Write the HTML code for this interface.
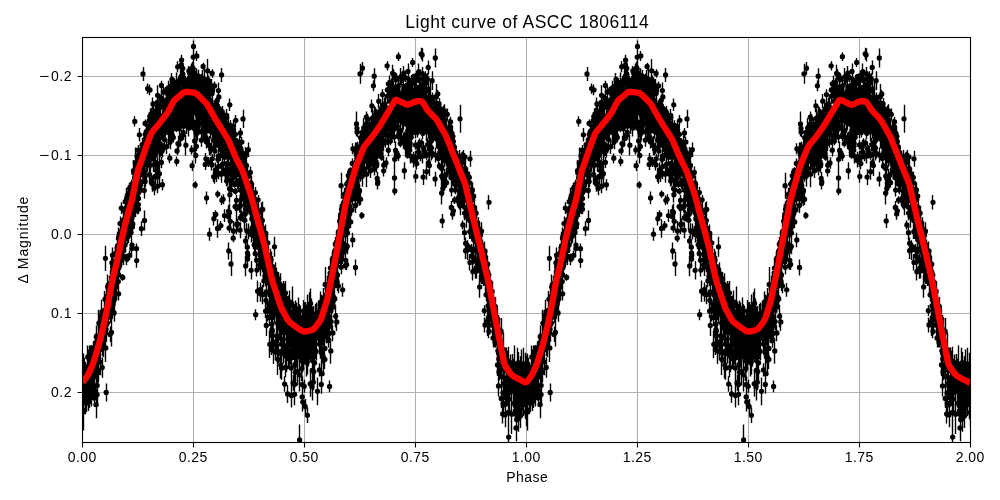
<!DOCTYPE html>
<html><head><meta charset="utf-8"><style>
html,body{margin:0;padding:0;background:#fff;}
body{width:1000px;height:500px;position:relative;overflow:hidden;font-family:"Liberation Sans",sans-serif;color:#000;}
div{will-change:transform;}
.xt{position:absolute;top:449px;width:80px;text-align:center;font-size:14px;line-height:16px;letter-spacing:0.5px;text-indent:0.5px;}
.yt{position:absolute;left:0;width:72px;text-align:right;font-size:14px;line-height:20px;letter-spacing:0.5px;}
.mn{display:inline-block;transform:scaleX(1.25);transform-origin:100% 50%;margin-left:2px;margin-right:1.5px;letter-spacing:0}
.title{position:absolute;left:326.5px;width:400px;top:11.5px;text-align:center;font-size:17.5px;line-height:20px;letter-spacing:0.55px;text-indent:0.55px;}
.xl{position:absolute;left:426.5px;width:200px;top:468px;text-align:center;font-size:14px;line-height:18px;letter-spacing:0.5px;text-indent:0.5px;}
.yl{position:absolute;left:-77px;top:231px;width:200px;text-align:center;font-size:14px;line-height:18px;transform:rotate(-90deg);letter-spacing:0.9px;text-indent:0.9px;}
</style></head><body>
<svg width="1000" height="500" viewBox="0 0 1000 500" style="position:absolute;left:0;top:0"><path d="M82.5 37.5V442.5M193.5 37.5V442.5M304.5 37.5V442.5M415.5 37.5V442.5M526.5 37.5V442.5M637.5 37.5V442.5M748.5 37.5V442.5M859.5 37.5V442.5M970.5 37.5V442.5M82.5 76.5H970.5M82.5 155.5H970.5M82.5 234.5H970.5M82.5 313.5H970.5M82.5 392.5H970.5" stroke="#b0b0b0" stroke-width="1.1" fill="none"/><clipPath id="c"><rect x="82.5" y="37.5" width="888.0" height="405.0"/></clipPath><g clip-path="url(#c)"><path d="M183.5 67.6v20.6M223.5 194.3v10M436.5 84v24.3M382.5 119.9v11.4M256.5 206.9v13.5M230.5 214.9v12.8M348.5 211.7v10.2M165.5 126.3v10.5M381.5 108v10.4M500.5 329.1v26.6M192.5 68.3v9.1M378.5 94.1v14.3M125.5 239.2v11.3M278.5 293.5v16.6M476.5 206v14.3M392.5 122.8v9.3M227.5 124.8v12.1M408.5 91v9.8M180.5 85.7v18.8M118.5 287.1v13.4M153.5 113.8v10.6M233.5 151.7v16.5M289.5 306.9v16.2M200.5 106v11.1M444.5 125.2v14.5M168.5 98.7v10.8M139.5 179.7v7.5M348.5 179.4v11M462.5 151.5v22.6M349.5 192.2v11.5M404.5 87.9v15.1M464.5 193.2v14.1M495.5 314.7v19.5M325.5 301.7v17.5M498.5 346.9v24.3M302.5 315.9v19.4M204.5 93.9v15.6M283.5 308.5v21.2M377.5 111.3v11.7M229.5 128.7v12.5M196.5 68.3v14.4M233.5 143.4v12.6M197.5 77.1v9.5M240.5 153.2v9.5M84.5 360.4v19.1M361.5 136.8v11.4M207.5 105.9v13.8M112.5 257.6v26.7M160.5 140.1v15.8M217.5 104.2v16.8M149.5 122.5v9.9M179.5 100.7v8.1M293.5 301.6v28M195.5 147.3v16.3M214.5 81.4v8.7M206.5 116.8v12.9M198.5 80.1v15.1M296.5 306.2v32.5M176.5 107.6v6.6M302.5 337.2v35.6M191.5 113.9v12.8M454.5 145.2v12.1M162.5 142.6v13.9M465.5 187.2v10.1M161.5 117.8v8M415.5 109.6v11.7M353.5 184.5v14.2M175.5 99.5v9.9M419.5 111.2v8.5M193.5 59.5v19M120.5 216.5v13.8M356.5 154.6v7.9M364.5 146.3v9.7M159.5 139.1v8.9M192.5 118v12.3M386.5 104.4v15.5M118.5 227.4v21.8M272.5 309.3v16.3M221.5 107.5v13.1M161.5 118.5v8M175.5 120.1v9.4M468.5 184.2v18.6M278.5 309.4v10.9M250.5 203.5v11.1M205.5 89.4v22.5M511.5 365.4v23.1M108.5 296.3v20.1M263.5 235.2v15.5M157.5 157.3v12.1M189.5 112.9v11.4M428.5 91.4v11.9M172.5 113.4v20.5M327.5 301.5v21.2M245.5 201.5v15.6M307.5 312v21.3M230.5 169.9v6.7M208.5 97.1v14.4M207.5 88.7v9M120.5 225.9v17.2M296.5 328.3v18.4M474.5 208.3v23.7M503.5 382.1v21.6M136.5 243.5v10.4M414.5 100v10.5M157.5 127.3v12.7M229.5 143.9v11.5M250.5 188.3v8.3M236.5 194.8v11.1M311.5 323v26.7M86.5 367.8v44.2M270.5 254.5v15.3M472.5 202.2v20M121.5 253.1v12.8M297.5 322.2v15.8M429.5 108.9v12.2M510.5 356.2v24.2M396.5 85.3v12M204.5 104.6v6.1M380.5 128.1v14.3M236.5 153.9v14.8M423.5 108.8v11.8M382.5 103.4v14.3M211.5 98v24M465.5 180.3v15.4M349.5 213.9v14.6M235.5 152.1v11M421.5 105.4v16.4M123.5 214.6v13.2M523.5 369.3v40.6M427.5 113.7v10.2M468.5 212.4v10.6M157.5 123.7v11.5M319.5 308.9v39.1M271.5 288.1v25.1M154.5 125.6v13M156.5 116.4v9.5M197.5 126v14.5M501.5 388.9v19.2M520.5 358.8v28.3M394.5 84.4v12.1M403.5 116.4v13.4M407.5 88v16.5M312.5 315.3v24.8M161.5 143v13M472.5 207v14M473.5 223.4v12.7M397.5 93v16M517.5 393.4v23.8M306.5 313.3v21.6M418.5 63.6v16.3M356.5 164.4v17.9M133.5 159.9v21.6M222.5 128.5v15.2M112.5 290.4v23.7M476.5 227.4v15.7M92.5 378.3v19.6M321.5 327.7v23.9M161.5 86.9v22.9M147.5 132.9v15.2M156.5 126.9v20.6M471.5 217.5v13.1M302.5 376.2v16.8M233.5 156.7v18.8M324.5 336.8v23.1M217.5 118.4v9.7M247.5 192.1v9M391.5 90.3v10.7M135.5 205.5v8.1M419.5 101.8v12.7M474.5 217.1v25M293.5 332.6v26.5M276.5 303.8v12.2M146.5 144.5v14.4M270.5 267.9v23.1M421.5 91.3v13M266.5 314.9v21.1M357.5 177.7v15.6M101.5 299.7v24.5M180.5 67.2v24.2M172.5 114.7v10.2M102.5 327.7v19.5M178.5 98.8v10.4M366.5 122.2v32.4M372.5 141v6.7M235.5 153.2v15M98.5 335.7v20.8M275.5 281.8v18.2M158.5 121.1v13.1M271.5 269.5v24.9M248.5 179.8v15.1M180.5 94.7v10M456.5 159.1v15.2M390.5 94.7v13.3M291.5 341.4v22.4M259.5 223.8v9.4M130.5 186v20.5M350.5 202.3v15.8M306.5 306.3v21.6M484.5 264.5v21.2M512.5 362.3v21.2M441.5 124.7v8.9M467.5 205.8v14M248.5 199.4v9.2M295.5 346.2v19.7M318.5 308.5v19.2M445.5 143.1v9.3M149.5 123.7v10.9M181.5 99.9v7.2M210.5 114.2v17.6M456.5 153v7.6M371.5 121.6v12.4M511.5 360.2v32M367.5 127.8v16.9M449.5 136.7v7.3M382.5 100.1v14M166.5 139.3v14.7M177.5 100.2v11.5M465.5 187.2v15.7M230.5 140.6v14.9M387.5 87v6M286.5 308.1v19.9M87.5 364.8v37.1M447.5 130.4v22.1M220.5 124.7v11.4M232.5 128v10M114.5 274.5v18.1M359.5 147.8v18.1M428.5 115.5v13.2M294.5 308.1v42.1M425.5 104.1v9.2M322.5 323.9v17.8M415.5 126.4v11.9M245.5 161.6v12.2M471.5 180.8v17M285.5 300.7v22.3M133.5 180.8v8.1M516.5 360.9v30.1M284.5 319.3v14.6M416.5 121.3v10.4M117.5 241.8v12.3M441.5 126.6v11.6M149.5 84.5v10.8M137.5 165.7v15.3M205.5 114.2v11.8M271.5 259.1v19.5M297.5 323.9v36.9M272.5 271.4v25.8M97.5 362.4v16.1M347.5 181.9v14.9M411.5 96.1v19.6M328.5 335.4v10M496.5 319.5v22.3M176.5 156.6v9.6M157.5 167.7v18.1M413.5 114.7v13.8M198.5 79.3v18.3M132.5 207.6v17.3M386.5 157.2v11.6M507.5 356.3v17.4M228.5 127.7v6.9M167.5 89.6v9.4M143.5 138.9v19.6M501.5 347v21.6M155.5 124.2v19.6M438.5 132.5v9.2M176.5 88.4v9.2M465.5 237.4v11.8M107.5 274.6v24.3M251.5 192.5v12.2M260.5 230v19.8M515.5 377.4v17.2M481.5 245.2v17M253.5 203.2v21M271.5 254.9v31.6M400.5 106.7v26.1M366.5 153.8v14.9M479.5 226.3v13.2M387.5 126.2v18.7M311.5 323.4v12.9M482.5 239.7v18.6M229.5 181.6v14M245.5 236v9.9M238.5 156.9v10.1M299.5 337.2v15.6M283.5 308.2v19.8M223.5 123.9v19.3M190.5 83.2v24.7M192.5 96.7v17.5M436.5 124.6v11.7M253.5 200.4v12.9M517.5 347.7v47.9M265.5 253.9v27.5M392.5 102.4v10.6M218.5 134.3v11.4M449.5 164.4v14.1M177.5 119.5v6M204.5 105.7v7.8M212.5 116v10.1M139.5 156.1v12.9M415.5 170.2v12.5M274.5 264.8v18.3M138.5 166.6v15.7M320.5 308.7v22.8M299.5 335.2v32.6M306.5 348.8v27.8M398.5 128.3v11.9M112.5 275.4v22.8M300.5 320v16.8M105.5 245.7v25.2M375.5 113.7v8.3M157.5 85.2v20.2M160.5 100.7v12.7M247.5 177.6v24.1M407.5 131.7v16.2M136.5 159.1v12.4M427.5 120.9v12.4M272.5 291.4v19.1M438.5 128.5v19.6M159.5 146.6v9.6M483.5 255.1v20.7M405.5 89.1v20.5M103.5 308.7v38.8M295.5 359.6v25.4M111.5 295.5v18.4M403.5 103.1v8.4M243.5 186.5v18.6M426.5 90.7v15.9M474.5 229.7v6.1M160.5 94.6v7.8M442.5 141.9v13.9M253.5 217.3v12M252.5 219.5v17.8M373.5 123.2v13.8M515.5 391.5v26M385.5 115.3v11.3M180.5 107.3v18.1M131.5 199.2v19.7M213.5 122.4v11.4M111.5 290.5v28.6M502.5 343.3v25.6M149.5 112.1v9M230.5 184.2v11.4M319.5 363.3v13.2M390.5 105.6v13.9M210.5 124v14.6M378.5 109.3v13.5M154.5 141.7v7.5M236.5 163.3v10.1M485.5 275.2v8.7M406.5 135.2v10.5M287.5 306.3v25.5M285.5 357.7v19.5M412.5 76.9v13M259.5 215.4v14.7M274.5 271.9v12.9M334.5 245.7v13.9M331.5 303.4v13.7M286.5 319.3v23.1M149.5 132.7v14.5M410.5 99.2v8.4M154.5 134.6v9.1M441.5 159.6v14.3M336.5 313.1v17.9M498.5 326.6v18.6M267.5 260.1v25.1M374.5 153.9v9.6M115.5 268.9v19.8M217.5 94.4v12.1M154.5 117v16.9M379.5 138.2v11M136.5 176.3v18.4M303.5 320.1v26.1M194.5 98.2v6M157.5 108.9v9.8M443.5 121.4v14.6M190.5 97.8v9.9M117.5 248.7v22.5M176.5 116.4v12.2M399.5 98.7v7.1M357.5 175.3v14.5M460.5 184.2v15.6M218.5 82.5v16.2M464.5 185.5v16.4M194.5 133.4v15.4M461.5 177.2v16.4M146.5 151v10.8M494.5 307.1v32.4M333.5 250.7v19.3M285.5 298.7v12.4M261.5 230.8v8.5M250.5 180.7v18.9M152.5 146.7v14.5M362.5 135.5v15.1M240.5 128.1v9.8M473.5 219.2v16.1M137.5 171.7v14.1M290.5 351.4v12.3M342.5 229.9v12.3M406.5 83.3v10.6M373.5 139.6v6M271.5 318.9v11M407.5 79.4v11.1M397.5 94.5v14M251.5 204.9v13.2M272.5 265.6v15.6M239.5 152.3v12.1M427.5 137.8v13.6M145.5 153v10.2M444.5 104.3v13.4M343.5 212.1v17.2M247.5 179.8v14.5M512.5 358.6v34.5M127.5 221.9v14M300.5 316.6v23.3M491.5 309.5v12.2M215.5 118.9v9.8M286.5 328.6v43.7M205.5 111.7v8M336.5 248.6v8.9M320.5 322.6v19.4M457.5 174.1v13.3M188.5 119.4v17.2M418.5 140.1v13.8M511.5 365.5v28.1M463.5 181v9.8M91.5 345.1v38.9M259.5 232.1v22.5M195.5 99.2v17.4M299.5 306.5v20.9M339.5 211.9v18.4M113.5 297.3v14M414.5 90.5v10.2M171.5 122.6v14.5M287.5 310.5v23.7M364.5 143.2v10M487.5 270.1v15.4M234.5 153.8v16.4M377.5 174.2v15.3M98.5 362.5v20.1M110.5 282.3v19.4M271.5 343.9v11.1M344.5 204.6v15.5M208.5 81.3v11.5M412.5 77.1v12.8M224.5 128.2v12.7M202.5 97.4v18.6M391.5 109.7v14M397.5 97.9v11.7M141.5 221.2v14.8M125.5 215.9v14.7M451.5 141v9.4M205.5 158.8v11.3M484.5 246.9v8.3M336.5 264.5v17.9M349.5 203.2v12.8M84.5 365.2v29.4M333.5 292.3v12.4M469.5 177.2v11.6M523.5 365.4v22.9M251.5 179.6v10.6M157.5 110.5v7M483.5 265.5v15.6M266.5 237.8v11.7M283.5 295.9v30.4M290.5 344.3v20.1M325.5 294.5v19.8M109.5 290.9v22.9M89.5 389.8v18.2M423.5 169.2v15.8M363.5 145.8v11.5M257.5 206.9v22.5M373.5 148.4v15.2M398.5 105.5v17.4M211.5 142.4v11.4M256.5 254.8v11M192.5 84.7v12.7M345.5 223.3v10.8M410.5 116.8v12.5M352.5 192.4v12.8M195.5 95.5v11.3M367.5 113.7v10.5M265.5 266.3v20M280.5 307.1v35.6M428.5 158.6v8.3M480.5 243.9v12M211.5 159.4v11.1M243.5 170v28.5M300.5 316.5v17.4M259.5 217.5v25.9M246.5 159.5v11.7M413.5 113.9v11.5M372.5 117.4v12M224.5 125.8v8.6M364.5 143.6v15.6M385.5 136.2v11.6M277.5 284.8v12.4M198.5 78.6v15.3M465.5 242.5v16.5M85.5 362v25.2M401.5 92.7v16.2M441.5 168.6v14.9M176.5 103.4v9.2M335.5 249.4v30.5M216.5 168.6v12.4M355.5 179.4v12.4M266.5 278.4v27M278.5 298.8v22.2M416.5 -9.5v10.5M324.5 315.6v24.8M205.5 90.5v8.3M411.5 101.2v19.4M330.5 293.2v9.9M219.5 114.7v13.6M347.5 203.1v9.6M412.5 85.7v11.9M110.5 284.4v15M155.5 159.9v9.9M239.5 144.8v14.7M193.5 49.2v15.7M104.5 319.3v21.9M489.5 270.9v21.8M409.5 103.5v10.8M268.5 261.3v16.9M149.5 123.7v17.9M410.5 108.3v8.9M334.5 285.6v23.6M221.5 195.6v9.4M106.5 308.8v19.2M419.5 138.3v11.7M176.5 81.9v8.8M201.5 133.7v13M185.5 82.6v12M333.5 253.4v24.8M211.5 119.7v13.6M130.5 204.8v18.9M469.5 254.3v16.2M159.5 126.2v23.2M178.5 115.9v13M411.5 83.7v10.5M331.5 285.4v12.4M155.5 107.4v10M219.5 113.5v12.7M377.5 119v12.3M214.5 100.3v22.5M310.5 318.7v22.1M331.5 272.9v18.7M500.5 337.6v36.4M358.5 149.5v18.1M209.5 111v16.2M133.5 189.8v9M348.5 220.2v11.9M327.5 306.7v16.7M417.5 147.8v18.3M83.5 353.4v42.2M149.5 148.2v11.6M337.5 246.6v21.2M394.5 116.6v17.7M479.5 232.4v16.1M423.5 118.4v12.5M353.5 164.7v18.5M232.5 150.1v14.3M189.5 94.9v9.3M201.5 94.7v12.7M361.5 148.5v13.4M135.5 204.2v12.7M263.5 245.2v14.3M235.5 128.2v12.3M135.5 185.5v10M450.5 116.8v9.9M452.5 208.4v11.4M194.5 103.2v8.2M122.5 242.6v11.3M360.5 166.2v9.8M173.5 93v15.7M341.5 249v11.9M255.5 218v23.8M464.5 180.9v10.6M220.5 220.9v9.5M118.5 228.2v17M244.5 168.8v14.9M483.5 254.2v18M147.5 151.2v14.3M416.5 157.7v11.8M282.5 297.3v22M333.5 248.9v17.7M479.5 223.5v11.5M482.5 244.1v10.1M276.5 288.4v12.9M208.5 115.8v9.8M181.5 107.4v14.5M356.5 164.5v11.4M344.5 205.9v24.7M313.5 306v21.3M218.5 124.3v9.3M274.5 277.7v13.5M325.5 292.1v17.8M94.5 356.1v29.5M111.5 277.6v16.7M99.5 329.8v23.8M454.5 162.8v10.4M357.5 143.9v8.4M221.5 135.5v6M472.5 248.4v15M126.5 213.3v12.9M169.5 101.8v15.6M228.5 137.2v15.7M241.5 158.9v10.6M324.5 294.1v22.5M116.5 247.3v16.1M199.5 97.5v8.8M307.5 320.8v18.8M419.5 109.4v12.1M361.5 162.2v17.2M524.5 364.3v20.7M225.5 165.6v9.1M357.5 187.3v10M508.5 373.2v38M281.5 301.2v19.2M154.5 137.4v11.1M184.5 81.1v9.7M137.5 180.9v11.1M293.5 309.4v18.1M513.5 358.8v17.3M472.5 182.2v15.4M347.5 186.2v21.9M498.5 375.2v21.3M118.5 274.7v13.8M373.5 118.1v14.5M343.5 207v14.7M369.5 132v17.2M197.5 80.7v11.2M407.5 119.3v23.1M319.5 333.6v20.9M511.5 363.3v38M315.5 322.9v19.3M461.5 176.4v12.9M156.5 129.9v13.4M425.5 91.9v10.1M410.5 98.5v20.2M372.5 132.3v6.8M178.5 92.4v14.6M119.5 243.6v11.7M244.5 160.6v14.4M107.5 305.3v17.2M289.5 290.4v22.9M409.5 124v14.1M305.5 334v17.8M186.5 91.1v12.9M362.5 149.7v7M410.5 100.6v10.5M195.5 119.9v17.6M228.5 118.1v18.8M174.5 106.9v17.4M283.5 322.2v20.2M267.5 254.8v21.6M120.5 217.6v12.1M198.5 104.9v12M113.5 265.5v14.8M213.5 134.9v10.6M251.5 191.8v10.7M451.5 134.1v17.2M494.5 307.4v29M402.5 95.4v8.6M481.5 222.2v18M446.5 137.7v14.9M106.5 316.7v25.1M483.5 253.9v16.1M341.5 215.9v15.6M157.5 124.5v15.1M505.5 394.8v19.1M155.5 147.6v14.6M169.5 110.7v8.4M351.5 187.6v13.8M410.5 99.7v18M281.5 356.7v23M285.5 286.8v22.1M295.5 314.6v16.1M283.5 298.7v24.4M90.5 352.1v39.7M338.5 233.7v22.9M395.5 89.6v11.9M376.5 156.2v16M328.5 298.4v17M239.5 135.2v14.6M416.5 85.7v8.5M163.5 98.2v7.8M346.5 243v10.1M410.5 95.3v12M335.5 237.1v14.1M455.5 149.2v18.9M146.5 125.7v12.5M444.5 125.9v17.4M459.5 171.5v16.3M251.5 177.7v16.1M150.5 130.9v17.5M347.5 238.2v16.1M197.5 80.9v10.9M393.5 117.2v9.1M222.5 119v9.1M401.5 107.3v10.5M255.5 203.9v18.7M293.5 306.3v31.2M259.5 238.4v9.1M105.5 317.4v15.8M155.5 156.3v12.5M212.5 69.2v8.5M422.5 148.4v15.2M82.5 386.4v22.9M419.5 102.5v10.7M300.5 323.5v15.4M379.5 118.6v10.1M231.5 174.4v16M217.5 138.9v6.5M506.5 358v45.3M479.5 250.4v16.3M366.5 126.7v10.3M237.5 149.6v14.8M126.5 215.6v9.7M111.5 254.1v17.3M204.5 110.4v12.6M408.5 82.7v16.3M197.5 103.9v10.1M197.5 89.9v10.6M316.5 318.5v22.6M424.5 80.5v10.3M518.5 369.2v45.8M335.5 239.5v20.8M369.5 118.3v12M230.5 122.1v12.4M148.5 125.6v16.6M361.5 153.2v14.9M150.5 137.2v14.9M379.5 107.6v17.1M106.5 283.1v27M387.5 107.2v7.2M170.5 89.7v6M373.5 114v14.5M455.5 144.4v17.1M236.5 165.5v12.2M140.5 159.8v11.7M202.5 97.7v12.6M237.5 180.1v8.7M513.5 371.1v35.4M244.5 172v9.2M389.5 75.5v17.8M202.5 106.2v11.5M192.5 92.2v9.4M256.5 263.5v13.1M355.5 197.2v15.8M344.5 201.6v14.3M260.5 233.3v16.5M163.5 86.5v11.3M452.5 144.1v11M330.5 257.7v20.8M346.5 205.1v7.1M406.5 88v17.5M176.5 82.2v7.5M504.5 360.1v20.7M433.5 118.6v9.9M435.5 116.3v9.9M414.5 74.1v15.7M173.5 123.8v9.5M371.5 137.1v10.5M190.5 96.5v27.5M317.5 311.5v28M478.5 246.3v12.2M319.5 327.5v20M111.5 280v19.2M413.5 153.3v14.1M429.5 100.7v9.5M377.5 178.7v9.5M116.5 274.5v25.2M209.5 117.8v12.5M263.5 274.4v12.8M365.5 134.6v15.4M446.5 149.6v13.3M251.5 181.1v22.1M247.5 249.7v11.1M169.5 114.8v23.9M105.5 305.1v19.1M389.5 115.5v21.9M276.5 294.1v15.6M338.5 247v9.9M393.5 68.9v10.9M260.5 256v20M459.5 175v18M295.5 342.9v20.2M321.5 316.5v20.6M444.5 120v20.2M215.5 138.8v13.1M407.5 151.7v7M202.5 102.2v17.3M420.5 91.1v11.2M354.5 159.9v11.2M507.5 376.3v20.9M292.5 321.8v22.3M405.5 73.2v8.8M111.5 299.7v12M400.5 114.9v11.6M322.5 298v11.3M184.5 86.2v9.8M438.5 121.4v14.4M170.5 104.2v11.4M368.5 160.5v13.3M121.5 230.2v18.5M334.5 254.6v9.1M133.5 176.2v26.4M487.5 273.6v15.3M182.5 78.5v10.5M337.5 231.9v19.7M280.5 288.5v23.4M251.5 213.7v10.4M346.5 220.4v10.3M322.5 295.4v14.8M509.5 365.4v23M124.5 231.3v16.1M133.5 188.7v9.3M251.5 199.7v10.4M276.5 279.6v34.3M444.5 137.6v7.9M159.5 119.7v13.6M92.5 350.8v17.5M393.5 95.8v9.9M280.5 298.3v12.7M495.5 297.1v19.2M102.5 326.2v29.7M294.5 304v25.6M242.5 212v9.9M269.5 285.9v18M176.5 124.8v7.5M464.5 206.6v13M153.5 151.1v14.9M142.5 147.3v10M349.5 191.4v15.1M109.5 279.6v17.2M236.5 161.7v12.3M385.5 105.7v11.2M400.5 139.7v7.6M374.5 118.7v22.6M144.5 167.9v19.1M91.5 368.8v20.6M370.5 149.4v9.9M251.5 175.5v15.1M327.5 298.9v25.4M139.5 157.5v12.5M145.5 130.6v7.7M155.5 126.9v13.3M398.5 110.5v12M173.5 101v11.5M176.5 101.5v18.5M445.5 127.4v12.5M248.5 223.4v16.1M442.5 130.1v14.2M338.5 230.6v19.3M241.5 178.1v11.4M291.5 350.3v35.7M261.5 202.5v14.4M324.5 309.5v22.3M478.5 217.3v23M357.5 170.6v14M340.5 214.7v12.7M362.5 159.8v18.7M89.5 345.5v24.6M184.5 112v13.1M516.5 414.5v26.7M411.5 96.8v11.8M329.5 307.3v19.2M468.5 209.5v13.2M289.5 310.9v21.7M484.5 317.5v15.1M377.5 121.4v22.9M296.5 314.3v31.8M398.5 151.1v10M288.5 313.3v16.1M388.5 107.8v17.8M103.5 315.1v30M340.5 226.3v10.2M217.5 219.2v18.5M422.5 103.4v12.4M212.5 154.1v9.3M349.5 185.1v12.9M303.5 317.5v26.1M525.5 359.2v32.2M469.5 199.1v34.3M121.5 235.4v17.9M487.5 297.4v17M422.5 96.3v19.3M131.5 236.3v17.9M414.5 97.5v12.9M490.5 284.6v19.8M215.5 210.2v8.3M150.5 126.1v14.2M246.5 167.7v9.7M301.5 349v23.3M274.5 293.8v20.1M166.5 94.8v10.2M518.5 405.9v25.9M160.5 127.9v14.4M215.5 128.7v11M192.5 98.3v9.7M109.5 288.2v13.2M261.5 230.4v15.3M188.5 76.3v17.6M230.5 164.7v12.8M130.5 203.7v12.8M466.5 188.9v11.3M431.5 136.5v8.1M89.5 362.7v36.2M96.5 344v20.2M378.5 116v10.5M202.5 116.6v10.7M240.5 166.1v11M297.5 316.8v21.2M502.5 342.7v21M135.5 182.7v12.8M241.5 189.5v13.7M421.5 98v18.6M344.5 209.7v11.8M244.5 210.3v20M309.5 317.2v18.7M237.5 146.9v10.5M390.5 86.8v19M90.5 354.4v28.4M298.5 308.1v19.4M159.5 127.7v10.1M166.5 120.3v11M216.5 103.8v7.5M178.5 95.3v17.4M132.5 184.4v10.9M208.5 112.9v16.3M421.5 112.6v10.3M341.5 201.2v16.4M425.5 71.2v10.4M454.5 196.3v7.8M400.5 102.6v11.7M173.5 132.3v10.2M214.5 169.6v14.2M415.5 95.2v11.3M356.5 111.6v24.6M362.5 172.7v6.1M468.5 209.5v10.7M188.5 90.3v9.3M202.5 92.6v7.7M373.5 135.8v8.3M459.5 199v10.5M87.5 351.4v35M487.5 267.1v29.6M201.5 73.8v16.8M226.5 132.2v10.3M367.5 118.9v16.1M111.5 274.3v22.1M290.5 314.3v25M442.5 128.3v19.6M302.5 392.5v19.1M349.5 168.8v14.7M399.5 83v21.2M361.5 139v19.6M477.5 252.4v12.7M191.5 93.8v18.5M272.5 295.7v23.8M457.5 169.3v15.4M237.5 157.8v10.8M276.5 294.1v16.1M351.5 190.6v10.9M238.5 168.6v8.2M206.5 92v19.2M313.5 321.4v23.1M161.5 121.8v11.5M258.5 195v9.7M177.5 146.7v8.4M137.5 185.6v18.1M513.5 373.7v20.8M448.5 129.8v13.7M508.5 362.8v15.8M267.5 233.1v19.8M198.5 69.8v15.2M482.5 256.5v14.6M195.5 75.1v8.7M273.5 270.8v27M358.5 158.9v16.9M176.5 78.1v15M298.5 315v20.1M433.5 106.4v12.8M348.5 206.4v17.5M230.5 133.7v9.2M146.5 132.2v11.6M281.5 320.1v14M289.5 325.4v18.4M205.5 123v9.5M255.5 232.5v16.7M251.5 261.1v18.3M131.5 190.6v10.2M436.5 121.8v26.5M351.5 186.9v14M196.5 114.5v14.5M329.5 326.4v13.9M245.5 158.1v16.2M176.5 91v10.2M206.5 80.1v10.4M339.5 233.6v12.7M215.5 162.4v15.2M366.5 139.8v18.2M464.5 162.2v15.3M410.5 99v16.3M475.5 215.2v13.5M474.5 201.9v11M416.5 104.8v11.5M298.5 344.4v14.8M179.5 91.3v11.8M253.5 190v16.4M134.5 168v19.7M134.5 195.8v13.5M214.5 116.8v10.3M234.5 181v6.8M144.5 155.5v13.7M358.5 193.4v10.2M96.5 390.7v27.6M457.5 151.1v16.2M131.5 226.8v11.5M300.5 314.9v28.6M434.5 117.1v19.9M295.5 316.7v22.4M204.5 127.1v12.8M436.5 117.7v11.2M171.5 119.6v9.5M511.5 361.8v16.2M370.5 135.2v15.2M93.5 353v21.9M508.5 366.4v29.4M465.5 174.3v19.2M172.5 85.6v9.8M517.5 364.3v32.6M269.5 261.9v13.5M311.5 298.4v21.6M262.5 285v19.2M247.5 199.5v14.8M412.5 117.1v9.1M424.5 145.3v13.3M446.5 167.4v14.6M424.5 110.2v6M147.5 127.9v8.1M105.5 318.4v14M216.5 169.9v6M229.5 129.8v12.3M254.5 209.9v7.1M335.5 251.9v6M204.5 89.4v7.1M250.5 192v22.4M178.5 77.9v13.4M259.5 218.3v15.7M281.5 318.2v28.9M326.5 296.6v14.3M165.5 117.3v16.3M499.5 324.4v18.9M140.5 152.1v10M437.5 110.8v13.9M190.5 87.7v13.5M228.5 205.3v12.1M477.5 228.8v14M287.5 307.5v27.6M494.5 312.7v15.7M88.5 371.8v38.7M327.5 280.7v26.4M306.5 335.4v23.1M418.5 147v10M145.5 130.6v14.3M180.5 103.9v12.4M455.5 166.9v14.1M416.5 101v8M343.5 197.9v15.5M169.5 86.4v24.9M311.5 328.6v21.2M274.5 295.2v13.9M500.5 327.6v36.1M429.5 87.2v23.1M115.5 263.4v18.4M150.5 133.3v12.3M475.5 233.1v13.8M373.5 127.3v22.9M291.5 328.2v31.7M116.5 272.7v9M185.5 135.1v20.3M441.5 113.3v14.5M344.5 190.5v13.7M248.5 142.6v14.3M83.5 360.9v30.6M290.5 312.7v21.7M143.5 164.6v14.3M152.5 110.5v11.1M177.5 61.3v11M172.5 76.8v11.1M269.5 256v18.1M333.5 278.2v10.8M449.5 149.1v16M95.5 341.5v15.8M109.5 281v25.8M269.5 295.3v17.4M423.5 106.9v13.1M195.5 88.4v8.2M521.5 364.2v26.2M372.5 124.3v14.5M112.5 247.6v15M485.5 258.5v7.5M283.5 313.7v35.3M439.5 139.5v10.4M403.5 91.8v15M210.5 114.7v11.7M301.5 333.4v30.8M100.5 330.8v21.6M232.5 130.7v14.1M408.5 90v13M421.5 99.3v7M269.5 330.6v27.4M507.5 388.2v16.2M333.5 253.8v23.4M351.5 172v16.7M186.5 102.2v11.7M180.5 133.3v10.5M325.5 297.6v17.5M324.5 308.2v19.5M363.5 138.2v24.3M127.5 212.2v17.9M207.5 114.7v10.9M196.5 101v11.3M299.5 313.9v15.5M343.5 212.7v22.2M273.5 336.5v17.3M476.5 230.5v14.6M265.5 229.6v14M320.5 291.6v22M136.5 177v12.9M304.5 317.6v18.5M505.5 402.3v24.9M478.5 235v22.1M88.5 384.5v26.6M330.5 275.2v20.6M445.5 115v11M185.5 92.9v12.3M111.5 300.7v19.1M477.5 224.1v15.3M299.5 424.6v30.8M198.5 103.3v9M198.5 101.3v11.2M252.5 184.1v17.3M180.5 75.2v12.1M192.5 86.2v10.6M351.5 177.3v22.3M492.5 295.6v14.3M369.5 133.3v17.7M320.5 301.9v18.6M153.5 157.7v14.2M462.5 175.3v13.1M463.5 193.1v8.4M469.5 224.2v14.7M160.5 115v8.2M94.5 389v18.1M294.5 383.4v21.9M283.5 301.9v15.1M400.5 124.1v12.9M466.5 184.8v13.5M301.5 315.2v18.6M426.5 110.7v15.2M176.5 112.4v14M192.5 77.8v8.9M255.5 201.1v8.5M465.5 176.8v10.9M159.5 140.6v20.9M453.5 134.4v14.2M152.5 97.6v12.7M152.5 117.4v13.3M243.5 150.8v12.1M294.5 318.1v16.2M463.5 177.9v10.6M344.5 213.8v10.4M211.5 109v9.9M150.5 126.4v12.2M336.5 270.1v16.1M424.5 95.9v15.8M278.5 271.9v14.2M182.5 67.6v13.1M216.5 100.4v18.7M282.5 307.4v19.5M470.5 201.2v27.4M486.5 249.7v27.8M129.5 221v14.6M114.5 262v26.2M209.5 135.9v19.2M315.5 304v26.4M507.5 356v22.9M422.5 67.1v13.9M220.5 149.6v11.4M91.5 385.1v18.6M370.5 138.2v16M409.5 143.4v13.4M466.5 177.6v6M464.5 185.3v12M408.5 110.9v12.9M327.5 285.2v18.1M251.5 210.1v17.4M228.5 158.8v12.1M432.5 92.6v10.2M348.5 185.9v9.4M422.5 124.3v14.8M187.5 103.9v14.7M135.5 147.5v30.8M86.5 364.6v16.7M116.5 265.8v17.8M243.5 180.4v13.2M493.5 307.9v23.1M226.5 114.3v19.1M96.5 358.5v23M283.5 330.1v18.3M366.5 127.8v19M126.5 187.7v20.8M313.5 374.2v16.1M210.5 143v12.5M191.5 84.3v15.4M94.5 378.3v23.6M297.5 310.4v28.8M102.5 326.8v21.2M121.5 238.3v23.8M347.5 204v10.7M361.5 145.8v6.9M465.5 177.2v15.7M301.5 356.7v24.3M448.5 159.9v8.5M162.5 144.6v12.9M322.5 299.7v17.5M493.5 300.5v23.6M111.5 276.1v15.4M432.5 114.3v16.2M153.5 120.2v15.9M320.5 328.1v30.6M470.5 211.5v13.4M230.5 132.5v12M183.5 87.2v11.4M221.5 143v12.2M183.5 88.7v14.4M312.5 319.7v29.6M129.5 182.7v11.4M161.5 115.8v13.1M428.5 97.9v16.7M180.5 72.4v11.5M380.5 134.3v11.6M281.5 334.5v19.6M131.5 217.6v10M179.5 95.2v10.3M424.5 89.3v7.9M480.5 246v19.6M387.5 120.1v17M303.5 324.9v16.4M514.5 389.6v27M168.5 80.7v14.3M118.5 254.5v21.8M177.5 90.6v11.6M298.5 337.9v15.8M412.5 96.8v15M303.5 320.5v20.7M440.5 130.9v12.1M392.5 94.2v9.5M122.5 226.8v17.4M449.5 149.5v13.7M232.5 138.4v17.6M325.5 267v34.7M236.5 143.4v13.5M195.5 70.9v11.6M264.5 226.1v18.5M407.5 88.7v11.7M372.5 131v10.2M444.5 169v18.3M168.5 96.1v14.2M258.5 219.6v15.8M92.5 373.8v14.8M292.5 328.5v24.6M203.5 92.6v19.9M319.5 326.6v22.8M393.5 105.6v13.4M497.5 319.5v19.2M98.5 334.3v27.9M340.5 211v12.9M510.5 370.5v19.4M236.5 201.2v10.6M487.5 265.1v14.5M231.5 141.6v15.5M409.5 141.8v8.7M264.5 230.7v17.2M364.5 144.8v20.8M379.5 139.7v7.4M146.5 125.1v13.8M163.5 122v16.5M311.5 342.1v19.6M153.5 125.7v11.5M450.5 119.2v15.2M368.5 142.1v16.5M118.5 249.3v14.9M437.5 130.7v12.6M464.5 177.7v16.2M85.5 372.2v16.3M125.5 205.3v15.4M149.5 147.2v11.6M121.5 237v17.4M370.5 137.5v11.6M509.5 359.3v30.8M405.5 103.3v11.3M110.5 287.2v13.4M480.5 237.3v22.2M234.5 124.2v19.8M288.5 299.5v31.4M401.5 89.9v13.5M343.5 216.1v14.7M169.5 114.6v13.2M183.5 78.7v11.3M142.5 143.1v13M194.5 79.2v8.8M312.5 318.4v28M132.5 194.4v11.1M472.5 216.6v11.3M442.5 114.1v14.5M422.5 118.8v6.3M331.5 301.4v10.8M390.5 89.6v9.5M207.5 135.2v8.7M489.5 288.3v21.5M458.5 170.9v14.9M367.5 137.9v11.3M168.5 102.9v18M340.5 252.7v15.2M243.5 165.9v11.3M171.5 105.5v8.7M294.5 344.7v39.9M360.5 155v8.5M252.5 225.9v7M170.5 136.7v11.1M218.5 126.8v9M336.5 238.1v28.4M361.5 143.7v17M230.5 136.2v18.7M455.5 167.2v18M270.5 270.6v12.3M330.5 338.3v25.4M439.5 98v11.5M475.5 222.4v15.3M292.5 286.4v38.7M417.5 104.6v8.5M154.5 113.5v16.2M340.5 219.2v19.5M479.5 276.2v21.5M352.5 166.4v27.1M272.5 320.4v21.1M451.5 183.7v12.8M196.5 98.1v13.6M392.5 113.9v11M437.5 106.7v8.4M188.5 66.1v9.9M412.5 94.7v16.6M229.5 164.5v8.6M198.5 70.1v13.1M220.5 129.4v8.3M307.5 315v22M476.5 264v14.5M230.5 126.7v14.2M426.5 163.6v16.1M335.5 260.7v18.8M385.5 107.4v9.8M510.5 357.3v35.4M139.5 128.1v13.4M299.5 317.9v27.1M226.5 130.4v12.1M310.5 370.8v26M233.5 234.3v8M473.5 190.5v11.5M138.5 204.5v9.4M315.5 318.9v16.5M379.5 123.2v9.5M451.5 126.2v14.1M412.5 105.4v9.9M340.5 233.6v14M291.5 317.2v18.8M431.5 138.5v18.9M225.5 140.9v14.3M161.5 80.7v9.6M123.5 247.5v17.6M394.5 100.7v13.3M201.5 126.8v10M487.5 262.7v17M150.5 137.1v10M306.5 333v22M438.5 125.3v8.7M398.5 88.8v12.1M92.5 354.8v41.2M418.5 96.1v13.4M505.5 386.6v15.1M185.5 83.7v12.6M451.5 166v11.4M335.5 260.8v14.3M185.5 96.1v10.6M516.5 370.9v33M489.5 315.2v19.5M436.5 124.7v7.5M83.5 376.9v22M378.5 124.9v20.8M280.5 298.6v25.6M200.5 78.5v6.7M460.5 168.9v13.6M157.5 119.4v19.1M137.5 198.9v12.1M349.5 170v18.8M363.5 158.3v20.1M428.5 114.4v22.2M211.5 79v17.2M375.5 133.9v14.9M408.5 115.9v17.7M510.5 354.4v31.9M417.5 106.8v8M211.5 118.6v12.6M278.5 306.9v17.6M198.5 83v10.1M250.5 185v14.6M151.5 173.1v13.4M393.5 96.3v13.2M152.5 113.2v10.6M428.5 101v13.9M266.5 262.7v18M280.5 285.5v10.9M508.5 367.9v23.3M394.5 109.5v12.5M103.5 311.1v35.1M345.5 201.3v8.4M435.5 125.3v13.3M312.5 347.3v19.4M328.5 333.3v14.4M424.5 97.6v17.1M430.5 82v30.9M227.5 135.9v10.8M173.5 103.2v17.1M332.5 324.7v16.6M216.5 165.8v16.1M442.5 170.9v14M429.5 148.9v10.9M509.5 366.2v26.2M123.5 216.3v10.1M402.5 87.8v14.8M226.5 124.4v9.5M477.5 226.7v13.5M99.5 329.3v31.6M245.5 170.5v7.3M262.5 228.8v14.3M397.5 119.7v13.3M157.5 139.1v17.2M417.5 114.8v12M121.5 202.2v11.9M323.5 294.1v24.8M347.5 184.1v9.6M373.5 123.9v12.9M409.5 98.3v10.6M219.5 110.1v8.9M267.5 259.3v13M338.5 247v12.8M245.5 162.7v11.5M221.5 133.1v13.7M518.5 352.4v23M83.5 375.1v23M205.5 125.2v12.8M150.5 149.6v9.2M268.5 246v18.9M472.5 203.7v8M362.5 62v12.4M497.5 336.6v13.6M123.5 230.5v14.7M519.5 381.1v32.7M453.5 205.9v9.7M475.5 221.7v18M283.5 281.1v21.1M404.5 89.4v15.9M126.5 208.7v9.4M522.5 371.6v24.9M147.5 136v15.7M295.5 352v10.9M284.5 334.6v23.7M144.5 152v13.4M148.5 153.7v8.4M277.5 290.8v15.7M228.5 242.4v17.2M321.5 324.9v23.1M337.5 247.4v15.9M407.5 108.5v15.7M356.5 146.2v15M288.5 324.3v21.7M330.5 274.7v19.8M382.5 122.7v16.2M197.5 106.7v6M408.5 90.7v13.5M382.5 105.6v12.9M371.5 122.9v20.7M201.5 79.1v14.9M218.5 169.2v9.4M379.5 139.2v10.4M106.5 301.8v19.4M229.5 131.3v13.7M252.5 198v14.2M138.5 172v7.8M363.5 146.1v12.3M520.5 363.8v18.4M492.5 294.5v24.5M112.5 276v15.9M319.5 317.8v19.2M233.5 163v8.6M369.5 159.5v11.2M439.5 128.5v9.2M95.5 353.8v20.9M332.5 262.7v17.7M186.5 85.3v15.6M255.5 235.5v11.6M296.5 308.4v14.7M378.5 112.1v18.9M256.5 234.1v8.9M449.5 143.7v13.1M242.5 170.3v10.8M192.5 95.2v14.6M299.5 324.6v18.6M513.5 362.9v23.3M155.5 168.2v16.6M116.5 268.5v18.3M148.5 158.9v8.8M476.5 223v13.4M400.5 112.5v11.7M431.5 113.5v17.1M421.5 139.2v7.7M227.5 136.2v11.1M260.5 282.5v14M236.5 214.2v19.9M314.5 343.9v19.4M118.5 245.7v14M314.5 318.2v23.2M278.5 343.7v19.3M337.5 262.5v24.6M499.5 363.7v16.6M264.5 232.1v30M155.5 105.1v15.3M134.5 169.5v17.1M212.5 83.6v19.9M199.5 98.3v6.3M310.5 336.6v15.1M315.5 324.2v20.6M429.5 99.8v18.8M318.5 306.5v19.9M509.5 362.3v22.8M380.5 130.5v11.2M325.5 293.6v15.5M455.5 155.6v9.8M504.5 367v33M170.5 95.9v9M494.5 337.3v9.6M480.5 229.2v12.2M346.5 199.6v19.2M320.5 303.7v17.9M288.5 295.4v18.3M406.5 92.5v14.1M346.5 217v11.1M334.5 241.5v20.3M481.5 245.5v13.9M479.5 220.9v18.7M268.5 271.6v11.9M398.5 76.5v19.7M120.5 235.9v13.2M307.5 307.6v30.5M240.5 158.2v7.7M391.5 101.9v18M272.5 276.1v16.5M332.5 265.9v11.7M313.5 337.6v19.3M411.5 129.4v15.5M281.5 309.7v14.7M105.5 303.3v29.7M256.5 214v9.6M376.5 109v15.9M382.5 105v8.2M371.5 119.4v14.2M411.5 103.5v12.4M138.5 144.9v10.6M204.5 67.7v23.4M357.5 185.1v8.7M454.5 156.7v7.3M394.5 104.4v15.4M162.5 120.9v11.5M189.5 85.1v17.3M375.5 116v12.1M452.5 127.4v18.2M330.5 276.3v29.2M277.5 296.5v20.6M156.5 142.8v12.7M127.5 207.4v13.4M219.5 139.3v11.5M398.5 106.2v12.5M157.5 112v20.1M273.5 264.4v10.3M510.5 360.2v31.8M445.5 122.1v13M480.5 260.1v13.1M343.5 217.5v16M426.5 83.3v14.1M258.5 211.8v16.6M423.5 102v14.2M329.5 293.6v14.2M227.5 170.3v15.4M362.5 153.2v8.9M509.5 371.7v42.1M115.5 251.6v26.4M350.5 216.1v11.8M260.5 246.3v17.1M168.5 113.3v11.5M159.5 161.8v23.7M290.5 326.9v17.7M234.5 166.2v11.6M104.5 291v16.6M193.5 86.2v8.1M266.5 266.3v16.3M268.5 270.9v20.8M182.5 77.3v14.1M254.5 228v9.5M330.5 279.9v24.5M164.5 113.2v14M344.5 197.7v17.2M456.5 161.2v12.7M279.5 294.9v14M171.5 103.1v8.1M235.5 163.1v12.3M508.5 391.5v41.9M348.5 168.7v14.1M452.5 143.9v20.7M473.5 204.1v21.4M331.5 288.7v18.4M380.5 118.6v11.6M262.5 225.1v13.9M237.5 218.9v12.6M294.5 314v23.8M256.5 200.2v12.5M330.5 270.2v24.4M520.5 356.3v34.7M437.5 123.1v10.1M480.5 260.5v21.9M198.5 98.9v13.4M226.5 147.5v11.8M253.5 190.9v11.8M330.5 280.8v17.3M99.5 316.7v38.2M479.5 230.9v12.8M429.5 155.1v20.9M431.5 145.9v14.7M137.5 170.6v11.3M146.5 156.3v16.7M265.5 294.7v11.2M472.5 227.3v12.3M114.5 267.4v20.1M112.5 292.8v20.1M416.5 107.5v8M430.5 90.5v25.7M309.5 292.3v23.9M297.5 317.3v22.6M158.5 124.8v13M164.5 114.9v12.4M148.5 149.1v11.1M196.5 141.9v9.2M464.5 152.9v7.8M342.5 282.9v13.8M354.5 164.2v14.1M226.5 175.6v10.8M301.5 314.9v16.8M445.5 145v8.1M362.5 161.5v11.1M208.5 157v10M166.5 98.6v14.6M243.5 109.7v18.4M224.5 112.2v10.6M136.5 161.7v12.3M224.5 123.9v12.6M191.5 79.2v11.9M451.5 149.2v8.6M155.5 129.1v10.4M309.5 319.8v22.2M422.5 96.3v10.7M215.5 101.4v7.7M165.5 105.3v9.6M356.5 173.8v12.2M262.5 224.8v14.4M300.5 328.8v16.4M123.5 230.7v16.1M178.5 79.8v12.4M423.5 115.3v20.5M520.5 369.2v20.5M221.5 165.6v17.2M235.5 202.3v8.6M294.5 317.1v13.6M294.5 328.7v26.6M234.5 152.6v10.8M203.5 101.7v14.5M158.5 134.7v8.8M442.5 126.6v16M202.5 92.1v7.3M259.5 214.1v26.1M255.5 200.5v27M372.5 108.5v19.3M152.5 144.7v15.5M453.5 165.8v11.8M146.5 133.7v16.6M370.5 163.3v14.8M471.5 243.9v11.8M209.5 124.9v7.9M207.5 97.6v11.8M439.5 137.6v14.4M381.5 108.5v10.9M153.5 110.7v8.6M163.5 117.4v9.8M494.5 322.5v18.8M464.5 194.3v26M431.5 115.5v12M259.5 218.2v17.1M209.5 125.7v7.2M183.5 83.4v13.9M436.5 123.7v12.6M151.5 110.9v12.2M261.5 224.2v14.1M516.5 396.1v20.5M205.5 88.5v13.5M366.5 154.8v10.1M386.5 116.8v12.5M489.5 286.6v19M497.5 315.4v30.2M340.5 210.5v23.7M512.5 369.3v12.4M112.5 292.4v17.5M95.5 333.6v28.2M405.5 95.5v11.6M354.5 162.2v18M257.5 210.5v35.9M383.5 165v11.6M452.5 145.9v10.2M383.5 118.5v18.4M399.5 92.2v9.7M372.5 132.9v10.7M283.5 288.1v24.3M286.5 302.4v20.6M179.5 98.6v8M363.5 167.9v10.2M239.5 201.2v11.3M90.5 345.5v49.5M341.5 225.8v18.9M361.5 150.2v18.6M414.5 98v9.5M202.5 69.9v16.9M254.5 237v15.4M523.5 381.1v35.1M193.5 73.8v15.7M250.5 203.7v15M488.5 267.9v25.3M197.5 122.7v12.4M145.5 128.7v19.3M159.5 116.6v14.2M163.5 115.5v10.8M181.5 98.8v11.5M88.5 363v38.1M99.5 328.1v30.4M382.5 89.2v10.8M405.5 101.5v11.9M404.5 85.6v10.2M303.5 334.5v24.3M295.5 314.2v16.7M447.5 108.6v11.3M370.5 156.8v12.6M422.5 81.1v7.5M333.5 292.4v15.8M330.5 264.6v17M458.5 196.8v8.7M364.5 155.9v9.9M357.5 167.7v15.2M170.5 123v13.9M357.5 191.7v9.6M189.5 84v10.9M455.5 174.6v19.7M525.5 352.8v56.6M447.5 139.3v17M300.5 328.4v16.5M276.5 296.8v32.9M465.5 157.8v21.1M137.5 147.9v16.1M390.5 106.9v14.1M178.5 78.1v17.7M477.5 227v13.6M138.5 169v8.7M222.5 121.1v16.2M288.5 318v20.8M191.5 145.3v9.3M451.5 138.5v9.4M521.5 349.6v47.8M99.5 336.9v26.2M271.5 274.5v16M366.5 155.3v7.5M290.5 306.8v20.2M277.5 281.7v11.1M420.5 151.5v9.8M179.5 105.9v11.7M509.5 369.3v23.5M438.5 127.1v11.5M151.5 123.6v7.3M89.5 367.1v30.4M229.5 98.5v12.6M181.5 69.9v12.9M134.5 182v13.7M413.5 73.7v6M121.5 235.1v22.4M227.5 142.4v22M210.5 79.7v10.7M427.5 102.8v12.3M495.5 315.5v32.3M304.5 320.9v17.9M255.5 211.7v14.5M226.5 108.9v13M219.5 110.3v13.1M398.5 132.2v8.7M103.5 329.4v27.6M446.5 147.6v9.9M195.5 127.5v6.6M87.5 361.4v19.9M407.5 90.8v9.9M172.5 116v15.5M277.5 276.1v34.9M231.5 151.6v13.8M323.5 294.2v29.6M245.5 195.5v7M415.5 86.4v9.8M338.5 228.1v16.7M395.5 102.4v13.9M441.5 124.2v7.4M284.5 316.2v13.3M262.5 236.9v15.6M421.5 103.5v16.2M390.5 80.5v14M193.5 97.3v14M473.5 232.5v13.1M482.5 247.3v21.7M429.5 142.3v13.7M198.5 103.8v8.4M410.5 110v8.3M458.5 164.7v15M307.5 407.5v15.4M154.5 143.5v12.3M186.5 79v15.2M376.5 131.5v9.6M135.5 175.2v8.4M183.5 85.5v10.9M127.5 211.7v20.1M311.5 329.6v20.3M164.5 133.1v12.8M187.5 99.2v17.3M477.5 241.5v16.8M442.5 116.7v9.5M193.5 92.2v11.3M237.5 144.6v11.3M149.5 122v8M382.5 99.1v12.1M352.5 184.1v13.8M315.5 327.5v24M512.5 360.3v15.6M228.5 134.1v16.2M350.5 183.4v11.3M178.5 114.3v7.8M396.5 148.3v11M383.5 135.5v15.8M240.5 222.2v16M83.5 357.1v41.6M234.5 144.1v17.7M161.5 116.4v10.8M359.5 186.5v10.5M193.5 95.9v11.8M157.5 125.8v7.1M274.5 306v14.8M328.5 280.4v12.6M173.5 97v10.7M252.5 203.7v19.5M215.5 127.2v8.5M508.5 361.1v13.8M466.5 204.9v22.8M156.5 142.3v6.5M475.5 223v13.4M344.5 243v10.8M227.5 132.4v19M413.5 105.3v10.6M173.5 97.1v19.5M368.5 147.1v15.9M375.5 107.3v10.3M291.5 383.6v23.8M257.5 216v8.2M85.5 380.7v33.5M420.5 114.6v6M350.5 178.7v10.3M402.5 113v12.2M255.5 246.9v13.6M422.5 87.6v6M147.5 135.5v10M427.5 116.1v8.7M247.5 175.4v15.5M368.5 122.6v7.7M148.5 136.5v10.1M350.5 167.2v18.2M490.5 286.9v15.7M418.5 104.3v9.3M418.5 104v19.5M422.5 127v12.3M151.5 131.4v11.6M207.5 58.9v23.9M402.5 98v8.6M135.5 175.9v13.3M221.5 131.5v14.8M99.5 339.1v20.8M168.5 109.4v15.5M385.5 111.2v12.4M450.5 152.2v11.2M474.5 212.7v9.8M418.5 66.9v12.4M462.5 176.1v10M366.5 161.1v26.1M308.5 311.5v28.6M388.5 143.9v12.6M405.5 106.4v11.9M113.5 285v12.3M456.5 157.3v14.3M297.5 357.3v28.1M327.5 280.6v14.8M271.5 326.5v17.8M367.5 119.9v15M191.5 98.5v7M240.5 162.6v13.4M296.5 326.9v18.2M169.5 113.7v7M346.5 258.9v11.2M286.5 301.3v17.4M426.5 151.1v8.6M435.5 102.2v10.9M405.5 140.8v13.2M297.5 306.6v44.6M328.5 326.2v16.7M214.5 123.4v9.5M225.5 136.6v14.9M125.5 215.3v11.3M481.5 249.9v20.6M260.5 286v15.7M497.5 332.5v11.5M384.5 97.8v12.9M447.5 140.2v13.8M162.5 123.1v15.9M166.5 96.7v13M136.5 253.5v14.2M368.5 150.4v16.6M284.5 310.2v14.6M313.5 337.8v19.9M385.5 129.9v9.8M447.5 150.5v19M365.5 141.7v16.9M422.5 100.7v12.8M93.5 341.2v26.4M156.5 137.9v10.1M466.5 169v13.5M273.5 337.5v26.6M259.5 217.5v12.3M149.5 114.7v11.9M133.5 177.4v13.2M277.5 305.7v18.6M132.5 216.3v15.2M438.5 104.2v10.4M348.5 198.9v12.3M474.5 221.1v20.3M174.5 87.8v8.5M137.5 149.8v13.8M169.5 83.9v12.4M147.5 137.7v15.3M116.5 255v26.4M371.5 152v6.6M381.5 153.9v6.9M199.5 104.2v12.4M275.5 262.3v27.9M267.5 300.2v17.3M373.5 138.2v7.1M493.5 292.5v23.6M156.5 116.6v25M246.5 223.3v15.2M494.5 304.1v20.8M161.5 128.7v10.8M167.5 114.4v10.4M392.5 81.8v11.3M427.5 98.9v12M89.5 379.9v24.1M415.5 82.2v14.6M319.5 319.5v22.9M199.5 88.9v15.4M338.5 278.8v14.4M236.5 198.4v19.8M415.5 102.5v11.6M478.5 227.2v17.8M83.5 363.1v34.6M410.5 106.2v16.5M422.5 48.2v13.4M202.5 115.3v13.7M391.5 129.2v12.9M251.5 202.4v16.9M213.5 111.4v16.4M339.5 228.9v23.5M419.5 109.6v16.3M479.5 232.9v14.5M141.5 158.9v6.9M394.5 150.7v17.2M333.5 256.5v16M421.5 92.2v8.5M449.5 119v18.8M130.5 217.6v11.9M392.5 122.2v10.5M178.5 83.3v6.6M258.5 228.6v15.5M112.5 296v18.1M343.5 234.7v18.6M374.5 162.3v13.3M271.5 305.2v19.2M231.5 134v16.6M184.5 79.5v9.6M191.5 95.8v11.2M260.5 235.7v20.8M451.5 159.5v14.2M142.5 154.2v9.2M92.5 364.2v20.6M521.5 360.4v36.6M443.5 105.4v13.7M441.5 136.1v17.5M430.5 131.9v19.2M408.5 112.8v9.2M406.5 102.8v13M105.5 308.2v18M241.5 191.9v14.6M405.5 105.8v14.5M337.5 273v17.9M306.5 310.1v19.1M106.5 318.8v10.6M404.5 107.8v7.6M173.5 90.2v12.5M308.5 326.1v22.5M515.5 361.8v26.9M296.5 343.5v24.1M383.5 127.7v11.8M249.5 195.4v17.7M366.5 130.6v13.7M131.5 203.2v11M128.5 230.9v9.5M146.5 144.6v12M395.5 72.6v14.2M170.5 123.2v10.1M169.5 115.5v10.9M365.5 126.6v18.5M229.5 131.6v12.5M357.5 166.8v9.9M153.5 110.1v22M135.5 182v15.2M309.5 306.5v25.4M191.5 100.3v7.2M157.5 161.5v12.2M336.5 235.5v23.9M382.5 118.2v17M381.5 123.9v9.1M520.5 397.7v30.3M306.5 336.4v14.8M262.5 201.4v16.2M157.5 123.9v12.8M264.5 233.8v16.6M347.5 209.5v17.9M233.5 168.3v18.8M501.5 361.7v29.6M489.5 290.5v22.2M334.5 288.5v21.1M240.5 213.9v7.7M184.5 74.9v10.7M134.5 194.9v14.7M132.5 194.4v15.8M100.5 322.9v23.9M196.5 72.7v11.8M469.5 212.7v13.3M134.5 188v20.4M304.5 314.6v14.2M230.5 159.6v14M245.5 147.1v17.5M100.5 348.7v26.5M277.5 328.9v19M254.5 191.6v13M521.5 376.4v14.5M508.5 423.7v26.8M492.5 313.2v24.1M341.5 210v17.7M157.5 130.2v10.6M515.5 369.3v18.9M258.5 223.2v8.3M301.5 336.8v22.1M395.5 89.7v17.7M184.5 76.2v9.4M297.5 320.5v22.2M189.5 76v11.3M192.5 99.1v11.6M239.5 158.1v19.2M488.5 271.8v20.7M372.5 116.8v14.9M256.5 236.5v11.8M233.5 138.2v11.6M265.5 304.3v13.6M147.5 83.5v10.2M472.5 195.5v24.6M247.5 178.2v16.4M298.5 310.6v23.9M127.5 219.3v13.5M310.5 327v21.3M524.5 381.2v24.6M130.5 187.5v15.3M199.5 94.5v15M355.5 142.5v16.7M262.5 215v27.3M439.5 139.4v15.8M346.5 225.3v11.9M467.5 176.5v21.1M436.5 96.9v12.1M147.5 153.6v18.5M236.5 166.5v16.4M321.5 338.9v25.8M475.5 221.6v14.3M216.5 116.7v6.3M131.5 179.7v9.4M435.5 113.6v17.3M171.5 92.3v8.2M379.5 110.1v10.8M386.5 122.2v12M187.5 86.7v9.8M457.5 166v18.9M257.5 280.4v21.7M180.5 86.7v14.7M233.5 150.9v9.3M173.5 92.6v13M525.5 371.4v26.6M88.5 381.3v26.4M461.5 186v17.5M395.5 141.5v17.7M332.5 296.7v16.1M181.5 54.7v10.8M224.5 148.8v17M503.5 332.5v34.5M446.5 139v13.9M136.5 186.9v12.4M277.5 344.2v30.8M503.5 394.1v21.8M97.5 377.6v15.6M318.5 315.6v26.7M405.5 106.1v9.4M200.5 82.9v11.4M264.5 235.6v19.8M355.5 174.2v9.7M459.5 188.2v13.2M392.5 99v7.6M183.5 114v9.3M354.5 186.6v12.1M225.5 113.6v10.2M441.5 113.6v9M403.5 65.9v14.5M460.5 196.5v18.7M88.5 383.1v22.7M348.5 185.5v14M148.5 129.2v8.7M475.5 223.9v14.1M358.5 148.6v15.2M192.5 88.9v8.7M229.5 124.9v10.9M428.5 122.6v13.7M307.5 340.8v24.2M216.5 103.8v14.5M523.5 368.4v14.5M472.5 191.9v16M122.5 227.4v13.2M352.5 163.8v17.9M303.5 333.9v27.2M212.5 104.5v17.6M356.5 122.4v11.7M412.5 111.6v14.2M369.5 137.6v7.6M242.5 161v15.8M340.5 249.8v12.3M84.5 359.4v28.5M196.5 99.6v17M366.5 140.6v8.9M370.5 128v13.4M138.5 165.6v10.8M237.5 178.2v7.5M512.5 367.6v19.9M179.5 98.3v13.8M153.5 132.9v16.3M306.5 325.1v29.5M244.5 159.6v9.6M313.5 310.5v29.4M112.5 286.9v16.9M384.5 102.6v21.1M262.5 256.8v15.4M123.5 213.8v11.7M314.5 344v37.6M344.5 187.7v13M222.5 108.1v7.3M187.5 103v11.5M475.5 218.6v16.8M365.5 144.1v15.8M219.5 131.8v14M429.5 123.3v10.5M262.5 249.9v20.1M294.5 306.4v18.1M147.5 151.9v12.1M217.5 111v9M244.5 185.1v10M447.5 137.7v11.6M181.5 118v8.8M313.5 312v15.7M191.5 115.1v14.5M412.5 102.3v7.1M148.5 129.7v7.7M300.5 305.7v24.4M197.5 89.9v18.7M398.5 95.8v11.8M517.5 358.9v36.3M388.5 107.3v9.2M84.5 363.6v28.9M410.5 92.7v10.8M406.5 100.8v10.1M445.5 125.9v21.1M410.5 136.6v13.9M149.5 165v19.4M496.5 324.1v20.3M197.5 113.9v17.7M441.5 138.2v7.9M139.5 178.8v15.8M118.5 260.2v7.1M208.5 110.6v14.8M126.5 221.3v15.8M223.5 123.6v12.4M152.5 140.4v9.4M427.5 99v19.2M469.5 192.9v13.3M342.5 199.7v12.3M187.5 88.5v14.6M100.5 324.8v29.6M124.5 206v8.8M202.5 113.9v13.3M205.5 92.2v7.9M210.5 108.2v14.7M452.5 151.1v10.7M403.5 92.7v14.8M336.5 241.2v24.6M272.5 281.8v15.3M189.5 104.7v7.9M346.5 179.7v8.9M199.5 104.1v13M441.5 158.3v20.2M489.5 273.8v23.6M323.5 312.2v21.2M100.5 318.8v16.1M386.5 113.8v14.7M222.5 159v10.1M116.5 248.2v26M397.5 108.9v9.9M416.5 88v12.8M101.5 306.7v22.3M452.5 136.5v18.8M184.5 94.1v10.4M430.5 124.7v7.9M449.5 140.1v10M328.5 300.2v20.9M349.5 193.1v15.9M496.5 311.4v19.4M152.5 140.3v8.4M312.5 355.2v30.3M247.5 167.2v13.5M91.5 358.2v31.7M127.5 213.8v10.8M235.5 155.9v14.6M462.5 155.4v13.3M460.5 181.5v13.2M222.5 119.6v12.1M403.5 97.4v9.7M342.5 215.9v14.3M451.5 153.7v12.3M424.5 91.9v11.7M223.5 121.2v19.2M469.5 199.4v15.4M386.5 122.5v14.1M137.5 165.9v15.8M120.5 226.7v9.5M109.5 285.5v13.9M437.5 126.6v17.7M304.5 341.1v22.5M125.5 193.8v15.7M369.5 151v10.8M374.5 106v21.3M472.5 201.4v22.9M359.5 192v13.8M526.5 398.9v27.3M327.5 283.1v18.7M285.5 306.1v28.9M443.5 177.6v17.1M199.5 73.8v13.6M192.5 119.1v11.5M403.5 94.6v18.8M384.5 121.6v12.2M178.5 89.4v7.9M330.5 261.9v28.6M121.5 228.3v14.3M463.5 182.6v18.4M512.5 353.9v30.6M255.5 309.3v10.9M465.5 179.3v7.9M459.5 155.8v11.1M245.5 206.7v15.3M189.5 91.2v9.3M338.5 226.6v11.7M253.5 222.9v26M89.5 358.1v39.3M311.5 299.2v24M247.5 242.8v8.8M159.5 140.1v20.7M348.5 201.9v16.5M198.5 117.4v14.3M524.5 376.5v19.4M364.5 144.2v18.3M432.5 113.9v20.7M440.5 108.5v10.8M170.5 97v13.6M469.5 188.4v26.1M442.5 144.5v22.3M346.5 213.9v15.8M462.5 151.6v19.3M264.5 252.7v22.7M192.5 89.6v13M221.5 67.9v14.2M432.5 95.6v9.8M352.5 166.7v12.6M311.5 331.7v14M127.5 198.4v15.2M342.5 209.4v19.9M390.5 137.3v7.9M459.5 156.7v12.4M290.5 314.3v16.7M373.5 150v21M144.5 151.3v8.7M451.5 201v13M499.5 319.3v25.1M142.5 149.3v13.2M356.5 142.4v10M369.5 132.5v12M389.5 120.4v15.8M278.5 291.9v27.7M228.5 211v10.9M206.5 106.5v8.9M338.5 250v10.3M139.5 155.3v11.9M297.5 321.4v25.2M475.5 253.6v14.6M228.5 147.3v15.7M353.5 164.5v16.5M218.5 104v8.5M314.5 327.6v19.7M357.5 126.7v10.5M175.5 100.5v6M437.5 118.3v10.7M213.5 171.3v10.6M519.5 362.1v28.3M245.5 194.3v22.1M96.5 335.4v19.4M350.5 169.1v10.7M466.5 203.3v10.2M312.5 309.9v32.2M472.5 231.4v10.5M277.5 316.2v14.2M321.5 307.3v23.8M261.5 230.4v11.4M173.5 92.6v19.3M468.5 206.7v15.8M300.5 323.7v9.6M395.5 90.5v6.8M385.5 121.1v6.4M160.5 113.1v15.5M100.5 327.3v28.9M148.5 127.9v7.9M92.5 353.3v20.3M185.5 95.3v17.2M254.5 209.4v18.1M179.5 77.6v7.2M432.5 107.6v12.4M205.5 80v14M149.5 142.4v9.6M175.5 80.6v12.3M173.5 93.5v9.1M164.5 103.7v10.9M143.5 157.6v13.7M516.5 404.4v30.4M137.5 155.7v17.3M493.5 304.6v20.8M217.5 134.4v10.8M131.5 200.7v12.2M241.5 175.2v14.4M297.5 331.8v17M371.5 145.9v12.9M515.5 389.6v32.3M352.5 166.9v15.9M387.5 112.2v12.5M166.5 109.4v12.5M275.5 344.1v15.8M422.5 119.8v17.4M163.5 97.4v15.7M157.5 112.3v7.7M377.5 114.4v15.7M331.5 279.9v14.4M179.5 85.6v8.7M232.5 144v15M166.5 93.7v20M157.5 137.8v12.3M355.5 194.2v9.7M110.5 283.8v12.4M224.5 146v10.4M454.5 141v12.7M442.5 180.6v16M177.5 102.2v12M200.5 90.9v9.4M204.5 91.8v13.1M263.5 241v8.1M174.5 78.2v16.5M251.5 180.8v14.4M177.5 109.3v13.2M335.5 305v22.6M220.5 142.2v14.9M128.5 224.7v12.9M116.5 257.5v14.4M418.5 121.5v11.7M193.5 96v14.2M137.5 162.9v9.5M240.5 160.4v12.1M338.5 231.8v23.8M515.5 363v26.5M188.5 94.3v10.4M518.5 352v21.5M259.5 211.3v16.2M126.5 222.9v12.2M116.5 264.6v24.2M114.5 271v19M154.5 137.1v9.2M119.5 238.1v12.8M164.5 108.6v15.4M247.5 179.3v12.4M424.5 146.4v9M256.5 232.7v12.5M412.5 92.7v8.2M486.5 272.2v22.1M374.5 138.3v18.4M442.5 137.3v12.2M230.5 120.3v10M102.5 323.4v14.1M281.5 308.5v12.9M464.5 191.3v14.5M162.5 114v14.5M139.5 159.8v23.1M281.5 286.5v19.8M217.5 128.9v15.8M84.5 369.6v35.8M436.5 112.6v9.3M403.5 84.1v16.3M511.5 371.4v24.6M92.5 345.4v31.9M136.5 173.3v9.8M271.5 308v11.1M408.5 63.5v16M201.5 108.9v11M133.5 204.2v17.2M136.5 162.6v20.3M251.5 177.8v12.9M238.5 177.6v14.3M488.5 266.6v16.9M282.5 288.1v27.2M285.5 298v25.4M321.5 308.5v25.3M110.5 270.4v25.1M275.5 278.6v23.4M186.5 87.5v8.4M368.5 135.3v12.2M326.5 329.2v14.1M207.5 100.5v12.6M97.5 342.2v26.2M215.5 134.2v6.4M392.5 98.3v8.3M331.5 269.2v32.1M140.5 160.3v16M112.5 281.7v13M364.5 139.2v13.4M520.5 375.1v24.9M483.5 265.7v20.4M426.5 121.9v19.6M407.5 99.7v7.8M202.5 89.8v12M484.5 250v13.2M230.5 132.9v6M248.5 181.8v12.6M392.5 86.5v13M111.5 295.5v14.1M266.5 261.1v11.7M154.5 151.2v7.7M366.5 144.6v8.5M198.5 96.8v16.9M256.5 206.3v14.5M319.5 315v35.4M445.5 133.2v19.1M422.5 94.9v12.2M192.5 94.3v15M413.5 151.7v10M422.5 120.2v7.3M404.5 131.6v10.5M157.5 97.1v10.4M310.5 288.5v29.8M307.5 350v24.6M122.5 228v13.8M458.5 158.4v18.8M288.5 345.2v23.7M263.5 240.8v19.1M410.5 87v14M203.5 117.8v10.6M369.5 154.4v8.8M444.5 154v13.3M367.5 137.9v13.2M294.5 370.9v26.8M355.5 172.6v11.9M358.5 161.8v6.2M283.5 341.3v16.2M251.5 226.8v15.7M276.5 298.1v19.9M204.5 89.2v8.4M478.5 238.1v17.9M125.5 205.2v13.9M504.5 360v19.4M392.5 107.5v6M167.5 106.5v12M136.5 174.7v15.1M226.5 111.5v11.4M261.5 221.3v15.1M321.5 361.7v24.2M315.5 324.6v23.4M386.5 112.3v7.7M421.5 98.1v11.3M193.5 88.8v12.4M328.5 292.6v12.3M145.5 175.8v11.5M172.5 117.3v10.6M365.5 146.5v6.7M165.5 110.4v20.7M320.5 305.7v24.3M171.5 93.9v16.8M221.5 132.3v16.8M276.5 285.6v14.4M252.5 192.3v10.9M349.5 183.4v13.2M460.5 186.3v11.2M403.5 83.2v14M175.5 88.2v15.4M472.5 215v13.5M158.5 126.2v15.4M222.5 147.4v12.5M441.5 181.7v22.7M515.5 402.1v17.5M83.5 389.4v41.1M503.5 365.9v22.8M114.5 291.6v15.2M416.5 86.7v11.7M245.5 196v15.1M185.5 116.9v7.2M334.5 273.8v14.6M404.5 89.2v12.5M241.5 175.2v9.5M190.5 76.1v19.7M142.5 156.9v20.7M424.5 109.4v13.3M442.5 132.6v14.6M280.5 308.3v19M305.5 324.6v17.1M346.5 196.4v19M119.5 255.7v21.1M211.5 103v8.4M349.5 174.8v16.1M238.5 141.6v12.3M134.5 205.8v10.2M88.5 349.5v37.6M300.5 329v21.9M283.5 302.8v25.2M192.5 91.4v18.7M100.5 325.1v23.1M394.5 98.7v6M403.5 112.9v9.8M185.5 88.1v14.3M147.5 124.8v14.2M266.5 248.6v6.9M347.5 175.8v14.9M364.5 145.4v13.9M420.5 114.3v14M324.5 293.1v38.2M377.5 139.9v17.4M306.5 334.4v25.3M446.5 123.1v24.6M343.5 235.9v23.6M231.5 138v13.4M488.5 279.9v8.7M377.5 133.6v10.7M376.5 159.2v13.3M264.5 255.3v17.5M184.5 110.8v12.1M227.5 120.7v9.1M296.5 328.1v28.8M172.5 89.3v16.5M210.5 105.8v9.7M498.5 352.8v23.6M286.5 301.8v18.1M427.5 113.6v8.2M400.5 68v17.3M242.5 168.3v15.6M131.5 190.7v12.4M114.5 286.1v14.1M441.5 146.5v13.3M491.5 297.4v18.6M206.5 191.5v12.7M397.5 108.5v13.1M307.5 333.7v17.6M383.5 134.6v13M262.5 242.3v13.5M417.5 85v11M523.5 373.8v23.7M305.5 399.1v14.9M439.5 149.9v6M191.5 113.5v9.8M322.5 305.1v21.8M202.5 101.7v13.5M128.5 207v13.1M214.5 144.9v12.2M232.5 154v9.3M423.5 89.8v15M164.5 122.2v13.6M201.5 93.8v8.4M430.5 131.4v10.4M261.5 215.1v18M525.5 357.2v26.7M96.5 367.8v17.7M140.5 185.5v9M177.5 85.5v15.9M446.5 134.1v10M328.5 315.4v18.7M464.5 224.8v15.7M229.5 223.5v9.2M448.5 129.9v17.2M102.5 310.4v11.5M314.5 323.4v19.5M488.5 324.3v14M201.5 112.1v10.5M145.5 142.5v7.8M223.5 165.6v9.2M514.5 358.1v20.8M377.5 119.2v13.6M209.5 77.5v18.3M395.5 96.6v13.4M326.5 315.4v17.8M181.5 88.7v9.4M147.5 147.5v24M366.5 144.9v6.7M287.5 334.3v26.8M276.5 326.7v18.5M241.5 165.4v14.6M176.5 87v12.3M347.5 226.2v13.8M138.5 193.8v9.4M297.5 317.9v10.5M218.5 91.9v10.1M255.5 210.3v10.7M439.5 125.5v19.6M311.5 335v15.2M158.5 108.3v13.3M418.5 98.3v10.1M92.5 358.4v23.8M364.5 124.5v14.2M279.5 316.5v23.1M230.5 135.3v16.1M104.5 320.3v19M206.5 111.7v16.2M117.5 256.7v32.6M428.5 97.3v12.2M223.5 130.3v10M478.5 245v18.5M413.5 94.1v18.8M426.5 103.3v7.5M523.5 361.7v39.9M367.5 148.9v12.5M305.5 323.9v15.8M294.5 337.1v15M352.5 179.4v20.4M195.5 181.2v7.3M271.5 301.3v21.8M464.5 193.8v11.2M159.5 126.5v9.3M406.5 98.5v14M359.5 141.4v18.1M229.5 125v13.8M234.5 153.5v10.5M241.5 210.3v10.8M382.5 126.8v8.7M192.5 100v10.7M467.5 167.7v12.3M213.5 118.3v11.3M386.5 107.5v10.8M157.5 157.6v12.2M426.5 123.3v10.8M417.5 86.7v12.5M465.5 187.4v14.4M109.5 288.1v22.9M299.5 331.2v15.2M473.5 227.1v9.6M293.5 306.6v24.3M299.5 304.2v13.5M247.5 171.3v11.3M472.5 262.8v17.7M415.5 119v12M321.5 302.1v13.9M185.5 84.9v10.9M349.5 204.1v12M216.5 124.5v12.1M150.5 138.7v8.6M130.5 207.7v15.8M320.5 296.5v36.6M284.5 283.2v26.4M467.5 192.4v7.2M387.5 61.2v9.4M99.5 313.5v20.6M398.5 110.7v17M518.5 370.4v30.7M232.5 154.7v9.8M138.5 152.8v12M484.5 252.4v15.5M235.5 135.2v10.6M314.5 319v20.7M122.5 236.3v10.3M428.5 107.7v10.1M258.5 228.7v22.8M265.5 240v11.5M222.5 124.4v11.8M488.5 195.1v14.5M448.5 154.6v16M222.5 142.2v13.1M236.5 139.9v11.1M406.5 101.1v8.8M456.5 175.8v16M144.5 182.6v15.9M82.5 393.9v14.1M337.5 256.8v9.9M459.5 150v12.4M523.5 347.7v32.2M227.5 152.1v22.8M267.5 248.6v20.4M308.5 316.2v14.4M485.5 253.3v30.8M341.5 213.7v14.4M188.5 114.5v12.4M176.5 101.9v11.4M184.5 109.7v10.2M362.5 125.6v13.5M397.5 149.9v9M406.5 94.9v19.7M334.5 279v13.4M190.5 84.8v16.5M200.5 96.7v13M219.5 119.7v16.7M423.5 71.2v14.9M117.5 254.8v21.3M302.5 314.1v21.5M508.5 383.2v58.2M123.5 240.6v20.2M236.5 161.7v17.2M397.5 86.5v8.4M517.5 385.8v27.6M412.5 122.1v7.5M163.5 99.8v10.6M191.5 103.4v11.4M337.5 243.5v14.7M89.5 362.2v20.2M478.5 242.1v12.3M272.5 256.1v21.7M458.5 160.2v16M122.5 238.2v9.4M439.5 162.5v7.3M296.5 302.4v17M166.5 117.9v13.2M388.5 111.5v14.5M308.5 307.2v46.9M378.5 118.2v12.8M241.5 164.7v12.5M269.5 309.1v16.6M404.5 105v10M342.5 201.4v12.5M214.5 111.1v14.3M377.5 171.9v13.2M363.5 132.6v7.7M150.5 153.1v13.4M340.5 236v17.5M495.5 308.6v10M430.5 138.6v16.1M350.5 202.9v16.6M156.5 107.3v15.9M417.5 104.5v7.4M228.5 123.8v28.3M309.5 306.9v22.3M174.5 104.3v8.3M210.5 80.5v13.3M376.5 155.9v11.4M381.5 148.4v10.6M254.5 196.4v9.1M128.5 185v17.4M304.5 379.7v13.1M111.5 291.5v29.7M298.5 316.1v28.4M360.5 133.6v8.1M208.5 80.3v12.9M198.5 99.5v8.8M114.5 304v17.8M415.5 73.7v9.8M361.5 146.6v24.9M236.5 156.5v22M487.5 261.3v26.9M296.5 307.6v18.4M455.5 174.1v8.6M419.5 110.4v12.9M440.5 129.3v10.1M201.5 76.5v6M387.5 88.5v15.3M431.5 134.5v7.4M297.5 334.7v17.1M359.5 142v11.3M336.5 237.5v15.4M230.5 135.2v8.2M392.5 118.6v18.3M121.5 235.2v13.1M370.5 143.6v14.5M245.5 191.1v11M263.5 243.1v16.9M321.5 374.9v18.9M156.5 103.8v13.2M111.5 272.1v34M259.5 224.5v15.8M327.5 275.8v18.3M355.5 200.2v10.9M463.5 174.3v18.1M120.5 236.1v13.2M174.5 85.8v11.4M189.5 102.4v16.3M488.5 285v19M202.5 94.4v16.1M325.5 301.4v14M253.5 190.6v15.4M332.5 258.7v33.1M454.5 159.4v8.4M208.5 87.7v16.3M194.5 87.4v9.8M431.5 116.5v14.5M215.5 111.7v21.7M286.5 297.9v31.3M222.5 126.9v7.9M259.5 238.7v12M458.5 185.6v10.4M406.5 106.2v18.9M238.5 163.1v13.2M153.5 149.5v12M502.5 347.9v19.3M144.5 157.1v13.7M377.5 111.7v12M448.5 124.7v12.4M233.5 133.7v6.6M503.5 341.2v21.3M426.5 105.6v8.8M235.5 147.4v9.7M511.5 394.5v39.4M228.5 138.7v17.6M115.5 265.9v14.9M316.5 302.5v21.6M410.5 148.8v14.6M170.5 131.7v17.6M87.5 345.4v23.2M483.5 252.7v11.8M439.5 114.9v12.8M416.5 108.3v9.9M437.5 90.1v7.8M200.5 96.7v7.3M418.5 110.7v9.1M174.5 118.8v9.3M128.5 198.2v21.2M149.5 141.6v7.8M373.5 143.3v9.3M483.5 242.9v21.6M481.5 251.7v6.7M273.5 282.9v21.5M131.5 239.5v17.9M280.5 351.6v26.9M216.5 130.3v9.9M161.5 156.9v11.2M472.5 198.8v23.8M204.5 95.3v12.9M127.5 213v11.8M97.5 343.1v23.1M98.5 329.9v19.2M498.5 315v33.7M287.5 305.8v19.7M207.5 102.3v13M450.5 138.8v14.9M461.5 199.8v6.6M115.5 245.7v16.3M140.5 180.8v8.7M434.5 115.7v17.5M402.5 110.6v19.2M484.5 251.8v14.8M436.5 92.3v9.5M389.5 84.6v9.8M176.5 72.4v20.3M208.5 118.5v10.9M218.5 147.6v16.8M175.5 100v13.7M163.5 97.3v9.2M467.5 240.2v19.8M471.5 185.1v19.3M432.5 148.6v9.8M437.5 110v14.7M320.5 307.7v23.3M405.5 100.4v12.7M154.5 130v9.3M111.5 317.9v28.7M271.5 284.8v7.5M486.5 272.7v13.7M302.5 311v20.9M272.5 282.5v29.8M380.5 140.1v8.7M425.5 95.6v10.7M218.5 160.4v12M241.5 136.8v10.5M207.5 85.8v11.8M462.5 184.2v14.1M298.5 297.6v29.6M92.5 360.8v25.8M386.5 123.1v12.9M253.5 212.8v17M182.5 95.4v8.6M475.5 257.7v21M192.5 160.4v10.6M519.5 384.3v25.1M380.5 138.7v12.8M472.5 201.6v15.5M429.5 127.5v10.2M98.5 341.7v18.7M515.5 366.8v34.9M293.5 322.8v25.8M122.5 273.9v6.9M186.5 100.5v11.1M189.5 108.1v11.5M426.5 114.8v13.3M263.5 235.9v17.1M228.5 136.4v20.4M187.5 88.3v12.1M404.5 162.2v17.1M206.5 118.4v9.3M405.5 117.2v8.4M383.5 157.9v14.6M329.5 292.8v13.8M249.5 198.7v13.8M201.5 83v6.4M291.5 316.7v12M260.5 215.9v26.5M316.5 328.9v17.3M469.5 171.7v11.7M302.5 331.6v18.1M105.5 300.3v18.6M269.5 254.7v17.5M314.5 324.4v30.3M487.5 288.7v14.6M371.5 136.3v17.9M305.5 333.9v29M130.5 202.6v11.6M462.5 220.6v8.8M279.5 302.6v20.2M196.5 88.9v11.8M411.5 100.4v15.6M262.5 210.9v19.2M199.5 78.3v12M380.5 146.3v9.7M180.5 59.4v13.3M390.5 107.6v10.1M174.5 98.5v11.3M346.5 185.9v15.3M398.5 107.7v10.9M271.5 277.6v17.4M313.5 332.6v19.9M502.5 348.1v19.6M268.5 263.7v17.2M334.5 257.8v19.4M495.5 299.1v14.6M122.5 249.3v13.8M223.5 122.3v20.4M150.5 155.5v19.2M381.5 123.1v12.2M174.5 105.8v14M329.5 285.8v22M398.5 52.3v8.7M331.5 280.3v13.2M199.5 82.3v22.5M241.5 145.9v13.6M186.5 115.6v18.3M268.5 268.9v17.7M307.5 324.9v36.9M216.5 97.8v20M281.5 342.7v16.7M137.5 182.4v31.9M254.5 225.3v18.1M299.5 328.4v13.9M367.5 149.9v15M311.5 343.7v18.3M276.5 331.4v20.4M443.5 120v15.1M325.5 323v15.6M150.5 120.3v16.8M191.5 106v7.4M400.5 100.3v16.9M419.5 95.9v18.8M293.5 320.7v23.4M225.5 166.3v15.2M352.5 171.9v15.9M137.5 180.1v22.6M486.5 288v13.6M427.5 120.8v10.9M271.5 262.8v26.5M336.5 252.7v24.1M217.5 155.3v7.9M269.5 275.5v14.1M344.5 204.1v17.2M302.5 387.3v19.4M229.5 139v7M345.5 261.6v8.1M423.5 142.5v11.8M124.5 232.5v13.7M276.5 267.8v16.3M340.5 247.5v13.5M471.5 210.2v19.7M153.5 132.8v11.4M101.5 308v37.7M447.5 147.9v9.3M506.5 347.5v29.7M371.5 133.5v13.5M407.5 147.5v9.9M407.5 114.1v14M401.5 132.1v13.6M315.5 310.7v18.5M235.5 138.6v10.8M267.5 270.3v11.6M437.5 126v18.8M407.5 129.1v12.8M83.5 396.9v29.8M242.5 169.9v17.2M258.5 234.5v12.6M242.5 169.3v8.1M142.5 166.6v9.9M203.5 87.5v10.6M341.5 225.2v17.4M179.5 95.1v19.2M148.5 127.5v20.7M132.5 208.9v16.5M465.5 181.2v15.7M353.5 184.5v8.5M273.5 331.7v20.5M255.5 215.9v14.6M401.5 76v8.9M172.5 129.4v12.5M287.5 316.2v9.5M285.5 307.7v24.7M202.5 105.8v11.3M186.5 77.8v23.2M410.5 90.5v14.7M442.5 214.1v13.8M451.5 169v17.4M144.5 175.5v11.8M277.5 282.2v16.4M110.5 311.1v11.8M123.5 221v9.8M179.5 89.1v12.2M345.5 216.1v26.4M90.5 361.2v38.6M495.5 297.5v28.2M118.5 260.7v14.1M355.5 171.2v10.5M117.5 254.4v16.2M417.5 126.5v11.1M245.5 175.9v14.9M436.5 121.7v9.3M366.5 116.6v16M323.5 337.8v37.7M337.5 242.1v16.1M497.5 353.9v22M367.5 127.6v12M322.5 301.5v21.9M522.5 378.3v32.7M170.5 113.9v12.7M336.5 233.9v16.6M525.5 390v29.2M409.5 97.2v12.1M148.5 143.3v12M348.5 189.9v10.6M418.5 114.5v9.1M442.5 154.6v6M98.5 309.7v26.7M94.5 342.5v14.8M183.5 129.6v10.2M248.5 182.9v10.7M237.5 218.7v10.7M415.5 112.3v9.7M259.5 230.8v12M334.5 242.2v24M427.5 120.3v12.9M361.5 133.2v13.2M470.5 211.8v18M304.5 321.7v19.2M312.5 338.8v22.3M490.5 308.6v13.4M186.5 101.9v9.6M193.5 68.2v15.5M191.5 112.7v10M239.5 165.5v12.9M231.5 127.8v12M517.5 391.8v28M248.5 186.9v18.3M205.5 152.9v11.8M381.5 121.9v11.2M360.5 156.5v13.2M99.5 339.8v15.7M513.5 382.7v16.5M178.5 91.8v15.4M254.5 212.9v16.9M348.5 198.9v7.4M242.5 176.5v10.2M258.5 203.9v19.8M438.5 121.1v15.2M415.5 94.9v12.5M277.5 278.1v16.2M396.5 96.9v17.1M420.5 95.9v14.3M420.5 79.2v14.7M336.5 255.6v19.2M240.5 197.8v15.8M523.5 356.6v22.5M210.5 111.1v8.9M152.5 127.6v10.9M166.5 106.1v8.2M318.5 300.7v22.8M273.5 272.6v20.1M163.5 143.2v8.6M304.5 336.1v26.3M97.5 342.8v24.8M282.5 292.1v19M438.5 149.3v18.6M376.5 147.5v15.1M482.5 248v10.9M96.5 327.8v28.8M248.5 189.9v20.2M371.5 150.9v10.4M249.5 186.9v12.2M468.5 193.9v14.6M220.5 119.2v12.9M333.5 259.8v19M428.5 116.2v8M156.5 144.4v12.9M284.5 306.3v23.9M415.5 151v15.8M511.5 365.1v27.1M429.5 97.6v14.4M450.5 163.1v11.5M326.5 296.4v16.9M504.5 373.1v26.2M420.5 109.1v13M109.5 299.9v13.2M336.5 242.1v19.6M265.5 224.4v17.4M207.5 113.2v6.7M236.5 169v6.7M423.5 101.8v13.2M93.5 356.9v20.6M196.5 124.6v17.8M189.5 66.8v12.1M224.5 122.4v15M425.5 73.6v19.6M89.5 352.9v23.7M151.5 133.3v10.5M362.5 163.1v23.7M171.5 80.1v11M515.5 369.4v23.1M178.5 140.3v8.5M481.5 267.7v16.4M171.5 73.1v12.7M169.5 113v9.6M209.5 98v9.4M465.5 184.1v9.3M383.5 121.4v20.5M154.5 181.2v14M329.5 287.1v25.1M353.5 175.1v14.4M375.5 133.9v14.6M171.5 103.6v14.1M316.5 342.4v18M157.5 179.2v14.1M412.5 92.1v13.2M296.5 321v18.2M155.5 126.4v15.9M401.5 105.9v13.6M497.5 308.3v21.7M142.5 159.2v16.2M366.5 141.8v9.6M497.5 336.1v29.3M398.5 95.4v13.5M156.5 141.4v9.7M452.5 142v18.3M347.5 207v18.5M276.5 304.6v12.7M484.5 253.1v21.2M204.5 110.4v13.5M499.5 334v27M325.5 306.6v20.5M503.5 343.1v40.8M337.5 263.9v24.3M390.5 111.2v7.1M132.5 220.9v12.3M322.5 318.8v23.6M283.5 317.6v13.9M360.5 169.2v12.5M168.5 125v14.9M482.5 267.5v16.4M359.5 148.4v6.6M266.5 253.5v15M226.5 125.9v12.5M194.5 88.5v10.4M521.5 380v35.1M484.5 241.6v25.1M465.5 185.5v9.7M259.5 259.9v10.3M462.5 153.2v11.5M291.5 310.4v27.2M452.5 169.3v14.1M459.5 176v15.5M493.5 328.8v18.6M188.5 115.2v8.4M119.5 241.8v14.6M397.5 97.7v14.2M183.5 114.8v15.5M407.5 128.3v11.6M188.5 103.6v11.3M433.5 107.6v11.6M303.5 306.6v29.7M331.5 312.8v17.6M346.5 197.1v13.5M347.5 204.8v9.9M425.5 102.9v21.8M307.5 294.4v25.1M298.5 330.4v19.7M156.5 131.4v8.9M385.5 125.4v6.1M326.5 295.1v16.1M451.5 151.6v13.9M388.5 132.6v16.7M332.5 258.4v20.8M501.5 318.1v26.3M407.5 91.4v12.3M485.5 261.1v19.2M359.5 185.4v10M172.5 77.8v19.8M213.5 132.7v11.9M378.5 133.4v7.9M493.5 304.9v10.8M397.5 90.5v10.5M341.5 221.7v15.5M360.5 193.8v11.1M217.5 133.6v14.3M140.5 176.2v10.8M111.5 275.9v14M408.5 137.1v11.1M319.5 325.8v23.8M400.5 111.9v17.8M466.5 206.7v13.9M137.5 165.6v14.5M221.5 117.1v9.5M155.5 132.7v15.5M454.5 158v9M335.5 254.8v20.6M193.5 78.6v9.2M396.5 73.2v9.2M306.5 334v13.1M440.5 113.9v12.7M344.5 215.2v17.3M314.5 312.3v14.4M182.5 91v12.7M90.5 346.2v27.2M212.5 105.3v11.6M128.5 220.3v17.4M463.5 176.5v15.1M93.5 349.5v20.1M448.5 129.6v9M249.5 205.6v9.4M285.5 345.5v18.8M165.5 111.5v13.4M347.5 192v17.2M139.5 152.2v14.5M406.5 117.4v13.4M100.5 332.1v21M305.5 338.5v21.3M84.5 357.7v28.4M189.5 108.2v9.3M280.5 314.7v24M119.5 237.8v15.7M441.5 118.2v9.1M458.5 189.7v17.2M394.5 117.4v8.5M208.5 75.4v9.7M520.5 406.1v19.9M189.5 91.1v18.7M151.5 120.5v12.7M183.5 102.5v12.2M216.5 122.7v9.4M430.5 95.9v21M271.5 320.4v18M342.5 220.2v8.4M280.5 303.1v17M340.5 226.5v14.9M304.5 329.8v22.7M351.5 179.1v10.5M352.5 232.7v14.6M210.5 94.9v13.2M240.5 161.6v13.7M182.5 92v11.7M252.5 223.1v9.7M394.5 117.8v22.5M439.5 104v9.9M357.5 183.6v23.1M189.5 71.6v13.7M131.5 190.7v17.1M453.5 143.5v15.1M303.5 344.3v24.9M414.5 84.7v13.4M381.5 131.6v6.1M218.5 167.5v11.8M361.5 140.9v10.1M104.5 316.7v25.6M145.5 143.1v11.1M102.5 357.3v20.4M255.5 186.9v11.3M172.5 98.4v13.7M474.5 217.4v14.5M172.5 76.9v9.8M152.5 130.7v12.7M299.5 358v33.5M390.5 109.5v9.3M355.5 172.6v13.9M287.5 337.9v12.8M451.5 160.8v18.1M143.5 159.9v17.6M391.5 78.2v10M376.5 150.6v12.3M134.5 116.3v10.1M144.5 167.6v12.4M102.5 308.4v28.1M117.5 231.7v27.8M282.5 284.3v16M183.5 78.2v11.1M128.5 205.8v10M223.5 120.1v13.4M183.5 85.9v16.3M255.5 210.2v21.7M164.5 114.4v12.8M184.5 82.4v16.6M103.5 319v21.3M307.5 321.4v20.4M287.5 299.1v28.8M315.5 343.4v15.6M468.5 242.8v7.9M386.5 121.7v9.8M112.5 260.5v13.1M96.5 344.6v24.5M259.5 252.6v14.3M503.5 389.6v27.8M269.5 258v11.4M467.5 182.8v17.4M451.5 161.4v12.3M309.5 297.6v29.6M305.5 311.4v26.7M440.5 123.7v9.6M513.5 373v18.1M226.5 126.1v12.1M357.5 144v19.7M268.5 255.9v21M164.5 111.5v12.1M140.5 159.7v11.8M271.5 251.5v16.8M313.5 353.4v36.4M478.5 232v10.2M183.5 101.3v6.8M358.5 165v14.1M154.5 127.2v10.7M377.5 150.3v7.3M457.5 193.8v12.3M419.5 75.8v9.2M447.5 148.2v14M440.5 143.5v9.2M412.5 57.9v9.2M272.5 267.6v14.9M477.5 242.2v13.5M365.5 144.4v13.1M345.5 251.2v18.2M388.5 110.4v11.1M218.5 110v9.2M363.5 147.4v17.8M221.5 117.3v25.3M133.5 160.5v25.1M276.5 290.4v25.7M331.5 285.4v17.1M391.5 129.9v12.4M191.5 63.4v16.7M458.5 161.2v14.9M83.5 368.1v29.9M199.5 111.2v10.4M382.5 115.6v10.2M357.5 141.8v14.8M116.5 245.9v14.3M123.5 241.9v6.3M188.5 103.6v13.1M101.5 317.1v24.9M257.5 206.6v25.4M367.5 125.4v14.2M483.5 268.9v8.3M242.5 183v15.7M459.5 174v17.4M109.5 290v11.1M457.5 165.9v13.4M423.5 85v10.6M372.5 156v8.4M171.5 80.5v16.1M173.5 90.7v19.3M305.5 302v30.6M415.5 90.9v15.1M144.5 149.5v15.2M320.5 319.8v13.8M291.5 348.8v18.1M380.5 142.8v10.3M217.5 101.2v8.2M432.5 115.2v7.7M437.5 119.8v12M146.5 140.7v14.2M346.5 199.7v18.1M377.5 126.4v8.8M522.5 363.1v23.6M254.5 197.9v12.4M206.5 100.3v13.2M212.5 86.9v8.4M332.5 260.5v17M329.5 290.1v22.5M179.5 76.3v9.7M458.5 173.3v11.8M97.5 346.1v22.7M344.5 208v11M411.5 95.1v12.4M266.5 263.3v15.4M482.5 246.7v27.3M253.5 202.2v12.1M200.5 105.4v7.6M142.5 143.7v12.3M318.5 317.8v21.1M153.5 130.5v24.8M496.5 307.3v21.2M334.5 252.9v16.8M329.5 284.5v15.6M424.5 95.3v16.3M359.5 161.7v12.7M112.5 264.9v23.6M409.5 106.9v10.6M129.5 199.2v24.5M424.5 108.3v11.6M205.5 88.9v18.2M507.5 350.8v26.3M142.5 160.2v9.5M98.5 335.6v17.9M193.5 93.1v12.9M343.5 208.2v6M140.5 148.3v15.4M209.5 227.8v12.9M293.5 330.7v27.7M445.5 129.6v6M448.5 155.6v11.6M391.5 126.4v13.2M312.5 323.5v15M256.5 234.2v9.1M248.5 190.5v9.1M129.5 221.3v16.6M458.5 159.1v14.2M179.5 115.9v16.5M351.5 171.4v18.2M239.5 148.3v16M417.5 73.4v8.5M299.5 314.8v29.7M465.5 167.9v24M427.5 127v6M335.5 259.3v23.6M418.5 88.2v12.6M243.5 169v18.1M224.5 140.7v11.3M181.5 92.5v13M224.5 209.3v12.6M502.5 345.2v13.6M281.5 296v18.4M107.5 308.1v11.9M234.5 157.6v8.3M520.5 370.4v21.5M289.5 312.7v18.5M180.5 109.8v14.2M182.5 94.3v8.7M433.5 124.4v16M365.5 121.3v20.2M323.5 288.1v32.4M196.5 78.3v8.7M377.5 133.3v14M110.5 280.3v13.8M113.5 283.3v10.5M312.5 345.1v31.5M183.5 98.8v12.2M347.5 200.6v13.2M91.5 385.4v21M162.5 110.5v11.2M110.5 272.3v32.2M414.5 119v15.2M435.5 48.6v18.9M390.5 110v10.9M417.5 98.8v11.9M462.5 175.5v11.7M116.5 247.1v17.2M334.5 245v17.1M403.5 80.6v11.5M332.5 270.8v12.8M304.5 312.3v23.2M332.5 270.4v14.5M428.5 112.7v8M453.5 141v13M463.5 179.2v10M197.5 96.7v16.3M119.5 233.6v22.5M244.5 152.7v10.6M300.5 317.2v20M178.5 135.8v15.6M189.5 71.6v13M245.5 190v8.4M485.5 256.2v16.5M338.5 221.4v19.8M186.5 104.4v12.3M478.5 231.8v9.1M233.5 119.8v13.6M270.5 248.8v22.6M411.5 88.8v7.3M466.5 176.9v13.1M169.5 118.7v13.3M138.5 199.8v9.8M408.5 109.3v19M274.5 285.7v10.5M278.5 285.1v20.2M295.5 307.5v30.5M451.5 146.9v6M372.5 129.4v7.8M152.5 175.5v16.3M484.5 305.2v10.8M384.5 127.1v7.8M357.5 150.6v15.5M271.5 274.7v19.6M186.5 96.7v12.9M385.5 95.6v22.2M209.5 114.6v13.9M271.5 262.9v30.8M508.5 372.4v29.5M142.5 141.4v18.8M501.5 352.9v27.4M192.5 116.3v13.3M299.5 330.9v21.2M122.5 225.2v26.1M390.5 120.3v12M278.5 288.2v20M242.5 153.4v8.6M166.5 110.7v7.2M279.5 282.2v20M443.5 122.5v14M413.5 125v9.6M436.5 121.5v9.3M419.5 98.1v10.9M139.5 166.8v16.8M331.5 295.1v12.9M91.5 351.5v35.4M432.5 96v13.8M181.5 69.8v14.5M485.5 260.5v13M416.5 70.8v10.4M145.5 119.6v7.5M447.5 127.7v13.6M303.5 300.1v43.1M517.5 358.4v25.9M303.5 340.1v28.7M372.5 154.5v17.7M332.5 277.9v9.3M421.5 95v6M381.5 103.5v15.3M364.5 141.5v6.1M97.5 382.6v24M432.5 71.2v18.8M270.5 255.5v19.5M467.5 189v16.9M321.5 294.8v20.1M446.5 143.6v11.5M259.5 209.8v18.3M151.5 125v14.2M187.5 105.9v11.6M525.5 369.8v37.7M143.5 150.3v13M459.5 167.3v21.7M205.5 112.7v16.9M435.5 147.6v15M126.5 253.4v11.8M277.5 271.4v15.5M446.5 178.1v9.3M154.5 131v20.5M130.5 187.4v21.9M473.5 250.6v13.8M461.5 152.5v21.5M233.5 165.8v19.5M131.5 205.2v12.6M215.5 123.3v9.9M356.5 147.4v14.7M228.5 147v19.6M365.5 126.2v7.5M491.5 305.6v19.5M267.5 260.9v13M492.5 281.2v20.3M428.5 77.1v24.3M346.5 203.6v15.8M203.5 88.9v10M403.5 -1.4v11.2M457.5 153.2v9.1M379.5 124.6v13.8M278.5 281.4v13.6M422.5 104.6v14.6M114.5 286.3v16.9M404.5 131.5v14.2M442.5 134.8v15M204.5 82.6v16.3M128.5 210.3v9.9M240.5 184.1v12.3M475.5 223.9v14.9M398.5 92.3v10.4M487.5 256.7v14.9M162.5 178.9v11.6M258.5 209v7.5M502.5 404.6v18.8M228.5 121.1v11.9M405.5 107.6v13.9M211.5 111.6v10.8M458.5 154.3v15.7M179.5 117.4v22.7M319.5 320.9v26M411.5 117.5v12.4M222.5 134.9v9.7M228.5 147.2v16.1M165.5 87v7.8M461.5 194.4v12.1M482.5 247.1v18.7M147.5 135v10M287.5 385v18M170.5 112.4v11M213.5 212v13.5M246.5 174v17M362.5 144.2v14.5M124.5 215.4v11.7M427.5 72.9v11.8M101.5 328.2v23.5M89.5 353.7v28.3M379.5 113.5v11.7M341.5 260.4v13.8M300.5 321.2v25M371.5 118.1v19.3M411.5 107v9.6M403.5 102v13.1M498.5 342.5v21.8M263.5 242v9.8M264.5 257.1v17.2M176.5 92.7v10.3M220.5 135.3v17.3M261.5 237.2v17.3M398.5 100.4v10.3M204.5 101.7v18.6M217.5 129.3v17.4M341.5 172.7v26.1M393.5 121.6v9.5M397.5 83.2v10M265.5 227.9v13.2M336.5 251.5v17M96.5 343.2v12.7M445.5 122.9v9M212.5 127.9v8.8M229.5 186.8v15.8M150.5 144v12.2M178.5 88.1v13.6M492.5 293.3v26.7M394.5 130.9v12.1M274.5 300.3v23.1M365.5 132.8v15M342.5 215.6v15M203.5 62.7v7.5M308.5 324.5v21.2M212.5 115v12.1M316.5 313v21.6M173.5 101.1v8.5M322.5 301.4v14.5M377.5 113.4v8.6M190.5 98.2v10.9M272.5 268.6v15M117.5 248.5v16.8M206.5 135.4v13M291.5 321v16M485.5 272.1v17M521.5 365.9v17.8M228.5 134.1v16.9M217.5 101.6v17.6M82.5 355.4v31.8M349.5 168v9.2M365.5 144.9v8.6M280.5 273.2v22.5M156.5 133v7.7M247.5 167.2v17.2M199.5 95v14.7M371.5 119.3v17.2M216.5 125.3v14.1M447.5 128.5v15.3M196.5 81.8v15.9M194.5 81.8v11.2M182.5 89.9v15.5M313.5 325v30.1M470.5 212.3v12.9M231.5 150.8v9M121.5 242v20.6M329.5 380.6v11.7M186.5 95.4v11.6M147.5 148.6v11.4M140.5 146.5v12.6M183.5 121.6v9.3M129.5 198.1v20.4M512.5 359.1v28.7M107.5 311.4v23.3M415.5 73.1v12.3M166.5 103.8v13.2M232.5 129.3v9.9M256.5 208.5v14.4M417.5 106.1v13.8M157.5 114.3v9.4M408.5 111.5v18.9M172.5 100.8v16.9M514.5 345.5v46.6M308.5 308.1v58.4M105.5 333.7v28.3M222.5 106.1v11.3M335.5 253v9.9M154.5 122.4v9M383.5 121.7v14.2M410.5 113.3v10.6M440.5 132.1v11.2M408.5 88.5v28.4M107.5 295.3v29.7M250.5 166.4v12M364.5 138.9v17.1M444.5 125v10.3M181.5 59.5v10.9M522.5 372.2v24.5M374.5 130.4v13.7M517.5 368.6v23M304.5 302.4v15.3M473.5 242.1v18.3M376.5 125.4v12.7M306.5 328.2v22.2M375.5 139.8v12.2M199.5 116.9v16.4M282.5 304.4v20.7M163.5 124.5v11.9M327.5 288.3v19.8M129.5 250.5v9.6M245.5 171.4v14.5M490.5 286.8v23.9M508.5 393.1v11.9M368.5 142.8v15.6M156.5 165v10.6M303.5 332.6v30.6M94.5 357.5v17.2M468.5 192.2v9.6M343.5 199.5v11.9M446.5 141.9v10M228.5 156.1v21.3M430.5 99.1v17.3M373.5 80.5v10.7M350.5 173.2v27.5M461.5 163.8v13.5M371.5 99.4v12.8M191.5 90.2v8.3M487.5 307.2v28.7M444.5 108.1v14.9M258.5 223.1v23.6M475.5 220.1v14.9M444.5 127.3v16.4M108.5 294.1v9.1M169.5 110.9v16.3M359.5 151.4v8.7M232.5 141.3v13.8M317.5 377.4v27.9M245.5 255.9v20.4M415.5 140.2v9.4M452.5 149.4v12.9M374.5 140.2v15.1M262.5 233.6v19.5M508.5 346.7v28.8M141.5 161.3v8.5M151.5 107.8v12.1M118.5 259.9v29.8M450.5 141.4v15.1M146.5 153.1v14.6M433.5 108.1v13.2M399.5 102.1v7.6M390.5 106.5v19.8M250.5 179.5v25.8M228.5 126.8v14.1M420.5 80.6v15.1M185.5 94.9v15.1M271.5 282.2v15.3M212.5 109.7v13.5M232.5 146.3v8.4M462.5 168.6v17.4M308.5 319.2v11.6M407.5 103v11M106.5 309.3v10.9M201.5 93.5v15.8M454.5 175.1v17.6M274.5 269v18.8M169.5 111.3v14.9M109.5 275.8v20.8M288.5 315.1v35.3M128.5 226.9v16.2M390.5 104.4v13.4M283.5 294.1v21.3M342.5 242.2v21.8M473.5 241.8v14.3M139.5 178.7v6.4M409.5 76.8v7.3M289.5 297.8v13.9M110.5 278.9v23M403.5 132.7v16.1M232.5 142.4v17.3M428.5 110.3v12.7M504.5 352.9v12.4M91.5 347v26.7M97.5 346.5v16.2M340.5 207.1v15.2M355.5 173.3v12.6M296.5 331v29.4M453.5 155.3v28.1M389.5 116.5v11.5M370.5 155.2v17.6M269.5 270v13.2M420.5 91.7v8M401.5 103.5v14.3M146.5 143.9v11.6M169.5 122v16.1M363.5 118.2v19.9M424.5 84v17.9M476.5 235.9v13.2M193.5 100.1v11.8M394.5 121.7v13.4M270.5 276.2v14.4M224.5 145.2v12.6M241.5 145.9v7.9M435.5 135.1v6.5M283.5 343.5v20.1M416.5 81.8v16.2M377.5 117.1v12.8M485.5 267.4v27.8M525.5 370v27.9M410.5 80.7v8.9M503.5 359.3v36M333.5 261.2v16.2M360.5 140.3v18.2M488.5 307.7v20.1M420.5 88.1v12.1M351.5 204.6v10.9M521.5 364.3v23.6M99.5 328.4v20.4M332.5 272.3v12.2M240.5 141.4v14M106.5 306.4v13.5M177.5 103.3v12.2M356.5 161.3v15.8M96.5 336v31M301.5 345.8v20.2M221.5 118.4v8.9M193.5 106.4v13M169.5 153.4v9.8M191.5 86.6v16.7M484.5 252.5v17.5M162.5 120.7v8.2M152.5 135.1v10.8M388.5 80.1v7.6M495.5 327.8v15.1M156.5 160.8v11.4M230.5 137.6v11.4M192.5 61.8v11.7M322.5 346.3v16.9M111.5 283v11.6M435.5 171.7v14.7M440.5 102.9v11.9M365.5 151.1v11.1M320.5 294.5v14.6M164.5 99.2v10.6M248.5 187.6v9.6M347.5 176.5v16.2M348.5 179.1v11.8M214.5 102.5v11.4M324.5 350v19.1M300.5 320.6v25.7M525.5 368.2v45.4M411.5 83.8v12.7M217.5 190.5v7.2M159.5 118.8v17.7M183.5 128.1v8.9M448.5 128.1v19.3M497.5 326.3v15M175.5 80v12.7M296.5 334.8v20.3M142.5 151.8v12.6M362.5 140.3v12.4M178.5 100.7v14.9M270.5 261.8v22M235.5 115v10.7M418.5 123.9v11M142.5 137.8v13.8M309.5 337.7v23M387.5 109.6v8.1M253.5 221.3v16.8M233.5 149.7v14.8M130.5 197.3v13.6M156.5 125.7v14M153.5 105.9v16.7M341.5 221.4v8.6M350.5 168.1v19.7M278.5 299.1v18.1M261.5 241.9v17.2M395.5 101.3v11.2M473.5 231.2v10.3M267.5 300.9v20.5M438.5 126.6v9.4M352.5 143.3v11M93.5 352.4v44.4M284.5 376.3v15.5M352.5 158.6v9.9M289.5 299.3v24.1M320.5 300.8v15.3M249.5 196.2v18.6M235.5 168.3v8.8M441.5 127.2v17.9M405.5 111.8v14.6M428.5 95.6v13.4M204.5 76.2v11.8M409.5 105.4v10.6M419.5 71.7v15M522.5 364.9v41.4M426.5 109.2v11.2M308.5 323.9v24.4M226.5 148v10.7M94.5 346.2v34.5M158.5 126.4v10.4M360.5 141.2v9M232.5 153.2v9.8M352.5 162.5v15.3M289.5 349.3v17.2M249.5 182.1v13.8M301.5 324.8v16.7M191.5 74v10.8M288.5 309.8v20.7M320.5 294v22.4M143.5 168.5v11.9M207.5 108.8v9.6M473.5 235.2v9.1M345.5 188.1v17.5M235.5 163.5v8M204.5 130.8v11.1M309.5 305.5v28.2M336.5 248v9.3M333.5 264.7v19.4M261.5 217.3v14M350.5 169.1v18.4M464.5 174v14.8M160.5 143.6v13.1M139.5 158.1v14.3M361.5 148.1v16.4M328.5 315.3v24.1M431.5 114.7v9.2M405.5 107.7v17.9M469.5 182.7v18.5M393.5 107.7v11M247.5 194.5v10.5M217.5 125.3v17.2M131.5 197.9v12.7M144.5 149.8v12.3M478.5 257.1v13.7M87.5 375.8v29.6M421.5 84.3v9.9M193.5 80.6v12.4M110.5 326.6v15.5M425.5 106.7v13.2M214.5 107.7v11.3M99.5 326.5v26.3M263.5 255.8v22.9M429.5 101.3v10.1M323.5 291.5v24.8M485.5 266.5v17.2M267.5 244.7v35.7M523.5 389.5v20.7M395.5 86.5v6.8M203.5 125.5v8.4M504.5 361.7v17M197.5 108.7v15.8M86.5 369v22.1M331.5 261.1v29.9M211.5 98v12M294.5 304.1v18.6M196.5 51v10M372.5 111.6v13.6M303.5 315.2v30.7M235.5 188v6.4M338.5 237.2v9.5M366.5 111.4v11.3M448.5 122.3v11.3M331.5 293.2v21.8M114.5 267.3v22.3M105.5 305.3v18.9M285.5 311.7v18.6M411.5 130.2v7.6M168.5 101.5v9.5M231.5 174.5v11.9M463.5 150.1v14.8M182.5 61.9v12.6M146.5 141.9v17.4M394.5 89.2v10.4M312.5 372.7v27.9M244.5 207.9v11.3M295.5 300.5v30.9M246.5 176.1v7.8M184.5 103.8v20.9M330.5 280.1v19.2M90.5 379.9v23.9M326.5 289.2v25.1M194.5 101.7v6.8M150.5 108.4v15.6M359.5 158v14.3M247.5 252.3v13.4M194.5 128.3v25.2M432.5 122v11.8M258.5 237.7v19.2M128.5 220.9v15M145.5 139.4v10.3M207.5 99.1v16.7M285.5 281v23.8M394.5 186.3v9M391.5 101.3v11.8M216.5 115.4v14.4M198.5 99.3v19.9M487.5 255.4v16.3M270.5 270.2v12.3M228.5 127v10.2M382.5 134v12M159.5 101.7v10.1M102.5 311.7v28.8M127.5 229.7v14.2M362.5 163.5v12.8M516.5 368.6v17.7M426.5 83v15M329.5 271.2v18.1M298.5 332.2v17.7M440.5 126.2v12.7M183.5 76.3v13M106.5 316.9v13M277.5 275.4v26.3M331.5 258.1v19.6M470.5 199.5v13.3M159.5 102v11.4M329.5 271.7v15.3M314.5 313.6v25.5M392.5 64.7v17.2M471.5 201.7v10M374.5 113.7v13.3M262.5 233.4v11.1M346.5 209.6v10.6M443.5 147v13.4M119.5 257.9v14.8M361.5 211.9v7.2M209.5 103.7v12.9M321.5 302.7v9.8M319.5 316.8v15.1M369.5 141.6v10.4M251.5 190.6v13.3M169.5 107.3v11.7M132.5 190.4v16.8M243.5 163.5v10.4M502.5 339.3v20.6M504.5 365.9v24M357.5 158.7v12.4M244.5 176.7v10.5M388.5 118.9v12.5M293.5 375.1v15.7M113.5 258.3v21.3M113.5 289.5v24.4M172.5 92.3v19M85.5 366.6v21.8M274.5 272.1v14.1M487.5 276.7v12.7M245.5 150.3v6.7M175.5 84.8v8.2M417.5 122.3v9.8M183.5 80.8v17.5M274.5 278.8v21.2M398.5 107.6v13.8M398.5 100.4v8.1M124.5 214.8v11.5M96.5 325.6v22.1M143.5 67v14M193.5 40.5v12M421.5 47.8v12M428.5 60.5v14M360.5 63.8v20M374.5 68.2v16M460.5 104.8v28M470.5 150.8v16M144.5 210.5v20M229.5 203.5v18M233.5 221v20M231.5 252v24M247.5 244v18M274.5 236.8v20M394.5 168v20M355.5 259.5v16M106.5 383.5v18M627.5 67.6v20.6M667.5 194.3v10M880.5 84v24.3M826.5 119.9v11.4M700.5 206.9v13.5M674.5 214.9v12.8M792.5 211.7v10.2M609.5 126.3v10.5M825.5 108v10.4M944.5 329.1v26.6M636.5 68.3v9.1M822.5 94.1v14.3M569.5 239.2v11.3M722.5 293.5v16.6M920.5 206v14.3M836.5 122.8v9.3M671.5 124.8v12.1M852.5 91v9.8M624.5 85.7v18.8M562.5 287.1v13.4M597.5 113.8v10.6M677.5 151.7v16.5M733.5 306.9v16.2M644.5 106v11.1M888.5 125.2v14.5M612.5 98.7v10.8M583.5 179.7v7.5M792.5 179.4v11M906.5 151.5v22.6M793.5 192.2v11.5M848.5 87.9v15.1M908.5 193.2v14.1M939.5 314.7v19.5M769.5 301.7v17.5M942.5 346.9v24.3M746.5 315.9v19.4M648.5 93.9v15.6M727.5 308.5v21.2M821.5 111.3v11.7M673.5 128.7v12.5M640.5 68.3v14.4M677.5 143.4v12.6M641.5 77.1v9.5M684.5 153.2v9.5M528.5 360.4v19.1M805.5 136.8v11.4M651.5 105.9v13.8M556.5 257.6v26.7M604.5 140.1v15.8M661.5 104.2v16.8M593.5 122.5v9.9M623.5 100.7v8.1M737.5 301.6v28M639.5 147.3v16.3M658.5 81.4v8.7M650.5 116.8v12.9M642.5 80.1v15.1M740.5 306.2v32.5M620.5 107.6v6.6M746.5 337.2v35.6M635.5 113.9v12.8M898.5 145.2v12.1M606.5 142.6v13.9M909.5 187.2v10.1M605.5 117.8v8M859.5 109.6v11.7M797.5 184.5v14.2M619.5 99.5v9.9M863.5 111.2v8.5M637.5 59.5v19M564.5 216.5v13.8M800.5 154.6v7.9M808.5 146.3v9.7M603.5 139.1v8.9M636.5 118v12.3M830.5 104.4v15.5M562.5 227.4v21.8M716.5 309.3v16.3M665.5 107.5v13.1M605.5 118.5v8M619.5 120.1v9.4M912.5 184.2v18.6M722.5 309.4v10.9M694.5 203.5v11.1M649.5 89.4v22.5M955.5 365.4v23.1M552.5 296.3v20.1M707.5 235.2v15.5M601.5 157.3v12.1M633.5 112.9v11.4M872.5 91.4v11.9M616.5 113.4v20.5M771.5 301.5v21.2M689.5 201.5v15.6M751.5 312v21.3M674.5 169.9v6.7M652.5 97.1v14.4M651.5 88.7v9M564.5 225.9v17.2M740.5 328.3v18.4M918.5 208.3v23.7M947.5 382.1v21.6M580.5 243.5v10.4M858.5 100v10.5M601.5 127.3v12.7M673.5 143.9v11.5M694.5 188.3v8.3M680.5 194.8v11.1M755.5 323v26.7M530.5 367.8v44.2M714.5 254.5v15.3M916.5 202.2v20M565.5 253.1v12.8M741.5 322.2v15.8M873.5 108.9v12.2M954.5 356.2v24.2M840.5 85.3v12M648.5 104.6v6.1M824.5 128.1v14.3M680.5 153.9v14.8M867.5 108.8v11.8M826.5 103.4v14.3M655.5 98v24M909.5 180.3v15.4M793.5 213.9v14.6M679.5 152.1v11M865.5 105.4v16.4M567.5 214.6v13.2M967.5 369.3v40.6M871.5 113.7v10.2M912.5 212.4v10.6M601.5 123.7v11.5M763.5 308.9v39.1M715.5 288.1v25.1M598.5 125.6v13M600.5 116.4v9.5M641.5 126v14.5M945.5 388.9v19.2M964.5 358.8v28.3M838.5 84.4v12.1M847.5 116.4v13.4M851.5 88v16.5M756.5 315.3v24.8M605.5 143v13M916.5 207v14M917.5 223.4v12.7M841.5 93v16M961.5 393.4v23.8M750.5 313.3v21.6M862.5 63.6v16.3M800.5 164.4v17.9M577.5 159.9v21.6M666.5 128.5v15.2M556.5 290.4v23.7M920.5 227.4v15.7M536.5 378.3v19.6M765.5 327.7v23.9M605.5 86.9v22.9M591.5 132.9v15.2M600.5 126.9v20.6M915.5 217.5v13.1M746.5 376.2v16.8M677.5 156.7v18.8M768.5 336.8v23.1M661.5 118.4v9.7M691.5 192.1v9M835.5 90.3v10.7M579.5 205.5v8.1M863.5 101.8v12.7M918.5 217.1v25M737.5 332.6v26.5M720.5 303.8v12.2M590.5 144.5v14.4M714.5 267.9v23.1M865.5 91.3v13M710.5 314.9v21.1M801.5 177.7v15.6M545.5 299.7v24.5M624.5 67.2v24.2M616.5 114.7v10.2M546.5 327.7v19.5M622.5 98.8v10.4M810.5 122.2v32.4M816.5 141v6.7M679.5 153.2v15M542.5 335.7v20.8M719.5 281.8v18.2M602.5 121.1v13.1M715.5 269.5v24.9M692.5 179.8v15.1M624.5 94.7v10M900.5 159.1v15.2M834.5 94.7v13.3M735.5 341.4v22.4M703.5 223.8v9.4M574.5 186v20.5M794.5 202.3v15.8M750.5 306.3v21.6M928.5 264.5v21.2M956.5 362.3v21.2M885.5 124.7v8.9M911.5 205.8v14M692.5 199.4v9.2M739.5 346.2v19.7M762.5 308.5v19.2M889.5 143.1v9.3M593.5 123.7v10.9M625.5 99.9v7.2M654.5 114.2v17.6M900.5 153v7.6M815.5 121.6v12.4M955.5 360.2v32M811.5 127.8v16.9M893.5 136.7v7.3M826.5 100.1v14M610.5 139.3v14.7M621.5 100.2v11.5M909.5 187.2v15.7M674.5 140.6v14.9M831.5 87v6M730.5 308.1v19.9M531.5 364.8v37.1M891.5 130.4v22.1M664.5 124.7v11.4M676.5 128v10M558.5 274.5v18.1M803.5 147.8v18.1M872.5 115.5v13.2M738.5 308.1v42.1M869.5 104.1v9.2M766.5 323.9v17.8M859.5 126.4v11.9M689.5 161.6v12.2M915.5 180.8v17M729.5 300.7v22.3M577.5 180.8v8.1M960.5 360.9v30.1M728.5 319.3v14.6M860.5 121.3v10.4M561.5 241.8v12.3M885.5 126.6v11.6M593.5 84.5v10.8M581.5 165.7v15.3M649.5 114.2v11.8M715.5 259.1v19.5M741.5 323.9v36.9M716.5 271.4v25.8M541.5 362.4v16.1M791.5 181.9v14.9M855.5 96.1v19.6M772.5 335.4v10M940.5 319.5v22.3M620.5 156.6v9.6M601.5 167.7v18.1M857.5 114.7v13.8M642.5 79.3v18.3M576.5 207.6v17.3M830.5 157.2v11.6M951.5 356.3v17.4M672.5 127.7v6.9M611.5 89.6v9.4M587.5 138.9v19.6M945.5 347v21.6M599.5 124.2v19.6M882.5 132.5v9.2M620.5 88.4v9.2M909.5 237.4v11.8M551.5 274.6v24.3M695.5 192.5v12.2M704.5 230v19.8M959.5 377.4v17.2M925.5 245.2v17M697.5 203.2v21M715.5 254.9v31.6M844.5 106.7v26.1M810.5 153.8v14.9M923.5 226.3v13.2M831.5 126.2v18.7M755.5 323.4v12.9M926.5 239.7v18.6M673.5 181.6v14M689.5 236v9.9M682.5 156.9v10.1M743.5 337.2v15.6M727.5 308.2v19.8M667.5 123.9v19.3M634.5 83.2v24.7M636.5 96.7v17.5M880.5 124.6v11.7M697.5 200.4v12.9M961.5 347.7v47.9M709.5 253.9v27.5M836.5 102.4v10.6M662.5 134.3v11.4M893.5 164.4v14.1M621.5 119.5v6M648.5 105.7v7.8M656.5 116v10.1M583.5 156.1v12.9M859.5 170.2v12.5M718.5 264.8v18.3M582.5 166.6v15.7M764.5 308.7v22.8M743.5 335.2v32.6M750.5 348.8v27.8M842.5 128.3v11.9M556.5 275.4v22.8M744.5 320v16.8M549.5 245.7v25.2M819.5 113.7v8.3M601.5 85.2v20.2M604.5 100.7v12.7M691.5 177.6v24.1M851.5 131.7v16.2M580.5 159.1v12.4M871.5 120.9v12.4M716.5 291.4v19.1M882.5 128.5v19.6M603.5 146.6v9.6M927.5 255.1v20.7M849.5 89.1v20.5M547.5 308.7v38.8M739.5 359.6v25.4M555.5 295.5v18.4M847.5 103.1v8.4M687.5 186.5v18.6M870.5 90.7v15.9M918.5 229.7v6.1M604.5 94.6v7.8M886.5 141.9v13.9M697.5 217.3v12M696.5 219.5v17.8M817.5 123.2v13.8M959.5 391.5v26M829.5 115.3v11.3M624.5 107.3v18.1M575.5 199.2v19.7M657.5 122.4v11.4M555.5 290.5v28.6M946.5 343.3v25.6M593.5 112.1v9M674.5 184.2v11.4M763.5 363.3v13.2M834.5 105.6v13.9M654.5 124v14.6M822.5 109.3v13.5M598.5 141.7v7.5M680.5 163.3v10.1M929.5 275.2v8.7M850.5 135.2v10.5M731.5 306.3v25.5M729.5 357.7v19.5M856.5 76.9v13M703.5 215.4v14.7M718.5 271.9v12.9M778.5 245.7v13.9M775.5 303.4v13.7M730.5 319.3v23.1M593.5 132.7v14.5M854.5 99.2v8.4M598.5 134.6v9.1M885.5 159.6v14.3M780.5 313.1v17.9M942.5 326.6v18.6M711.5 260.1v25.1M818.5 153.9v9.6M559.5 268.9v19.8M661.5 94.4v12.1M598.5 117v16.9M823.5 138.2v11M580.5 176.3v18.4M747.5 320.1v26.1M638.5 98.2v6M601.5 108.9v9.8M887.5 121.4v14.6M634.5 97.8v9.9M561.5 248.7v22.5M620.5 116.4v12.2M843.5 98.7v7.1M801.5 175.3v14.5M904.5 184.2v15.6M662.5 82.5v16.2M908.5 185.5v16.4M638.5 133.4v15.4M905.5 177.2v16.4M590.5 151v10.8M938.5 307.1v32.4M777.5 250.7v19.3M729.5 298.7v12.4M705.5 230.8v8.5M694.5 180.7v18.9M596.5 146.7v14.5M806.5 135.5v15.1M684.5 128.1v9.8M917.5 219.2v16.1M581.5 171.7v14.1M734.5 351.4v12.3M786.5 229.9v12.3M850.5 83.3v10.6M817.5 139.6v6M715.5 318.9v11M851.5 79.4v11.1M841.5 94.5v14M695.5 204.9v13.2M716.5 265.6v15.6M683.5 152.3v12.1M871.5 137.8v13.6M589.5 153v10.2M888.5 104.3v13.4M787.5 212.1v17.2M691.5 179.8v14.5M956.5 358.6v34.5M571.5 221.9v14M744.5 316.6v23.3M935.5 309.5v12.2M659.5 118.9v9.8M730.5 328.6v43.7M649.5 111.7v8M780.5 248.6v8.9M764.5 322.6v19.4M901.5 174.1v13.3M632.5 119.4v17.2M862.5 140.1v13.8M955.5 365.5v28.1M907.5 181v9.8M535.5 345.1v38.9M703.5 232.1v22.5M639.5 99.2v17.4M743.5 306.5v20.9M783.5 211.9v18.4M557.5 297.3v14M858.5 90.5v10.2M615.5 122.6v14.5M731.5 310.5v23.7M808.5 143.2v10M931.5 270.1v15.4M678.5 153.8v16.4M821.5 174.2v15.3M542.5 362.5v20.1M554.5 282.3v19.4M715.5 343.9v11.1M788.5 204.6v15.5M652.5 81.3v11.5M856.5 77.1v12.8M668.5 128.2v12.7M646.5 97.4v18.6M835.5 109.7v14M841.5 97.9v11.7M585.5 221.2v14.8M569.5 215.9v14.7M895.5 141v9.4M649.5 158.8v11.3M928.5 246.9v8.3M780.5 264.5v17.9M793.5 203.2v12.8M528.5 365.2v29.4M777.5 292.3v12.4M913.5 177.2v11.6M967.5 365.4v22.9M695.5 179.6v10.6M601.5 110.5v7M927.5 265.5v15.6M710.5 237.8v11.7M727.5 295.9v30.4M734.5 344.3v20.1M769.5 294.5v19.8M553.5 290.9v22.9M533.5 389.8v18.2M867.5 169.2v15.8M807.5 145.8v11.5M701.5 206.9v22.5M817.5 148.4v15.2M842.5 105.5v17.4M655.5 142.4v11.4M700.5 254.8v11M636.5 84.7v12.7M789.5 223.3v10.8M854.5 116.8v12.5M796.5 192.4v12.8M639.5 95.5v11.3M811.5 113.7v10.5M709.5 266.3v20M724.5 307.1v35.6M872.5 158.6v8.3M924.5 243.9v12M655.5 159.4v11.1M687.5 170v28.5M744.5 316.5v17.4M703.5 217.5v25.9M690.5 159.5v11.7M857.5 113.9v11.5M816.5 117.4v12M668.5 125.8v8.6M808.5 143.6v15.6M829.5 136.2v11.6M721.5 284.8v12.4M642.5 78.6v15.3M909.5 242.5v16.5M529.5 362v25.2M845.5 92.7v16.2M885.5 168.6v14.9M620.5 103.4v9.2M779.5 249.4v30.5M660.5 168.6v12.4M799.5 179.4v12.4M710.5 278.4v27M722.5 298.8v22.2M860.5 -9.5v10.5M768.5 315.6v24.8M649.5 90.5v8.3M855.5 101.2v19.4M774.5 293.2v9.9M663.5 114.7v13.6M791.5 203.1v9.6M856.5 85.7v11.9M554.5 284.4v15M599.5 159.9v9.9M683.5 144.8v14.7M637.5 49.2v15.7M548.5 319.3v21.9M933.5 270.9v21.8M853.5 103.5v10.8M712.5 261.3v16.9M593.5 123.7v17.9M854.5 108.3v8.9M778.5 285.6v23.6M665.5 195.6v9.4M550.5 308.8v19.2M863.5 138.3v11.7M620.5 81.9v8.8M645.5 133.7v13M629.5 82.6v12M777.5 253.4v24.8M655.5 119.7v13.6M574.5 204.8v18.9M913.5 254.3v16.2M603.5 126.2v23.2M622.5 115.9v13M855.5 83.7v10.5M775.5 285.4v12.4M599.5 107.4v10M663.5 113.5v12.7M821.5 119v12.3M658.5 100.3v22.5M754.5 318.7v22.1M775.5 272.9v18.7M944.5 337.6v36.4M802.5 149.5v18.1M653.5 111v16.2M577.5 189.8v9M792.5 220.2v11.9M771.5 306.7v16.7M861.5 147.8v18.3M527.5 353.4v42.2M593.5 148.2v11.6M781.5 246.6v21.2M838.5 116.6v17.7M923.5 232.4v16.1M867.5 118.4v12.5M797.5 164.7v18.5M676.5 150.1v14.3M633.5 94.9v9.3M645.5 94.7v12.7M805.5 148.5v13.4M579.5 204.2v12.7M707.5 245.2v14.3M679.5 128.2v12.3M579.5 185.5v10M894.5 116.8v9.9M896.5 208.4v11.4M638.5 103.2v8.2M566.5 242.6v11.3M804.5 166.2v9.8M617.5 93v15.7M785.5 249v11.9M699.5 218v23.8M908.5 180.9v10.6M664.5 220.9v9.5M562.5 228.2v17M688.5 168.8v14.9M927.5 254.2v18M591.5 151.2v14.3M860.5 157.7v11.8M726.5 297.3v22M777.5 248.9v17.7M923.5 223.5v11.5M926.5 244.1v10.1M720.5 288.4v12.9M652.5 115.8v9.8M625.5 107.4v14.5M800.5 164.5v11.4M788.5 205.9v24.7M757.5 306v21.3M662.5 124.3v9.3M718.5 277.7v13.5M769.5 292.1v17.8M538.5 356.1v29.5M555.5 277.6v16.7M543.5 329.8v23.8M898.5 162.8v10.4M801.5 143.9v8.4M665.5 135.5v6M916.5 248.4v15M570.5 213.3v12.9M613.5 101.8v15.6M672.5 137.2v15.7M685.5 158.9v10.6M768.5 294.1v22.5M560.5 247.3v16.1M643.5 97.5v8.8M751.5 320.8v18.8M863.5 109.4v12.1M805.5 162.2v17.2M968.5 364.3v20.7M669.5 165.6v9.1M801.5 187.3v10M952.5 373.2v38M725.5 301.2v19.2M598.5 137.4v11.1M628.5 81.1v9.7M581.5 180.9v11.1M737.5 309.4v18.1M957.5 358.8v17.3M916.5 182.2v15.4M791.5 186.2v21.9M942.5 375.2v21.3M562.5 274.7v13.8M817.5 118.1v14.5M787.5 207v14.7M813.5 132v17.2M641.5 80.7v11.2M851.5 119.3v23.1M763.5 333.6v20.9M955.5 363.3v38M759.5 322.9v19.3M905.5 176.4v12.9M600.5 129.9v13.4M869.5 91.9v10.1M854.5 98.5v20.2M816.5 132.3v6.8M622.5 92.4v14.6M563.5 243.6v11.7M688.5 160.6v14.4M551.5 305.3v17.2M733.5 290.4v22.9M853.5 124v14.1M749.5 334v17.8M630.5 91.1v12.9M806.5 149.7v7M854.5 100.6v10.5M639.5 119.9v17.6M672.5 118.1v18.8M618.5 106.9v17.4M727.5 322.2v20.2M711.5 254.8v21.6M564.5 217.6v12.1M642.5 104.9v12M557.5 265.5v14.8M657.5 134.9v10.6M695.5 191.8v10.7M895.5 134.1v17.2M938.5 307.4v29M846.5 95.4v8.6M925.5 222.2v18M890.5 137.7v14.9M550.5 316.7v25.1M927.5 253.9v16.1M785.5 215.9v15.6M601.5 124.5v15.1M949.5 394.8v19.1M599.5 147.6v14.6M613.5 110.7v8.4M795.5 187.6v13.8M854.5 99.7v18M725.5 356.7v23M729.5 286.8v22.1M739.5 314.6v16.1M727.5 298.7v24.4M534.5 352.1v39.7M782.5 233.7v22.9M839.5 89.6v11.9M820.5 156.2v16M772.5 298.4v17M683.5 135.2v14.6M860.5 85.7v8.5M607.5 98.2v7.8M790.5 243v10.1M854.5 95.3v12M779.5 237.1v14.1M899.5 149.2v18.9M590.5 125.7v12.5M888.5 125.9v17.4M903.5 171.5v16.3M695.5 177.7v16.1M594.5 130.9v17.5M791.5 238.2v16.1M641.5 80.9v10.9M837.5 117.2v9.1M666.5 119v9.1M845.5 107.3v10.5M699.5 203.9v18.7M737.5 306.3v31.2M703.5 238.4v9.1M549.5 317.4v15.8M599.5 156.3v12.5M656.5 69.2v8.5M866.5 148.4v15.2M526.5 386.4v22.9M863.5 102.5v10.7M744.5 323.5v15.4M823.5 118.6v10.1M675.5 174.4v16M661.5 138.9v6.5M950.5 358v45.3M923.5 250.4v16.3M810.5 126.7v10.3M681.5 149.6v14.8M570.5 215.6v9.7M555.5 254.1v17.3M648.5 110.4v12.6M852.5 82.7v16.3M641.5 103.9v10.1M641.5 89.9v10.6M760.5 318.5v22.6M868.5 80.5v10.3M962.5 369.2v45.8M779.5 239.5v20.8M813.5 118.3v12M674.5 122.1v12.4M592.5 125.6v16.6M805.5 153.2v14.9M594.5 137.2v14.9M823.5 107.6v17.1M550.5 283.1v27M831.5 107.2v7.2M614.5 89.7v6M817.5 114v14.5M899.5 144.4v17.1M680.5 165.5v12.2M584.5 159.8v11.7M646.5 97.7v12.6M681.5 180.1v8.7M957.5 371.1v35.4M688.5 172v9.2M833.5 75.5v17.8M646.5 106.2v11.5M636.5 92.2v9.4M700.5 263.5v13.1M799.5 197.2v15.8M788.5 201.6v14.3M704.5 233.3v16.5M607.5 86.5v11.3M896.5 144.1v11M774.5 257.7v20.8M790.5 205.1v7.1M850.5 88v17.5M620.5 82.2v7.5M948.5 360.1v20.7M877.5 118.6v9.9M879.5 116.3v9.9M858.5 74.1v15.7M617.5 123.8v9.5M815.5 137.1v10.5M634.5 96.5v27.5M761.5 311.5v28M922.5 246.3v12.2M763.5 327.5v20M555.5 280v19.2M857.5 153.3v14.1M873.5 100.7v9.5M821.5 178.7v9.5M560.5 274.5v25.2M653.5 117.8v12.5M707.5 274.4v12.8M809.5 134.6v15.4M890.5 149.6v13.3M695.5 181.1v22.1M691.5 249.7v11.1M613.5 114.8v23.9M549.5 305.1v19.1M833.5 115.5v21.9M720.5 294.1v15.6M782.5 247v9.9M837.5 68.9v10.9M704.5 256v20M903.5 175v18M739.5 342.9v20.2M765.5 316.5v20.6M888.5 120v20.2M659.5 138.8v13.1M851.5 151.7v7M646.5 102.2v17.3M864.5 91.1v11.2M798.5 159.9v11.2M951.5 376.3v20.9M736.5 321.8v22.3M849.5 73.2v8.8M555.5 299.7v12M844.5 114.9v11.6M766.5 298v11.3M628.5 86.2v9.8M882.5 121.4v14.4M614.5 104.2v11.4M812.5 160.5v13.3M565.5 230.2v18.5M778.5 254.6v9.1M577.5 176.2v26.4M931.5 273.6v15.3M626.5 78.5v10.5M781.5 231.9v19.7M724.5 288.5v23.4M695.5 213.7v10.4M790.5 220.4v10.3M766.5 295.4v14.8M953.5 365.4v23M568.5 231.3v16.1M577.5 188.7v9.3M695.5 199.7v10.4M720.5 279.6v34.3M888.5 137.6v7.9M603.5 119.7v13.6M536.5 350.8v17.5M837.5 95.8v9.9M724.5 298.3v12.7M939.5 297.1v19.2M546.5 326.2v29.7M738.5 304v25.6M686.5 212v9.9M713.5 285.9v18M620.5 124.8v7.5M908.5 206.6v13M597.5 151.1v14.9M586.5 147.3v10M793.5 191.4v15.1M553.5 279.6v17.2M680.5 161.7v12.3M829.5 105.7v11.2M844.5 139.7v7.6M818.5 118.7v22.6M588.5 167.9v19.1M535.5 368.8v20.6M814.5 149.4v9.9M695.5 175.5v15.1M771.5 298.9v25.4M583.5 157.5v12.5M589.5 130.6v7.7M599.5 126.9v13.3M842.5 110.5v12M617.5 101v11.5M620.5 101.5v18.5M889.5 127.4v12.5M692.5 223.4v16.1M886.5 130.1v14.2M782.5 230.6v19.3M685.5 178.1v11.4M735.5 350.3v35.7M705.5 202.5v14.4M768.5 309.5v22.3M922.5 217.3v23M801.5 170.6v14M784.5 214.7v12.7M806.5 159.8v18.7M533.5 345.5v24.6M628.5 112v13.1M960.5 414.5v26.7M855.5 96.8v11.8M773.5 307.3v19.2M912.5 209.5v13.2M733.5 310.9v21.7M928.5 317.5v15.1M821.5 121.4v22.9M740.5 314.3v31.8M842.5 151.1v10M732.5 313.3v16.1M832.5 107.8v17.8M547.5 315.1v30M784.5 226.3v10.2M661.5 219.2v18.5M866.5 103.4v12.4M656.5 154.1v9.3M793.5 185.1v12.9M747.5 317.5v26.1M969.5 359.2v32.2M913.5 199.1v34.3M565.5 235.4v17.9M931.5 297.4v17M866.5 96.3v19.3M575.5 236.3v17.9M858.5 97.5v12.9M934.5 284.6v19.8M659.5 210.2v8.3M594.5 126.1v14.2M690.5 167.7v9.7M745.5 349v23.3M718.5 293.8v20.1M610.5 94.8v10.2M962.5 405.9v25.9M604.5 127.9v14.4M659.5 128.7v11M636.5 98.3v9.7M553.5 288.2v13.2M705.5 230.4v15.3M632.5 76.3v17.6M674.5 164.7v12.8M574.5 203.7v12.8M910.5 188.9v11.3M875.5 136.5v8.1M533.5 362.7v36.2M540.5 344v20.2M822.5 116v10.5M646.5 116.6v10.7M684.5 166.1v11M741.5 316.8v21.2M946.5 342.7v21M579.5 182.7v12.8M685.5 189.5v13.7M865.5 98v18.6M788.5 209.7v11.8M688.5 210.3v20M753.5 317.2v18.7M681.5 146.9v10.5M834.5 86.8v19M534.5 354.4v28.4M742.5 308.1v19.4M603.5 127.7v10.1M610.5 120.3v11M660.5 103.8v7.5M622.5 95.3v17.4M576.5 184.4v10.9M652.5 112.9v16.3M865.5 112.6v10.3M785.5 201.2v16.4M869.5 71.2v10.4M898.5 196.3v7.8M844.5 102.6v11.7M617.5 132.3v10.2M658.5 169.6v14.2M859.5 95.2v11.3M800.5 111.6v24.6M806.5 172.7v6.1M912.5 209.5v10.7M632.5 90.3v9.3M646.5 92.6v7.7M817.5 135.8v8.3M903.5 199v10.5M531.5 351.4v35M931.5 267.1v29.6M645.5 73.8v16.8M670.5 132.2v10.3M811.5 118.9v16.1M555.5 274.3v22.1M734.5 314.3v25M886.5 128.3v19.6M746.5 392.5v19.1M793.5 168.8v14.7M843.5 83v21.2M805.5 139v19.6M921.5 252.4v12.7M635.5 93.8v18.5M716.5 295.7v23.8M901.5 169.3v15.4M681.5 157.8v10.8M720.5 294.1v16.1M795.5 190.6v10.9M682.5 168.6v8.2M650.5 92v19.2M757.5 321.4v23.1M605.5 121.8v11.5M702.5 195v9.7M621.5 146.7v8.4M581.5 185.6v18.1M957.5 373.7v20.8M892.5 129.8v13.7M952.5 362.8v15.8M711.5 233.1v19.8M642.5 69.8v15.2M926.5 256.5v14.6M639.5 75.1v8.7M717.5 270.8v27M802.5 158.9v16.9M620.5 78.1v15M742.5 315v20.1M877.5 106.4v12.8M792.5 206.4v17.5M674.5 133.7v9.2M590.5 132.2v11.6M725.5 320.1v14M733.5 325.4v18.4M649.5 123v9.5M699.5 232.5v16.7M695.5 261.1v18.3M575.5 190.6v10.2M880.5 121.8v26.5M795.5 186.9v14M640.5 114.5v14.5M773.5 326.4v13.9M689.5 158.1v16.2M620.5 91v10.2M650.5 80.1v10.4M783.5 233.6v12.7M659.5 162.4v15.2M810.5 139.8v18.2M908.5 162.2v15.3M854.5 99v16.3M919.5 215.2v13.5M918.5 201.9v11M860.5 104.8v11.5M742.5 344.4v14.8M623.5 91.3v11.8M697.5 190v16.4M578.5 168v19.7M578.5 195.8v13.5M658.5 116.8v10.3M678.5 181v6.8M588.5 155.5v13.7M802.5 193.4v10.2M540.5 390.7v27.6M901.5 151.1v16.2M575.5 226.8v11.5M744.5 314.9v28.6M878.5 117.1v19.9M739.5 316.7v22.4M648.5 127.1v12.8M880.5 117.7v11.2M615.5 119.6v9.5M955.5 361.8v16.2M814.5 135.2v15.2M537.5 353v21.9M952.5 366.4v29.4M909.5 174.3v19.2M616.5 85.6v9.8M961.5 364.3v32.6M713.5 261.9v13.5M755.5 298.4v21.6M706.5 285v19.2M691.5 199.5v14.8M856.5 117.1v9.1M868.5 145.3v13.3M890.5 167.4v14.6M868.5 110.2v6M591.5 127.9v8.1M549.5 318.4v14M660.5 169.9v6M673.5 129.8v12.3M698.5 209.9v7.1M779.5 251.9v6M648.5 89.4v7.1M694.5 192v22.4M622.5 77.9v13.4M703.5 218.3v15.7M725.5 318.2v28.9M770.5 296.6v14.3M609.5 117.3v16.3M943.5 324.4v18.9M584.5 152.1v10M881.5 110.8v13.9M634.5 87.7v13.5M672.5 205.3v12.1M921.5 228.8v14M731.5 307.5v27.6M938.5 312.7v15.7M532.5 371.8v38.7M771.5 280.7v26.4M750.5 335.4v23.1M862.5 147v10M589.5 130.6v14.3M624.5 103.9v12.4M899.5 166.9v14.1M860.5 101v8M787.5 197.9v15.5M613.5 86.4v24.9M755.5 328.6v21.2M718.5 295.2v13.9M944.5 327.6v36.1M873.5 87.2v23.1M559.5 263.4v18.4M594.5 133.3v12.3M919.5 233.1v13.8M817.5 127.3v22.9M735.5 328.2v31.7M560.5 272.7v9M629.5 135.1v20.3M885.5 113.3v14.5M788.5 190.5v13.7M692.5 142.6v14.3M527.5 360.9v30.6M734.5 312.7v21.7M587.5 164.6v14.3M596.5 110.5v11.1M621.5 61.3v11M616.5 76.8v11.1M713.5 256v18.1M777.5 278.2v10.8M893.5 149.1v16M539.5 341.5v15.8M553.5 281v25.8M713.5 295.3v17.4M867.5 106.9v13.1M639.5 88.4v8.2M965.5 364.2v26.2M816.5 124.3v14.5M556.5 247.6v15M929.5 258.5v7.5M727.5 313.7v35.3M883.5 139.5v10.4M847.5 91.8v15M654.5 114.7v11.7M745.5 333.4v30.8M544.5 330.8v21.6M676.5 130.7v14.1M852.5 90v13M865.5 99.3v7M713.5 330.6v27.4M951.5 388.2v16.2M777.5 253.8v23.4M795.5 172v16.7M630.5 102.2v11.7M624.5 133.3v10.5M769.5 297.6v17.5M768.5 308.2v19.5M807.5 138.2v24.3M571.5 212.2v17.9M651.5 114.7v10.9M640.5 101v11.3M743.5 313.9v15.5M787.5 212.7v22.2M717.5 336.5v17.3M920.5 230.5v14.6M709.5 229.6v14M764.5 291.6v22M580.5 177v12.9M748.5 317.6v18.5M949.5 402.3v24.9M922.5 235v22.1M532.5 384.5v26.6M774.5 275.2v20.6M889.5 115v11M629.5 92.9v12.3M555.5 300.7v19.1M921.5 224.1v15.3M743.5 424.6v30.8M642.5 103.3v9M642.5 101.3v11.2M696.5 184.1v17.3M624.5 75.2v12.1M636.5 86.2v10.6M795.5 177.3v22.3M936.5 295.6v14.3M813.5 133.3v17.7M764.5 301.9v18.6M597.5 157.7v14.2M906.5 175.3v13.1M907.5 193.1v8.4M913.5 224.2v14.7M604.5 115v8.2M538.5 389v18.1M738.5 383.4v21.9M727.5 301.9v15.1M844.5 124.1v12.9M910.5 184.8v13.5M745.5 315.2v18.6M870.5 110.7v15.2M620.5 112.4v14M636.5 77.8v8.9M699.5 201.1v8.5M909.5 176.8v10.9M603.5 140.6v20.9M897.5 134.4v14.2M596.5 97.6v12.7M596.5 117.4v13.3M687.5 150.8v12.1M738.5 318.1v16.2M907.5 177.9v10.6M788.5 213.8v10.4M655.5 109v9.9M594.5 126.4v12.2M780.5 270.1v16.1M868.5 95.9v15.8M722.5 271.9v14.2M626.5 67.6v13.1M660.5 100.4v18.7M726.5 307.4v19.5M914.5 201.2v27.4M930.5 249.7v27.8M573.5 221v14.6M558.5 262v26.2M653.5 135.9v19.2M759.5 304v26.4M951.5 356v22.9M866.5 67.1v13.9M664.5 149.6v11.4M535.5 385.1v18.6M814.5 138.2v16M853.5 143.4v13.4M910.5 177.6v6M908.5 185.3v12M852.5 110.9v12.9M771.5 285.2v18.1M695.5 210.1v17.4M672.5 158.8v12.1M876.5 92.6v10.2M792.5 185.9v9.4M866.5 124.3v14.8M631.5 103.9v14.7M579.5 147.5v30.8M530.5 364.6v16.7M560.5 265.8v17.8M687.5 180.4v13.2M937.5 307.9v23.1M670.5 114.3v19.1M540.5 358.5v23M727.5 330.1v18.3M810.5 127.8v19M570.5 187.7v20.8M757.5 374.2v16.1M654.5 143v12.5M635.5 84.3v15.4M538.5 378.3v23.6M741.5 310.4v28.8M546.5 326.8v21.2M565.5 238.3v23.8M791.5 204v10.7M805.5 145.8v6.9M909.5 177.2v15.7M745.5 356.7v24.3M892.5 159.9v8.5M606.5 144.6v12.9M766.5 299.7v17.5M937.5 300.5v23.6M555.5 276.1v15.4M876.5 114.3v16.2M597.5 120.2v15.9M764.5 328.1v30.6M914.5 211.5v13.4M674.5 132.5v12M627.5 87.2v11.4M665.5 143v12.2M627.5 88.7v14.4M756.5 319.7v29.6M573.5 182.7v11.4M605.5 115.8v13.1M872.5 97.9v16.7M624.5 72.4v11.5M824.5 134.3v11.6M725.5 334.5v19.6M575.5 217.6v10M623.5 95.2v10.3M868.5 89.3v7.9M924.5 246v19.6M831.5 120.1v17M747.5 324.9v16.4M958.5 389.6v27M612.5 80.7v14.3M562.5 254.5v21.8M621.5 90.6v11.6M742.5 337.9v15.8M856.5 96.8v15M747.5 320.5v20.7M884.5 130.9v12.1M836.5 94.2v9.5M566.5 226.8v17.4M893.5 149.5v13.7M676.5 138.4v17.6M769.5 267v34.7M680.5 143.4v13.5M639.5 70.9v11.6M708.5 226.1v18.5M851.5 88.7v11.7M816.5 131v10.2M888.5 169v18.3M612.5 96.1v14.2M702.5 219.6v15.8M536.5 373.8v14.8M736.5 328.5v24.6M647.5 92.6v19.9M763.5 326.6v22.8M837.5 105.6v13.4M941.5 319.5v19.2M542.5 334.3v27.9M784.5 211v12.9M954.5 370.5v19.4M680.5 201.2v10.6M931.5 265.1v14.5M675.5 141.6v15.5M853.5 141.8v8.7M708.5 230.7v17.2M808.5 144.8v20.8M823.5 139.7v7.4M590.5 125.1v13.8M607.5 122v16.5M755.5 342.1v19.6M597.5 125.7v11.5M894.5 119.2v15.2M812.5 142.1v16.5M562.5 249.3v14.9M881.5 130.7v12.6M908.5 177.7v16.2M529.5 372.2v16.3M569.5 205.3v15.4M593.5 147.2v11.6M565.5 237v17.4M814.5 137.5v11.6M953.5 359.3v30.8M849.5 103.3v11.3M554.5 287.2v13.4M924.5 237.3v22.2M678.5 124.2v19.8M732.5 299.5v31.4M845.5 89.9v13.5M787.5 216.1v14.7M613.5 114.6v13.2M627.5 78.7v11.3M586.5 143.1v13M638.5 79.2v8.8M756.5 318.4v28M576.5 194.4v11.1M916.5 216.6v11.3M886.5 114.1v14.5M866.5 118.8v6.3M775.5 301.4v10.8M834.5 89.6v9.5M651.5 135.2v8.7M933.5 288.3v21.5M902.5 170.9v14.9M811.5 137.9v11.3M612.5 102.9v18M784.5 252.7v15.2M687.5 165.9v11.3M615.5 105.5v8.7M738.5 344.7v39.9M804.5 155v8.5M696.5 225.9v7M614.5 136.7v11.1M662.5 126.8v9M780.5 238.1v28.4M805.5 143.7v17M674.5 136.2v18.7M899.5 167.2v18M714.5 270.6v12.3M774.5 338.3v25.4M883.5 98v11.5M919.5 222.4v15.3M736.5 286.4v38.7M861.5 104.6v8.5M598.5 113.5v16.2M784.5 219.2v19.5M923.5 276.2v21.5M796.5 166.4v27.1M716.5 320.4v21.1M895.5 183.7v12.8M640.5 98.1v13.6M836.5 113.9v11M881.5 106.7v8.4M632.5 66.1v9.9M856.5 94.7v16.6M673.5 164.5v8.6M642.5 70.1v13.1M664.5 129.4v8.3M751.5 315v22M920.5 264v14.5M674.5 126.7v14.2M870.5 163.6v16.1M779.5 260.7v18.8M829.5 107.4v9.8M954.5 357.3v35.4M583.5 128.1v13.4M743.5 317.9v27.1M670.5 130.4v12.1M754.5 370.8v26M677.5 234.3v8M917.5 190.5v11.5M582.5 204.5v9.4M759.5 318.9v16.5M823.5 123.2v9.5M895.5 126.2v14.1M856.5 105.4v9.9M784.5 233.6v14M735.5 317.2v18.8M875.5 138.5v18.9M669.5 140.9v14.3M605.5 80.7v9.6M567.5 247.5v17.6M838.5 100.7v13.3M645.5 126.8v10M931.5 262.7v17M594.5 137.1v10M750.5 333v22M882.5 125.3v8.7M842.5 88.8v12.1M536.5 354.8v41.2M862.5 96.1v13.4M949.5 386.6v15.1M629.5 83.7v12.6M895.5 166v11.4M779.5 260.8v14.3M629.5 96.1v10.6M960.5 370.9v33M933.5 315.2v19.5M880.5 124.7v7.5M527.5 376.9v22M822.5 124.9v20.8M724.5 298.6v25.6M644.5 78.5v6.7M904.5 168.9v13.6M601.5 119.4v19.1M581.5 198.9v12.1M793.5 170v18.8M807.5 158.3v20.1M872.5 114.4v22.2M655.5 79v17.2M819.5 133.9v14.9M852.5 115.9v17.7M954.5 354.4v31.9M861.5 106.8v8M655.5 118.6v12.6M722.5 306.9v17.6M642.5 83v10.1M694.5 185v14.6M595.5 173.1v13.4M837.5 96.3v13.2M596.5 113.2v10.6M872.5 101v13.9M710.5 262.7v18M724.5 285.5v10.9M952.5 367.9v23.3M838.5 109.5v12.5M547.5 311.1v35.1M789.5 201.3v8.4M879.5 125.3v13.3M756.5 347.3v19.4M772.5 333.3v14.4M868.5 97.6v17.1M874.5 82v30.9M671.5 135.9v10.8M617.5 103.2v17.1M776.5 324.7v16.6M660.5 165.8v16.1M886.5 170.9v14M873.5 148.9v10.9M953.5 366.2v26.2M567.5 216.3v10.1M846.5 87.8v14.8M670.5 124.4v9.5M921.5 226.7v13.5M543.5 329.3v31.6M689.5 170.5v7.3M706.5 228.8v14.3M841.5 119.7v13.3M601.5 139.1v17.2M861.5 114.8v12M565.5 202.2v11.9M767.5 294.1v24.8M791.5 184.1v9.6M817.5 123.9v12.9M853.5 98.3v10.6M663.5 110.1v8.9M711.5 259.3v13M782.5 247v12.8M689.5 162.7v11.5M665.5 133.1v13.7M962.5 352.4v23M527.5 375.1v23M649.5 125.2v12.8M594.5 149.6v9.2M712.5 246v18.9M916.5 203.7v8M806.5 62v12.4M941.5 336.6v13.6M567.5 230.5v14.7M963.5 381.1v32.7M897.5 205.9v9.7M919.5 221.7v18M727.5 281.1v21.1M848.5 89.4v15.9M570.5 208.7v9.4M966.5 371.6v24.9M591.5 136v15.7M739.5 352v10.9M728.5 334.6v23.7M588.5 152v13.4M592.5 153.7v8.4M721.5 290.8v15.7M672.5 242.4v17.2M765.5 324.9v23.1M781.5 247.4v15.9M851.5 108.5v15.7M800.5 146.2v15M732.5 324.3v21.7M774.5 274.7v19.8M826.5 122.7v16.2M641.5 106.7v6M852.5 90.7v13.5M826.5 105.6v12.9M815.5 122.9v20.7M645.5 79.1v14.9M662.5 169.2v9.4M823.5 139.2v10.4M550.5 301.8v19.4M673.5 131.3v13.7M696.5 198v14.2M582.5 172v7.8M807.5 146.1v12.3M964.5 363.8v18.4M936.5 294.5v24.5M556.5 276v15.9M763.5 317.8v19.2M677.5 163v8.6M813.5 159.5v11.2M883.5 128.5v9.2M539.5 353.8v20.9M776.5 262.7v17.7M630.5 85.3v15.6M699.5 235.5v11.6M740.5 308.4v14.7M822.5 112.1v18.9M700.5 234.1v8.9M893.5 143.7v13.1M686.5 170.3v10.8M636.5 95.2v14.6M743.5 324.6v18.6M957.5 362.9v23.3M599.5 168.2v16.6M560.5 268.5v18.3M592.5 158.9v8.8M920.5 223v13.4M844.5 112.5v11.7M875.5 113.5v17.1M865.5 139.2v7.7M671.5 136.2v11.1M704.5 282.5v14M680.5 214.2v19.9M758.5 343.9v19.4M562.5 245.7v14M758.5 318.2v23.2M722.5 343.7v19.3M781.5 262.5v24.6M943.5 363.7v16.6M708.5 232.1v30M599.5 105.1v15.3M578.5 169.5v17.1M656.5 83.6v19.9M643.5 98.3v6.3M754.5 336.6v15.1M759.5 324.2v20.6M873.5 99.8v18.8M762.5 306.5v19.9M953.5 362.3v22.8M824.5 130.5v11.2M769.5 293.6v15.5M899.5 155.6v9.8M948.5 367v33M614.5 95.9v9M938.5 337.3v9.6M924.5 229.2v12.2M790.5 199.6v19.2M764.5 303.7v17.9M732.5 295.4v18.3M850.5 92.5v14.1M790.5 217v11.1M778.5 241.5v20.3M925.5 245.5v13.9M923.5 220.9v18.7M712.5 271.6v11.9M842.5 76.5v19.7M564.5 235.9v13.2M751.5 307.6v30.5M684.5 158.2v7.7M835.5 101.9v18M716.5 276.1v16.5M776.5 265.9v11.7M757.5 337.6v19.3M855.5 129.4v15.5M725.5 309.7v14.7M549.5 303.3v29.7M700.5 214v9.6M820.5 109v15.9M826.5 105v8.2M815.5 119.4v14.2M855.5 103.5v12.4M582.5 144.9v10.6M648.5 67.7v23.4M801.5 185.1v8.7M898.5 156.7v7.3M838.5 104.4v15.4M606.5 120.9v11.5M633.5 85.1v17.3M819.5 116v12.1M896.5 127.4v18.2M774.5 276.3v29.2M721.5 296.5v20.6M600.5 142.8v12.7M571.5 207.4v13.4M663.5 139.3v11.5M842.5 106.2v12.5M601.5 112v20.1M717.5 264.4v10.3M954.5 360.2v31.8M889.5 122.1v13M924.5 260.1v13.1M787.5 217.5v16M870.5 83.3v14.1M702.5 211.8v16.6M867.5 102v14.2M773.5 293.6v14.2M671.5 170.3v15.4M806.5 153.2v8.9M953.5 371.7v42.1M559.5 251.6v26.4M794.5 216.1v11.8M704.5 246.3v17.1M612.5 113.3v11.5M603.5 161.8v23.7M734.5 326.9v17.7M678.5 166.2v11.6M548.5 291v16.6M637.5 86.2v8.1M710.5 266.3v16.3M712.5 270.9v20.8M626.5 77.3v14.1M698.5 228v9.5M774.5 279.9v24.5M608.5 113.2v14M788.5 197.7v17.2M900.5 161.2v12.7M723.5 294.9v14M615.5 103.1v8.1M679.5 163.1v12.3M952.5 391.5v41.9M792.5 168.7v14.1M896.5 143.9v20.7M917.5 204.1v21.4M775.5 288.7v18.4M824.5 118.6v11.6M706.5 225.1v13.9M681.5 218.9v12.6M738.5 314v23.8M700.5 200.2v12.5M774.5 270.2v24.4M964.5 356.3v34.7M881.5 123.1v10.1M924.5 260.5v21.9M642.5 98.9v13.4M670.5 147.5v11.8M697.5 190.9v11.8M774.5 280.8v17.3M543.5 316.7v38.2M923.5 230.9v12.8M873.5 155.1v20.9M875.5 145.9v14.7M581.5 170.6v11.3M590.5 156.3v16.7M709.5 294.7v11.2M916.5 227.3v12.3M558.5 267.4v20.1M556.5 292.8v20.1M860.5 107.5v8M874.5 90.5v25.7M753.5 292.3v23.9M741.5 317.3v22.6M602.5 124.8v13M608.5 114.9v12.4M592.5 149.1v11.1M640.5 141.9v9.2M908.5 152.9v7.8M786.5 282.9v13.8M798.5 164.2v14.1M670.5 175.6v10.8M745.5 314.9v16.8M889.5 145v8.1M806.5 161.5v11.1M652.5 157v10M610.5 98.6v14.6M687.5 109.7v18.4M668.5 112.2v10.6M580.5 161.7v12.3M668.5 123.9v12.6M635.5 79.2v11.9M895.5 149.2v8.6M599.5 129.1v10.4M753.5 319.8v22.2M866.5 96.3v10.7M659.5 101.4v7.7M609.5 105.3v9.6M800.5 173.8v12.2M706.5 224.8v14.4M744.5 328.8v16.4M567.5 230.7v16.1M622.5 79.8v12.4M867.5 115.3v20.5M964.5 369.2v20.5M665.5 165.6v17.2M679.5 202.3v8.6M738.5 317.1v13.6M738.5 328.7v26.6M678.5 152.6v10.8M647.5 101.7v14.5M602.5 134.7v8.8M886.5 126.6v16M646.5 92.1v7.3M703.5 214.1v26.1M699.5 200.5v27M816.5 108.5v19.3M596.5 144.7v15.5M897.5 165.8v11.8M590.5 133.7v16.6M814.5 163.3v14.8M915.5 243.9v11.8M653.5 124.9v7.9M651.5 97.6v11.8M883.5 137.6v14.4M825.5 108.5v10.9M597.5 110.7v8.6M607.5 117.4v9.8M938.5 322.5v18.8M908.5 194.3v26M875.5 115.5v12M703.5 218.2v17.1M653.5 125.7v7.2M627.5 83.4v13.9M880.5 123.7v12.6M595.5 110.9v12.2M705.5 224.2v14.1M960.5 396.1v20.5M649.5 88.5v13.5M810.5 154.8v10.1M830.5 116.8v12.5M933.5 286.6v19M941.5 315.4v30.2M784.5 210.5v23.7M956.5 369.3v12.4M556.5 292.4v17.5M539.5 333.6v28.2M849.5 95.5v11.6M798.5 162.2v18M701.5 210.5v35.9M827.5 165v11.6M896.5 145.9v10.2M827.5 118.5v18.4M843.5 92.2v9.7M816.5 132.9v10.7M727.5 288.1v24.3M730.5 302.4v20.6M623.5 98.6v8M807.5 167.9v10.2M683.5 201.2v11.3M534.5 345.5v49.5M785.5 225.8v18.9M805.5 150.2v18.6M858.5 98v9.5M646.5 69.9v16.9M698.5 237v15.4M967.5 381.1v35.1M637.5 73.8v15.7M694.5 203.7v15M932.5 267.9v25.3M641.5 122.7v12.4M589.5 128.7v19.3M603.5 116.6v14.2M607.5 115.5v10.8M625.5 98.8v11.5M532.5 363v38.1M543.5 328.1v30.4M826.5 89.2v10.8M849.5 101.5v11.9M848.5 85.6v10.2M747.5 334.5v24.3M739.5 314.2v16.7M891.5 108.6v11.3M814.5 156.8v12.6M866.5 81.1v7.5M777.5 292.4v15.8M774.5 264.6v17M902.5 196.8v8.7M808.5 155.9v9.9M801.5 167.7v15.2M614.5 123v13.9M801.5 191.7v9.6M633.5 84v10.9M899.5 174.6v19.7M969.5 352.8v56.6M891.5 139.3v17M744.5 328.4v16.5M720.5 296.8v32.9M909.5 157.8v21.1M581.5 147.9v16.1M834.5 106.9v14.1M622.5 78.1v17.7M921.5 227v13.6M582.5 169v8.7M666.5 121.1v16.2M732.5 318v20.8M635.5 145.3v9.3M895.5 138.5v9.4M965.5 349.6v47.8M543.5 336.9v26.2M715.5 274.5v16M810.5 155.3v7.5M734.5 306.8v20.2M721.5 281.7v11.1M864.5 151.5v9.8M623.5 105.9v11.7M953.5 369.3v23.5M882.5 127.1v11.5M595.5 123.6v7.3M533.5 367.1v30.4M673.5 98.5v12.6M625.5 69.9v12.9M578.5 182v13.7M857.5 73.7v6M565.5 235.1v22.4M671.5 142.4v22M654.5 79.7v10.7M871.5 102.8v12.3M939.5 315.5v32.3M748.5 320.9v17.9M699.5 211.7v14.5M670.5 108.9v13M663.5 110.3v13.1M842.5 132.2v8.7M547.5 329.4v27.6M890.5 147.6v9.9M639.5 127.5v6.6M531.5 361.4v19.9M851.5 90.8v9.9M616.5 116v15.5M721.5 276.1v34.9M675.5 151.6v13.8M767.5 294.2v29.6M689.5 195.5v7M859.5 86.4v9.8M782.5 228.1v16.7M839.5 102.4v13.9M885.5 124.2v7.4M728.5 316.2v13.3M706.5 236.9v15.6M865.5 103.5v16.2M834.5 80.5v14M637.5 97.3v14M917.5 232.5v13.1M926.5 247.3v21.7M873.5 142.3v13.7M642.5 103.8v8.4M854.5 110v8.3M902.5 164.7v15M751.5 407.5v15.4M598.5 143.5v12.3M630.5 79v15.2M820.5 131.5v9.6M579.5 175.2v8.4M627.5 85.5v10.9M571.5 211.7v20.1M755.5 329.6v20.3M608.5 133.1v12.8M631.5 99.2v17.3M921.5 241.5v16.8M886.5 116.7v9.5M637.5 92.2v11.3M681.5 144.6v11.3M593.5 122v8M826.5 99.1v12.1M796.5 184.1v13.8M759.5 327.5v24M956.5 360.3v15.6M672.5 134.1v16.2M794.5 183.4v11.3M622.5 114.3v7.8M840.5 148.3v11M827.5 135.5v15.8M684.5 222.2v16M527.5 357.1v41.6M678.5 144.1v17.7M605.5 116.4v10.8M803.5 186.5v10.5M637.5 95.9v11.8M601.5 125.8v7.1M718.5 306v14.8M772.5 280.4v12.6M617.5 97v10.7M696.5 203.7v19.5M659.5 127.2v8.5M952.5 361.1v13.8M910.5 204.9v22.8M600.5 142.3v6.5M919.5 223v13.4M788.5 243v10.8M671.5 132.4v19M857.5 105.3v10.6M617.5 97.1v19.5M812.5 147.1v15.9M819.5 107.3v10.3M735.5 383.6v23.8M701.5 216v8.2M529.5 380.7v33.5M864.5 114.6v6M794.5 178.7v10.3M846.5 113v12.2M699.5 246.9v13.6M866.5 87.6v6M591.5 135.5v10M871.5 116.1v8.7M691.5 175.4v15.5M812.5 122.6v7.7M592.5 136.5v10.1M794.5 167.2v18.2M934.5 286.9v15.7M862.5 104.3v9.3M862.5 104v19.5M866.5 127v12.3M595.5 131.4v11.6M651.5 58.9v23.9M846.5 98v8.6M579.5 175.9v13.3M665.5 131.5v14.8M543.5 339.1v20.8M612.5 109.4v15.5M829.5 111.2v12.4M894.5 152.2v11.2M918.5 212.7v9.8M862.5 66.9v12.4M906.5 176.1v10M810.5 161.1v26.1M752.5 311.5v28.6M832.5 143.9v12.6M849.5 106.4v11.9M557.5 285v12.3M900.5 157.3v14.3M741.5 357.3v28.1M771.5 280.6v14.8M715.5 326.5v17.8M811.5 119.9v15M635.5 98.5v7M684.5 162.6v13.4M740.5 326.9v18.2M613.5 113.7v7M790.5 258.9v11.2M730.5 301.3v17.4M870.5 151.1v8.6M879.5 102.2v10.9M849.5 140.8v13.2M741.5 306.6v44.6M772.5 326.2v16.7M658.5 123.4v9.5M669.5 136.6v14.9M569.5 215.3v11.3M925.5 249.9v20.6M704.5 286v15.7M941.5 332.5v11.5M828.5 97.8v12.9M891.5 140.2v13.8M606.5 123.1v15.9M610.5 96.7v13M580.5 253.5v14.2M812.5 150.4v16.6M728.5 310.2v14.6M757.5 337.8v19.9M829.5 129.9v9.8M891.5 150.5v19M809.5 141.7v16.9M866.5 100.7v12.8M537.5 341.2v26.4M600.5 137.9v10.1M910.5 169v13.5M717.5 337.5v26.6M703.5 217.5v12.3M593.5 114.7v11.9M577.5 177.4v13.2M721.5 305.7v18.6M576.5 216.3v15.2M882.5 104.2v10.4M792.5 198.9v12.3M918.5 221.1v20.3M618.5 87.8v8.5M581.5 149.8v13.8M613.5 83.9v12.4M591.5 137.7v15.3M560.5 255v26.4M815.5 152v6.6M825.5 153.9v6.9M643.5 104.2v12.4M719.5 262.3v27.9M711.5 300.2v17.3M817.5 138.2v7.1M937.5 292.5v23.6M600.5 116.6v25M690.5 223.3v15.2M938.5 304.1v20.8M605.5 128.7v10.8M611.5 114.4v10.4M836.5 81.8v11.3M871.5 98.9v12M533.5 379.9v24.1M859.5 82.2v14.6M763.5 319.5v22.9M643.5 88.9v15.4M782.5 278.8v14.4M680.5 198.4v19.8M859.5 102.5v11.6M922.5 227.2v17.8M527.5 363.1v34.6M854.5 106.2v16.5M866.5 48.2v13.4M646.5 115.3v13.7M835.5 129.2v12.9M695.5 202.4v16.9M657.5 111.4v16.4M783.5 228.9v23.5M863.5 109.6v16.3M923.5 232.9v14.5M585.5 158.9v6.9M838.5 150.7v17.2M777.5 256.5v16M865.5 92.2v8.5M893.5 119v18.8M574.5 217.6v11.9M836.5 122.2v10.5M622.5 83.3v6.6M702.5 228.6v15.5M556.5 296v18.1M787.5 234.7v18.6M818.5 162.3v13.3M715.5 305.2v19.2M675.5 134v16.6M628.5 79.5v9.6M635.5 95.8v11.2M704.5 235.7v20.8M895.5 159.5v14.2M586.5 154.2v9.2M536.5 364.2v20.6M965.5 360.4v36.6M887.5 105.4v13.7M885.5 136.1v17.5M874.5 131.9v19.2M852.5 112.8v9.2M850.5 102.8v13M549.5 308.2v18M685.5 191.9v14.6M849.5 105.8v14.5M781.5 273v17.9M750.5 310.1v19.1M550.5 318.8v10.6M848.5 107.8v7.6M617.5 90.2v12.5M752.5 326.1v22.5M959.5 361.8v26.9M740.5 343.5v24.1M827.5 127.7v11.8M693.5 195.4v17.7M810.5 130.6v13.7M575.5 203.2v11M572.5 230.9v9.5M590.5 144.6v12M839.5 72.6v14.2M614.5 123.2v10.1M613.5 115.5v10.9M809.5 126.6v18.5M673.5 131.6v12.5M801.5 166.8v9.9M597.5 110.1v22M579.5 182v15.2M753.5 306.5v25.4M635.5 100.3v7.2M601.5 161.5v12.2M780.5 235.5v23.9M826.5 118.2v17M825.5 123.9v9.1M964.5 397.7v30.3M750.5 336.4v14.8M706.5 201.4v16.2M601.5 123.9v12.8M708.5 233.8v16.6M791.5 209.5v17.9M677.5 168.3v18.8M945.5 361.7v29.6M933.5 290.5v22.2M778.5 288.5v21.1M684.5 213.9v7.7M628.5 74.9v10.7M578.5 194.9v14.7M576.5 194.4v15.8M544.5 322.9v23.9M640.5 72.7v11.8M913.5 212.7v13.3M578.5 188v20.4M748.5 314.6v14.2M674.5 159.6v14M689.5 147.1v17.5M544.5 348.7v26.5M721.5 328.9v19M698.5 191.6v13M965.5 376.4v14.5M952.5 423.7v26.8M936.5 313.2v24.1M785.5 210v17.7M601.5 130.2v10.6M959.5 369.3v18.9M702.5 223.2v8.3M745.5 336.8v22.1M839.5 89.7v17.7M628.5 76.2v9.4M741.5 320.5v22.2M633.5 76v11.3M636.5 99.1v11.6M683.5 158.1v19.2M932.5 271.8v20.7M816.5 116.8v14.9M700.5 236.5v11.8M677.5 138.2v11.6M709.5 304.3v13.6M591.5 83.5v10.2M916.5 195.5v24.6M691.5 178.2v16.4M742.5 310.6v23.9M571.5 219.3v13.5M754.5 327v21.3M968.5 381.2v24.6M574.5 187.5v15.3M643.5 94.5v15M799.5 142.5v16.7M706.5 215v27.3M883.5 139.4v15.8M790.5 225.3v11.9M911.5 176.5v21.1M880.5 96.9v12.1M591.5 153.6v18.5M680.5 166.5v16.4M765.5 338.9v25.8M919.5 221.6v14.3M660.5 116.7v6.3M575.5 179.7v9.4M879.5 113.6v17.3M615.5 92.3v8.2M823.5 110.1v10.8M830.5 122.2v12M631.5 86.7v9.8M901.5 166v18.9M701.5 280.4v21.7M624.5 86.7v14.7M677.5 150.9v9.3M617.5 92.6v13M969.5 371.4v26.6M532.5 381.3v26.4M905.5 186v17.5M839.5 141.5v17.7M776.5 296.7v16.1M625.5 54.7v10.8M668.5 148.8v17M947.5 332.5v34.5M890.5 139v13.9M580.5 186.9v12.4M721.5 344.2v30.8M947.5 394.1v21.8M541.5 377.6v15.6M762.5 315.6v26.7M849.5 106.1v9.4M644.5 82.9v11.4M708.5 235.6v19.8M799.5 174.2v9.7M903.5 188.2v13.2M836.5 99v7.6M627.5 114v9.3M798.5 186.6v12.1M669.5 113.6v10.2M885.5 113.6v9M847.5 65.9v14.5M904.5 196.5v18.7M532.5 383.1v22.7M792.5 185.5v14M592.5 129.2v8.7M919.5 223.9v14.1M802.5 148.6v15.2M636.5 88.9v8.7M673.5 124.9v10.9M872.5 122.6v13.7M751.5 340.8v24.2M660.5 103.8v14.5M967.5 368.4v14.5M916.5 191.9v16M566.5 227.4v13.2M796.5 163.8v17.9M747.5 333.9v27.2M656.5 104.5v17.6M800.5 122.4v11.7M856.5 111.6v14.2M813.5 137.6v7.6M686.5 161v15.8M784.5 249.8v12.3M528.5 359.4v28.5M640.5 99.6v17M810.5 140.6v8.9M814.5 128v13.4M582.5 165.6v10.8M681.5 178.2v7.5M956.5 367.6v19.9M623.5 98.3v13.8M597.5 132.9v16.3M750.5 325.1v29.5M688.5 159.6v9.6M757.5 310.5v29.4M556.5 286.9v16.9M828.5 102.6v21.1M706.5 256.8v15.4M567.5 213.8v11.7M758.5 344v37.6M788.5 187.7v13M666.5 108.1v7.3M631.5 103v11.5M919.5 218.6v16.8M809.5 144.1v15.8M663.5 131.8v14M873.5 123.3v10.5M706.5 249.9v20.1M738.5 306.4v18.1M591.5 151.9v12.1M661.5 111v9M688.5 185.1v10M891.5 137.7v11.6M625.5 118v8.8M757.5 312v15.7M635.5 115.1v14.5M856.5 102.3v7.1M592.5 129.7v7.7M744.5 305.7v24.4M641.5 89.9v18.7M842.5 95.8v11.8M961.5 358.9v36.3M832.5 107.3v9.2M528.5 363.6v28.9M854.5 92.7v10.8M850.5 100.8v10.1M889.5 125.9v21.1M854.5 136.6v13.9M593.5 165v19.4M940.5 324.1v20.3M641.5 113.9v17.7M885.5 138.2v7.9M583.5 178.8v15.8M562.5 260.2v7.1M652.5 110.6v14.8M570.5 221.3v15.8M667.5 123.6v12.4M596.5 140.4v9.4M871.5 99v19.2M913.5 192.9v13.3M786.5 199.7v12.3M631.5 88.5v14.6M544.5 324.8v29.6M568.5 206v8.8M646.5 113.9v13.3M649.5 92.2v7.9M654.5 108.2v14.7M896.5 151.1v10.7M847.5 92.7v14.8M780.5 241.2v24.6M716.5 281.8v15.3M633.5 104.7v7.9M790.5 179.7v8.9M643.5 104.1v13M885.5 158.3v20.2M933.5 273.8v23.6M767.5 312.2v21.2M544.5 318.8v16.1M830.5 113.8v14.7M666.5 159v10.1M560.5 248.2v26M841.5 108.9v9.9M860.5 88v12.8M545.5 306.7v22.3M896.5 136.5v18.8M628.5 94.1v10.4M874.5 124.7v7.9M893.5 140.1v10M772.5 300.2v20.9M793.5 193.1v15.9M940.5 311.4v19.4M596.5 140.3v8.4M756.5 355.2v30.3M691.5 167.2v13.5M535.5 358.2v31.7M571.5 213.8v10.8M679.5 155.9v14.6M906.5 155.4v13.3M904.5 181.5v13.2M666.5 119.6v12.1M847.5 97.4v9.7M786.5 215.9v14.3M895.5 153.7v12.3M868.5 91.9v11.7M667.5 121.2v19.2M913.5 199.4v15.4M830.5 122.5v14.1M581.5 165.9v15.8M564.5 226.7v9.5M553.5 285.5v13.9M881.5 126.6v17.7M748.5 341.1v22.5M569.5 193.8v15.7M813.5 151v10.8M818.5 106v21.3M916.5 201.4v22.9M803.5 192v13.8M970.5 398.9v27.3M771.5 283.1v18.7M729.5 306.1v28.9M887.5 177.6v17.1M643.5 73.8v13.6M636.5 119.1v11.5M847.5 94.6v18.8M828.5 121.6v12.2M622.5 89.4v7.9M774.5 261.9v28.6M565.5 228.3v14.3M907.5 182.6v18.4M956.5 353.9v30.6M699.5 309.3v10.9M909.5 179.3v7.9M903.5 155.8v11.1M689.5 206.7v15.3M633.5 91.2v9.3M782.5 226.6v11.7M697.5 222.9v26M533.5 358.1v39.3M755.5 299.2v24M691.5 242.8v8.8M603.5 140.1v20.7M792.5 201.9v16.5M642.5 117.4v14.3M968.5 376.5v19.4M808.5 144.2v18.3M876.5 113.9v20.7M884.5 108.5v10.8M614.5 97v13.6M913.5 188.4v26.1M886.5 144.5v22.3M790.5 213.9v15.8M906.5 151.6v19.3M708.5 252.7v22.7M636.5 89.6v13M665.5 67.9v14.2M876.5 95.6v9.8M796.5 166.7v12.6M755.5 331.7v14M571.5 198.4v15.2M786.5 209.4v19.9M834.5 137.3v7.9M903.5 156.7v12.4M734.5 314.3v16.7M817.5 150v21M588.5 151.3v8.7M895.5 201v13M943.5 319.3v25.1M586.5 149.3v13.2M800.5 142.4v10M813.5 132.5v12M833.5 120.4v15.8M722.5 291.9v27.7M672.5 211v10.9M650.5 106.5v8.9M782.5 250v10.3M583.5 155.3v11.9M741.5 321.4v25.2M919.5 253.6v14.6M672.5 147.3v15.7M797.5 164.5v16.5M662.5 104v8.5M758.5 327.6v19.7M801.5 126.7v10.5M619.5 100.5v6M881.5 118.3v10.7M657.5 171.3v10.6M963.5 362.1v28.3M689.5 194.3v22.1M540.5 335.4v19.4M794.5 169.1v10.7M910.5 203.3v10.2M756.5 309.9v32.2M916.5 231.4v10.5M721.5 316.2v14.2M765.5 307.3v23.8M705.5 230.4v11.4M617.5 92.6v19.3M912.5 206.7v15.8M744.5 323.7v9.6M839.5 90.5v6.8M829.5 121.1v6.4M604.5 113.1v15.5M544.5 327.3v28.9M592.5 127.9v7.9M536.5 353.3v20.3M629.5 95.3v17.2M698.5 209.4v18.1M623.5 77.6v7.2M876.5 107.6v12.4M649.5 80v14M593.5 142.4v9.6M619.5 80.6v12.3M617.5 93.5v9.1M608.5 103.7v10.9M587.5 157.6v13.7M960.5 404.4v30.4M581.5 155.7v17.3M937.5 304.6v20.8M661.5 134.4v10.8M575.5 200.7v12.2M685.5 175.2v14.4M741.5 331.8v17M815.5 145.9v12.9M959.5 389.6v32.3M796.5 166.9v15.9M831.5 112.2v12.5M610.5 109.4v12.5M719.5 344.1v15.8M866.5 119.8v17.4M607.5 97.4v15.7M601.5 112.3v7.7M821.5 114.4v15.7M775.5 279.9v14.4M623.5 85.6v8.7M676.5 144v15M610.5 93.7v20M601.5 137.8v12.3M799.5 194.2v9.7M554.5 283.8v12.4M668.5 146v10.4M898.5 141v12.7M886.5 180.6v16M621.5 102.2v12M644.5 90.9v9.4M648.5 91.8v13.1M707.5 241v8.1M618.5 78.2v16.5M695.5 180.8v14.4M621.5 109.3v13.2M779.5 305v22.6M664.5 142.2v14.9M572.5 224.7v12.9M560.5 257.5v14.4M862.5 121.5v11.7M637.5 96v14.2M581.5 162.9v9.5M684.5 160.4v12.1M782.5 231.8v23.8M959.5 363v26.5M632.5 94.3v10.4M962.5 352v21.5M703.5 211.3v16.2M570.5 222.9v12.2M560.5 264.6v24.2M558.5 271v19M598.5 137.1v9.2M563.5 238.1v12.8M608.5 108.6v15.4M691.5 179.3v12.4M868.5 146.4v9M700.5 232.7v12.5M856.5 92.7v8.2M930.5 272.2v22.1M818.5 138.3v18.4M886.5 137.3v12.2M674.5 120.3v10M546.5 323.4v14.1M725.5 308.5v12.9M908.5 191.3v14.5M606.5 114v14.5M583.5 159.8v23.1M725.5 286.5v19.8M661.5 128.9v15.8M528.5 369.6v35.8M880.5 112.6v9.3M847.5 84.1v16.3M955.5 371.4v24.6M536.5 345.4v31.9M580.5 173.3v9.8M715.5 308v11.1M852.5 63.5v16M645.5 108.9v11M577.5 204.2v17.2M580.5 162.6v20.3M695.5 177.8v12.9M682.5 177.6v14.3M932.5 266.6v16.9M726.5 288.1v27.2M729.5 298v25.4M765.5 308.5v25.3M554.5 270.4v25.1M719.5 278.6v23.4M630.5 87.5v8.4M812.5 135.3v12.2M770.5 329.2v14.1M651.5 100.5v12.6M541.5 342.2v26.2M659.5 134.2v6.4M836.5 98.3v8.3M775.5 269.2v32.1M584.5 160.3v16M556.5 281.7v13M808.5 139.2v13.4M964.5 375.1v24.9M927.5 265.7v20.4M870.5 121.9v19.6M851.5 99.7v7.8M646.5 89.8v12M928.5 250v13.2M674.5 132.9v6M692.5 181.8v12.6M836.5 86.5v13M555.5 295.5v14.1M710.5 261.1v11.7M598.5 151.2v7.7M810.5 144.6v8.5M642.5 96.8v16.9M700.5 206.3v14.5M763.5 315v35.4M889.5 133.2v19.1M866.5 94.9v12.2M636.5 94.3v15M857.5 151.7v10M866.5 120.2v7.3M848.5 131.6v10.5M601.5 97.1v10.4M754.5 288.5v29.8M751.5 350v24.6M566.5 228v13.8M902.5 158.4v18.8M732.5 345.2v23.7M707.5 240.8v19.1M854.5 87v14M647.5 117.8v10.6M813.5 154.4v8.8M888.5 154v13.3M811.5 137.9v13.2M738.5 370.9v26.8M799.5 172.6v11.9M802.5 161.8v6.2M727.5 341.3v16.2M695.5 226.8v15.7M720.5 298.1v19.9M648.5 89.2v8.4M922.5 238.1v17.9M569.5 205.2v13.9M948.5 360v19.4M836.5 107.5v6M611.5 106.5v12M580.5 174.7v15.1M670.5 111.5v11.4M705.5 221.3v15.1M765.5 361.7v24.2M759.5 324.6v23.4M830.5 112.3v7.7M865.5 98.1v11.3M637.5 88.8v12.4M772.5 292.6v12.3M589.5 175.8v11.5M616.5 117.3v10.6M809.5 146.5v6.7M609.5 110.4v20.7M764.5 305.7v24.3M615.5 93.9v16.8M665.5 132.3v16.8M720.5 285.6v14.4M696.5 192.3v10.9M793.5 183.4v13.2M904.5 186.3v11.2M847.5 83.2v14M619.5 88.2v15.4M916.5 215v13.5M602.5 126.2v15.4M666.5 147.4v12.5M885.5 181.7v22.7M959.5 402.1v17.5M527.5 389.4v41.1M947.5 365.9v22.8M558.5 291.6v15.2M860.5 86.7v11.7M689.5 196v15.1M629.5 116.9v7.2M778.5 273.8v14.6M848.5 89.2v12.5M685.5 175.2v9.5M634.5 76.1v19.7M586.5 156.9v20.7M868.5 109.4v13.3M886.5 132.6v14.6M724.5 308.3v19M749.5 324.6v17.1M790.5 196.4v19M563.5 255.7v21.1M655.5 103v8.4M793.5 174.8v16.1M682.5 141.6v12.3M578.5 205.8v10.2M532.5 349.5v37.6M744.5 329v21.9M727.5 302.8v25.2M636.5 91.4v18.7M544.5 325.1v23.1M838.5 98.7v6M847.5 112.9v9.8M629.5 88.1v14.3M591.5 124.8v14.2M710.5 248.6v6.9M791.5 175.8v14.9M808.5 145.4v13.9M864.5 114.3v14M768.5 293.1v38.2M821.5 139.9v17.4M750.5 334.4v25.3M890.5 123.1v24.6M787.5 235.9v23.6M675.5 138v13.4M932.5 279.9v8.7M821.5 133.6v10.7M820.5 159.2v13.3M708.5 255.3v17.5M628.5 110.8v12.1M671.5 120.7v9.1M740.5 328.1v28.8M616.5 89.3v16.5M654.5 105.8v9.7M942.5 352.8v23.6M730.5 301.8v18.1M871.5 113.6v8.2M844.5 68v17.3M686.5 168.3v15.6M575.5 190.7v12.4M558.5 286.1v14.1M885.5 146.5v13.3M935.5 297.4v18.6M650.5 191.5v12.7M841.5 108.5v13.1M751.5 333.7v17.6M827.5 134.6v13M706.5 242.3v13.5M861.5 85v11M967.5 373.8v23.7M749.5 399.1v14.9M883.5 149.9v6M635.5 113.5v9.8M766.5 305.1v21.8M646.5 101.7v13.5M572.5 207v13.1M658.5 144.9v12.2M676.5 154v9.3M867.5 89.8v15M608.5 122.2v13.6M645.5 93.8v8.4M874.5 131.4v10.4M705.5 215.1v18M969.5 357.2v26.7M540.5 367.8v17.7M584.5 185.5v9M621.5 85.5v15.9M890.5 134.1v10M772.5 315.4v18.7M908.5 224.8v15.7M673.5 223.5v9.2M892.5 129.9v17.2M546.5 310.4v11.5M758.5 323.4v19.5M932.5 324.3v14M645.5 112.1v10.5M589.5 142.5v7.8M667.5 165.6v9.2M958.5 358.1v20.8M821.5 119.2v13.6M653.5 77.5v18.3M839.5 96.6v13.4M770.5 315.4v17.8M625.5 88.7v9.4M591.5 147.5v24M810.5 144.9v6.7M731.5 334.3v26.8M720.5 326.7v18.5M685.5 165.4v14.6M620.5 87v12.3M791.5 226.2v13.8M582.5 193.8v9.4M741.5 317.9v10.5M662.5 91.9v10.1M699.5 210.3v10.7M883.5 125.5v19.6M755.5 335v15.2M602.5 108.3v13.3M862.5 98.3v10.1M536.5 358.4v23.8M808.5 124.5v14.2M723.5 316.5v23.1M674.5 135.3v16.1M548.5 320.3v19M650.5 111.7v16.2M561.5 256.7v32.6M872.5 97.3v12.2M667.5 130.3v10M922.5 245v18.5M857.5 94.1v18.8M870.5 103.3v7.5M967.5 361.7v39.9M811.5 148.9v12.5M749.5 323.9v15.8M738.5 337.1v15M796.5 179.4v20.4M639.5 181.2v7.3M715.5 301.3v21.8M908.5 193.8v11.2M603.5 126.5v9.3M850.5 98.5v14M803.5 141.4v18.1M673.5 125v13.8M678.5 153.5v10.5M685.5 210.3v10.8M826.5 126.8v8.7M636.5 100v10.7M911.5 167.7v12.3M657.5 118.3v11.3M830.5 107.5v10.8M601.5 157.6v12.2M870.5 123.3v10.8M861.5 86.7v12.5M909.5 187.4v14.4M553.5 288.1v22.9M743.5 331.2v15.2M917.5 227.1v9.6M737.5 306.6v24.3M743.5 304.2v13.5M691.5 171.3v11.3M916.5 262.8v17.7M859.5 119v12M765.5 302.1v13.9M629.5 84.9v10.9M793.5 204.1v12M660.5 124.5v12.1M594.5 138.7v8.6M574.5 207.7v15.8M764.5 296.5v36.6M728.5 283.2v26.4M911.5 192.4v7.2M831.5 61.2v9.4M543.5 313.5v20.6M842.5 110.7v17M962.5 370.4v30.7M676.5 154.7v9.8M582.5 152.8v12M928.5 252.4v15.5M679.5 135.2v10.6M758.5 319v20.7M566.5 236.3v10.3M872.5 107.7v10.1M702.5 228.7v22.8M709.5 240v11.5M666.5 124.4v11.8M932.5 195.1v14.5M892.5 154.6v16M666.5 142.2v13.1M680.5 139.9v11.1M850.5 101.1v8.8M900.5 175.8v16M588.5 182.6v15.9M526.5 393.9v14.1M781.5 256.8v9.9M903.5 150v12.4M967.5 347.7v32.2M671.5 152.1v22.8M711.5 248.6v20.4M752.5 316.2v14.4M929.5 253.3v30.8M785.5 213.7v14.4M632.5 114.5v12.4M620.5 101.9v11.4M628.5 109.7v10.2M806.5 125.6v13.5M841.5 149.9v9M850.5 94.9v19.7M778.5 279v13.4M634.5 84.8v16.5M644.5 96.7v13M663.5 119.7v16.7M867.5 71.2v14.9M561.5 254.8v21.3M746.5 314.1v21.5M952.5 383.2v58.2M567.5 240.6v20.2M680.5 161.7v17.2M841.5 86.5v8.4M961.5 385.8v27.6M856.5 122.1v7.5M607.5 99.8v10.6M635.5 103.4v11.4M781.5 243.5v14.7M533.5 362.2v20.2M922.5 242.1v12.3M716.5 256.1v21.7M902.5 160.2v16M566.5 238.2v9.4M883.5 162.5v7.3M740.5 302.4v17M610.5 117.9v13.2M832.5 111.5v14.5M752.5 307.2v46.9M822.5 118.2v12.8M685.5 164.7v12.5M713.5 309.1v16.6M848.5 105v10M786.5 201.4v12.5M658.5 111.1v14.3M821.5 171.9v13.2M807.5 132.6v7.7M594.5 153.1v13.4M784.5 236v17.5M939.5 308.6v10M874.5 138.6v16.1M794.5 202.9v16.6M600.5 107.3v15.9M861.5 104.5v7.4M672.5 123.8v28.3M753.5 306.9v22.3M618.5 104.3v8.3M654.5 80.5v13.3M820.5 155.9v11.4M825.5 148.4v10.6M698.5 196.4v9.1M572.5 185v17.4M748.5 379.7v13.1M555.5 291.5v29.7M742.5 316.1v28.4M804.5 133.6v8.1M652.5 80.3v12.9M642.5 99.5v8.8M558.5 304v17.8M859.5 73.7v9.8M805.5 146.6v24.9M680.5 156.5v22M931.5 261.3v26.9M740.5 307.6v18.4M899.5 174.1v8.6M863.5 110.4v12.9M884.5 129.3v10.1M645.5 76.5v6M831.5 88.5v15.3M875.5 134.5v7.4M741.5 334.7v17.1M803.5 142v11.3M780.5 237.5v15.4M674.5 135.2v8.2M836.5 118.6v18.3M565.5 235.2v13.1M814.5 143.6v14.5M689.5 191.1v11M707.5 243.1v16.9M765.5 374.9v18.9M600.5 103.8v13.2M555.5 272.1v34M703.5 224.5v15.8M771.5 275.8v18.3M799.5 200.2v10.9M907.5 174.3v18.1M564.5 236.1v13.2M618.5 85.8v11.4M633.5 102.4v16.3M932.5 285v19M646.5 94.4v16.1M769.5 301.4v14M697.5 190.6v15.4M776.5 258.7v33.1M898.5 159.4v8.4M652.5 87.7v16.3M638.5 87.4v9.8M875.5 116.5v14.5M659.5 111.7v21.7M730.5 297.9v31.3M666.5 126.9v7.9M703.5 238.7v12M902.5 185.6v10.4M850.5 106.2v18.9M682.5 163.1v13.2M597.5 149.5v12M946.5 347.9v19.3M588.5 157.1v13.7M821.5 111.7v12M892.5 124.7v12.4M677.5 133.7v6.6M947.5 341.2v21.3M870.5 105.6v8.8M679.5 147.4v9.7M955.5 394.5v39.4M672.5 138.7v17.6M559.5 265.9v14.9M760.5 302.5v21.6M854.5 148.8v14.6M614.5 131.7v17.6M531.5 345.4v23.2M927.5 252.7v11.8M883.5 114.9v12.8M860.5 108.3v9.9M881.5 90.1v7.8M644.5 96.7v7.3M862.5 110.7v9.1M618.5 118.8v9.3M572.5 198.2v21.2M593.5 141.6v7.8M817.5 143.3v9.3M927.5 242.9v21.6M925.5 251.7v6.7M717.5 282.9v21.5M575.5 239.5v17.9M724.5 351.6v26.9M660.5 130.3v9.9M605.5 156.9v11.2M916.5 198.8v23.8M648.5 95.3v12.9M571.5 213v11.8M541.5 343.1v23.1M542.5 329.9v19.2M942.5 315v33.7M731.5 305.8v19.7M651.5 102.3v13M894.5 138.8v14.9M905.5 199.8v6.6M559.5 245.7v16.3M584.5 180.8v8.7M878.5 115.7v17.5M846.5 110.6v19.2M928.5 251.8v14.8M880.5 92.3v9.5M833.5 84.6v9.8M620.5 72.4v20.3M652.5 118.5v10.9M662.5 147.6v16.8M619.5 100v13.7M607.5 97.3v9.2M911.5 240.2v19.8M915.5 185.1v19.3M876.5 148.6v9.8M881.5 110v14.7M764.5 307.7v23.3M849.5 100.4v12.7M598.5 130v9.3M555.5 317.9v28.7M715.5 284.8v7.5M930.5 272.7v13.7M746.5 311v20.9M716.5 282.5v29.8M824.5 140.1v8.7M869.5 95.6v10.7M662.5 160.4v12M685.5 136.8v10.5M651.5 85.8v11.8M906.5 184.2v14.1M742.5 297.6v29.6M536.5 360.8v25.8M830.5 123.1v12.9M697.5 212.8v17M626.5 95.4v8.6M919.5 257.7v21M636.5 160.4v10.6M963.5 384.3v25.1M824.5 138.7v12.8M916.5 201.6v15.5M873.5 127.5v10.2M542.5 341.7v18.7M959.5 366.8v34.9M737.5 322.8v25.8M566.5 273.9v6.9M630.5 100.5v11.1M633.5 108.1v11.5M870.5 114.8v13.3M707.5 235.9v17.1M672.5 136.4v20.4M631.5 88.3v12.1M848.5 162.2v17.1M650.5 118.4v9.3M849.5 117.2v8.4M827.5 157.9v14.6M773.5 292.8v13.8M693.5 198.7v13.8M645.5 83v6.4M735.5 316.7v12M704.5 215.9v26.5M760.5 328.9v17.3M913.5 171.7v11.7M746.5 331.6v18.1M549.5 300.3v18.6M713.5 254.7v17.5M758.5 324.4v30.3M931.5 288.7v14.6M815.5 136.3v17.9M749.5 333.9v29M574.5 202.6v11.6M906.5 220.6v8.8M723.5 302.6v20.2M640.5 88.9v11.8M855.5 100.4v15.6M706.5 210.9v19.2M643.5 78.3v12M824.5 146.3v9.7M624.5 59.4v13.3M834.5 107.6v10.1M618.5 98.5v11.3M790.5 185.9v15.3M842.5 107.7v10.9M715.5 277.6v17.4M757.5 332.6v19.9M946.5 348.1v19.6M712.5 263.7v17.2M778.5 257.8v19.4M939.5 299.1v14.6M566.5 249.3v13.8M667.5 122.3v20.4M594.5 155.5v19.2M825.5 123.1v12.2M618.5 105.8v14M773.5 285.8v22M842.5 52.3v8.7M775.5 280.3v13.2M643.5 82.3v22.5M685.5 145.9v13.6M630.5 115.6v18.3M712.5 268.9v17.7M751.5 324.9v36.9M660.5 97.8v20M725.5 342.7v16.7M581.5 182.4v31.9M698.5 225.3v18.1M743.5 328.4v13.9M811.5 149.9v15M755.5 343.7v18.3M720.5 331.4v20.4M887.5 120v15.1M769.5 323v15.6M594.5 120.3v16.8M635.5 106v7.4M844.5 100.3v16.9M863.5 95.9v18.8M737.5 320.7v23.4M669.5 166.3v15.2M796.5 171.9v15.9M581.5 180.1v22.6M930.5 288v13.6M871.5 120.8v10.9M715.5 262.8v26.5M780.5 252.7v24.1M661.5 155.3v7.9M713.5 275.5v14.1M788.5 204.1v17.2M746.5 387.3v19.4M673.5 139v7M789.5 261.6v8.1M867.5 142.5v11.8M568.5 232.5v13.7M720.5 267.8v16.3M784.5 247.5v13.5M915.5 210.2v19.7M597.5 132.8v11.4M545.5 308v37.7M891.5 147.9v9.3M950.5 347.5v29.7M815.5 133.5v13.5M851.5 147.5v9.9M851.5 114.1v14M845.5 132.1v13.6M759.5 310.7v18.5M679.5 138.6v10.8M711.5 270.3v11.6M881.5 126v18.8M851.5 129.1v12.8M527.5 396.9v29.8M686.5 169.9v17.2M702.5 234.5v12.6M686.5 169.3v8.1M586.5 166.6v9.9M647.5 87.5v10.6M785.5 225.2v17.4M623.5 95.1v19.2M592.5 127.5v20.7M576.5 208.9v16.5M909.5 181.2v15.7M797.5 184.5v8.5M717.5 331.7v20.5M699.5 215.9v14.6M845.5 76v8.9M616.5 129.4v12.5M731.5 316.2v9.5M729.5 307.7v24.7M646.5 105.8v11.3M630.5 77.8v23.2M854.5 90.5v14.7M886.5 214.1v13.8M895.5 169v17.4M588.5 175.5v11.8M721.5 282.2v16.4M554.5 311.1v11.8M567.5 221v9.8M623.5 89.1v12.2M789.5 216.1v26.4M534.5 361.2v38.6M939.5 297.5v28.2M562.5 260.7v14.1M799.5 171.2v10.5M561.5 254.4v16.2M861.5 126.5v11.1M689.5 175.9v14.9M880.5 121.7v9.3M810.5 116.6v16M767.5 337.8v37.7M781.5 242.1v16.1M941.5 353.9v22M811.5 127.6v12M766.5 301.5v21.9M966.5 378.3v32.7M614.5 113.9v12.7M780.5 233.9v16.6M969.5 390v29.2M853.5 97.2v12.1M592.5 143.3v12M792.5 189.9v10.6M862.5 114.5v9.1M886.5 154.6v6M542.5 309.7v26.7M538.5 342.5v14.8M627.5 129.6v10.2M692.5 182.9v10.7M681.5 218.7v10.7M859.5 112.3v9.7M703.5 230.8v12M778.5 242.2v24M871.5 120.3v12.9M805.5 133.2v13.2M914.5 211.8v18M748.5 321.7v19.2M756.5 338.8v22.3M934.5 308.6v13.4M630.5 101.9v9.6M637.5 68.2v15.5M635.5 112.7v10M683.5 165.5v12.9M675.5 127.8v12M961.5 391.8v28M692.5 186.9v18.3M649.5 152.9v11.8M825.5 121.9v11.2M804.5 156.5v13.2M543.5 339.8v15.7M957.5 382.7v16.5M622.5 91.8v15.4M698.5 212.9v16.9M792.5 198.9v7.4M686.5 176.5v10.2M702.5 203.9v19.8M882.5 121.1v15.2M859.5 94.9v12.5M721.5 278.1v16.2M840.5 96.9v17.1M864.5 95.9v14.3M864.5 79.2v14.7M780.5 255.6v19.2M684.5 197.8v15.8M967.5 356.6v22.5M654.5 111.1v8.9M596.5 127.6v10.9M610.5 106.1v8.2M762.5 300.7v22.8M717.5 272.6v20.1M607.5 143.2v8.6M748.5 336.1v26.3M541.5 342.8v24.8M726.5 292.1v19M882.5 149.3v18.6M820.5 147.5v15.1M926.5 248v10.9M540.5 327.8v28.8M692.5 189.9v20.2M815.5 150.9v10.4M693.5 186.9v12.2M912.5 193.9v14.6M664.5 119.2v12.9M777.5 259.8v19M872.5 116.2v8M600.5 144.4v12.9M728.5 306.3v23.9M859.5 151v15.8M955.5 365.1v27.1M873.5 97.6v14.4M894.5 163.1v11.5M770.5 296.4v16.9M948.5 373.1v26.2M864.5 109.1v13M553.5 299.9v13.2M780.5 242.1v19.6M709.5 224.4v17.4M651.5 113.2v6.7M680.5 169v6.7M867.5 101.8v13.2M537.5 356.9v20.6M640.5 124.6v17.8M633.5 66.8v12.1M668.5 122.4v15M869.5 73.6v19.6M533.5 352.9v23.7M595.5 133.3v10.5M806.5 163.1v23.7M615.5 80.1v11M959.5 369.4v23.1M622.5 140.3v8.5M925.5 267.7v16.4M615.5 73.1v12.7M613.5 113v9.6M653.5 98v9.4M909.5 184.1v9.3M827.5 121.4v20.5M598.5 181.2v14M773.5 287.1v25.1M797.5 175.1v14.4M819.5 133.9v14.6M615.5 103.6v14.1M760.5 342.4v18M601.5 179.2v14.1M856.5 92.1v13.2M740.5 321v18.2M599.5 126.4v15.9M845.5 105.9v13.6M941.5 308.3v21.7M586.5 159.2v16.2M810.5 141.8v9.6M941.5 336.1v29.3M842.5 95.4v13.5M600.5 141.4v9.7M896.5 142v18.3M791.5 207v18.5M720.5 304.6v12.7M928.5 253.1v21.2M648.5 110.4v13.5M943.5 334v27M769.5 306.6v20.5M947.5 343.1v40.8M781.5 263.9v24.3M834.5 111.2v7.1M576.5 220.9v12.3M766.5 318.8v23.6M727.5 317.6v13.9M804.5 169.2v12.5M612.5 125v14.9M926.5 267.5v16.4M803.5 148.4v6.6M710.5 253.5v15M670.5 125.9v12.5M638.5 88.5v10.4M965.5 380v35.1M928.5 241.6v25.1M909.5 185.5v9.7M703.5 259.9v10.3M906.5 153.2v11.5M735.5 310.4v27.2M896.5 169.3v14.1M903.5 176v15.5M937.5 328.8v18.6M632.5 115.2v8.4M563.5 241.8v14.6M841.5 97.7v14.2M627.5 114.8v15.5M851.5 128.3v11.6M632.5 103.6v11.3M877.5 107.6v11.6M747.5 306.6v29.7M775.5 312.8v17.6M790.5 197.1v13.5M791.5 204.8v9.9M869.5 102.9v21.8M751.5 294.4v25.1M742.5 330.4v19.7M600.5 131.4v8.9M829.5 125.4v6.1M770.5 295.1v16.1M895.5 151.6v13.9M832.5 132.6v16.7M776.5 258.4v20.8M945.5 318.1v26.3M851.5 91.4v12.3M929.5 261.1v19.2M803.5 185.4v10M616.5 77.8v19.8M657.5 132.7v11.9M822.5 133.4v7.9M937.5 304.9v10.8M841.5 90.5v10.5M785.5 221.7v15.5M804.5 193.8v11.1M661.5 133.6v14.3M584.5 176.2v10.8M555.5 275.9v14M852.5 137.1v11.1M763.5 325.8v23.8M844.5 111.9v17.8M910.5 206.7v13.9M581.5 165.6v14.5M665.5 117.1v9.5M599.5 132.7v15.5M898.5 158v9M779.5 254.8v20.6M637.5 78.6v9.2M840.5 73.2v9.2M750.5 334v13.1M884.5 113.9v12.7M788.5 215.2v17.3M758.5 312.3v14.4M626.5 91v12.7M534.5 346.2v27.2M656.5 105.3v11.6M572.5 220.3v17.4M907.5 176.5v15.1M537.5 349.5v20.1M892.5 129.6v9M693.5 205.6v9.4M729.5 345.5v18.8M609.5 111.5v13.4M791.5 192v17.2M583.5 152.2v14.5M850.5 117.4v13.4M544.5 332.1v21M749.5 338.5v21.3M528.5 357.7v28.4M633.5 108.2v9.3M724.5 314.7v24M563.5 237.8v15.7M885.5 118.2v9.1M902.5 189.7v17.2M838.5 117.4v8.5M652.5 75.4v9.7M964.5 406.1v19.9M633.5 91.1v18.7M595.5 120.5v12.7M627.5 102.5v12.2M660.5 122.7v9.4M874.5 95.9v21M715.5 320.4v18M786.5 220.2v8.4M724.5 303.1v17M784.5 226.5v14.9M748.5 329.8v22.7M795.5 179.1v10.5M796.5 232.7v14.6M654.5 94.9v13.2M684.5 161.6v13.7M626.5 92v11.7M696.5 223.1v9.7M838.5 117.8v22.5M883.5 104v9.9M801.5 183.6v23.1M633.5 71.6v13.7M575.5 190.7v17.1M897.5 143.5v15.1M747.5 344.3v24.9M858.5 84.7v13.4M825.5 131.6v6.1M662.5 167.5v11.8M805.5 140.9v10.1M548.5 316.7v25.6M589.5 143.1v11.1M546.5 357.3v20.4M699.5 186.9v11.3M616.5 98.4v13.7M918.5 217.4v14.5M616.5 76.9v9.8M596.5 130.7v12.7M743.5 358v33.5M834.5 109.5v9.3M799.5 172.6v13.9M731.5 337.9v12.8M895.5 160.8v18.1M587.5 159.9v17.6M835.5 78.2v10M820.5 150.6v12.3M578.5 116.3v10.1M588.5 167.6v12.4M546.5 308.4v28.1M561.5 231.7v27.8M726.5 284.3v16M627.5 78.2v11.1M572.5 205.8v10M667.5 120.1v13.4M627.5 85.9v16.3M699.5 210.2v21.7M608.5 114.4v12.8M628.5 82.4v16.6M547.5 319v21.3M751.5 321.4v20.4M731.5 299.1v28.8M759.5 343.4v15.6M912.5 242.8v7.9M830.5 121.7v9.8M556.5 260.5v13.1M540.5 344.6v24.5M703.5 252.6v14.3M947.5 389.6v27.8M713.5 258v11.4M911.5 182.8v17.4M895.5 161.4v12.3M753.5 297.6v29.6M749.5 311.4v26.7M884.5 123.7v9.6M957.5 373v18.1M670.5 126.1v12.1M801.5 144v19.7M712.5 255.9v21M608.5 111.5v12.1M584.5 159.7v11.8M715.5 251.5v16.8M757.5 353.4v36.4M922.5 232v10.2M627.5 101.3v6.8M802.5 165v14.1M598.5 127.2v10.7M821.5 150.3v7.3M901.5 193.8v12.3M863.5 75.8v9.2M891.5 148.2v14M884.5 143.5v9.2M856.5 57.9v9.2M716.5 267.6v14.9M921.5 242.2v13.5M809.5 144.4v13.1M789.5 251.2v18.2M832.5 110.4v11.1M662.5 110v9.2M807.5 147.4v17.8M665.5 117.3v25.3M577.5 160.5v25.1M720.5 290.4v25.7M775.5 285.4v17.1M835.5 129.9v12.4M635.5 63.4v16.7M902.5 161.2v14.9M527.5 368.1v29.9M643.5 111.2v10.4M826.5 115.6v10.2M801.5 141.8v14.8M560.5 245.9v14.3M567.5 241.9v6.3M632.5 103.6v13.1M545.5 317.1v24.9M701.5 206.6v25.4M811.5 125.4v14.2M927.5 268.9v8.3M686.5 183v15.7M903.5 174v17.4M553.5 290v11.1M901.5 165.9v13.4M867.5 85v10.6M816.5 156v8.4M615.5 80.5v16.1M617.5 90.7v19.3M749.5 302v30.6M859.5 90.9v15.1M588.5 149.5v15.2M764.5 319.8v13.8M735.5 348.8v18.1M824.5 142.8v10.3M661.5 101.2v8.2M876.5 115.2v7.7M881.5 119.8v12M590.5 140.7v14.2M790.5 199.7v18.1M821.5 126.4v8.8M966.5 363.1v23.6M698.5 197.9v12.4M650.5 100.3v13.2M656.5 86.9v8.4M776.5 260.5v17M773.5 290.1v22.5M623.5 76.3v9.7M902.5 173.3v11.8M541.5 346.1v22.7M788.5 208v11M855.5 95.1v12.4M710.5 263.3v15.4M926.5 246.7v27.3M697.5 202.2v12.1M644.5 105.4v7.6M586.5 143.7v12.3M762.5 317.8v21.1M597.5 130.5v24.8M940.5 307.3v21.2M778.5 252.9v16.8M773.5 284.5v15.6M868.5 95.3v16.3M803.5 161.7v12.7M556.5 264.9v23.6M853.5 106.9v10.6M573.5 199.2v24.5M868.5 108.3v11.6M649.5 88.9v18.2M951.5 350.8v26.3M586.5 160.2v9.5M542.5 335.6v17.9M637.5 93.1v12.9M787.5 208.2v6M584.5 148.3v15.4M653.5 227.8v12.9M737.5 330.7v27.7M889.5 129.6v6M892.5 155.6v11.6M835.5 126.4v13.2M756.5 323.5v15M700.5 234.2v9.1M692.5 190.5v9.1M573.5 221.3v16.6M902.5 159.1v14.2M623.5 115.9v16.5M795.5 171.4v18.2M683.5 148.3v16M861.5 73.4v8.5M743.5 314.8v29.7M909.5 167.9v24M871.5 127v6M779.5 259.3v23.6M862.5 88.2v12.6M687.5 169v18.1M668.5 140.7v11.3M625.5 92.5v13M668.5 209.3v12.6M946.5 345.2v13.6M725.5 296v18.4M551.5 308.1v11.9M678.5 157.6v8.3M964.5 370.4v21.5M733.5 312.7v18.5M624.5 109.8v14.2M626.5 94.3v8.7M877.5 124.4v16M809.5 121.3v20.2M767.5 288.1v32.4M640.5 78.3v8.7M821.5 133.3v14M554.5 280.3v13.8M557.5 283.3v10.5M756.5 345.1v31.5M627.5 98.8v12.2M791.5 200.6v13.2M535.5 385.4v21M606.5 110.5v11.2M554.5 272.3v32.2M858.5 119v15.2M879.5 48.6v18.9M834.5 110v10.9M861.5 98.8v11.9M906.5 175.5v11.7M560.5 247.1v17.2M778.5 245v17.1M847.5 80.6v11.5M776.5 270.8v12.8M748.5 312.3v23.2M776.5 270.4v14.5M872.5 112.7v8M897.5 141v13M907.5 179.2v10M641.5 96.7v16.3M563.5 233.6v22.5M688.5 152.7v10.6M744.5 317.2v20M622.5 135.8v15.6M633.5 71.6v13M689.5 190v8.4M929.5 256.2v16.5M782.5 221.4v19.8M630.5 104.4v12.3M922.5 231.8v9.1M677.5 119.8v13.6M714.5 248.8v22.6M855.5 88.8v7.3M910.5 176.9v13.1M613.5 118.7v13.3M582.5 199.8v9.8M852.5 109.3v19M718.5 285.7v10.5M722.5 285.1v20.2M739.5 307.5v30.5M895.5 146.9v6M816.5 129.4v7.8M596.5 175.5v16.3M928.5 305.2v10.8M828.5 127.1v7.8M801.5 150.6v15.5M715.5 274.7v19.6M630.5 96.7v12.9M829.5 95.6v22.2M653.5 114.6v13.9M715.5 262.9v30.8M952.5 372.4v29.5M586.5 141.4v18.8M945.5 352.9v27.4M636.5 116.3v13.3M743.5 330.9v21.2M566.5 225.2v26.1M834.5 120.3v12M722.5 288.2v20M686.5 153.4v8.6M610.5 110.7v7.2M723.5 282.2v20M887.5 122.5v14M857.5 125v9.6M880.5 121.5v9.3M863.5 98.1v10.9M583.5 166.8v16.8M775.5 295.1v12.9M535.5 351.5v35.4M876.5 96v13.8M625.5 69.8v14.5M929.5 260.5v13M860.5 70.8v10.4M589.5 119.6v7.5M891.5 127.7v13.6M747.5 300.1v43.1M961.5 358.4v25.9M747.5 340.1v28.7M816.5 154.5v17.7M776.5 277.9v9.3M865.5 95v6M825.5 103.5v15.3M808.5 141.5v6.1M541.5 382.6v24M876.5 71.2v18.8M714.5 255.5v19.5M911.5 189v16.9M765.5 294.8v20.1M890.5 143.6v11.5M703.5 209.8v18.3M595.5 125v14.2M631.5 105.9v11.6M969.5 369.8v37.7M587.5 150.3v13M903.5 167.3v21.7M649.5 112.7v16.9M879.5 147.6v15M570.5 253.4v11.8M721.5 271.4v15.5M890.5 178.1v9.3M598.5 131v20.5M574.5 187.4v21.9M917.5 250.6v13.8M905.5 152.5v21.5M677.5 165.8v19.5M575.5 205.2v12.6M659.5 123.3v9.9M800.5 147.4v14.7M672.5 147v19.6M809.5 126.2v7.5M935.5 305.6v19.5M711.5 260.9v13M936.5 281.2v20.3M872.5 77.1v24.3M790.5 203.6v15.8M647.5 88.9v10M847.5 -1.4v11.2M901.5 153.2v9.1M823.5 124.6v13.8M722.5 281.4v13.6M866.5 104.6v14.6M558.5 286.3v16.9M848.5 131.5v14.2M886.5 134.8v15M648.5 82.6v16.3M572.5 210.3v9.9M684.5 184.1v12.3M919.5 223.9v14.9M842.5 92.3v10.4M931.5 256.7v14.9M606.5 178.9v11.6M702.5 209v7.5M946.5 404.6v18.8M672.5 121.1v11.9M849.5 107.6v13.9M655.5 111.6v10.8M902.5 154.3v15.7M623.5 117.4v22.7M763.5 320.9v26M855.5 117.5v12.4M666.5 134.9v9.7M672.5 147.2v16.1M609.5 87v7.8M905.5 194.4v12.1M926.5 247.1v18.7M591.5 135v10M731.5 385v18M614.5 112.4v11M657.5 212v13.5M690.5 174v17M806.5 144.2v14.5M568.5 215.4v11.7M871.5 72.9v11.8M545.5 328.2v23.5M533.5 353.7v28.3M823.5 113.5v11.7M785.5 260.4v13.8M744.5 321.2v25M815.5 118.1v19.3M855.5 107v9.6M847.5 102v13.1M942.5 342.5v21.8M707.5 242v9.8M708.5 257.1v17.2M620.5 92.7v10.3M664.5 135.3v17.3M705.5 237.2v17.3M842.5 100.4v10.3M648.5 101.7v18.6M661.5 129.3v17.4M785.5 172.7v26.1M837.5 121.6v9.5M841.5 83.2v10M709.5 227.9v13.2M780.5 251.5v17M540.5 343.2v12.7M889.5 122.9v9M656.5 127.9v8.8M673.5 186.8v15.8M594.5 144v12.2M622.5 88.1v13.6M936.5 293.3v26.7M838.5 130.9v12.1M718.5 300.3v23.1M809.5 132.8v15M786.5 215.6v15M647.5 62.7v7.5M752.5 324.5v21.2M656.5 115v12.1M760.5 313v21.6M617.5 101.1v8.5M766.5 301.4v14.5M821.5 113.4v8.6M634.5 98.2v10.9M716.5 268.6v15M561.5 248.5v16.8M650.5 135.4v13M735.5 321v16M929.5 272.1v17M965.5 365.9v17.8M672.5 134.1v16.9M661.5 101.6v17.6M526.5 355.4v31.8M793.5 168v9.2M809.5 144.9v8.6M724.5 273.2v22.5M600.5 133v7.7M691.5 167.2v17.2M643.5 95v14.7M815.5 119.3v17.2M660.5 125.3v14.1M891.5 128.5v15.3M640.5 81.8v15.9M638.5 81.8v11.2M626.5 89.9v15.5M757.5 325v30.1M914.5 212.3v12.9M675.5 150.8v9M565.5 242v20.6M773.5 380.6v11.7M630.5 95.4v11.6M591.5 148.6v11.4M584.5 146.5v12.6M627.5 121.6v9.3M573.5 198.1v20.4M956.5 359.1v28.7M551.5 311.4v23.3M859.5 73.1v12.3M610.5 103.8v13.2M676.5 129.3v9.9M700.5 208.5v14.4M861.5 106.1v13.8M601.5 114.3v9.4M852.5 111.5v18.9M616.5 100.8v16.9M958.5 345.5v46.6M752.5 308.1v58.4M549.5 333.7v28.3M666.5 106.1v11.3M779.5 253v9.9M598.5 122.4v9M827.5 121.7v14.2M854.5 113.3v10.6M884.5 132.1v11.2M852.5 88.5v28.4M551.5 295.3v29.7M694.5 166.4v12M808.5 138.9v17.1M888.5 125v10.3M625.5 59.5v10.9M966.5 372.2v24.5M818.5 130.4v13.7M961.5 368.6v23M748.5 302.4v15.3M917.5 242.1v18.3M820.5 125.4v12.7M750.5 328.2v22.2M819.5 139.8v12.2M643.5 116.9v16.4M726.5 304.4v20.7M607.5 124.5v11.9M771.5 288.3v19.8M573.5 250.5v9.6M689.5 171.4v14.5M934.5 286.8v23.9M952.5 393.1v11.9M812.5 142.8v15.6M600.5 165v10.6M747.5 332.6v30.6M538.5 357.5v17.2M912.5 192.2v9.6M787.5 199.5v11.9M890.5 141.9v10M672.5 156.1v21.3M874.5 99.1v17.3M817.5 80.5v10.7M794.5 173.2v27.5M905.5 163.8v13.5M815.5 99.4v12.8M635.5 90.2v8.3M931.5 307.2v28.7M888.5 108.1v14.9M702.5 223.1v23.6M919.5 220.1v14.9M888.5 127.3v16.4M552.5 294.1v9.1M613.5 110.9v16.3M803.5 151.4v8.7M676.5 141.3v13.8M761.5 377.4v27.9M689.5 255.9v20.4M859.5 140.2v9.4M896.5 149.4v12.9M818.5 140.2v15.1M706.5 233.6v19.5M952.5 346.7v28.8M585.5 161.3v8.5M595.5 107.8v12.1M562.5 259.9v29.8M894.5 141.4v15.1M590.5 153.1v14.6M877.5 108.1v13.2M843.5 102.1v7.6M834.5 106.5v19.8M694.5 179.5v25.8M672.5 126.8v14.1M864.5 80.6v15.1M629.5 94.9v15.1M715.5 282.2v15.3M656.5 109.7v13.5M676.5 146.3v8.4M906.5 168.6v17.4M752.5 319.2v11.6M851.5 103v11M550.5 309.3v10.9M645.5 93.5v15.8M898.5 175.1v17.6M718.5 269v18.8M613.5 111.3v14.9M553.5 275.8v20.8M732.5 315.1v35.3M572.5 226.9v16.2M834.5 104.4v13.4M727.5 294.1v21.3M786.5 242.2v21.8M917.5 241.8v14.3M583.5 178.7v6.4M853.5 76.8v7.3M733.5 297.8v13.9M554.5 278.9v23M847.5 132.7v16.1M676.5 142.4v17.3M872.5 110.3v12.7M948.5 352.9v12.4M535.5 347v26.7M541.5 346.5v16.2M784.5 207.1v15.2M799.5 173.3v12.6M740.5 331v29.4M897.5 155.3v28.1M833.5 116.5v11.5M814.5 155.2v17.6M713.5 270v13.2M864.5 91.7v8M845.5 103.5v14.3M590.5 143.9v11.6M613.5 122v16.1M807.5 118.2v19.9M868.5 84v17.9M920.5 235.9v13.2M637.5 100.1v11.8M838.5 121.7v13.4M714.5 276.2v14.4M668.5 145.2v12.6M685.5 145.9v7.9M879.5 135.1v6.5M727.5 343.5v20.1M860.5 81.8v16.2M821.5 117.1v12.8M929.5 267.4v27.8M969.5 370v27.9M854.5 80.7v8.9M947.5 359.3v36M777.5 261.2v16.2M804.5 140.3v18.2M932.5 307.7v20.1M864.5 88.1v12.1M795.5 204.6v10.9M965.5 364.3v23.6M543.5 328.4v20.4M776.5 272.3v12.2M684.5 141.4v14M550.5 306.4v13.5M621.5 103.3v12.2M800.5 161.3v15.8M540.5 336v31M745.5 345.8v20.2M665.5 118.4v8.9M637.5 106.4v13M613.5 153.4v9.8M635.5 86.6v16.7M928.5 252.5v17.5M606.5 120.7v8.2M596.5 135.1v10.8M832.5 80.1v7.6M939.5 327.8v15.1M600.5 160.8v11.4M674.5 137.6v11.4M636.5 61.8v11.7M766.5 346.3v16.9M555.5 283v11.6M879.5 171.7v14.7M884.5 102.9v11.9M809.5 151.1v11.1M764.5 294.5v14.6M608.5 99.2v10.6M692.5 187.6v9.6M791.5 176.5v16.2M792.5 179.1v11.8M658.5 102.5v11.4M768.5 350v19.1M744.5 320.6v25.7M969.5 368.2v45.4M855.5 83.8v12.7M661.5 190.5v7.2M603.5 118.8v17.7M627.5 128.1v8.9M892.5 128.1v19.3M941.5 326.3v15M619.5 80v12.7M740.5 334.8v20.3M586.5 151.8v12.6M806.5 140.3v12.4M622.5 100.7v14.9M714.5 261.8v22M679.5 115v10.7M862.5 123.9v11M586.5 137.8v13.8M753.5 337.7v23M831.5 109.6v8.1M697.5 221.3v16.8M677.5 149.7v14.8M574.5 197.3v13.6M600.5 125.7v14M597.5 105.9v16.7M785.5 221.4v8.6M794.5 168.1v19.7M722.5 299.1v18.1M705.5 241.9v17.2M839.5 101.3v11.2M917.5 231.2v10.3M711.5 300.9v20.5M882.5 126.6v9.4M796.5 143.3v11M537.5 352.4v44.4M728.5 376.3v15.5M796.5 158.6v9.9M733.5 299.3v24.1M764.5 300.8v15.3M693.5 196.2v18.6M679.5 168.3v8.8M885.5 127.2v17.9M849.5 111.8v14.6M872.5 95.6v13.4M648.5 76.2v11.8M853.5 105.4v10.6M863.5 71.7v15M966.5 364.9v41.4M870.5 109.2v11.2M752.5 323.9v24.4M670.5 148v10.7M538.5 346.2v34.5M602.5 126.4v10.4M804.5 141.2v9M676.5 153.2v9.8M796.5 162.5v15.3M733.5 349.3v17.2M693.5 182.1v13.8M745.5 324.8v16.7M635.5 74v10.8M732.5 309.8v20.7M764.5 294v22.4M587.5 168.5v11.9M651.5 108.8v9.6M917.5 235.2v9.1M789.5 188.1v17.5M679.5 163.5v8M648.5 130.8v11.1M753.5 305.5v28.2M780.5 248v9.3M777.5 264.7v19.4M705.5 217.3v14M794.5 169.1v18.4M908.5 174v14.8M604.5 143.6v13.1M583.5 158.1v14.3M805.5 148.1v16.4M772.5 315.3v24.1M875.5 114.7v9.2M849.5 107.7v17.9M913.5 182.7v18.5M837.5 107.7v11M691.5 194.5v10.5M661.5 125.3v17.2M575.5 197.9v12.7M588.5 149.8v12.3M922.5 257.1v13.7M531.5 375.8v29.6M865.5 84.3v9.9M637.5 80.6v12.4M554.5 326.6v15.5M869.5 106.7v13.2M658.5 107.7v11.3M543.5 326.5v26.3M707.5 255.8v22.9M873.5 101.3v10.1M767.5 291.5v24.8M929.5 266.5v17.2M711.5 244.7v35.7M967.5 389.5v20.7M839.5 86.5v6.8M647.5 125.5v8.4M948.5 361.7v17M641.5 108.7v15.8M530.5 369v22.1M775.5 261.1v29.9M655.5 98v12M738.5 304.1v18.6M640.5 51v10M816.5 111.6v13.6M747.5 315.2v30.7M679.5 188v6.4M782.5 237.2v9.5M810.5 111.4v11.3M892.5 122.3v11.3M775.5 293.2v21.8M558.5 267.3v22.3M549.5 305.3v18.9M729.5 311.7v18.6M855.5 130.2v7.6M612.5 101.5v9.5M675.5 174.5v11.9M907.5 150.1v14.8M626.5 61.9v12.6M590.5 141.9v17.4M838.5 89.2v10.4M756.5 372.7v27.9M688.5 207.9v11.3M739.5 300.5v30.9M690.5 176.1v7.8M628.5 103.8v20.9M774.5 280.1v19.2M534.5 379.9v23.9M770.5 289.2v25.1M638.5 101.7v6.8M594.5 108.4v15.6M803.5 158v14.3M691.5 252.3v13.4M638.5 128.3v25.2M876.5 122v11.8M702.5 237.7v19.2M572.5 220.9v15M589.5 139.4v10.3M651.5 99.1v16.7M729.5 281v23.8M838.5 186.3v9M835.5 101.3v11.8M660.5 115.4v14.4M642.5 99.3v19.9M931.5 255.4v16.3M714.5 270.2v12.3M672.5 127v10.2M826.5 134v12M603.5 101.7v10.1M546.5 311.7v28.8M571.5 229.7v14.2M806.5 163.5v12.8M960.5 368.6v17.7M870.5 83v15M773.5 271.2v18.1M742.5 332.2v17.7M884.5 126.2v12.7M627.5 76.3v13M550.5 316.9v13M721.5 275.4v26.3M775.5 258.1v19.6M914.5 199.5v13.3M603.5 102v11.4M773.5 271.7v15.3M758.5 313.6v25.5M836.5 64.7v17.2M915.5 201.7v10M818.5 113.7v13.3M706.5 233.4v11.1M790.5 209.6v10.6M887.5 147v13.4M563.5 257.9v14.8M805.5 211.9v7.2M653.5 103.7v12.9M765.5 302.7v9.8M763.5 316.8v15.1M813.5 141.6v10.4M695.5 190.6v13.3M613.5 107.3v11.7M576.5 190.4v16.8M687.5 163.5v10.4M946.5 339.3v20.6M948.5 365.9v24M801.5 158.7v12.4M688.5 176.7v10.5M832.5 118.9v12.5M737.5 375.1v15.7M557.5 258.3v21.3M557.5 289.5v24.4M616.5 92.3v19M529.5 366.6v21.8M718.5 272.1v14.1M931.5 276.7v12.7M689.5 150.3v6.7M619.5 84.8v8.2M861.5 122.3v9.8M627.5 80.8v17.5M718.5 278.8v21.2M842.5 107.6v13.8M842.5 100.4v8.1M568.5 214.8v11.5M540.5 325.6v22.1M587.5 67v14M637.5 40.5v12M865.5 47.8v12M872.5 60.5v14M804.5 63.8v20M818.5 68.2v16M904.5 104.8v28M914.5 150.8v16M588.5 210.5v20M673.5 203.5v18M677.5 221v20M675.5 252v24M691.5 244v18M718.5 236.8v20M838.5 168v20M799.5 259.5v16M550.5 383.5v18" stroke="#000" stroke-width="1.4" fill="none"/><path d="M183.4 77.9h0M223.1 199.3h0M436.5 96.2h0M382.8 125.6h0M256.2 213.7h0M230.3 221.3h0M348.1 216.8h0M165.4 131.6h0M381.2 113.2h0M500.7 342.4h0M192.7 72.9h0M378.8 101.2h0M125.1 244.9h0M278.7 301.8h0M476.1 213.2h0M392.2 127.4h0M227.5 130.9h0M408.4 95.9h0M180.2 95h0M118.7 293.8h0M153.5 119.1h0M233.5 160h0M289 315h0M200.8 111.5h0M444.7 132.5h0M168.3 104.2h0M140 183.4h0M348.3 184.9h0M462 162.8h0M349.6 197.9h0M404.3 95.4h0M464.6 200.2h0M495.1 324.4h0M325 310.5h0M498.8 359h0M302.3 325.6h0M204.1 101.7h0M283.1 319.1h0M377.8 117.1h0M229.4 135h0M196.6 75.5h0M233.4 149.7h0M197.4 81.9h0M240.3 158h0M84.7 370h0M361.6 142.5h0M207.9 112.8h0M112.7 270.9h0M160.8 148.1h0M217.6 112.6h0M149.2 127.4h0M179.3 104.8h0M293.1 315.6h0M195.8 155.5h0M214.6 85.8h0M206.4 123.3h0M198.2 87.6h0M296.8 322.4h0M176.6 110.9h0M302.6 354.9h0M191.8 120.3h0M454.8 151.3h0M162.5 149.5h0M465.3 192.3h0M161.7 121.7h0M415.7 115.5h0M353.8 191.6h0M175.4 104.4h0M419.9 115.4h0M193.2 69h0M120.5 223.4h0M356.9 158.6h0M364.2 151.2h0M159.9 143.6h0M192.7 124.1h0M386.6 112.1h0M118.4 238.3h0M272.8 317.5h0M221.5 114h0M162 122.5h0M175.8 124.9h0M468.8 193.5h0M278.7 314.8h0M250.7 209.1h0M205 100.7h0M511.5 376.9h0M108.3 306.3h0M264 243h0M157.4 163.4h0M189.1 118.6h0M428.8 97.4h0M173 123.7h0M327.6 312.1h0M245.4 209.3h0M307.7 322.6h0M230.5 173.3h0M208 104.3h0M207.6 93.2h0M120.4 234.5h0M296.4 337.5h0M474.7 220.2h0M503.1 392.9h0M136.5 248.7h0M414.5 105.3h0M157.1 133.6h0M229.7 149.6h0M250.4 192.5h0M236.5 200.3h0M311.7 336.3h0M86.5 389.9h0M270.2 262.1h0M472.2 212.2h0M121.3 259.5h0M297.4 330.1h0M430 115h0M510.8 368.3h0M396.5 91.3h0M204 107.7h0M380 135.2h0M236.8 161.3h0M423.5 114.7h0M382.5 110.5h0M211.4 110h0M465.4 188.1h0M349.3 221.2h0M235.4 157.6h0M421.2 113.6h0M123.7 221.2h0M523.6 389.6h0M427 118.8h0M468 217.7h0M157.5 129.4h0M319.6 328.4h0M271.6 300.7h0M154.9 132.1h0M156.1 121.1h0M197.1 133.2h0M501.2 398.5h0M520.6 372.9h0M394.9 90.4h0M403.6 123.1h0M407.7 96.3h0M312.2 327.7h0M161.3 149.5h0M472.2 214h0M473.4 229.7h0M397.5 101h0M517.6 405.3h0M306 324.1h0M418.9 71.7h0M356.3 173.4h0M133.5 170.7h0M222.8 136.1h0M112.6 302.3h0M476.3 235.2h0M92.3 388.1h0M321.1 339.7h0M161.4 98.3h0M147.8 140.5h0M156.1 137.2h0M471.9 224h0M302 384.6h0M233.9 166.1h0M324.9 348.4h0M217.2 123.2h0M247.1 196.6h0M391.5 95.6h0M135.9 209.6h0M419.2 108.2h0M474.9 229.5h0M293.5 345.9h0M276.7 309.9h0M146 151.6h0M270.2 279.5h0M421.9 97.8h0M266.3 325.5h0M357.7 185.5h0M101.9 312h0M180.1 79.3h0M173 119.8h0M102.3 337.5h0M178.1 104h0M366.5 138.4h0M372.5 144.4h0M235.9 160.7h0M98.6 346h0M275.6 290.9h0M158.6 127.6h0M272 282h0M248 187.3h0M180.7 99.7h0M456.2 166.7h0M390 101.3h0M291.5 352.6h0M260 228.5h0M130.9 196.3h0M350.2 210.2h0M306.3 317.2h0M484.5 275.1h0M512.7 372.9h0M442 129.1h0M467.3 212.8h0M248.5 203.9h0M295.2 356.1h0M318.4 318.1h0M445.6 147.7h0M149.5 129.2h0M181.3 103.5h0M210.3 123h0M456.4 156.8h0M371.9 127.8h0M511.2 376.2h0M367.6 136.2h0M449.6 140.4h0M382.1 107.1h0M166.9 146.6h0M177.3 106h0M465.7 195h0M230.8 148h0M387.3 90h0M286.5 318h0M87.2 383.3h0M447.6 141.5h0M220.8 130.4h0M232.2 133h0M114.3 283.6h0M359.8 156.8h0M428.2 122.1h0M294.6 329.1h0M425.3 108.7h0M322.7 332.8h0M415 132.3h0M245.1 167.7h0M471.5 189.3h0M285.3 311.8h0M134 184.9h0M516.2 375.9h0M284.9 326.6h0M416.7 126.5h0M117.2 248h0M441.6 132.4h0M150 89.9h0M138 173.3h0M205.2 120.1h0M271.1 268.9h0M298 342.4h0M272.7 284.4h0M97.8 370.5h0M347.6 189.4h0M411.9 105.9h0M328.5 340.4h0M496.2 330.6h0M176.8 161.4h0M157.8 176.7h0M413 121.6h0M198.4 88.4h0M132.3 216.3h0M386 162.9h0M507.9 365h0M228.8 131.1h0M167.9 94.3h0M143.2 148.7h0M501.4 357.8h0M155.4 134h0M438.7 137.1h0M176.5 93h0M465.6 243.3h0M107.7 286.8h0M251.8 198.6h0M261 239.9h0M516 386.1h0M481.1 253.7h0M253.2 213.7h0M271.1 270.7h0M400 119.8h0M366.7 161.2h0M479.5 232.9h0M387.6 135.5h0M311.3 329.8h0M482.4 249.1h0M229.5 188.6h0M245.6 241h0M238.5 162h0M299.8 345h0M283.6 318.2h0M223.1 133.6h0M190.5 95.5h0M192.4 105.5h0M436.6 130.4h0M253.7 206.9h0M518 371.6h0M265.8 267.7h0M392.3 107.7h0M218.1 140h0M449.5 171.4h0M177.1 122.5h0M204.7 109.6h0M212.4 121.1h0M139.9 162.5h0M415.8 176.5h0M274.1 273.9h0M138.4 174.4h0M320.6 320.1h0M299.3 351.5h0M306.8 362.7h0M398.8 134.2h0M112 286.8h0M300.9 328.4h0M105.4 258.3h0M375.5 117.9h0M157.6 95.3h0M160.2 107.1h0M247.3 189.6h0M407.2 139.8h0M136.6 165.3h0M427.5 127h0M272.1 300.9h0M438.7 138.3h0M159.7 151.4h0M483.1 265.4h0M405.4 99.4h0M103.9 328.2h0M295.3 372.3h0M111.6 304.7h0M403.3 107.3h0M243.8 195.8h0M426.2 98.7h0M474.3 232.7h0M160.8 98.5h0M442.3 148.9h0M253.8 223.3h0M252.2 228.4h0M373 130.1h0M515 404.5h0M385.5 121h0M180.7 116.4h0M132 209.1h0M213.3 128.1h0M111.9 304.8h0M502.7 356h0M149.8 116.5h0M230.8 190h0M319.5 369.9h0M390.1 112.6h0M210.2 131.3h0M378.2 116.1h0M154.9 145.4h0M236.2 168.4h0M485 279.5h0M406.4 140.4h0M287.7 319.1h0M285.8 367.5h0M412.1 83.4h0M259.1 222.7h0M274.5 278.3h0M334.6 252.7h0M331 310.3h0M286.9 330.8h0M149 139.9h0M410.6 103.4h0M154.7 139.1h0M441.5 166.8h0M336.8 322h0M498 336h0M267.8 272.6h0M374.8 158.7h0M115.1 278.8h0M217.2 100.5h0M154.5 125.5h0M379.3 143.7h0M136.3 185.5h0M303.8 333.1h0M194.7 101.2h0M157 113.8h0M443.6 128.8h0M190.8 102.7h0M118 259.9h0M176.1 122.5h0M399.5 102.3h0M357.2 182.5h0M460.5 192h0M218.4 90.6h0M464.8 193.7h0M194.8 141.1h0M461.4 185.4h0M146.9 156.4h0M494.8 323.3h0M333.1 260.3h0M285.6 304.8h0M261.4 235h0M250.1 190.1h0M152.3 154h0M362.8 143.1h0M240.5 133h0M473.4 227.2h0M137.4 178.8h0M290.3 357.6h0M342.4 236.1h0M406.2 88.5h0M373.4 142.6h0M271.9 324.4h0M407.3 85h0M397.7 101.5h0M251.9 211.5h0M272.5 273.4h0M239.9 158.3h0M427.7 144.6h0M146 158.1h0M444.6 110.9h0M343.6 220.7h0M247.3 187.1h0M512.6 375.9h0M127.3 228.9h0M300.3 328.3h0M491.4 315.6h0M215.7 123.8h0M286.5 350.5h0M206 115.7h0M336.3 253h0M320.6 332.2h0M457.3 180.7h0M188.9 128h0M418.2 147h0M511.1 379.6h0M463.6 185.9h0M91.6 364.5h0M259.9 243.4h0M195.7 107.8h0M299.2 317h0M339.7 221.1h0M113.1 304.3h0M414.3 95.6h0M171.7 129.9h0M288 322.4h0M364.9 148.2h0M487.8 277.8h0M234 162h0M377.8 181.9h0M98.2 372.5h0M110.2 292h0M271.4 349.5h0M344.4 212.3h0M208.3 87h0M412.2 83.5h0M225 134.6h0M202.5 106.7h0M391.5 116.7h0M397.1 103.8h0M141.4 228.7h0M125.3 223.2h0M451.8 145.7h0M205.2 164.4h0M484.9 251h0M336.3 273.5h0M349.7 209.6h0M84.6 379.9h0M334 298.5h0M469 183h0M523.8 376.8h0M251.5 184.9h0M157.1 114h0M483.8 273.3h0M266.5 243.6h0M283.3 311.1h0M290.8 354.4h0M325.6 304.4h0M109.4 302.4h0M89.3 398.9h0M423.1 177.1h0M363.4 151.6h0M257.5 218.2h0M373.1 155.9h0M399 114.2h0M211.8 148.1h0M256.5 260.3h0M192.3 91h0M345.3 228.6h0M410 123h0M352.4 198.8h0M195.9 101.1h0M367.3 118.9h0M265 276.2h0M280.8 324.9h0M428.4 162.7h0M480.9 249.9h0M212 164.9h0M243.2 184.2h0M300.7 325.2h0M259.1 230.4h0M246.5 165.4h0M413.7 119.7h0M372.7 123.4h0M225 130.1h0M364.2 151.4h0M386 142h0M277.9 291h0M198.3 86.3h0M465.6 250.7h0M85 374.6h0M401.9 100.8h0M441.7 176.1h0M176.2 108h0M335.6 264.6h0M216.4 174.8h0M355.6 185.6h0M266.2 292h0M278.3 309.9h0M416.7 -4.2h0M324.5 328h0M205.7 94.6h0M411.7 110.9h0M330.8 298.2h0M219.2 121.5h0M347.6 207.9h0M412.1 91.6h0M110.9 291.9h0M156 164.8h0M239.1 152.2h0M193.2 57.1h0M104.3 330.3h0M489.9 281.8h0M409 109h0M268.8 269.8h0M149.9 132.7h0M410.7 112.7h0M334 297.4h0M221.9 200.3h0M106.6 318.4h0M419.2 144.2h0M176.1 86.2h0M201.4 140.2h0M185.9 88.6h0M334 265.7h0M211.4 126.5h0M130.8 214.2h0M470 262.4h0M159.4 137.8h0M178.4 122.4h0M411.3 88.9h0M331.5 291.6h0M155.3 112.4h0M219.2 119.8h0M377.2 125.1h0M214.5 111.5h0M310.2 329.8h0M331.6 282.2h0M500.7 355.8h0M358.9 158.6h0M210 119.1h0M133.9 194.4h0M348.1 226.1h0M327.4 315h0M417.8 156.9h0M83.3 374.5h0M150 154h0M337.6 257.2h0M394.4 125.4h0M479.4 240.5h0M423.5 124.7h0M353.6 174h0M232 157.3h0M189.4 99.5h0M201.8 101h0M361.5 155.2h0M135.6 210.5h0M263.6 252.4h0M235.4 134.3h0M135.4 190.5h0M450.6 121.8h0M452.7 214.1h0M194.1 107.3h0M122.1 248.2h0M361 171.2h0M173.1 100.8h0M341.6 255h0M256 229.9h0M464.6 186.2h0M220.9 225.6h0M118.9 236.7h0M244.3 176.2h0M483.4 263.2h0M147 158.4h0M416.8 163.6h0M282.5 308.3h0M333.1 257.7h0M479.7 229.3h0M482.7 249.2h0M276 294.8h0M208.8 120.7h0M181.4 114.6h0M356.1 170.2h0M344.6 218.2h0M313.7 316.7h0M218.8 128.9h0M274.9 284.5h0M325.1 301h0M94.3 370.9h0M111.3 286h0M99.6 341.8h0M455 168h0M357.7 148.1h0M221.6 138.5h0M472 255.9h0M126.7 219.7h0M169.7 109.7h0M228.9 145.1h0M241.5 164.2h0M324.7 305.4h0M116.4 255.3h0M199.3 101.9h0M307.7 330.2h0M419.5 115.5h0M361.7 170.8h0M524.8 374.7h0M225.7 170.2h0M357.7 192.3h0M508.4 392.2h0M281.2 310.8h0M154 142.9h0M184.5 85.9h0M137.9 186.5h0M293.5 318.5h0M513.2 367.4h0M472.4 189.9h0M347.2 197.2h0M498.5 385.9h0M118.3 281.6h0M373.1 125.4h0M343.7 214.3h0M369.1 140.6h0M197.7 86.3h0M407.8 130.8h0M319.5 344.1h0M511.9 382.3h0M315.8 332.6h0M461.2 182.8h0M156.7 136.6h0M425.2 97h0M410.1 108.6h0M372.6 135.7h0M178.6 99.8h0M119.1 249.4h0M244.9 167.8h0M107.2 313.9h0M289.9 301.8h0M409.7 131.1h0M305.3 342.9h0M186.4 97.5h0M362.6 153.2h0M410.4 105.9h0M195.1 128.7h0M228.2 127.5h0M174.1 115.6h0M283.8 332.3h0M267.5 265.6h0M120 223.6h0M198.2 110.9h0M113.3 272.9h0M213.5 140.3h0M251.4 197.2h0M451.3 142.7h0M494.4 321.9h0M403 99.7h0M481.5 231.2h0M446.4 145.1h0M106 329.2h0M483.7 262h0M341.5 223.7h0M157.7 132.1h0M505.6 404.3h0M155.3 154.9h0M169.3 114.9h0M351.3 194.5h0M410.1 108.8h0M281.7 368.2h0M285.7 297.9h0M295.2 322.7h0M283.1 310.9h0M90.3 372h0M338.9 245.2h0M396 95.5h0M376.8 164.2h0M328.3 306.9h0M239.1 142.5h0M416.8 90h0M163.3 102.1h0M346.4 248h0M410.5 101.4h0M335.3 244.2h0M456 158.7h0M146.2 132h0M444.1 134.6h0M459.8 179.6h0M251.5 185.7h0M150.4 139.7h0M347.3 246.3h0M197.9 86.3h0M393.9 121.8h0M222.6 123.5h0M401.9 112.5h0M255.8 213.2h0M293.7 321.9h0M259.3 242.9h0M105.9 325.3h0M155.8 162.6h0M212.1 73.4h0M422.2 156h0M82.7 397.9h0M419.1 107.8h0M301 331.2h0M379.7 123.7h0M231.8 182.4h0M217.1 142.2h0M506.6 380.6h0M479.6 258.6h0M366.2 131.8h0M237.3 157h0M126.9 220.5h0M111.9 262.8h0M204 116.7h0M408.8 90.9h0M197.2 108.9h0M197.1 95.2h0M316.7 329.8h0M424 85.6h0M518.3 392.1h0M335.5 249.9h0M369.3 124.3h0M230.6 128.4h0M148.7 133.9h0M361.8 160.7h0M150.7 144.6h0M379.1 116.2h0M106.5 296.7h0M387.6 110.8h0M170.2 92.7h0M373.4 121.3h0M455.4 153h0M236.4 171.6h0M140.5 165.6h0M202.2 104h0M237.7 184.5h0M513.6 388.8h0M244.3 176.6h0M389.1 84.4h0M202.7 111.9h0M192.4 96.9h0M256.9 270.1h0M355.6 205.1h0M344.3 208.8h0M260.1 241.6h0M163.4 92.1h0M452.3 149.6h0M330.4 268.1h0M346.1 208.7h0M406.1 96.8h0M176.4 86h0M504.8 370.5h0M433.9 123.5h0M435.7 121.2h0M414.6 81.9h0M173.5 128.6h0M371.9 142.3h0M190.6 110.2h0M317.5 325.5h0M478.2 252.4h0M319.5 337.5h0M111.9 289.7h0M413.1 160.3h0M429.3 105.5h0M377.6 183.5h0M116.1 287.1h0M209.2 124.1h0M263.9 280.8h0M365.1 142.3h0M446.8 156.2h0M251.2 192.2h0M247.8 255.2h0M169.6 126.8h0M105.2 314.7h0M389.1 126.4h0M276.5 301.9h0M338.6 251.9h0M393.7 74.4h0M260.1 266h0M459.8 184h0M295.9 353h0M321.9 326.8h0M444.7 130.1h0M215.4 145.3h0M407.4 155.2h0M203 110.9h0M420.5 96.7h0M354.6 165.5h0M507.1 386.8h0M292.9 332.9h0M405.4 77.6h0M111.1 305.7h0M400.3 120.8h0M322.8 303.6h0M185 91.1h0M438.4 128.6h0M170 109.9h0M368.7 167.2h0M121.9 239.5h0M334.2 259.1h0M133.2 189.4h0M487.4 281.2h0M182 83.8h0M337.4 241.7h0M280.3 300.2h0M251.9 218.9h0M346.1 225.5h0M322.8 302.8h0M510 376.8h0M124.4 239.4h0M133.4 193.4h0M251.4 204.9h0M276.2 296.8h0M444.9 141.6h0M159.8 126.5h0M92.7 359.6h0M393.6 100.8h0M280.7 304.6h0M495.4 306.7h0M102.7 341h0M294.4 316.8h0M242.8 217h0M269.9 294.9h0M176 128.5h0M464.6 213.1h0M153.3 158.5h0M142.9 152.2h0M349.1 198.9h0M109.4 288.1h0M236.2 167.9h0M385.3 111.3h0M400.3 143.5h0M374.7 130.1h0M144.8 177.5h0M91 379.1h0M370.3 154.4h0M251 183h0M327.4 311.6h0M139.1 163.8h0M145.2 134.4h0M155.7 133.6h0M398.8 116.5h0M173.9 106.8h0M176.6 110.7h0M445.2 133.6h0M248.3 231.5h0M442.1 137.2h0M338.4 240.3h0M241.1 183.8h0M291.2 368.1h0M261.7 209.7h0M324.2 320.6h0M478.6 228.8h0M357.7 177.6h0M340.4 221.1h0M362 169.1h0M89.9 357.8h0M184.9 118.6h0M516 427.9h0M411.8 102.7h0M329.8 316.9h0M468.5 216.1h0M289.1 321.7h0M485 325h0M377.7 132.9h0M296.1 330.3h0M398.2 156.1h0M288.4 321.3h0M388.9 116.7h0M103.5 330.1h0M340.9 231.4h0M217.5 228.4h0M422.7 109.7h0M212.2 158.8h0M349.6 191.6h0M303.7 330.6h0M525.3 375.3h0M469.4 216.2h0M121.5 244.4h0M488 305.9h0M422.8 105.9h0M132 245.2h0M414.4 104h0M491 294.5h0M215.8 214.4h0M150.3 133.3h0M246.2 172.5h0M301.3 360.6h0M274.5 303.9h0M166.4 99.9h0M518.5 418.8h0M160.8 135.1h0M215.3 134.2h0M192.9 103.1h0M109.3 294.8h0M261.3 238.1h0M188.9 85.1h0M230.3 171h0M130.2 210.1h0M466.4 194.5h0M431.5 140.6h0M89.1 380.7h0M96.6 354.1h0M378.3 121.2h0M202.6 122h0M240.3 171.6h0M297.9 327.4h0M502.1 353.2h0M135.9 189.2h0M242 196.4h0M421 107.3h0M344 215.6h0M244.9 220.3h0M309.3 326.6h0M237.3 152.1h0M390.6 96.3h0M90.2 368.6h0M298.9 317.8h0M159.7 132.8h0M166.3 125.8h0M216.4 107.6h0M178 104h0M132.6 189.9h0M208.7 121h0M422 117.7h0M341.5 209.4h0M425.8 76.4h0M454.5 200.1h0M400.3 108.5h0M173.3 137.4h0M214.9 176.7h0M415.8 100.8h0M356.5 123.9h0M362.3 175.8h0M468.3 214.8h0M188 94.9h0M202.7 96.5h0M373.6 140h0M459.6 204.2h0M87.4 368.9h0M487.5 281.9h0M201.3 82.2h0M226.5 137.3h0M367.4 127h0M111.8 285.3h0M290.4 326.8h0M442.6 138.1h0M302.8 402.1h0M349.5 176.2h0M399.9 93.6h0M361.3 148.8h0M477.3 258.8h0M191.3 103.1h0M272.6 307.6h0M457.3 177.1h0M238 163.2h0M276.6 302.2h0M351.8 196.1h0M238.1 172.7h0M206 101.6h0M314 332.9h0M161.9 127.6h0M258.1 199.8h0M177 150.9h0M137.3 194.7h0M513.5 384.1h0M448.2 136.7h0M508.1 370.7h0M267.8 243h0M198.2 77.3h0M482.1 263.8h0M195.9 79.4h0M273 284.3h0M358.2 167.3h0M176.7 85.6h0M298.1 325h0M433.7 112.9h0M348.8 215.2h0M230.5 138.3h0M146 138h0M281.1 327h0M289.3 334.6h0M205.6 127.8h0M255.3 240.8h0M251.1 270.3h0M131.3 195.6h0M436.1 135h0M351.3 193.9h0M196.1 121.8h0M329 333.4h0M245.2 166.2h0M176.5 96.1h0M206.9 85.3h0M339.1 239.9h0M215.5 170h0M366.3 148.9h0M464.1 169.8h0M410.7 107.2h0M475.4 222h0M474.4 207.4h0M416.7 110.5h0M298.4 351.8h0M179.4 97.2h0M253.1 198.2h0M134.6 177.9h0M134.4 202.6h0M214.7 122h0M234.1 184.5h0M145 162.3h0M358.7 198.5h0M96.1 404.6h0M457.2 159.2h0M131 232.6h0M300.8 329.2h0M434 127.1h0M295.1 327.9h0M204.9 133.5h0M436.4 123.3h0M171.5 124.3h0M511.1 369.9h0M370.3 142.8h0M93.4 364h0M508.1 381.1h0M465.7 183.9h0M172.5 90.5h0M518 380.6h0M269.1 268.7h0M311.4 309.2h0M262.9 294.7h0M247.1 206.9h0M412.4 121.7h0M424.2 151.9h0M446.1 174.7h0M424.8 113.2h0M147.8 132h0M105.5 325.5h0M216.3 172.9h0M229.3 136h0M254.7 213.4h0M335.3 254.9h0M204 93h0M250.2 203.2h0M178.5 84.6h0M259.9 226.2h0M281.4 332.7h0M326.2 303.8h0M165.9 125.4h0M499.9 333.8h0M140.9 157.1h0M438 117.7h0M190.6 94.5h0M228.5 211.4h0M477.8 235.8h0M287.6 321.2h0M494.1 320.6h0M88.6 391.2h0M327.9 293.8h0M306.8 346.9h0M418.6 152h0M145.9 137.8h0M180.6 110.1h0M455.7 173.9h0M416.2 104.9h0M344 205.6h0M169.6 98.8h0M311.6 339.2h0M274.6 302.1h0M500.2 345.7h0M429.3 98.7h0M115.5 272.6h0M150.2 139.5h0M475 240h0M373.1 138.7h0M291.1 344h0M116.3 277.2h0M185.9 145.2h0M441.3 120.5h0M344.8 197.4h0M248.3 149.7h0M83.5 376.2h0M290.4 323.5h0M143.9 171.8h0M152.5 116.1h0M177.7 66.8h0M172.3 82.4h0M269.7 265h0M333 283.6h0M449.5 157.1h0M95.1 349.4h0M110 293.9h0M269.4 304h0M423.8 113.5h0M195.5 92.5h0M521.1 377.3h0M372.4 131.6h0M112.5 255.1h0M485.3 262.3h0M283 331.4h0M439.2 144.6h0M403.2 99.3h0M210.6 120.6h0M301.7 348.8h0M100.1 341.6h0M232.3 137.8h0M408.9 96.5h0M422 102.8h0M269.8 344.3h0M507.5 396.3h0M334 265.5h0M351.1 180.4h0M186.6 108h0M181 138.6h0M325.7 306.3h0M324.1 318h0M363.8 150.4h0M127.5 221.2h0M207.3 120.2h0M196.9 106.7h0M299.4 321.6h0M343.9 223.8h0M274 345.1h0M476.5 237.8h0M265.2 236.5h0M320.6 302.6h0M136.6 183.4h0M304.9 326.8h0M505.1 414.7h0M478.8 246h0M88.1 397.8h0M330.1 285.5h0M445.2 120.5h0M185.4 99.1h0M111.6 310.3h0M477.4 231.7h0M299.6 440h0M198.9 107.8h0M198.8 106.9h0M252 192.8h0M180.5 81.2h0M192.5 91.5h0M351.1 188.4h0M492.5 302.8h0M369.1 142.2h0M320.1 311.2h0M154 164.8h0M462.1 181.8h0M463.4 197.3h0M469.8 231.6h0M160.2 119.1h0M94.2 398.1h0M294.6 394.3h0M283.4 309.5h0M400.9 130.6h0M466 191.5h0M301.3 324.4h0M427 118.3h0M176.7 119.4h0M192 82.3h0M255.5 205.4h0M465 182.3h0M159.8 151h0M453.3 141.5h0M153 103.9h0M152.2 124h0M243.1 156.9h0M294.1 326.2h0M464 183.2h0M344.6 219.1h0M211.1 113.9h0M150.2 132.5h0M336.2 278.2h0M424.2 103.8h0M278.7 279h0M182.9 74.1h0M216.8 109.8h0M282.6 317.1h0M470.2 214.9h0M486.4 263.6h0M129.3 228.3h0M114.3 275.1h0M209.2 145.5h0M315.3 317.2h0M507.5 367.4h0M422.4 74.1h0M220.9 155.3h0M91.1 394.5h0M370.1 146.2h0M409.8 150.1h0M466.8 180.6h0M464.6 191.3h0M408.4 117.3h0M327.5 294.2h0M251.9 218.8h0M228.5 164.8h0M433 97.7h0M348.9 190.7h0M422.3 131.7h0M187.1 111.3h0M135.3 162.9h0M86.4 372.9h0M116.7 274.7h0M243.7 187h0M493.1 319.4h0M226.7 123.9h0M96 369.9h0M283.2 339.2h0M366.3 137.3h0M126.7 198.1h0M313.3 382.3h0M210.6 149.3h0M191.2 92h0M94.5 390.1h0M297.2 324.8h0M102.7 337.4h0M121.2 250.2h0M347.4 209.3h0M361.3 149.3h0M465.4 185h0M301.7 368.8h0M448.1 164.2h0M162.1 151h0M322.4 308.4h0M493.8 312.3h0M111.2 283.8h0M432.9 122.4h0M153.9 128.1h0M320.6 343.4h0M470 218.2h0M230.4 138.6h0M183.8 92.9h0M221.3 149.1h0M183.4 95.8h0M312.6 334.5h0M129.6 188.4h0M161.6 122.3h0M428.2 106.2h0M180.5 78.1h0M380.9 140.1h0M281.4 344.3h0M131.6 222.6h0M179.1 100.4h0M424.9 93.2h0M480.8 255.8h0M387.9 128.6h0M303 333.1h0M514.5 403.1h0M168.3 87.8h0M118.4 265.3h0M177 96.4h0M298.7 345.7h0M412.7 104.3h0M303.9 330.9h0M440.6 137h0M392.8 98.9h0M122.6 235.5h0M449.3 156.4h0M232.7 147.2h0M325.2 284.4h0M236 150.1h0M195.2 76.7h0M264.6 235.3h0M407.5 94.6h0M372.4 136.1h0M444.3 178.1h0M168.1 103.2h0M258.4 227.5h0M92.1 381.2h0M292.5 340.9h0M203.5 102.6h0M320 338h0M393.2 112.3h0M497.9 329.2h0M98.3 348.3h0M340.5 217.4h0M510.2 380.2h0M236.5 206.6h0M487.8 272.3h0M231.8 149.4h0M410 146.1h0M264.5 239.3h0M364.7 155.2h0M379.9 143.4h0M146.5 132h0M163.7 130.2h0M311.2 351.8h0M153.2 131.4h0M450.6 126.8h0M368.5 150.4h0M118.1 256.8h0M437.7 137h0M464.2 185.8h0M85.2 380.3h0M125.3 213h0M149.9 153h0M121 245.7h0M370 143.3h0M509.5 374.7h0M405.8 108.9h0M110.1 293.8h0M480.9 248.4h0M234.6 134.1h0M288.7 315.2h0M401.3 96.6h0M343.9 223.5h0M169.8 121.2h0M183.2 84.4h0M142.9 149.7h0M194.9 83.6h0M312 332.4h0M132.5 200h0M472.8 222.2h0M442.4 121.3h0M422.4 122h0M331.6 306.8h0M390.1 94.4h0M207.6 139.6h0M489.8 299h0M458.8 178.4h0M367.6 143.5h0M168.2 111.9h0M340.6 260.3h0M243.3 171.5h0M171.7 109.9h0M294.9 364.7h0M360.8 159.3h0M252.8 229.4h0M170 142.3h0M218.1 131.3h0M336.9 252.3h0M361.4 152.3h0M230.9 145.5h0M455.8 176.2h0M270.4 276.7h0M330.8 351h0M439 103.7h0M475.1 230.1h0M292.3 305.8h0M417.9 108.8h0M154.2 121.6h0M340.6 229h0M479.7 286.9h0M352.8 180h0M272.3 330.9h0M451.7 190.1h0M196.4 104.8h0M392.1 119.4h0M437.1 110.9h0M188.9 71h0M412.7 103h0M229.1 168.8h0M198.6 76.7h0M220.6 133.5h0M307.4 326h0M476 271.2h0M230.7 133.8h0M426.7 171.7h0M335.3 270.1h0M385.5 112.3h0M510.7 375h0M139.4 134.8h0M299.6 331.4h0M226.1 136.5h0M310.2 383.8h0M233.2 238.2h0M473.7 196.2h0M138.5 209.2h0M315.6 327.2h0M379.7 128h0M452 133.3h0M412.4 110.4h0M340.2 240.6h0M291.3 326.6h0M431.4 148h0M225.4 148.1h0M161.4 85.5h0M123.8 256.3h0M394.5 107.3h0M201.6 131.8h0M487.3 271.2h0M150.4 142.1h0M306.8 344h0M438.4 129.6h0M398.2 94.9h0M92.6 375.4h0M418.9 102.8h0M505.8 394.2h0M185.3 90h0M451.8 171.7h0M335.5 268h0M185.3 101.4h0M516.8 387.4h0M489.2 324.9h0M436.7 128.4h0M83.5 387.9h0M378.2 135.2h0M280.4 311.4h0M200.5 81.9h0M460.9 175.6h0M157.7 129h0M137.3 205h0M349.9 179.4h0M363.7 168.4h0M428.9 125.5h0M211.8 87.6h0M376 141.4h0M408 124.8h0M510.9 370.3h0M417.7 110.8h0M211.2 124.9h0M278.2 315.7h0M198.5 88h0M250.9 192.3h0M152 179.7h0M393.8 102.9h0M152 118.5h0M428.6 108h0M266.1 271.7h0M280.5 290.9h0M508.4 379.6h0M394.1 115.8h0M103.5 328.7h0M345.4 205.6h0M435.6 131.9h0M312.4 357h0M328.1 340.5h0M424.8 106.2h0M430.8 97.4h0M227.1 141.3h0M174 111.7h0M332.9 333h0M216.3 173.8h0M442.7 177.9h0M429 154.3h0M509.6 379.3h0M123.7 221.4h0M402.2 95.2h0M226.4 129.1h0M477.3 233.4h0M99.5 345.1h0M245 174.1h0M262.1 236h0M397.3 126.4h0M157.4 147.7h0M417.4 120.9h0M121.3 208.1h0M323.5 306.5h0M347.8 188.9h0M373.3 130.4h0M409.9 103.6h0M219 114.5h0M267.1 265.8h0M339 253.3h0M245.5 168.5h0M221.5 139.9h0M518.6 363.9h0M83.3 386.6h0M205.7 131.6h0M151 154.2h0M268.3 255.4h0M472.5 207.7h0M362.5 68.2h0M498 343.4h0M123.1 237.8h0M520 397.4h0M453.4 210.8h0M475.7 230.7h0M283.2 291.7h0M404 97.3h0M126.9 213.4h0M522.6 384h0M148 143.8h0M295.3 357.5h0M284.3 346.5h0M144.3 158.7h0M148.9 157.9h0M277.6 298.7h0M228.8 251h0M321.7 336.5h0M337.8 255.4h0M407.3 116.4h0M356.3 153.7h0M288.4 335.1h0M330.9 284.7h0M382.4 130.8h0M197.3 109.7h0M408.3 97.4h0M382.6 112.1h0M371.8 133.3h0M201 86.6h0M218.5 173.9h0M379.1 144.4h0M106.9 311.5h0M229.3 138.1h0M252.6 205.1h0M138.7 175.9h0M363 152.2h0M520.2 373h0M492.4 306.7h0M112.4 283.9h0M319.5 327.4h0M233.7 167.3h0M369.5 165.1h0M439.1 133.1h0M95.5 364.2h0M332.8 271.5h0M186.2 93.2h0M255.6 241.3h0M296.9 315.7h0M378.5 121.6h0M256.1 238.5h0M449.9 150.3h0M242.8 175.7h0M192.2 102.5h0M299.3 333.9h0M513.9 374.6h0M155.2 176.5h0M116.1 277.7h0M148.1 163.3h0M476.9 229.7h0M400.1 118.4h0M431.6 122h0M421.5 143h0M227.6 141.7h0M260.6 289.5h0M236.7 224.2h0M314.2 353.5h0M118.5 252.7h0M314.9 329.8h0M278.7 353.3h0M337.5 274.8h0M499 372h0M264.4 247.1h0M155.1 112.8h0M135 178h0M212.1 93.6h0M199.6 101.4h0M310.8 344.1h0M315.3 334.5h0M429.9 109.2h0M318.9 316.5h0M509.9 373.7h0M381 136.1h0M325.2 301.4h0M455 160.5h0M504.3 383.5h0M170.4 100.4h0M495 342.1h0M480.5 235.3h0M346.9 209.3h0M320.4 312.7h0M288.8 304.5h0M406 99.5h0M346.9 222.5h0M334.5 251.6h0M481.4 252.4h0M479.9 230.2h0M268.6 277.5h0M398.2 86.4h0M120.9 242.5h0M307.1 322.9h0M240.9 162.1h0M391.5 110.9h0M272.2 284.4h0M332.8 271.8h0M313.9 347.3h0M411.2 137.2h0M281.2 317.1h0M105.4 318.2h0M256.4 218.8h0M376.6 117h0M382.7 109h0M371.1 126.5h0M411.5 109.7h0M138.2 150.2h0M204.8 79.3h0M357.3 189.5h0M454.2 160.4h0M394.7 112.1h0M162.1 126.7h0M189.2 93.8h0M375.7 122.1h0M452.9 136.5h0M330.9 290.9h0M277.2 306.8h0M156 149.2h0M127.4 214h0M219.4 145h0M398.8 112.4h0M157.6 122h0M273.6 269.5h0M510.3 376.1h0M445.6 128.7h0M480 266.7h0M343.8 225.6h0M426.1 90.3h0M258.7 220.1h0M423.2 109.1h0M329.6 300.7h0M227.3 178h0M362.3 157.7h0M510 392.7h0M115.8 264.8h0M350.7 221.9h0M260.1 254.9h0M168.5 119.1h0M159.4 173.7h0M290.2 335.7h0M235 172h0M104.9 299.3h0M193.7 90.3h0M266.3 274.4h0M268.9 281.2h0M182.6 84.3h0M254.6 232.7h0M330.3 292.2h0M164.9 120.2h0M344 206.3h0M456.4 167.5h0M279.6 301.9h0M171.1 107.1h0M235.5 169.3h0M508.5 412.4h0M348.3 175.7h0M452.3 154.3h0M473.2 214.8h0M331.2 297.9h0M380.3 124.4h0M262.6 232h0M237.2 225.1h0M294.3 325.9h0M256.3 206.5h0M330.8 282.4h0M520.8 373.6h0M437.7 128.1h0M480.8 271.5h0M198.6 105.6h0M226 153.5h0M253.5 196.8h0M331 289.4h0M99.8 335.8h0M479.3 237.3h0M429.4 165.6h0M432 153.3h0M137.5 176.2h0M146.3 164.6h0M265.9 300.3h0M472.8 233.4h0M114.3 277.4h0M112.4 302.9h0M416.3 111.5h0M430.9 103.3h0M309.6 304.3h0M297.3 328.6h0M158 131.4h0M164.5 121.1h0M148.1 154.6h0M196.4 146.5h0M464.9 156.8h0M342.7 289.8h0M354.7 171.3h0M226.7 181h0M301.6 323.3h0M445.2 149.1h0M362.4 167.1h0M208.5 162h0M166.9 105.9h0M243 118.9h0M224.7 117.6h0M136.3 167.8h0M224.6 130.2h0M191.7 85.2h0M451.4 153.5h0M155.2 134.2h0M309.2 330.9h0M422.1 101.7h0M215.9 105.2h0M165.5 110.2h0M357 179.9h0M262.9 232h0M300.2 337h0M123.2 238.7h0M178.8 86h0M423.6 125.6h0M520.4 379.5h0M221.1 174.2h0M235.1 206.6h0M294.7 323.9h0M294.8 342h0M234.2 158h0M203.6 108.9h0M158.7 139.1h0M442.9 134.6h0M202.8 95.8h0M259 227.2h0M255.6 214h0M372.5 118.1h0M152.1 152.5h0M453.8 171.7h0M146 142h0M370.6 170.7h0M471.3 249.8h0M209 128.8h0M207.2 103.5h0M439.7 144.8h0M381.2 113.9h0M153.1 115h0M164 122.3h0M494.4 331.9h0M464.5 207.3h0M432 121.5h0M259.3 226.7h0M209.2 129.3h0M183.1 90.3h0M436.5 130.1h0M151.5 117h0M261 231.3h0M516.9 406.4h0M205.9 95.2h0M366.3 159.8h0M386.6 123.1h0M489.5 296.1h0M497.3 330.5h0M340.3 222.3h0M512.4 375.5h0M112.4 301.1h0M95.6 347.7h0M405.9 101.3h0M354.4 171.2h0M257.1 228.5h0M383.7 170.8h0M452.6 151h0M383 127.7h0M399.3 97h0M372.4 138.3h0M283.9 300.2h0M286.5 312.7h0M179.7 102.6h0M363.9 173h0M239.6 206.9h0M90.3 370.2h0M341.3 235.2h0M361.7 159.5h0M414.8 102.8h0M202.9 78.3h0M254.2 244.8h0M523.1 398.7h0M193.5 81.6h0M250.4 211.2h0M488.3 280.5h0M197.5 128.9h0M145.7 138.3h0M159.4 123.7h0M163.6 120.9h0M181.7 104.5h0M88.2 382h0M99.7 343.3h0M382.5 94.6h0M405.5 107.4h0M404.7 90.7h0M303.1 346.7h0M296 322.6h0M447.3 114.3h0M370.9 163.1h0M422.1 84.8h0M333.6 300.3h0M330.1 273.1h0M458.5 201.2h0M364.3 160.9h0M357.7 175.3h0M170.7 129.9h0M357.1 196.6h0M189.5 89.4h0M455.9 184.5h0M525.5 381.1h0M447.5 147.8h0M300.2 336.7h0M276.9 313.3h0M465.2 168.3h0M137.1 156h0M390.7 114h0M178.7 86.9h0M477.2 233.7h0M138.7 173.3h0M222 129.2h0M288.2 328.4h0M191.9 149.9h0M451.6 143.2h0M521.9 373.5h0M99.1 350h0M271.4 282.4h0M366.2 159h0M290.2 317h0M277.6 287.2h0M420.9 156.4h0M179.8 111.8h0M509.7 381.1h0M438.1 132.9h0M151.1 127.2h0M89.9 382.3h0M229.8 104.8h0M181.2 76.4h0M134.7 188.9h0M413.4 76.7h0M121.5 246.3h0M227.7 153.4h0M210.1 85h0M427.9 109h0M495.5 331.6h0M304.7 329.8h0M255.9 219h0M226.7 115.4h0M219.5 116.9h0M398.5 136.6h0M103.5 343.2h0M446.2 152.5h0M195.7 130.8h0M87.5 371.4h0M407.8 95.7h0M172 123.7h0M277.3 293.5h0M231.9 158.5h0M323.3 309h0M245.6 199h0M415.3 91.4h0M338.8 236.4h0M395.6 109.3h0M441.5 127.9h0M284.8 322.9h0M262.3 244.7h0M421.3 111.6h0M390.7 87.5h0M193.5 104.3h0M473.9 239.1h0M482.2 258.2h0M429.6 149.1h0M198.2 108h0M411 114.2h0M458.8 172.2h0M307.4 415.3h0M154.8 149.6h0M186.7 86.7h0M376.8 136.3h0M135.7 179.5h0M183.3 91h0M127.3 221.7h0M312 339.8h0M164.4 139.5h0M187 107.9h0M477.6 249.9h0M442.9 121.5h0M193 97.8h0M238 150.3h0M149.5 126h0M382.6 105.2h0M352.9 191h0M315.1 339.4h0M513 368.1h0M228.4 142.2h0M350.8 189.1h0M178 118.2h0M396.7 153.8h0M383 143.4h0M240.1 230.2h0M83.2 377.9h0M234.1 152.9h0M161.7 121.9h0M359.2 191.8h0M193.6 101.8h0M157.1 129.3h0M274.8 313.4h0M328.5 286.7h0M173.4 102.3h0M252.7 213.4h0M215.7 131.5h0M508.3 368h0M466.1 216.3h0M156.6 145.5h0M475.3 229.7h0M344.4 248.4h0M227.5 141.9h0M413.4 110.6h0M173.1 106.9h0M368.7 155h0M376 112.5h0M291.5 395.5h0M257.7 220.1h0M85.7 397.4h0M420.2 117.6h0M350.8 183.9h0M402.9 119.1h0M255.2 253.7h0M422.9 90.6h0M148 140.5h0M427.8 120.4h0M247.5 183.1h0M368.9 126.5h0M148.3 141.6h0M350.1 176.3h0M490.7 294.7h0M418.1 108.9h0M418.8 113.8h0M422.8 133.2h0M151.7 137.2h0M207.7 70.8h0M402.1 102.3h0M135 182.5h0M221.5 138.9h0M100 349.6h0M168.2 117.1h0M385.5 117.4h0M450.5 157.8h0M474.7 217.6h0M418.6 73.1h0M462.5 181.2h0M366.7 174.2h0M308.9 325.8h0M388.3 150.2h0M405.9 112.3h0M113.8 291.1h0M456.3 164.4h0M297.4 371.3h0M327.2 288h0M272 335.4h0M367.8 127.4h0M192 102h0M241 169.3h0M296.6 336.1h0M169.9 117.2h0M346.6 264.5h0M286.9 310h0M426.8 155.4h0M435.2 107.7h0M405.8 147.4h0M298 328.9h0M328.1 334.5h0M214.2 128.2h0M225.9 144h0M125.7 220.9h0M481.5 260.2h0M260.6 293.9h0M497.7 338.2h0M384.7 104.2h0M447.4 147.1h0M162.5 131.1h0M166.1 103.2h0M136.7 260.6h0M368.5 158.7h0M285 317.4h0M313.4 347.7h0M385.2 134.8h0M447.1 160h0M365.3 150.1h0M422.8 107.1h0M93 354.4h0M156.8 142.9h0M466.7 175.7h0M273.6 350.8h0M259 223.6h0M149.2 120.7h0M133.1 184h0M277.9 315h0M132.8 223.9h0M438.1 109.4h0M348.8 205.1h0M474.1 231.2h0M174.1 92.1h0M138 156.7h0M169.1 90.1h0M147.1 145.3h0M116.7 268.2h0M371.4 155.3h0M381.7 157.3h0M199.3 110.4h0M275.6 276.3h0M268 308.8h0M373.1 141.8h0M493 304.3h0M156.1 129.1h0M246.8 230.9h0M494.5 314.5h0M161.3 134.2h0M167.5 119.6h0M392.4 87.4h0M427.8 104.9h0M89.7 392h0M415.8 89.5h0M319.9 331h0M199.7 96.6h0M338.4 286h0M236.8 208.3h0M415.9 108.3h0M478.7 236.1h0M83.1 380.5h0M410.3 114.5h0M422.1 54.9h0M202.9 122.1h0M391.4 135.6h0M251.9 210.8h0M213.8 119.6h0M339 240.7h0M419.5 117.7h0M479.8 240.2h0M141.2 162.4h0M394.7 159.3h0M333.7 264.5h0M421.5 96.4h0M449.1 128.4h0M130.8 223.5h0M392.5 127.4h0M178.6 86.7h0M258.3 236.3h0M112.3 305.1h0M343.9 244h0M374.2 168.9h0M271.9 314.8h0M231.2 142.3h0M184.8 84.3h0M191 101.4h0M260.1 246.1h0M451.1 166.6h0M142.3 158.8h0M92.9 374.5h0M521.4 378.7h0M443.8 112.2h0M441.4 144.8h0M430.7 141.5h0M408.9 117.4h0M406.4 109.3h0M105.8 317.2h0M241.5 199.2h0M405.7 113.1h0M337.1 282h0M306.6 319.7h0M106.8 324.1h0M404.7 111.6h0M173.7 96.5h0M308.9 337.4h0M515.9 375.3h0M296.7 355.6h0M383.4 133.6h0M249.7 204.3h0M366.2 137.5h0M131.1 208.7h0M128.4 235.7h0M146.6 150.6h0M395.9 79.7h0M170.6 128.2h0M169.2 121h0M365.6 135.9h0M229.2 137.8h0M357.3 171.7h0M153.9 121.1h0M135.8 189.6h0M309.3 319.2h0M191.3 104h0M157.4 167.6h0M336.8 247.4h0M382.7 126.8h0M381.6 128.5h0M520.2 412.9h0M306.1 343.9h0M262.7 209.5h0M157.2 130.4h0M264.5 242.1h0M347.7 218.5h0M233.4 177.7h0M501.9 376.5h0M489.7 301.6h0M334.8 299h0M240.2 217.8h0M184 80.3h0M134.9 202.3h0M132.6 202.4h0M100 334.8h0M196.2 78.6h0M469 219.3h0M134.6 198.2h0M304.7 321.7h0M230.9 166.6h0M245.3 155.9h0M100 361.9h0M277.9 338.3h0M254 198.1h0M521.4 383.7h0M508.7 437.1h0M492.5 325.2h0M341.1 218.8h0M157.3 135.5h0M515.7 378.7h0M258.1 227.3h0M301.3 347.9h0M395.4 98.6h0M184.9 80.9h0M297 331.6h0M189.4 81.6h0M192.7 104.9h0M239.5 167.8h0M488.3 282.2h0M372.5 124.2h0M256.3 242.5h0M233.5 144h0M265.6 311.1h0M147.6 88.6h0M472.1 207.8h0M247.2 186.4h0M298.8 322.5h0M127.3 226.1h0M310.7 337.7h0M524.5 393.5h0M130.9 195.2h0M199.3 102h0M355.6 150.9h0M262.5 228.7h0M439.4 147.3h0M346.2 231.2h0M467.4 187.1h0M436.1 102.9h0M147.8 162.8h0M236.8 174.7h0M322 351.8h0M475 228.8h0M216.4 119.8h0M131.6 184.4h0M436 122.2h0M172 96.3h0M379.9 115.5h0M386.1 128.2h0M187.6 91.6h0M457.4 175.4h0M257.6 291.2h0M180.3 94.1h0M233.3 155.6h0M173.4 99.1h0M526 384.7h0M88.2 394.5h0M461.2 194.7h0M395.6 150.4h0M332.8 304.7h0M181.6 60.1h0M224.8 157.3h0M503.9 349.7h0M446.5 146h0M137 193.1h0M277.9 359.5h0M503.4 405h0M97.1 385.4h0M318.3 329h0M406 110.8h0M200.1 88.6h0M264.6 245.5h0M355.2 179.1h0M459.9 194.8h0M392.1 102.8h0M183.4 118.6h0M354.4 192.6h0M225.3 118.6h0M441.7 118.1h0M403.8 73.1h0M460 205.8h0M88.4 394.4h0M348.8 192.5h0M148.9 133.5h0M475.5 230.9h0M358.9 156.2h0M193 93.3h0M229.8 130.4h0M428.6 129.5h0M307.4 352.9h0M216.5 111h0M523.9 375.6h0M472.7 199.9h0M122.3 234h0M352.4 172.8h0M303.5 347.6h0M212.7 113.3h0M357 128.3h0M413 118.7h0M369.6 141.4h0M242.8 168.9h0M340.1 255.9h0M84.7 373.7h0M196.6 108.1h0M367 145.1h0M370.7 134.7h0M138.6 171h0M237.2 182h0M512.8 377.6h0M179 105.1h0M153.6 141.1h0M306.7 339.8h0M244.9 164.4h0M314 325.2h0M112.1 295.3h0M384.1 113.1h0M262.2 264.5h0M123.7 219.7h0M314.6 362.8h0M344.5 194.2h0M222.1 111.7h0M187.3 108.8h0M475.9 227h0M365.4 152h0M219.7 138.8h0M429.9 128.6h0M262.7 259.9h0M294.2 315.4h0M147.1 158h0M217.2 115.5h0M244.5 190.1h0M447.8 143.5h0M181.5 122.4h0M313.6 319.9h0M191 122.4h0M412.8 105.9h0M148.6 133.6h0M300.2 317.8h0M197.5 99.2h0M398.1 101.7h0M517.9 377h0M388.4 112h0M84.8 378h0M410.7 98.1h0M406.9 105.9h0M445.1 136.4h0M410.1 143.5h0M149.4 174.7h0M496.5 334.2h0M197.8 122.7h0M441.7 142.1h0M139.9 186.6h0M119 263.7h0M208.3 118.1h0M126.8 229.2h0M223.7 129.8h0M152.5 145.1h0M428 108.6h0M469.7 199.5h0M342.1 205.8h0M187.1 95.7h0M100.7 339.6h0M124.1 210.4h0M202.8 120.6h0M205.3 96.2h0M210.8 115.6h0M452.8 156.5h0M403.7 100.1h0M336.6 253.5h0M272.2 289.5h0M189.3 108.7h0M346.7 184.1h0M199.7 110.6h0M441.8 168.4h0M489.9 285.6h0M323.1 322.9h0M100.5 326.9h0M386.7 121.2h0M222.7 164h0M117 261.2h0M397 113.8h0M417 94.4h0M101.8 317.8h0M452.9 145.9h0M185 99.3h0M430.4 128.7h0M449.9 145.2h0M328.7 310.6h0M349.4 201.1h0M496.7 321.1h0M152.3 144.5h0M312.2 370.3h0M247.4 174h0M91.5 374h0M127.8 219.2h0M235.1 163.2h0M462.5 162h0M460.3 188.1h0M222.8 125.7h0M403 102.3h0M342.8 223.1h0M451.4 159.8h0M424.4 97.8h0M223.6 130.8h0M469.3 207.1h0M386.3 129.6h0M137.1 173.8h0M120.9 231.5h0M109.9 292.5h0M437.4 135.4h0M304.5 352.4h0M125.2 201.7h0M369 156.3h0M374.6 116.7h0M472.9 212.8h0M359.5 198.9h0M526.3 412.5h0M327.7 292.5h0M285.8 320.5h0M443.7 186.2h0M199.8 80.5h0M192.3 124.8h0M403.7 104h0M384.9 127.7h0M178.9 93.3h0M330.3 276.2h0M121.1 235.5h0M463.9 191.8h0M512.7 369.2h0M255.7 314.7h0M465.9 183.3h0M459.4 161.4h0M245.1 214.3h0M189.5 95.9h0M338.3 232.4h0M254 236h0M89.2 377.8h0M311.3 311.2h0M247.3 247.2h0M159.5 150.4h0M348.1 210.1h0M198.1 124.5h0M524.1 386.2h0M364.8 153.4h0M432.4 124.2h0M440.2 113.8h0M170.7 103.8h0M469.6 201.4h0M442.1 155.6h0M346.9 221.8h0M462.2 161.3h0M264.1 264.1h0M192 96.1h0M221.6 75h0M432.3 100.5h0M352 173h0M311.8 338.7h0M127.3 206h0M342.2 219.3h0M390.3 141.2h0M459.9 162.9h0M290.5 322.6h0M373.9 160.5h0M144.9 155.7h0M451.3 207.5h0M499.2 331.8h0M142.5 155.9h0M357 147.4h0M369.4 138.5h0M389.7 128.4h0M278.7 305.7h0M228.3 216.5h0M206.9 110.9h0M338.9 255.1h0M139.5 161.3h0M297.3 334h0M475.4 260.9h0M228.6 155.1h0M353.3 172.7h0M218.7 108.2h0M314.8 337.4h0M357.1 131.9h0M175.3 103.5h0M437.2 123.7h0M213.7 176.7h0M520 376.2h0M245.6 205.4h0M96.3 345.1h0M350.7 174.5h0M466.8 208.4h0M312.9 326h0M472.3 236.7h0M277.7 323.2h0M321.5 319.2h0M261.2 236.1h0M173.8 102.3h0M468.6 214.6h0M300.6 328.5h0M395.9 93.9h0M385.3 124.3h0M160.8 120.9h0M100.7 341.8h0M148.7 131.8h0M92.9 363.4h0M185.3 103.9h0M254.5 218.4h0M179.4 81.2h0M433 113.8h0M205.2 87h0M149.4 147.2h0M175 86.8h0M173 98h0M164.9 109.1h0M143.4 164.4h0M516.7 419.6h0M137.6 164.4h0M493.6 315h0M217.6 139.8h0M131.1 206.8h0M241.4 182.4h0M298 340.2h0M371.6 152.3h0M515.5 405.8h0M352.7 174.9h0M387.5 118.5h0M166.1 115.7h0M276 352h0M422.6 128.5h0M163.4 105.2h0M157.2 116.2h0M377.5 122.3h0M331.8 287.1h0M179.8 89.9h0M232.1 151.5h0M167 103.7h0M157.9 144h0M355 199.1h0M110.6 290h0M224.4 151.2h0M454.5 147.3h0M442.9 188.6h0M177.5 108.2h0M200.5 95.6h0M204.1 98.4h0M263.1 245.1h0M174 86.5h0M251.5 188h0M177.2 115.9h0M335.7 316.3h0M220.9 149.6h0M128.2 231.2h0M116.5 264.7h0M418.2 127.3h0M193.8 103.1h0M137.9 167.7h0M240.1 166.5h0M338.4 243.6h0M515.6 376.3h0M188.1 99.6h0M518.3 362.7h0M259.2 219.3h0M126.8 229h0M116.6 276.7h0M114.2 280.5h0M154.6 141.7h0M119.4 244.5h0M164.4 116.3h0M247.2 185.5h0M424.2 150.9h0M256.3 239h0M413 96.8h0M486.6 283.2h0M374.8 147.5h0M442.1 143.5h0M230.6 125.3h0M102.7 330.4h0M281.9 315h0M464.6 198.5h0M162.2 121.3h0M139.9 171.4h0M281.7 296.4h0M217.1 136.8h0M84.8 387.5h0M436.6 117.2h0M403.1 92.3h0M511.9 383.7h0M92.3 361.4h0M136.3 178.2h0M271.2 313.5h0M408 71.5h0M201.2 114.4h0M133.6 212.8h0M136.7 172.7h0M251.6 184.2h0M238.8 184.8h0M488.8 275.1h0M282.4 301.7h0M285.5 310.7h0M321.3 321.2h0M110.3 283h0M275.5 290.3h0M186.8 91.7h0M368.7 141.4h0M326.6 336.2h0M207.2 106.8h0M97 355.3h0M216 137.4h0M392.3 102.5h0M331.8 285.3h0M140.2 168.3h0M112.2 288.3h0M364 145.9h0M520.9 387.5h0M483.1 275.8h0M426.3 131.7h0M407 103.6h0M202.9 95.9h0M484.6 256.6h0M230.1 135.9h0M248.8 188.1h0M392.9 93h0M111.5 302.6h0M266.5 266.9h0M154.4 155.1h0M366.7 148.8h0M198.7 105.3h0M256.4 213.5h0M320 332.7h0M445.9 142.7h0M422.4 101h0M192.3 101.8h0M413.5 156.7h0M422.9 123.8h0M404.6 136.9h0M157.2 102.3h0M310.6 303.4h0M307.2 362.3h0M122.5 234.9h0M458.8 167.8h0M288.8 357.1h0M263.4 250.4h0M410.8 94h0M203.5 123.1h0M369.2 158.8h0M444.5 160.7h0M367.9 144.5h0M294.5 384.4h0M355.4 178.6h0M358.7 164.9h0M283.9 349.4h0M251.2 234.6h0M276 308h0M204.5 93.4h0M478.7 247h0M125.4 212.2h0M504.4 369.7h0M392.2 110.5h0M168 112.4h0M136.7 182.2h0M226.8 117.2h0M261.9 228.8h0M322 373.7h0M315.1 336.3h0M386.3 116.2h0M421.8 103.8h0M193.1 95h0M328.2 298.8h0M145.1 181.5h0M172.8 122.6h0M365.5 149.9h0M165.6 120.7h0M320.9 317.8h0M171 102.3h0M221.6 140.7h0M276.6 292.8h0M252.6 197.8h0M349.6 190h0M460.4 191.9h0M403.7 90.2h0M175.8 95.9h0M473 221.8h0M158.3 133.9h0M222.5 153.6h0M441.6 193.1h0M515.4 410.9h0M83.2 410h0M503.7 377.3h0M114.5 299.2h0M416.6 92.5h0M245.6 203.6h0M185.4 120.5h0M334.6 281.1h0M405 95.4h0M241.1 180h0M190.3 86h0M142.5 167.3h0M424.1 116h0M442.5 139.9h0M280.5 317.8h0M305.9 333.1h0M346 205.9h0M119.3 266.2h0M211.7 107.2h0M350 182.9h0M238.2 147.8h0M134.1 210.9h0M88.9 368.3h0M300.2 339.9h0M283.9 315.4h0M192.2 100.8h0M100.4 336.7h0M394.3 101.7h0M404 117.8h0M186 95.2h0M147.8 131.9h0M266.1 252.1h0M347.5 183.3h0M365 152.4h0M420.7 121.3h0M324.3 312.1h0M377.1 148.6h0M306.1 347h0M446.1 135.5h0M343.9 247.7h0M231.2 144.7h0M488.4 284.2h0M377.5 138.9h0M376.5 165.9h0M264.5 264h0M184.9 116.9h0M227.6 125.3h0M296.2 342.5h0M172.7 97.5h0M210.5 110.7h0M498.6 364.6h0M286 310.9h0M427.5 117.7h0M401 76.6h0M242.7 176.1h0M131.6 196.9h0M114.8 293.2h0M441.3 153.1h0M491.4 306.7h0M206.6 197.9h0M397.6 115.1h0M307.9 342.5h0M383.9 141.1h0M262.8 249.1h0M417.8 90.5h0M523.4 385.6h0M305.1 406.5h0M439.7 152.9h0M191.7 118.4h0M322.8 316h0M202.7 108.4h0M128 213.5h0M214.9 151h0M232.8 158.7h0M423.2 97.3h0M164.6 129h0M201.1 98h0M430.5 136.6h0M261.3 224.1h0M525 370.5h0M96.1 376.6h0M141 190.1h0M177.1 93.5h0M446 139.1h0M328.4 324.7h0M464.5 232.7h0M229.1 228.1h0M448.9 138.6h0M102.2 316.1h0M314.9 333.1h0M489 331.3h0M201.2 117.4h0M145.8 146.4h0M223.9 170.2h0M514.8 368.5h0M377.9 125.9h0M209 86.7h0M395.5 103.3h0M326.4 324.4h0M181.6 93.4h0M147.3 159.5h0M366.1 148.3h0M287.3 347.7h0M276.7 335.9h0M241.1 172.7h0M176.1 93.1h0M347.5 233.1h0M138.5 198.5h0M297.6 323.2h0M218.9 96.9h0M255.1 215.6h0M439.1 135.3h0M311.5 342.6h0M159 114.9h0M418.8 103.3h0M92.5 370.3h0M364.2 131.7h0M279.1 328h0M230.4 143.4h0M104.2 329.8h0M206.2 119.8h0M117.3 273h0M428.9 103.4h0M223.3 135.2h0M478.9 254.3h0M413 103.5h0M426.7 107.1h0M523.6 381.7h0M367.5 155.2h0M305.9 331.8h0M294 344.6h0M352.2 189.6h0M195.1 184.9h0M271.8 312.2h0M464.1 199.3h0M159.3 131.2h0M406.9 105.6h0M359.3 150.4h0M230 131.9h0M234.9 158.7h0M241.8 215.7h0M383 131.2h0M192.2 105.4h0M467.2 173.8h0M213.5 124h0M386.5 112.9h0M157 163.7h0M426.4 128.7h0M417.7 92.9h0M465.3 194.6h0M109.2 299.6h0M299.2 338.8h0M474 231.9h0M293.2 318.7h0M299.6 311h0M247.6 176.9h0M472.9 271.7h0M415 125h0M321.2 309.1h0M185.1 90.4h0M349.8 210.2h0M216.6 130.6h0M150.1 143h0M130.2 215.6h0M320.6 314.8h0M284.4 296.4h0M467.8 196h0M387.1 65.8h0M99.4 323.8h0M398 119.2h0M518.1 385.7h0M232.7 159.6h0M138.7 158.9h0M484.5 260.2h0M235.9 140.5h0M314.8 329.3h0M122 241.4h0M428.5 112.7h0M258.3 240.1h0M265.5 245.8h0M222.6 130.2h0M489 202.3h0M448.4 162.6h0M222.7 148.7h0M237 145.5h0M406.6 105.5h0M456.7 183.9h0M144.2 190.5h0M82.7 400.9h0M337.8 261.7h0M459.2 156.2h0M523.4 363.8h0M227.1 163.5h0M267.5 258.8h0M308.1 323.4h0M485.2 268.7h0M341.1 220.9h0M188.4 120.7h0M176.9 107.6h0M184.4 114.8h0M362.1 132.3h0M397.3 154.4h0M406.9 104.7h0M334.5 285.7h0M190.7 93h0M200.1 103.2h0M219.4 128.1h0M423.7 78.7h0M117.5 265.5h0M302.4 324.8h0M508.9 412.3h0M123.7 250.7h0M236.2 170.3h0M397.7 90.7h0M517.7 399.6h0M412.1 125.9h0M163.3 105.2h0M191.5 109.1h0M337.2 250.9h0M89.4 372.3h0M478.6 248.2h0M272.6 267h0M458.6 168.2h0M122.9 242.8h0M439.5 166.2h0M296 310.9h0M166.2 124.5h0M388.3 118.7h0M308.1 330.6h0M378.9 124.5h0M241.5 171h0M269.3 317.4h0M404.3 110h0M342.1 207.6h0M214.9 118.2h0M377.2 178.5h0M363.8 136.5h0M150 159.8h0M340.6 244.8h0M495.1 313.6h0M430.4 146.6h0M350.4 211.3h0M156.4 115.2h0M417.3 108.2h0M228.7 137.9h0M309.9 318.1h0M174 108.4h0M210.3 87.1h0M376.1 161.6h0M381.1 153.7h0M254.6 200.9h0M128.3 193.7h0M304.2 386.3h0M111 306.4h0M298.7 330.3h0M360.6 137.6h0M208.3 86.7h0M198.9 103.9h0M114.1 312.9h0M415.1 78.6h0M361.5 159.1h0M236.9 167.5h0M487.4 274.8h0M296.1 316.8h0M455 178.4h0M419.2 116.8h0M440.1 134.4h0M201.2 79.5h0M387.4 96.2h0M431.1 138.2h0M297.4 343.2h0M359 147.7h0M336.8 245.2h0M230.1 139.3h0M392.1 127.8h0M121.1 241.7h0M370.9 150.9h0M245.9 196.6h0M264 251.6h0M321.3 384.4h0M156.6 110.4h0M111.3 289.1h0M259.7 232.4h0M327.6 285h0M355.1 205.7h0M463.6 183.3h0M120.1 242.7h0M174.9 91.5h0M189.6 110.6h0M488.3 294.5h0M202.8 102.4h0M325.4 308.4h0M253 198.3h0M332.8 275.2h0M454.4 163.6h0M208.5 95.8h0M194.4 92.3h0M431 123.7h0M215.7 122.6h0M286.1 313.6h0M222.3 130.9h0M259.1 244.7h0M458.9 190.8h0M406.4 115.6h0M238.9 169.7h0M153.5 155.5h0M502.4 357.6h0M144.1 164h0M377.9 117.7h0M448.1 130.9h0M233.3 137h0M503.6 351.9h0M426.8 110h0M235 152.3h0M511.7 414.2h0M228.5 147.5h0M115.3 273.4h0M316.4 313.3h0M410.5 156.1h0M170 140.5h0M87.8 357h0M483.4 258.6h0M439.9 121.3h0M416 113.2h0M437.8 94h0M200.9 100.4h0M418.9 115.2h0M174.1 123.5h0M128.5 208.9h0M149.2 145.5h0M373 147.9h0M483.6 253.6h0M481.3 255.1h0M273.6 293.6h0M131.9 248.5h0M280.8 365h0M216.5 135.3h0M161.4 162.5h0M472.7 210.7h0M204.7 101.8h0M127.1 218.9h0M97.5 354.7h0M98.7 339.5h0M498.2 331.9h0M287.1 315.7h0M207.5 108.8h0M450.2 146.2h0M462 203.2h0M115.3 253.8h0M140.6 185.1h0M434.2 124.4h0M402.8 120.2h0M484.6 259.2h0M436.1 97.1h0M389.6 89.5h0M176.2 82.6h0M208.9 124h0M218.5 156h0M175.3 106.9h0M163.7 101.9h0M467.7 250.1h0M471.1 194.8h0M432.3 153.5h0M437.1 117.4h0M320.6 319.3h0M405.8 106.7h0M154.4 134.7h0M111.5 332.3h0M271.1 288.6h0M487 279.6h0M302.6 321.5h0M272.2 297.4h0M380.9 144.4h0M426 101h0M218.8 166.5h0M241.9 142.1h0M207.4 91.7h0M462.6 191.3h0M298.2 312.4h0M92.1 373.7h0M386.9 129.5h0M253.4 221.3h0M182.9 99.7h0M475.8 268.2h0M192.1 165.7h0M519 396.9h0M380.4 145.1h0M472.9 209.3h0M430 132.6h0M98.5 351h0M515.2 384.2h0M293.7 335.7h0M122.7 277.4h0M186.4 106.1h0M189.3 113.8h0M426.5 121.4h0M263.4 244.4h0M228.9 146.6h0M187.7 94.3h0M404.3 170.7h0M206.4 123.1h0M405.1 121.4h0M383.8 165.2h0M329.6 299.7h0M249.7 205.6h0M201.7 86.2h0M291.2 322.7h0M260.6 229.2h0M316.6 337.6h0M469.3 177.5h0M302.7 340.7h0M105.3 309.6h0M269.7 263.5h0M314.7 339.5h0M487.7 296h0M371.6 145.2h0M305.9 348.4h0M130.2 208.4h0M462.9 225h0M279.3 312.7h0M196.9 94.8h0M411.4 108.2h0M262.3 220.5h0M199.8 84.4h0M380.7 151.1h0M180.4 66.1h0M390.1 112.6h0M175 104.2h0M346.7 193.5h0M398.7 113.2h0M271.9 286.3h0M313.3 342.5h0M502.5 357.9h0M268.2 272.3h0M334.6 267.4h0M495.1 306.4h0M122 256.2h0M223.9 132.6h0M151 165.1h0M381.9 129.2h0M174.2 112.8h0M329.6 296.8h0M398.4 56.7h0M331.1 286.9h0M199.8 93.6h0M241.6 152.7h0M186.8 124.8h0M268.9 277.8h0M307.7 343.3h0M216.8 107.8h0M281.3 351.1h0M137.4 198.3h0M254.7 234.3h0M299.3 335.3h0M367.3 157.4h0M311.9 352.8h0M276.7 341.5h0M443.7 127.6h0M325.5 330.8h0M150.9 128.7h0M191.8 109.7h0M400.8 108.8h0M419.4 105.3h0M293.9 332.4h0M225.2 173.9h0M352.5 179.8h0M137.4 191.4h0M486.1 294.8h0M427.3 126.3h0M271.8 276h0M336.7 264.8h0M217.9 159.3h0M269.2 282.5h0M344.5 212.7h0M302.2 397h0M229.7 142.5h0M345.4 265.7h0M423.7 148.4h0M124.5 239.3h0M276.5 275.9h0M340.5 254.3h0M471.9 220.1h0M153.2 138.5h0M101.7 326.8h0M447.2 152.6h0M506.1 362.4h0M371.6 140.2h0M407.5 152.5h0M407.6 121.1h0M401.9 138.9h0M315.7 320h0M235.9 144h0M267.8 276.1h0M437.9 135.4h0M407.1 135.5h0M83.4 411.8h0M242.2 178.5h0M258.2 240.8h0M242.4 173.3h0M142.6 171.5h0M203.5 92.8h0M341.9 233.9h0M179.4 104.7h0M148.6 137.9h0M132.1 217.1h0M465.8 189h0M353.5 188.8h0M273.3 341.9h0M255 223.2h0M401.8 80.5h0M172.4 135.7h0M287 321h0M285.6 320.1h0M202.7 111.5h0M186.3 89.4h0M410 97.9h0M442.2 221h0M451.1 177.7h0M144.3 181.4h0M277.3 290.4h0M110.7 317h0M123.5 225.9h0M179.6 95.3h0M345.8 229.3h0M90.5 380.5h0M495.4 311.6h0M118.9 267.7h0M355.6 176.4h0M117.1 262.5h0M417.4 132.1h0M245.4 183.3h0M436.2 126.4h0M366.1 124.5h0M323.2 356.6h0M337.5 250.1h0M497.5 364.9h0M367.6 133.6h0M323 312.4h0M522.3 394.6h0M171 120.2h0M336.5 242.2h0M525.1 404.6h0M409.9 103.3h0M148.6 149.3h0M348.6 195.2h0M418.4 119h0M442.7 157.6h0M98.9 323.1h0M94.9 349.9h0M183.1 134.7h0M248.4 188.2h0M237.5 224h0M415 117.1h0M259.7 236.8h0M334.9 254.2h0M427.8 126.8h0M361.6 139.8h0M471 220.8h0M304.3 331.3h0M312.9 349.9h0M490.5 315.3h0M186.6 106.6h0M193.3 76h0M191.3 117.7h0M239.2 172h0M231.9 133.8h0M517.6 405.7h0M248.7 196h0M205.9 158.8h0M381.1 127.4h0M360 163.1h0M99.8 347.7h0M513.1 390.9h0M178 99.5h0M254.3 221.3h0M348.2 202.6h0M242.2 181.6h0M258.2 213.8h0M438.3 128.7h0M415.5 101.2h0M277.7 286.2h0M396.1 105.5h0M420 103.1h0M420.1 86.6h0M336.8 265.3h0M240.4 205.7h0M524 367.9h0M210.4 115.5h0M152.6 133h0M166.8 110.2h0M318.4 312.1h0M273.9 282.7h0M163.9 147.5h0M304.6 349.3h0M97.9 355.2h0M282.4 301.6h0M438.3 158.6h0M376.9 155.1h0M482.1 253.5h0M96.3 342.2h0M248.2 200h0M371.7 156.1h0M249.9 193h0M468.3 201.2h0M220.8 125.6h0M333.3 269.3h0M428.8 120.2h0M156.2 150.8h0M284.9 318.3h0M415.4 158.9h0M511.6 378.7h0M429.8 104.8h0M450.4 168.9h0M326.7 304.9h0M505 386.2h0M420.2 115.6h0M109.6 306.5h0M337 251.9h0M265.7 233.1h0M207.3 116.6h0M236.6 172.4h0M423.1 108.4h0M93.6 367.2h0M196.1 133.5h0M189.6 72.9h0M224 129.9h0M425.6 83.4h0M89.5 364.7h0M151.8 138.6h0M362.8 175h0M171.7 85.6h0M515.8 380.9h0M178.9 144.6h0M481.4 275.9h0M172 79.5h0M169.1 117.8h0M209 102.7h0M465.2 188.7h0M383.1 131.6h0M154.2 188.2h0M329.5 299.7h0M353.4 182.3h0M376 141.2h0M171.7 110.6h0M316.2 351.4h0M157.8 186.2h0M413 98.7h0M296.5 330.1h0M155.1 134.4h0M401.3 112.8h0M497.8 319.1h0M142.7 167.3h0M366.5 146.6h0M497.9 350.8h0M399 102.1h0M156.6 146.3h0M453 151.2h0M347.7 216.2h0M276.3 311h0M484.9 263.7h0M204.3 117.2h0M499.1 347.5h0M325.2 316.9h0M503.7 363.5h0M337 276.1h0M390.6 114.7h0M132.4 227.1h0M322.2 330.6h0M283.7 324.6h0M361 175.4h0M168.2 132.4h0M482.7 275.7h0M359.4 151.7h0M266.5 261h0M226.1 132.2h0M194.5 93.7h0M521.8 397.5h0M484.5 254.2h0M465.4 190.3h0M259.5 265.1h0M462.5 159h0M291.6 324h0M452 176.3h0M459.1 183.7h0M493 338.1h0M188.2 119.4h0M119 249.1h0M397.9 104.8h0M183.1 122.5h0M407.2 134.1h0M188 109.3h0M433.5 113.4h0M303.7 321.5h0M331.1 321.6h0M346.2 203.8h0M347.2 209.8h0M425 113.8h0M307.7 306.9h0M298.7 340.2h0M156.2 135.9h0M385.5 128.4h0M326.2 303.1h0M451.4 158.5h0M388.1 140.9h0M332.5 268.8h0M501.1 331.2h0M407.2 97.6h0M485.2 270.7h0M359.5 190.4h0M172.4 87.7h0M214 138.6h0M378.6 137.4h0M493.5 310.3h0M397.4 95.8h0M342 229.5h0M360.6 199.3h0M217 140.7h0M140.9 181.6h0M111 282.9h0M408.5 142.7h0M319.8 337.7h0M400.8 120.8h0M466.9 213.7h0M137.4 172.9h0M221.1 121.8h0M155.4 140.4h0M454.6 162.5h0M335.7 265.1h0M193.1 83.2h0M396.3 77.8h0M306.1 340.5h0M440.5 120.2h0M344.5 223.9h0M314.9 319.5h0M182.2 97.4h0M90.7 359.8h0M212.5 111.1h0M128.4 229h0M463.8 184h0M93.4 359.6h0M448.4 134.2h0M249.7 210.3h0M285.6 354.8h0M165.1 118.2h0M347.6 200.6h0M139.8 159.4h0M406.2 124.1h0M100.5 342.6h0M305 349.2h0M84.7 371.9h0M190 112.8h0M281 326.7h0M119.2 245.6h0M441 122.7h0M458 198.3h0M394.6 121.6h0M208.3 80.3h0M520.4 416.1h0M189.9 100.5h0M151.2 126.8h0M183.2 108.6h0M216.3 127.4h0M430.1 106.4h0M272 329.4h0M342.7 224.3h0M280.3 311.6h0M340.6 233.9h0M305 341.1h0M351.5 184.3h0M352.8 239.9h0M210.8 101.5h0M240.8 168.4h0M182.7 97.9h0M252.1 228h0M394.6 129.1h0M439.2 109h0M357.9 195.2h0M189.7 78.5h0M131.2 199.2h0M453.5 151.1h0M303.2 356.7h0M414.3 91.4h0M382 134.7h0M218.9 173.4h0M361.1 146h0M104.6 329.5h0M145.3 148.7h0M102.2 367.5h0M255.4 192.6h0M172.5 105.2h0M474.3 224.6h0M172.9 81.8h0M152.7 137.1h0M300 374.8h0M390.3 114.2h0M355.1 179.6h0M287.8 344.3h0M451.1 169.9h0M143.1 168.7h0M391.5 83.2h0M376.4 156.8h0M134.8 121.4h0M144.2 173.8h0M102.2 322.5h0M117.6 245.6h0M282.6 292.3h0M183.3 83.7h0M128.6 210.8h0M223.1 126.8h0M183.2 94h0M255.6 221h0M164.8 120.7h0M184.5 90.7h0M103 329.7h0M307.4 331.6h0M287.4 313.5h0M315.9 351.2h0M468.6 246.8h0M386.8 126.6h0M112.6 267.1h0M96.5 356.9h0M259.9 259.8h0M503.2 403.5h0M269.5 263.7h0M467.1 191.5h0M451.5 167.6h0M309.6 312.4h0M305.2 324.8h0M440.7 128.5h0M513.3 382h0M226 132.1h0M357.9 153.8h0M268.4 266.4h0M165 117.6h0M140.8 165.6h0M271 259.9h0M313.8 371.6h0M478 237.1h0M183.9 104.7h0M358.9 172h0M154.6 132.6h0M377.3 154h0M457.6 200h0M419.1 80.4h0M447.6 155.2h0M440.4 148.1h0M412.7 62.5h0M272.7 275h0M477.1 248.9h0M365.8 150.9h0M345.8 260.3h0M388.8 116h0M218.9 114.6h0M363.1 156.3h0M221.3 130h0M133.8 173.1h0M276.5 303.2h0M331.4 293.9h0M391.1 136.1h0M191.8 71.7h0M458.3 168.7h0M83 383.1h0M199.8 116.4h0M382.7 120.7h0M358 149.1h0M116.2 253h0M123.2 245.1h0M188.8 110.2h0M101.9 329.5h0M257.8 219.3h0M367.7 132.5h0M483.3 273.1h0M242.6 190.8h0M459.8 182.7h0M109.7 295.5h0M457.9 172.6h0M423.5 90.3h0M372.1 160.3h0M171.9 88.5h0M173.4 100.4h0M306 317.3h0M415.7 98.5h0M144.3 157.1h0M320.9 326.7h0M291.7 357.8h0M380.8 148h0M217.3 105.3h0M432.1 119.1h0M438 125.8h0M146.3 147.8h0M346.5 208.8h0M378 130.8h0M522.5 374.9h0M254.5 204.1h0M206.1 106.9h0M212.5 91.1h0M332.8 269h0M329.3 301.4h0M179.8 81.1h0M458.1 179.2h0M97.6 357.5h0M344.8 213.5h0M411.2 101.3h0M267 271h0M482.2 260.4h0M253.2 208.3h0M200.2 109.2h0M142 149.8h0M319 328.4h0M153.8 142.9h0M496.8 317.9h0M334.9 261.3h0M329.9 292.3h0M424.8 103.4h0M359.3 168h0M112.5 276.7h0M410 112.1h0M129.9 211.5h0M424.8 114.1h0M205.3 98h0M507.7 364h0M142.3 164.9h0M98.8 344.6h0M193.1 99.5h0M343.2 211.2h0M140.5 156h0M209.5 234.2h0M293.7 344.5h0M445.4 132.6h0M448.7 161.5h0M392 133h0M312.2 331h0M256.5 238.7h0M248.4 195.1h0M129.5 229.6h0M458.4 166.3h0M179.4 124.1h0M351.6 180.5h0M239.2 156.3h0M417.9 77.7h0M300 329.6h0M465.4 179.9h0M428 130h0M335.6 271.1h0M418.6 94.5h0M243.9 178h0M224.2 146.3h0M181.2 99h0M224.5 215.6h0M502.4 352h0M281.6 305.2h0M107.6 314h0M234.6 161.7h0M520.5 381.1h0M289.7 322h0M180.3 116.9h0M182.5 98.7h0M433.7 132.4h0M365.7 131.4h0M323.2 304.3h0M196.6 82.7h0M377.7 140.3h0M110.4 287.2h0M113.4 288.5h0M312.6 360.8h0M183.3 104.9h0M347.6 207.2h0M91.8 395.9h0M162.2 116.1h0M110.7 288.4h0M414.4 126.6h0M435.3 58h0M390 115.5h0M417.4 104.7h0M462.9 181.3h0M116.5 255.7h0M334.2 253.5h0M403.8 86.3h0M332.8 277.2h0M304.9 323.9h0M332.8 277.7h0M428.3 116.7h0M453.3 147.5h0M463.1 184.2h0M198 104.9h0M119.2 244.8h0M244.6 158h0M300.2 327.2h0M178 143.6h0M189.3 78.1h0M245.6 194.2h0M485.7 264.4h0M338.7 231.3h0M187 110.6h0M478.7 236.4h0M233.4 126.6h0M270.6 260.1h0M411.9 92.5h0M466.5 183.4h0M169.3 125.3h0M138.4 204.6h0M408.3 118.9h0M274.2 291h0M278.6 295.2h0M295.7 322.8h0M451.6 149.9h0M372.7 133.4h0M152.3 183.7h0M484.3 310.6h0M384.6 131h0M357.5 158.4h0M271.1 284.5h0M186.6 103.1h0M385.3 106.7h0M209 121.6h0M271.3 278.3h0M508.2 387.2h0M142.3 150.9h0M502 366.6h0M192.7 122.9h0M299.1 341.5h0M122 238.3h0M390.8 126.3h0M278.2 298.3h0M242.6 157.7h0M166.9 114.3h0M279.5 292.2h0M443.8 129.5h0M414 129.8h0M436.9 126.2h0M419.2 103.6h0M139.4 175.2h0M331.7 301.6h0M91.5 369.2h0M432.1 102.9h0M181.3 77h0M485.9 267h0M416.3 75.9h0M145.1 123.4h0M447.9 134.5h0M303.1 321.6h0M517.1 371.4h0M303.2 354.4h0M372.3 163.4h0M332.5 282.5h0M421.5 98h0M381.3 111.1h0M364.1 144.5h0M97.1 394.6h0M432.1 80.7h0M270 265.3h0M468 197.4h0M321 304.8h0M446.8 149.4h0M259.8 219h0M151.4 132.1h0M187.7 111.7h0M525.9 388.7h0M143.3 156.8h0M459.3 178.2h0M205.2 121.1h0M435.4 155.1h0M126.9 259.3h0M277.6 279.1h0M446.6 182.7h0M154.9 141.3h0M130.1 198.4h0M473.1 257.5h0M461.1 163.3h0M233.6 175.5h0M131.8 211.5h0M215.5 128.2h0M356.4 154.7h0M228.9 156.8h0M365.1 130h0M491.6 315.4h0M267.3 267.4h0M492.2 291.4h0M428.6 89.2h0M346.2 211.5h0M203.1 94h0M403 4.2h0M457.9 157.8h0M379.3 131.5h0M278.9 288.2h0M422.3 111.9h0M114.5 294.8h0M404.3 138.6h0M442.3 142.3h0M204.5 90.7h0M128.7 215.2h0M240.8 190.3h0M475.2 231.4h0M398.5 97.5h0M487.7 264.2h0M162.4 184.7h0M258.8 212.7h0M502.7 414h0M228.9 127.1h0M405.8 114.6h0M211.2 117h0M458.6 162.1h0M179.2 128.7h0M319 333.9h0M411.1 123.7h0M222.8 139.7h0M228.3 155.2h0M165.3 90.9h0M461.3 200.5h0M482.9 256.5h0M147.8 140h0M287.6 394h0M170.4 118h0M213.9 218.7h0M246.2 182.5h0M362.5 151.4h0M125 221.3h0M427.2 78.8h0M102 340h0M89.5 367.9h0M379.2 119.3h0M341.2 267.3h0M300.1 333.7h0M371.2 127.7h0M411.7 111.8h0M403.2 108.5h0M498.7 353.4h0M263.8 246.9h0M264.6 265.7h0M176.3 97.9h0M220.4 143.9h0M261.4 245.8h0M398.5 105.5h0M205 111h0M217.9 137.9h0M341.1 185.7h0M393.6 126.3h0M397.9 88.2h0M265.3 234.5h0M336.8 260h0M96.8 349.6h0M445.8 127.4h0M212.1 132.3h0M229.9 194.7h0M150.1 150.1h0M178.5 94.8h0M492.9 306.6h0M394.1 136.9h0M274.1 311.9h0M365.3 140.3h0M342.2 223h0M203.1 66.4h0M308.5 335.1h0M212.5 121h0M316.2 323.8h0M173.3 105.3h0M322.5 308.6h0M377.1 117.7h0M190.6 103.7h0M272.5 276.1h0M117.3 256.9h0M206.5 142h0M291.3 329h0M486 280.6h0M521.1 374.8h0M228.2 142.6h0M217.3 110.4h0M82.7 371.4h0M349.6 172.5h0M365 149.2h0M280.1 284.4h0M156.6 136.8h0M247.2 175.7h0M199.6 102.3h0M371.5 127.9h0M216.3 132.4h0M447.6 136.1h0M196.9 89.8h0M194.3 87.4h0M182.3 97.7h0M313.3 340.1h0M470.5 218.7h0M231.5 155.3h0M121.5 252.3h0M329.6 386.4h0M186.1 101.1h0M147.5 154.3h0M140.8 152.8h0M183.8 126.2h0M129.9 208.3h0M512.3 373.5h0M107.4 323.1h0M415.8 79.3h0M166.2 110.5h0M232.9 134.3h0M256.1 215.7h0M417.8 113h0M157.2 119h0M408 120.9h0M172.8 109.2h0M514.5 368.7h0M308.4 337.3h0M105.8 347.9h0M222.2 111.8h0M335.4 258h0M155 126.9h0M383.8 128.8h0M410.7 118.6h0M440.6 137.7h0M408.4 102.7h0M107.4 310.2h0M250.3 172.4h0M364.7 147.5h0M445 130.1h0M181.5 65h0M522.3 384.4h0M374.2 137.2h0M518 380.1h0M304.8 310h0M473.3 251.2h0M376.3 131.7h0M306.9 339.3h0M375.6 145.9h0M199.3 125.1h0M283 314.7h0M164 130.5h0M327.3 298.3h0M129.6 255.3h0M245.7 178.7h0M490.7 298.8h0M508.6 399h0M368.8 150.6h0M156.4 170.3h0M303.9 347.9h0M94.9 366.1h0M468.1 197h0M343.1 205.5h0M446.3 146.9h0M228.4 166.7h0M430.6 107.7h0M373.4 85.8h0M350.5 187h0M461.2 170.6h0M371.9 105.8h0M192 94.3h0M487.1 321.5h0M444.1 115.6h0M258.7 234.9h0M475.9 227.5h0M444.2 135.5h0M108.6 298.7h0M169.7 119h0M359.8 155.8h0M232.1 148.2h0M317.5 391.3h0M245.7 266h0M415.6 144.9h0M452.1 155.8h0M374.9 147.8h0M262.8 243.4h0M508.3 361.1h0M141.3 165.6h0M151.2 113.9h0M118.8 274.9h0M450.6 149h0M146.1 160.4h0M433.4 114.8h0M399.9 105.8h0M390.1 116.3h0M250.8 192.4h0M228.3 133.8h0M421 88.2h0M185.4 102.4h0M271.6 289.8h0M212 116.4h0M232.2 150.5h0M462.2 177.3h0M308.6 325h0M407 108.5h0M106.8 314.7h0M202 101.4h0M454.1 183.9h0M274.2 278.4h0M170 118.7h0M109.3 286.2h0M289 332.8h0M128.9 235.1h0M390.2 111.2h0M283.6 304.7h0M342.3 253.1h0M473.6 248.9h0M139.6 181.9h0M409.3 80.4h0M289.4 304.8h0M110.6 290.4h0M403.8 140.8h0M232.4 151h0M428.6 116.6h0M504.6 359.1h0M92 360.4h0M97.4 354.6h0M340.7 214.7h0M355.1 179.6h0M296.9 345.7h0M453.4 169.4h0M389.9 122.3h0M370.2 163.9h0M269.2 276.6h0M420.6 95.7h0M401.5 110.6h0M146.2 149.7h0M169.5 130h0M363.7 128.1h0M424.6 93h0M476.4 242.5h0M194 106h0M394 128.3h0M270.4 283.4h0M224.4 151.5h0M241.1 149.8h0M435.6 138.3h0M283.6 353.6h0M416.5 89.9h0M377.1 123.5h0M485.2 281.3h0M525.8 384h0M410.3 85.1h0M503.7 377.3h0M334 269.3h0M361 149.4h0M488.3 317.7h0M420.5 94.1h0M351.9 210h0M521.6 376.1h0M100 338.6h0M332.3 278.4h0M240.7 148.4h0M106.3 313.1h0M177.1 109.4h0M356.8 169.2h0M96.6 351.5h0M301.2 356h0M221 122.8h0M193.4 112.9h0M169.8 158.2h0M191.7 94.9h0M485 261.3h0M162.3 124.8h0M152.9 140.5h0M388.3 83.8h0M495.9 335.4h0M156.9 166.5h0M230.7 143.3h0M192.6 67.6h0M322.4 354.7h0M112 288.8h0M435.1 179h0M440.6 108.8h0M365.2 156.7h0M320.9 301.8h0M164.5 104.5h0M248.5 192.4h0M347.1 184.6h0M348.4 185h0M214.8 108.2h0M324.9 359.5h0M300.3 333.4h0M525.4 390.9h0M411.1 90.2h0M217.8 194.1h0M159.4 127.6h0M183.2 132.5h0M448.2 137.7h0M497.5 333.8h0M175.9 86.3h0M296.8 345h0M142.6 158.1h0M362.1 146.4h0M178.6 108.2h0M270.4 272.8h0M235.9 120.3h0M418.6 129.4h0M142.1 144.7h0M309.9 349.1h0M387.8 113.6h0M253.4 229.7h0M233.9 157.1h0M130.1 204.1h0M156.4 132.7h0M153.9 114.2h0M341.4 225.7h0M350.1 178h0M278.5 308.1h0M261.1 250.5h0M395.7 106.9h0M473.5 236.4h0M267 311.1h0M438.1 131.2h0M352.9 148.8h0M94 374.7h0M284.7 384.1h0M352.3 163.5h0M289.8 311.4h0M320.2 308.5h0M249.2 205.5h0M235.9 172.7h0M441.1 136.2h0M405.9 119.1h0M428.5 102.4h0M204.6 82.1h0M410 110.7h0M419.3 79.2h0M522.2 385.6h0M426.5 114.8h0M308.4 336.1h0M226.4 153.4h0M94.2 363.5h0M158.5 131.6h0M360.9 145.7h0M232.4 158.1h0M353 170.2h0M289.2 357.9h0M249.8 189h0M301.2 333.1h0M191.3 79.4h0M288.8 320.1h0M320.1 305.1h0M143.1 174.4h0M207.8 113.6h0M473.8 239.7h0M345.1 196.9h0M235.4 167.5h0M204.7 136.3h0M309.4 319.6h0M336.9 252.6h0M333.3 274.4h0M261.3 224.3h0M350.3 178.3h0M464.8 181.4h0M160.4 150.1h0M139.6 165.3h0M361.9 156.3h0M328.3 327.3h0M431.9 119.3h0M405.3 116.7h0M469.8 191.9h0M393.2 113.2h0M247.1 199.7h0M218 133.9h0M131.8 204.2h0M144.4 156h0M478.2 264h0M87.3 390.6h0M421 89.2h0M193.4 86.8h0M110.1 334.4h0M425.9 113.3h0M214 113.3h0M99.9 339.6h0M263.2 267.3h0M429.5 106.4h0M323.7 303.9h0M485.4 275.1h0M267.2 262.6h0M523.2 399.9h0M395.4 89.8h0M203.2 129.7h0M504 370.2h0M197.7 116.6h0M87 380h0M331.1 276.1h0M211.6 104.1h0M295 313.4h0M196.8 56h0M372.2 118.4h0M303.7 330.5h0M235.3 191.2h0M338.2 242h0M366.3 117.1h0M448.8 127.9h0M331 304.1h0M114.1 278.4h0M105.9 314.8h0M285.8 321h0M411.2 134h0M168.8 106.2h0M231.5 180.4h0M463.7 157.5h0M182.8 68.3h0M146.9 150.6h0M394.6 94.4h0M312 386.7h0M244.3 213.6h0M295.1 315.9h0M246.4 180h0M184.8 114.2h0M330 289.7h0M90.1 391.8h0M326.7 301.7h0M194.7 105.1h0M150.7 116.2h0M359.6 165.2h0M247.6 259h0M194.7 140.9h0M432.7 127.9h0M258 247.3h0M128.4 228.4h0M145.2 144.6h0M207 107.5h0M285.4 292.9h0M394.8 190.9h0M391.9 107.2h0M216.9 122.5h0M198.7 109.2h0M487 263.6h0M270.9 276.4h0M228.8 132.1h0M382.5 140h0M159.7 106.7h0M102.1 326.1h0M127.8 236.8h0M362.1 169.9h0M516.4 377.4h0M426.9 90.5h0M329.5 280.3h0M298 341h0M440.4 132.5h0M183.7 82.8h0M106.3 323.4h0M277.9 288.5h0M331.6 267.9h0M471 206.1h0M159.4 107.7h0M329.5 279.3h0M314.1 326.4h0M392.6 73.3h0M471.6 206.7h0M374.2 120.4h0M262.1 238.9h0M346.6 214.9h0M443.7 153.8h0M119.7 265.3h0M361.9 215.5h0M209.2 110.2h0M321.9 307.5h0M319.8 324.3h0M369 146.8h0M251.2 197.2h0M169.2 113.2h0M132.9 198.8h0M243 168.7h0M502.3 349.5h0M504.9 377.9h0M357.1 164.8h0M244.1 181.9h0M388.8 125.2h0M293.1 383h0M113.8 269h0M113.5 301.7h0M172.6 101.8h0M85.9 377.5h0M274.6 279.2h0M487.9 283h0M245.5 153.6h0M175.7 88.9h0M417.6 127.2h0M183.3 89.5h0M274.5 289.4h0M398.5 114.5h0M398.3 104.5h0M125 220.6h0M96.3 336.7h0M143 74h0M193.5 46.5h0M421.2 53.8h0M428.2 67.5h0M360 73.8h0M374.2 76.2h0M460 118.8h0M470 158.8h0M144.5 220.5h0M229.5 212.5h0M233.5 231h0M231 264h0M247.5 253h0M274.5 246.8h0M394.5 178h0M355.5 267.5h0M106.2 392.5h0M627.4 77.9h0M667.1 199.3h0M880.5 96.2h0M826.8 125.6h0M700.2 213.7h0M674.3 221.3h0M792.1 216.8h0M609.4 131.6h0M825.2 113.2h0M944.7 342.4h0M636.7 72.9h0M822.8 101.2h0M569.1 244.9h0M722.7 301.8h0M920.1 213.2h0M836.2 127.4h0M671.5 130.9h0M852.4 95.9h0M624.2 95h0M562.7 293.8h0M597.5 119.1h0M677.5 160h0M733 315h0M644.8 111.5h0M888.7 132.5h0M612.3 104.2h0M584 183.4h0M792.3 184.9h0M906 162.8h0M793.6 197.9h0M848.3 95.4h0M908.6 200.2h0M939.1 324.4h0M769 310.5h0M942.8 359h0M746.3 325.6h0M648.1 101.7h0M727.1 319.1h0M821.8 117.1h0M673.4 135h0M640.6 75.5h0M677.4 149.7h0M641.4 81.9h0M684.3 158h0M528.7 370h0M805.6 142.5h0M651.9 112.8h0M556.7 270.9h0M604.8 148.1h0M661.6 112.6h0M593.2 127.4h0M623.3 104.8h0M737.1 315.6h0M639.8 155.5h0M658.6 85.8h0M650.4 123.3h0M642.2 87.6h0M740.8 322.4h0M620.6 110.9h0M746.6 354.9h0M635.8 120.3h0M898.8 151.3h0M606.5 149.5h0M909.3 192.3h0M605.7 121.7h0M859.7 115.5h0M797.8 191.6h0M619.4 104.4h0M863.9 115.4h0M637.2 69h0M564.5 223.4h0M800.9 158.6h0M808.2 151.2h0M603.9 143.6h0M636.7 124.1h0M830.6 112.1h0M562.4 238.3h0M716.8 317.5h0M665.5 114h0M606 122.5h0M619.8 124.9h0M912.8 193.5h0M722.7 314.8h0M694.7 209.1h0M649 100.7h0M955.5 376.9h0M552.3 306.3h0M708 243h0M601.4 163.4h0M633.1 118.6h0M872.8 97.4h0M617 123.7h0M771.6 312.1h0M689.4 209.3h0M751.7 322.6h0M674.5 173.3h0M652 104.3h0M651.6 93.2h0M564.4 234.5h0M740.4 337.5h0M918.7 220.2h0M947.1 392.9h0M580.5 248.7h0M858.5 105.3h0M601.1 133.6h0M673.7 149.6h0M694.4 192.5h0M680.5 200.3h0M755.7 336.3h0M530.5 389.9h0M714.2 262.1h0M916.2 212.2h0M565.3 259.5h0M741.4 330.1h0M874 115h0M954.8 368.3h0M840.5 91.3h0M648 107.7h0M824 135.2h0M680.8 161.3h0M867.5 114.7h0M826.5 110.5h0M655.4 110h0M909.4 188.1h0M793.3 221.2h0M679.4 157.6h0M865.2 113.6h0M567.7 221.2h0M967.6 389.6h0M871 118.8h0M912 217.7h0M601.5 129.4h0M763.6 328.4h0M715.6 300.7h0M598.9 132.1h0M600.1 121.1h0M641.1 133.2h0M945.2 398.5h0M964.6 372.9h0M838.9 90.4h0M847.6 123.1h0M851.7 96.3h0M756.2 327.7h0M605.3 149.5h0M916.2 214h0M917.4 229.7h0M841.5 101h0M961.6 405.3h0M750 324.1h0M862.9 71.7h0M800.3 173.4h0M577.5 170.7h0M666.8 136.1h0M556.6 302.3h0M920.3 235.2h0M536.3 388.1h0M765.1 339.7h0M605.4 98.3h0M591.8 140.5h0M600.1 137.2h0M915.9 224h0M746 384.6h0M677.9 166.1h0M768.9 348.4h0M661.2 123.2h0M691.1 196.6h0M835.5 95.6h0M579.9 209.6h0M863.2 108.2h0M918.9 229.5h0M737.5 345.9h0M720.7 309.9h0M590 151.6h0M714.2 279.5h0M865.9 97.8h0M710.3 325.5h0M801.7 185.5h0M545.9 312h0M624.1 79.3h0M617 119.8h0M546.3 337.5h0M622.1 104h0M810.5 138.4h0M816.5 144.4h0M679.9 160.7h0M542.6 346h0M719.6 290.9h0M602.6 127.6h0M716 282h0M692 187.3h0M624.7 99.7h0M900.2 166.7h0M834 101.3h0M735.5 352.6h0M704 228.5h0M574.9 196.3h0M794.2 210.2h0M750.3 317.2h0M928.5 275.1h0M956.7 372.9h0M886 129.1h0M911.3 212.8h0M692.5 203.9h0M739.2 356.1h0M762.4 318.1h0M889.6 147.7h0M593.5 129.2h0M625.3 103.5h0M654.3 123h0M900.4 156.8h0M815.9 127.8h0M955.2 376.2h0M811.6 136.2h0M893.6 140.4h0M826.1 107.1h0M610.9 146.6h0M621.3 106h0M909.7 195h0M674.8 148h0M831.3 90h0M730.5 318h0M531.2 383.3h0M891.6 141.5h0M664.8 130.4h0M676.2 133h0M558.3 283.6h0M803.8 156.8h0M872.2 122.1h0M738.6 329.1h0M869.3 108.7h0M766.7 332.8h0M859 132.3h0M689.1 167.7h0M915.5 189.3h0M729.3 311.8h0M578 184.9h0M960.2 375.9h0M728.9 326.6h0M860.7 126.5h0M561.2 248h0M885.6 132.4h0M594 89.9h0M582 173.3h0M649.2 120.1h0M715.1 268.9h0M742 342.4h0M716.7 284.4h0M541.8 370.5h0M791.6 189.4h0M855.9 105.9h0M772.5 340.4h0M940.2 330.6h0M620.8 161.4h0M601.8 176.7h0M857 121.6h0M642.4 88.4h0M576.3 216.3h0M830 162.9h0M951.9 365h0M672.8 131.1h0M611.9 94.3h0M587.2 148.7h0M945.4 357.8h0M599.4 134h0M882.7 137.1h0M620.5 93h0M909.6 243.3h0M551.7 286.8h0M695.8 198.6h0M705 239.9h0M960 386.1h0M925.1 253.7h0M697.2 213.7h0M715.1 270.7h0M844 119.8h0M810.7 161.2h0M923.5 232.9h0M831.6 135.5h0M755.3 329.8h0M926.4 249.1h0M673.5 188.6h0M689.6 241h0M682.5 162h0M743.8 345h0M727.6 318.2h0M667.1 133.6h0M634.5 95.5h0M636.4 105.5h0M880.6 130.4h0M697.7 206.9h0M962 371.6h0M709.8 267.7h0M836.3 107.7h0M662.1 140h0M893.5 171.4h0M621.1 122.5h0M648.7 109.6h0M656.4 121.1h0M583.9 162.5h0M859.8 176.5h0M718.1 273.9h0M582.4 174.4h0M764.6 320.1h0M743.3 351.5h0M750.8 362.7h0M842.8 134.2h0M556 286.8h0M744.9 328.4h0M549.4 258.3h0M819.5 117.9h0M601.6 95.3h0M604.2 107.1h0M691.3 189.6h0M851.2 139.8h0M580.6 165.3h0M871.5 127h0M716.1 300.9h0M882.7 138.3h0M603.7 151.4h0M927.1 265.4h0M849.4 99.4h0M547.9 328.2h0M739.3 372.3h0M555.6 304.7h0M847.3 107.3h0M687.8 195.8h0M870.2 98.7h0M918.3 232.7h0M604.8 98.5h0M886.3 148.9h0M697.8 223.3h0M696.2 228.4h0M817 130.1h0M959 404.5h0M829.5 121h0M624.7 116.4h0M576 209.1h0M657.3 128.1h0M555.9 304.8h0M946.7 356h0M593.8 116.5h0M674.8 190h0M763.5 369.9h0M834.1 112.6h0M654.2 131.3h0M822.2 116.1h0M598.9 145.4h0M680.2 168.4h0M929 279.5h0M850.4 140.4h0M731.7 319.1h0M729.8 367.5h0M856.1 83.4h0M703.1 222.7h0M718.5 278.3h0M778.6 252.7h0M775 310.3h0M730.9 330.8h0M593 139.9h0M854.6 103.4h0M598.7 139.1h0M885.5 166.8h0M780.8 322h0M942 336h0M711.8 272.6h0M818.8 158.7h0M559.1 278.8h0M661.2 100.5h0M598.5 125.5h0M823.3 143.7h0M580.3 185.5h0M747.8 333.1h0M638.7 101.2h0M601 113.8h0M887.6 128.8h0M634.8 102.7h0M562 259.9h0M620.1 122.5h0M843.5 102.3h0M801.2 182.5h0M904.5 192h0M662.4 90.6h0M908.8 193.7h0M638.8 141.1h0M905.4 185.4h0M590.9 156.4h0M938.8 323.3h0M777.1 260.3h0M729.6 304.8h0M705.4 235h0M694.1 190.1h0M596.3 154h0M806.8 143.1h0M684.5 133h0M917.4 227.2h0M581.4 178.8h0M734.3 357.6h0M786.4 236.1h0M850.2 88.5h0M817.4 142.6h0M715.9 324.4h0M851.3 85h0M841.7 101.5h0M695.9 211.5h0M716.5 273.4h0M683.9 158.3h0M871.7 144.6h0M590 158.1h0M888.6 110.9h0M787.6 220.7h0M691.3 187.1h0M956.6 375.9h0M571.3 228.9h0M744.3 328.3h0M935.4 315.6h0M659.7 123.8h0M730.5 350.5h0M650 115.7h0M780.3 253h0M764.6 332.2h0M901.3 180.7h0M632.9 128h0M862.2 147h0M955.1 379.6h0M907.6 185.9h0M535.6 364.5h0M703.9 243.4h0M639.7 107.8h0M743.2 317h0M783.7 221.1h0M557.1 304.3h0M858.3 95.6h0M615.7 129.9h0M732 322.4h0M808.9 148.2h0M931.8 277.8h0M678 162h0M821.8 181.9h0M542.2 372.5h0M554.2 292h0M715.4 349.5h0M788.4 212.3h0M652.3 87h0M856.2 83.5h0M669 134.6h0M646.5 106.7h0M835.5 116.7h0M841.1 103.8h0M585.4 228.7h0M569.3 223.2h0M895.8 145.7h0M649.2 164.4h0M928.9 251h0M780.3 273.5h0M793.7 209.6h0M528.6 379.9h0M778 298.5h0M913 183h0M967.8 376.8h0M695.5 184.9h0M601.1 114h0M927.8 273.3h0M710.5 243.6h0M727.3 311.1h0M734.8 354.4h0M769.6 304.4h0M553.4 302.4h0M533.3 398.9h0M867.1 177.1h0M807.4 151.6h0M701.5 218.2h0M817.1 155.9h0M843 114.2h0M655.8 148.1h0M700.5 260.3h0M636.3 91h0M789.3 228.6h0M854 123h0M796.4 198.8h0M639.9 101.1h0M811.3 118.9h0M709 276.2h0M724.8 324.9h0M872.4 162.7h0M924.9 249.9h0M656 164.9h0M687.2 184.2h0M744.7 325.2h0M703.1 230.4h0M690.5 165.4h0M857.7 119.7h0M816.7 123.4h0M669 130.1h0M808.2 151.4h0M830 142h0M721.9 291h0M642.3 86.3h0M909.6 250.7h0M529 374.6h0M845.9 100.8h0M885.7 176.1h0M620.2 108h0M779.6 264.6h0M660.4 174.8h0M799.6 185.6h0M710.2 292h0M722.3 309.9h0M860.7 -4.2h0M768.5 328h0M649.7 94.6h0M855.7 110.9h0M774.8 298.2h0M663.2 121.5h0M791.6 207.9h0M856.1 91.6h0M554.9 291.9h0M600 164.8h0M683.1 152.2h0M637.2 57.1h0M548.3 330.3h0M933.9 281.8h0M853 109h0M712.8 269.8h0M593.9 132.7h0M854.7 112.7h0M778 297.4h0M665.9 200.3h0M550.6 318.4h0M863.2 144.2h0M620.1 86.2h0M645.4 140.2h0M629.9 88.6h0M778 265.7h0M655.4 126.5h0M574.8 214.2h0M914 262.4h0M603.4 137.8h0M622.4 122.4h0M855.3 88.9h0M775.5 291.6h0M599.3 112.4h0M663.2 119.8h0M821.2 125.1h0M658.5 111.5h0M754.2 329.8h0M775.6 282.2h0M944.7 355.8h0M802.9 158.6h0M654 119.1h0M577.9 194.4h0M792.1 226.1h0M771.4 315h0M861.8 156.9h0M527.3 374.5h0M594 154h0M781.6 257.2h0M838.4 125.4h0M923.4 240.5h0M867.5 124.7h0M797.6 174h0M676 157.3h0M633.4 99.5h0M645.8 101h0M805.5 155.2h0M579.6 210.5h0M707.6 252.4h0M679.4 134.3h0M579.4 190.5h0M894.6 121.8h0M896.7 214.1h0M638.1 107.3h0M566.1 248.2h0M805 171.2h0M617.1 100.8h0M785.6 255h0M700 229.9h0M908.6 186.2h0M664.9 225.6h0M562.9 236.7h0M688.3 176.2h0M927.4 263.2h0M591 158.4h0M860.8 163.6h0M726.5 308.3h0M777.1 257.7h0M923.7 229.3h0M926.7 249.2h0M720 294.8h0M652.8 120.7h0M625.4 114.6h0M800.1 170.2h0M788.6 218.2h0M757.7 316.7h0M662.8 128.9h0M718.9 284.5h0M769.1 301h0M538.3 370.9h0M555.3 286h0M543.6 341.8h0M899 168h0M801.7 148.1h0M665.6 138.5h0M916 255.9h0M570.7 219.7h0M613.7 109.7h0M672.9 145.1h0M685.5 164.2h0M768.7 305.4h0M560.4 255.3h0M643.3 101.9h0M751.7 330.2h0M863.5 115.5h0M805.7 170.8h0M968.8 374.7h0M669.7 170.2h0M801.7 192.3h0M952.4 392.2h0M725.2 310.8h0M598 142.9h0M628.5 85.9h0M581.9 186.5h0M737.5 318.5h0M957.2 367.4h0M916.4 189.9h0M791.2 197.2h0M942.5 385.9h0M562.3 281.6h0M817.1 125.4h0M787.7 214.3h0M813.1 140.6h0M641.7 86.3h0M851.8 130.8h0M763.5 344.1h0M955.9 382.3h0M759.8 332.6h0M905.2 182.8h0M600.7 136.6h0M869.2 97h0M854.1 108.6h0M816.6 135.7h0M622.6 99.8h0M563.1 249.4h0M688.9 167.8h0M551.2 313.9h0M733.9 301.8h0M853.7 131.1h0M749.3 342.9h0M630.4 97.5h0M806.6 153.2h0M854.4 105.9h0M639.1 128.7h0M672.2 127.5h0M618.1 115.6h0M727.8 332.3h0M711.5 265.6h0M564 223.6h0M642.2 110.9h0M557.3 272.9h0M657.5 140.3h0M695.4 197.2h0M895.3 142.7h0M938.4 321.9h0M847 99.7h0M925.5 231.2h0M890.4 145.1h0M550 329.2h0M927.7 262h0M785.5 223.7h0M601.7 132.1h0M949.6 404.3h0M599.3 154.9h0M613.3 114.9h0M795.3 194.5h0M854.1 108.8h0M725.7 368.2h0M729.7 297.9h0M739.2 322.7h0M727.1 310.9h0M534.3 372h0M782.9 245.2h0M840 95.5h0M820.8 164.2h0M772.3 306.9h0M683.1 142.5h0M860.8 90h0M607.3 102.1h0M790.4 248h0M854.5 101.4h0M779.3 244.2h0M900 158.7h0M590.2 132h0M888.1 134.6h0M903.8 179.6h0M695.5 185.7h0M594.4 139.7h0M791.3 246.3h0M641.9 86.3h0M837.9 121.8h0M666.6 123.5h0M845.9 112.5h0M699.8 213.2h0M737.7 321.9h0M703.3 242.9h0M549.9 325.3h0M599.8 162.6h0M656.1 73.4h0M866.2 156h0M526.7 397.9h0M863.1 107.8h0M745 331.2h0M823.7 123.7h0M675.8 182.4h0M661.1 142.2h0M950.6 380.6h0M923.6 258.6h0M810.2 131.8h0M681.3 157h0M570.9 220.5h0M555.9 262.8h0M648 116.7h0M852.8 90.9h0M641.2 108.9h0M641.1 95.2h0M760.7 329.8h0M868 85.6h0M962.3 392.1h0M779.5 249.9h0M813.3 124.3h0M674.6 128.4h0M592.7 133.9h0M805.8 160.7h0M594.7 144.6h0M823.1 116.2h0M550.5 296.7h0M831.6 110.8h0M614.2 92.7h0M817.4 121.3h0M899.4 153h0M680.4 171.6h0M584.5 165.6h0M646.2 104h0M681.7 184.5h0M957.6 388.8h0M688.3 176.6h0M833.1 84.4h0M646.7 111.9h0M636.4 96.9h0M700.9 270.1h0M799.6 205.1h0M788.3 208.8h0M704.1 241.6h0M607.4 92.1h0M896.3 149.6h0M774.4 268.1h0M790.1 208.7h0M850.1 96.8h0M620.4 86h0M948.8 370.5h0M877.9 123.5h0M879.7 121.2h0M858.6 81.9h0M617.5 128.6h0M815.9 142.3h0M634.6 110.2h0M761.5 325.5h0M922.2 252.4h0M763.5 337.5h0M555.9 289.7h0M857.1 160.3h0M873.3 105.5h0M821.6 183.5h0M560.1 287.1h0M653.2 124.1h0M707.9 280.8h0M809.1 142.3h0M890.8 156.2h0M695.2 192.2h0M691.8 255.2h0M613.6 126.8h0M549.2 314.7h0M833.1 126.4h0M720.5 301.9h0M782.6 251.9h0M837.7 74.4h0M704.1 266h0M903.8 184h0M739.9 353h0M765.9 326.8h0M888.7 130.1h0M659.4 145.3h0M851.4 155.2h0M647 110.9h0M864.5 96.7h0M798.6 165.5h0M951.1 386.8h0M736.9 332.9h0M849.4 77.6h0M555.1 305.7h0M844.3 120.8h0M766.8 303.6h0M629 91.1h0M882.4 128.6h0M614 109.9h0M812.7 167.2h0M565.9 239.5h0M778.2 259.1h0M577.2 189.4h0M931.4 281.2h0M626 83.8h0M781.4 241.7h0M724.3 300.2h0M695.9 218.9h0M790.1 225.5h0M766.8 302.8h0M954 376.8h0M568.4 239.4h0M577.4 193.4h0M695.4 204.9h0M720.2 296.8h0M888.9 141.6h0M603.8 126.5h0M536.7 359.6h0M837.6 100.8h0M724.7 304.6h0M939.4 306.7h0M546.7 341h0M738.4 316.8h0M686.8 217h0M713.9 294.9h0M620 128.5h0M908.6 213.1h0M597.3 158.5h0M586.9 152.2h0M793.1 198.9h0M553.4 288.1h0M680.2 167.9h0M829.3 111.3h0M844.3 143.5h0M818.7 130.1h0M588.8 177.5h0M535 379.1h0M814.3 154.4h0M695 183h0M771.4 311.6h0M583.1 163.8h0M589.2 134.4h0M599.7 133.6h0M842.8 116.5h0M617.9 106.8h0M620.6 110.7h0M889.2 133.6h0M692.3 231.5h0M886.1 137.2h0M782.4 240.3h0M685.1 183.8h0M735.2 368.1h0M705.7 209.7h0M768.2 320.6h0M922.6 228.8h0M801.7 177.6h0M784.4 221.1h0M806 169.1h0M533.9 357.8h0M628.9 118.6h0M960 427.9h0M855.8 102.7h0M773.8 316.9h0M912.5 216.1h0M733.1 321.7h0M929 325h0M821.7 132.9h0M740.1 330.3h0M842.2 156.1h0M732.4 321.3h0M832.9 116.7h0M547.5 330.1h0M784.9 231.4h0M661.5 228.4h0M866.7 109.7h0M656.2 158.8h0M793.6 191.6h0M747.7 330.6h0M969.3 375.3h0M913.4 216.2h0M565.5 244.4h0M932 305.9h0M866.8 105.9h0M576 245.2h0M858.4 104h0M935 294.5h0M659.8 214.4h0M594.3 133.3h0M690.2 172.5h0M745.3 360.6h0M718.5 303.9h0M610.4 99.9h0M962.5 418.8h0M604.8 135.1h0M659.3 134.2h0M636.9 103.1h0M553.3 294.8h0M705.3 238.1h0M632.9 85.1h0M674.3 171h0M574.2 210.1h0M910.4 194.5h0M875.5 140.6h0M533.1 380.7h0M540.6 354.1h0M822.3 121.2h0M646.6 122h0M684.3 171.6h0M741.9 327.4h0M946.1 353.2h0M579.9 189.2h0M686 196.4h0M865 107.3h0M788 215.6h0M688.9 220.3h0M753.3 326.6h0M681.3 152.1h0M834.6 96.3h0M534.2 368.6h0M742.9 317.8h0M603.7 132.8h0M610.3 125.8h0M660.4 107.6h0M622 104h0M576.6 189.9h0M652.7 121h0M866 117.7h0M785.5 209.4h0M869.8 76.4h0M898.5 200.1h0M844.3 108.5h0M617.3 137.4h0M658.9 176.7h0M859.8 100.8h0M800.5 123.9h0M806.3 175.8h0M912.3 214.8h0M632 94.9h0M646.7 96.5h0M817.6 140h0M903.6 204.2h0M531.4 368.9h0M931.5 281.9h0M645.3 82.2h0M670.5 137.3h0M811.4 127h0M555.8 285.3h0M734.4 326.8h0M886.6 138.1h0M746.8 402.1h0M793.5 176.2h0M843.9 93.6h0M805.3 148.8h0M921.3 258.8h0M635.3 103.1h0M716.6 307.6h0M901.3 177.1h0M682 163.2h0M720.6 302.2h0M795.8 196.1h0M682.1 172.7h0M650 101.6h0M758 332.9h0M605.9 127.6h0M702.1 199.8h0M621 150.9h0M581.3 194.7h0M957.5 384.1h0M892.2 136.7h0M952.1 370.7h0M711.8 243h0M642.2 77.3h0M926.1 263.8h0M639.9 79.4h0M717 284.3h0M802.2 167.3h0M620.7 85.6h0M742.1 325h0M877.7 112.9h0M792.8 215.2h0M674.5 138.3h0M590 138h0M725.1 327h0M733.3 334.6h0M649.6 127.8h0M699.3 240.8h0M695.1 270.3h0M575.3 195.6h0M880.1 135h0M795.3 193.9h0M640.1 121.8h0M773 333.4h0M689.2 166.2h0M620.5 96.1h0M650.9 85.3h0M783.1 239.9h0M659.5 170h0M810.3 148.9h0M908.1 169.8h0M854.7 107.2h0M919.4 222h0M918.4 207.4h0M860.7 110.5h0M742.4 351.8h0M623.4 97.2h0M697.1 198.2h0M578.6 177.9h0M578.4 202.6h0M658.7 122h0M678.1 184.5h0M589 162.3h0M802.7 198.5h0M540.1 404.6h0M901.2 159.2h0M575 232.6h0M744.8 329.2h0M878 127.1h0M739.1 327.9h0M648.9 133.5h0M880.4 123.3h0M615.5 124.3h0M955.1 369.9h0M814.3 142.8h0M537.4 364h0M952.1 381.1h0M909.7 183.9h0M616.5 90.5h0M962 380.6h0M713.1 268.7h0M755.4 309.2h0M706.9 294.7h0M691.1 206.9h0M856.4 121.7h0M868.2 151.9h0M890.1 174.7h0M868.8 113.2h0M591.8 132h0M549.5 325.5h0M660.3 172.9h0M673.3 136h0M698.7 213.4h0M779.3 254.9h0M648 93h0M694.2 203.2h0M622.5 84.6h0M703.9 226.2h0M725.4 332.7h0M770.2 303.8h0M609.9 125.4h0M943.9 333.8h0M584.9 157.1h0M882 117.7h0M634.6 94.5h0M672.5 211.4h0M921.8 235.8h0M731.6 321.2h0M938.1 320.6h0M532.6 391.2h0M771.9 293.8h0M750.8 346.9h0M862.6 152h0M589.9 137.8h0M624.6 110.1h0M899.7 173.9h0M860.2 104.9h0M788 205.6h0M613.6 98.8h0M755.6 339.2h0M718.6 302.1h0M944.2 345.7h0M873.3 98.7h0M559.5 272.6h0M594.2 139.5h0M919 240h0M817.1 138.7h0M735.1 344h0M560.3 277.2h0M629.9 145.2h0M885.3 120.5h0M788.8 197.4h0M692.3 149.7h0M527.5 376.2h0M734.4 323.5h0M587.9 171.8h0M596.5 116.1h0M621.7 66.8h0M616.3 82.4h0M713.7 265h0M777 283.6h0M893.5 157.1h0M539.1 349.4h0M554 293.9h0M713.4 304h0M867.8 113.5h0M639.5 92.5h0M965.1 377.3h0M816.4 131.6h0M556.5 255.1h0M929.3 262.3h0M727 331.4h0M883.2 144.6h0M847.2 99.3h0M654.6 120.6h0M745.7 348.8h0M544.1 341.6h0M676.3 137.8h0M852.9 96.5h0M866 102.8h0M713.8 344.3h0M951.5 396.3h0M778 265.5h0M795.1 180.4h0M630.6 108h0M625 138.6h0M769.7 306.3h0M768.1 318h0M807.8 150.4h0M571.5 221.2h0M651.3 120.2h0M640.9 106.7h0M743.4 321.6h0M787.9 223.8h0M718 345.1h0M920.5 237.8h0M709.2 236.5h0M764.6 302.6h0M580.6 183.4h0M748.9 326.8h0M949.1 414.7h0M922.8 246h0M532.1 397.8h0M774.1 285.5h0M889.2 120.5h0M629.4 99.1h0M555.6 310.3h0M921.4 231.7h0M743.6 440h0M642.9 107.8h0M642.8 106.9h0M696 192.8h0M624.5 81.2h0M636.5 91.5h0M795.1 188.4h0M936.5 302.8h0M813.1 142.2h0M764.1 311.2h0M598 164.8h0M906.1 181.8h0M907.4 197.3h0M913.8 231.6h0M604.2 119.1h0M538.2 398.1h0M738.6 394.3h0M727.4 309.5h0M844.9 130.6h0M910 191.5h0M745.3 324.4h0M871 118.3h0M620.7 119.4h0M636 82.3h0M699.5 205.4h0M909 182.3h0M603.8 151h0M897.3 141.5h0M597 103.9h0M596.2 124h0M687.1 156.9h0M738.1 326.2h0M908 183.2h0M788.6 219.1h0M655.1 113.9h0M594.2 132.5h0M780.2 278.2h0M868.2 103.8h0M722.7 279h0M626.9 74.1h0M660.8 109.8h0M726.6 317.1h0M914.2 214.9h0M930.4 263.6h0M573.3 228.3h0M558.3 275.1h0M653.2 145.5h0M759.3 317.2h0M951.5 367.4h0M866.4 74.1h0M664.9 155.3h0M535.1 394.5h0M814.1 146.2h0M853.8 150.1h0M910.8 180.6h0M908.6 191.3h0M852.4 117.3h0M771.5 294.2h0M695.9 218.8h0M672.5 164.8h0M877 97.7h0M792.9 190.7h0M866.3 131.7h0M631.1 111.3h0M579.3 162.9h0M530.4 372.9h0M560.7 274.7h0M687.7 187h0M937.1 319.4h0M670.7 123.9h0M540 369.9h0M727.2 339.2h0M810.3 137.3h0M570.7 198.1h0M757.3 382.3h0M654.6 149.3h0M635.2 92h0M538.5 390.1h0M741.2 324.8h0M546.7 337.4h0M565.2 250.2h0M791.4 209.3h0M805.3 149.3h0M909.4 185h0M745.7 368.8h0M892.1 164.2h0M606.1 151h0M766.4 308.4h0M937.8 312.3h0M555.2 283.8h0M876.9 122.4h0M597.9 128.1h0M764.6 343.4h0M914 218.2h0M674.4 138.6h0M627.8 92.9h0M665.3 149.1h0M627.4 95.8h0M756.6 334.5h0M573.6 188.4h0M605.6 122.3h0M872.2 106.2h0M624.5 78.1h0M824.9 140.1h0M725.4 344.3h0M575.6 222.6h0M623.1 100.4h0M868.9 93.2h0M924.8 255.8h0M831.9 128.6h0M747 333.1h0M958.5 403.1h0M612.3 87.8h0M562.4 265.3h0M621 96.4h0M742.7 345.7h0M856.7 104.3h0M747.9 330.9h0M884.6 137h0M836.8 98.9h0M566.6 235.5h0M893.3 156.4h0M676.7 147.2h0M769.2 284.4h0M680 150.1h0M639.2 76.7h0M708.6 235.3h0M851.5 94.6h0M816.4 136.1h0M888.3 178.1h0M612.1 103.2h0M702.4 227.5h0M536.1 381.2h0M736.5 340.9h0M647.5 102.6h0M764 338h0M837.2 112.3h0M941.9 329.2h0M542.3 348.3h0M784.5 217.4h0M954.2 380.2h0M680.5 206.6h0M931.8 272.3h0M675.8 149.4h0M854 146.1h0M708.5 239.3h0M808.7 155.2h0M823.9 143.4h0M590.5 132h0M607.7 130.2h0M755.2 351.8h0M597.2 131.4h0M894.6 126.8h0M812.5 150.4h0M562.1 256.8h0M881.7 137h0M908.2 185.8h0M529.2 380.3h0M569.3 213h0M593.9 153h0M565 245.7h0M814 143.3h0M953.5 374.7h0M849.8 108.9h0M554.1 293.8h0M924.9 248.4h0M678.6 134.1h0M732.7 315.2h0M845.3 96.6h0M787.9 223.5h0M613.8 121.2h0M627.2 84.4h0M586.9 149.7h0M638.9 83.6h0M756 332.4h0M576.5 200h0M916.8 222.2h0M886.4 121.3h0M866.4 122h0M775.6 306.8h0M834.1 94.4h0M651.6 139.6h0M933.8 299h0M902.8 178.4h0M811.6 143.5h0M612.2 111.9h0M784.6 260.3h0M687.3 171.5h0M615.7 109.9h0M738.9 364.7h0M804.8 159.3h0M696.8 229.4h0M614 142.3h0M662.1 131.3h0M780.9 252.3h0M805.4 152.3h0M674.9 145.5h0M899.8 176.2h0M714.4 276.7h0M774.8 351h0M883 103.7h0M919.1 230.1h0M736.3 305.8h0M861.9 108.8h0M598.2 121.6h0M784.6 229h0M923.7 286.9h0M796.8 180h0M716.3 330.9h0M895.7 190.1h0M640.4 104.8h0M836.1 119.4h0M881.1 110.9h0M632.9 71h0M856.7 103h0M673.1 168.8h0M642.6 76.7h0M664.6 133.5h0M751.4 326h0M920 271.2h0M674.7 133.8h0M870.7 171.7h0M779.3 270.1h0M829.5 112.3h0M954.7 375h0M583.4 134.8h0M743.6 331.4h0M670.1 136.5h0M754.2 383.8h0M677.2 238.2h0M917.7 196.2h0M582.5 209.2h0M759.6 327.2h0M823.7 128h0M896 133.3h0M856.4 110.4h0M784.2 240.6h0M735.3 326.6h0M875.4 148h0M669.4 148.1h0M605.4 85.5h0M567.8 256.3h0M838.5 107.3h0M645.6 131.8h0M931.3 271.2h0M594.4 142.1h0M750.8 344h0M882.4 129.6h0M842.2 94.9h0M536.6 375.4h0M862.9 102.8h0M949.8 394.2h0M629.3 90h0M895.8 171.7h0M779.5 268h0M629.3 101.4h0M960.8 387.4h0M933.2 324.9h0M880.7 128.4h0M527.5 387.9h0M822.2 135.2h0M724.4 311.4h0M644.5 81.9h0M904.9 175.6h0M601.7 129h0M581.3 205h0M793.9 179.4h0M807.7 168.4h0M872.9 125.5h0M655.8 87.6h0M820 141.4h0M852 124.8h0M954.9 370.3h0M861.7 110.8h0M655.2 124.9h0M722.2 315.7h0M642.5 88h0M694.9 192.3h0M596 179.7h0M837.8 102.9h0M596 118.5h0M872.6 108h0M710.1 271.7h0M724.5 290.9h0M952.4 379.6h0M838.1 115.8h0M547.5 328.7h0M789.4 205.6h0M879.6 131.9h0M756.4 357h0M772.1 340.5h0M868.8 106.2h0M874.8 97.4h0M671.1 141.3h0M618 111.7h0M776.9 333h0M660.3 173.8h0M886.7 177.9h0M873 154.3h0M953.6 379.3h0M567.7 221.4h0M846.2 95.2h0M670.4 129.1h0M921.3 233.4h0M543.5 345.1h0M689 174.1h0M706.1 236h0M841.3 126.4h0M601.4 147.7h0M861.4 120.9h0M565.3 208.1h0M767.5 306.5h0M791.8 188.9h0M817.3 130.4h0M853.9 103.6h0M663 114.5h0M711.1 265.8h0M783 253.3h0M689.5 168.5h0M665.5 139.9h0M962.6 363.9h0M527.3 386.6h0M649.7 131.6h0M595 154.2h0M712.3 255.4h0M916.5 207.7h0M806.5 68.2h0M942 343.4h0M567.1 237.8h0M964 397.4h0M897.4 210.8h0M919.7 230.7h0M727.2 291.7h0M848 97.3h0M570.9 213.4h0M966.6 384h0M592 143.8h0M739.3 357.5h0M728.3 346.5h0M588.3 158.7h0M592.9 157.9h0M721.6 298.7h0M672.8 251h0M765.7 336.5h0M781.8 255.4h0M851.3 116.4h0M800.3 153.7h0M732.4 335.1h0M774.9 284.7h0M826.4 130.8h0M641.3 109.7h0M852.3 97.4h0M826.6 112.1h0M815.8 133.3h0M645 86.6h0M662.5 173.9h0M823.1 144.4h0M550.9 311.5h0M673.3 138.1h0M696.6 205.1h0M582.7 175.9h0M807 152.2h0M964.2 373h0M936.4 306.7h0M556.4 283.9h0M763.5 327.4h0M677.7 167.3h0M813.5 165.1h0M883.1 133.1h0M539.5 364.2h0M776.8 271.5h0M630.2 93.2h0M699.6 241.3h0M740.9 315.7h0M822.5 121.6h0M700.1 238.5h0M893.9 150.3h0M686.8 175.7h0M636.2 102.5h0M743.3 333.9h0M957.9 374.6h0M599.2 176.5h0M560.1 277.7h0M592.1 163.3h0M920.9 229.7h0M844.1 118.4h0M875.6 122h0M865.5 143h0M671.6 141.7h0M704.6 289.5h0M680.7 224.2h0M758.2 353.5h0M562.5 252.7h0M758.9 329.8h0M722.7 353.3h0M781.5 274.8h0M943 372h0M708.4 247.1h0M599.1 112.8h0M579 178h0M656.1 93.6h0M643.6 101.4h0M754.8 344.1h0M759.3 334.5h0M873.9 109.2h0M762.9 316.5h0M953.9 373.7h0M825 136.1h0M769.2 301.4h0M899 160.5h0M948.3 383.5h0M614.4 100.4h0M939 342.1h0M924.5 235.3h0M790.9 209.3h0M764.4 312.7h0M732.8 304.5h0M850 99.5h0M790.9 222.5h0M778.5 251.6h0M925.4 252.4h0M923.9 230.2h0M712.6 277.5h0M842.2 86.4h0M564.9 242.5h0M751.1 322.9h0M684.9 162.1h0M835.5 110.9h0M716.2 284.4h0M776.8 271.8h0M757.9 347.3h0M855.2 137.2h0M725.2 317.1h0M549.4 318.2h0M700.4 218.8h0M820.6 117h0M826.7 109h0M815.1 126.5h0M855.5 109.7h0M582.2 150.2h0M648.8 79.3h0M801.3 189.5h0M898.2 160.4h0M838.7 112.1h0M606.1 126.7h0M633.2 93.8h0M819.7 122.1h0M896.9 136.5h0M774.9 290.9h0M721.2 306.8h0M600 149.2h0M571.4 214h0M663.4 145h0M842.8 112.4h0M601.6 122h0M717.6 269.5h0M954.3 376.1h0M889.6 128.7h0M924 266.7h0M787.8 225.6h0M870.1 90.3h0M702.7 220.1h0M867.2 109.1h0M773.6 300.7h0M671.3 178h0M806.3 157.7h0M954 392.7h0M559.8 264.8h0M794.7 221.9h0M704.1 254.9h0M612.5 119.1h0M603.4 173.7h0M734.2 335.7h0M679 172h0M548.9 299.3h0M637.7 90.3h0M710.3 274.4h0M712.9 281.2h0M626.6 84.3h0M698.6 232.7h0M774.3 292.2h0M608.9 120.2h0M788 206.3h0M900.4 167.5h0M723.6 301.9h0M615.1 107.1h0M679.5 169.3h0M952.5 412.4h0M792.3 175.7h0M896.3 154.3h0M917.2 214.8h0M775.2 297.9h0M824.3 124.4h0M706.6 232h0M681.2 225.1h0M738.3 325.9h0M700.3 206.5h0M774.8 282.4h0M964.8 373.6h0M881.7 128.1h0M924.8 271.5h0M642.6 105.6h0M670 153.5h0M697.5 196.8h0M775 289.4h0M543.8 335.8h0M923.3 237.3h0M873.4 165.6h0M876 153.3h0M581.5 176.2h0M590.3 164.6h0M709.9 300.3h0M916.8 233.4h0M558.3 277.4h0M556.4 302.9h0M860.3 111.5h0M874.9 103.3h0M753.6 304.3h0M741.3 328.6h0M602 131.4h0M608.5 121.1h0M592.1 154.6h0M640.4 146.5h0M908.9 156.8h0M786.7 289.8h0M798.7 171.3h0M670.7 181h0M745.6 323.3h0M889.2 149.1h0M806.4 167.1h0M652.5 162h0M610.9 105.9h0M687 118.9h0M668.7 117.6h0M580.3 167.8h0M668.6 130.2h0M635.7 85.2h0M895.4 153.5h0M599.2 134.2h0M753.2 330.9h0M866.1 101.7h0M659.9 105.2h0M609.5 110.2h0M801 179.9h0M706.9 232h0M744.2 337h0M567.2 238.7h0M622.8 86h0M867.6 125.6h0M964.4 379.5h0M665.1 174.2h0M679.1 206.6h0M738.7 323.9h0M738.8 342h0M678.2 158h0M647.6 108.9h0M602.7 139.1h0M886.9 134.6h0M646.8 95.8h0M703 227.2h0M699.6 214h0M816.5 118.1h0M596.1 152.5h0M897.8 171.7h0M590 142h0M814.6 170.7h0M915.3 249.8h0M653 128.8h0M651.2 103.5h0M883.7 144.8h0M825.2 113.9h0M597.1 115h0M608 122.3h0M938.4 331.9h0M908.5 207.3h0M876 121.5h0M703.3 226.7h0M653.2 129.3h0M627.1 90.3h0M880.5 130.1h0M595.5 117h0M705 231.3h0M960.9 406.4h0M649.9 95.2h0M810.3 159.8h0M830.6 123.1h0M933.5 296.1h0M941.3 330.5h0M784.3 222.3h0M956.4 375.5h0M556.4 301.1h0M539.6 347.7h0M849.9 101.3h0M798.4 171.2h0M701.1 228.5h0M827.7 170.8h0M896.6 151h0M827 127.7h0M843.3 97h0M816.4 138.3h0M727.9 300.2h0M730.5 312.7h0M623.7 102.6h0M807.9 173h0M683.6 206.9h0M534.3 370.2h0M785.3 235.2h0M805.7 159.5h0M858.8 102.8h0M646.9 78.3h0M698.2 244.8h0M967.1 398.7h0M637.5 81.6h0M694.4 211.2h0M932.3 280.5h0M641.5 128.9h0M589.7 138.3h0M603.4 123.7h0M607.6 120.9h0M625.7 104.5h0M532.2 382h0M543.7 343.3h0M826.5 94.6h0M849.5 107.4h0M848.7 90.7h0M747.1 346.7h0M740 322.6h0M891.3 114.3h0M814.9 163.1h0M866.1 84.8h0M777.6 300.3h0M774.1 273.1h0M902.5 201.2h0M808.3 160.9h0M801.7 175.3h0M614.7 129.9h0M801.1 196.6h0M633.5 89.4h0M899.9 184.5h0M969.5 381.1h0M891.5 147.8h0M744.2 336.7h0M720.9 313.3h0M909.2 168.3h0M581.1 156h0M834.7 114h0M622.7 86.9h0M921.2 233.7h0M582.7 173.3h0M666 129.2h0M732.2 328.4h0M635.9 149.9h0M895.6 143.2h0M965.9 373.5h0M543.1 350h0M715.4 282.4h0M810.2 159h0M734.2 317h0M721.6 287.2h0M864.9 156.4h0M623.8 111.8h0M953.7 381.1h0M882.1 132.9h0M595.1 127.2h0M533.9 382.3h0M673.8 104.8h0M625.2 76.4h0M578.7 188.9h0M857.4 76.7h0M565.5 246.3h0M671.7 153.4h0M654.1 85h0M871.9 109h0M939.5 331.6h0M748.7 329.8h0M699.9 219h0M670.7 115.4h0M663.5 116.9h0M842.5 136.6h0M547.5 343.2h0M890.2 152.5h0M639.7 130.8h0M531.5 371.4h0M851.8 95.7h0M616 123.7h0M721.3 293.5h0M675.9 158.5h0M767.3 309h0M689.6 199h0M859.3 91.4h0M782.8 236.4h0M839.6 109.3h0M885.5 127.9h0M728.8 322.9h0M706.3 244.7h0M865.3 111.6h0M834.7 87.5h0M637.5 104.3h0M917.9 239.1h0M926.2 258.2h0M873.6 149.1h0M642.2 108h0M855 114.2h0M902.8 172.2h0M751.4 415.3h0M598.8 149.6h0M630.7 86.7h0M820.8 136.3h0M579.7 179.5h0M627.3 91h0M571.3 221.7h0M756 339.8h0M608.4 139.5h0M631 107.9h0M921.6 249.9h0M886.9 121.5h0M637 97.8h0M682 150.3h0M593.5 126h0M826.6 105.2h0M796.9 191h0M759.1 339.4h0M957 368.1h0M672.4 142.2h0M794.8 189.1h0M622 118.2h0M840.7 153.8h0M827 143.4h0M684.1 230.2h0M527.2 377.9h0M678.1 152.9h0M605.7 121.9h0M803.2 191.8h0M637.6 101.8h0M601.1 129.3h0M718.8 313.4h0M772.5 286.7h0M617.4 102.3h0M696.7 213.4h0M659.7 131.5h0M952.3 368h0M910.1 216.3h0M600.6 145.5h0M919.3 229.7h0M788.4 248.4h0M671.5 141.9h0M857.4 110.6h0M617.1 106.9h0M812.7 155h0M820 112.5h0M735.5 395.5h0M701.7 220.1h0M529.7 397.4h0M864.2 117.6h0M794.8 183.9h0M846.9 119.1h0M699.2 253.7h0M866.9 90.6h0M592 140.5h0M871.8 120.4h0M691.5 183.1h0M812.9 126.5h0M592.3 141.6h0M794.1 176.3h0M934.7 294.7h0M862.1 108.9h0M862.8 113.8h0M866.8 133.2h0M595.7 137.2h0M651.7 70.8h0M846.1 102.3h0M579 182.5h0M665.5 138.9h0M544 349.6h0M612.2 117.1h0M829.5 117.4h0M894.5 157.8h0M918.7 217.6h0M862.6 73.1h0M906.5 181.2h0M810.7 174.2h0M752.9 325.8h0M832.3 150.2h0M849.9 112.3h0M557.8 291.1h0M900.3 164.4h0M741.4 371.3h0M771.2 288h0M716 335.4h0M811.8 127.4h0M636 102h0M685 169.3h0M740.6 336.1h0M613.9 117.2h0M790.6 264.5h0M730.9 310h0M870.8 155.4h0M879.2 107.7h0M849.8 147.4h0M742 328.9h0M772.1 334.5h0M658.2 128.2h0M669.9 144h0M569.7 220.9h0M925.5 260.2h0M704.6 293.9h0M941.7 338.2h0M828.7 104.2h0M891.4 147.1h0M606.5 131.1h0M610.1 103.2h0M580.7 260.6h0M812.5 158.7h0M729 317.4h0M757.4 347.7h0M829.2 134.8h0M891.1 160h0M809.3 150.1h0M866.8 107.1h0M537 354.4h0M600.8 142.9h0M910.7 175.7h0M717.6 350.8h0M703 223.6h0M593.2 120.7h0M577.1 184h0M721.9 315h0M576.8 223.9h0M882.1 109.4h0M792.8 205.1h0M918.1 231.2h0M618.1 92.1h0M582 156.7h0M613.1 90.1h0M591.1 145.3h0M560.7 268.2h0M815.4 155.3h0M825.7 157.3h0M643.3 110.4h0M719.6 276.3h0M712 308.8h0M817.1 141.8h0M937 304.3h0M600.1 129.1h0M690.8 230.9h0M938.5 314.5h0M605.3 134.2h0M611.5 119.6h0M836.4 87.4h0M871.8 104.9h0M533.7 392h0M859.8 89.5h0M763.9 331h0M643.7 96.6h0M782.4 286h0M680.8 208.3h0M859.9 108.3h0M922.7 236.1h0M527.1 380.5h0M854.3 114.5h0M866.1 54.9h0M646.9 122.1h0M835.4 135.6h0M695.9 210.8h0M657.8 119.6h0M783 240.7h0M863.5 117.7h0M923.8 240.2h0M585.2 162.4h0M838.7 159.3h0M777.7 264.5h0M865.5 96.4h0M893.1 128.4h0M574.8 223.5h0M836.5 127.4h0M622.6 86.7h0M702.3 236.3h0M556.3 305.1h0M787.9 244h0M818.2 168.9h0M715.9 314.8h0M675.2 142.3h0M628.8 84.3h0M635 101.4h0M704.1 246.1h0M895.1 166.6h0M586.3 158.8h0M536.9 374.5h0M965.4 378.7h0M887.8 112.2h0M885.4 144.8h0M874.7 141.5h0M852.9 117.4h0M850.4 109.3h0M549.8 317.2h0M685.5 199.2h0M849.7 113.1h0M781.1 282h0M750.6 319.7h0M550.8 324.1h0M848.7 111.6h0M617.7 96.5h0M752.9 337.4h0M959.9 375.3h0M740.7 355.6h0M827.4 133.6h0M693.7 204.3h0M810.2 137.5h0M575.1 208.7h0M572.4 235.7h0M590.6 150.6h0M839.9 79.7h0M614.6 128.2h0M613.2 121h0M809.6 135.9h0M673.2 137.8h0M801.3 171.7h0M597.9 121.1h0M579.8 189.6h0M753.3 319.2h0M635.3 104h0M601.4 167.6h0M780.8 247.4h0M826.7 126.8h0M825.6 128.5h0M964.2 412.9h0M750.1 343.9h0M706.7 209.5h0M601.2 130.4h0M708.5 242.1h0M791.7 218.5h0M677.4 177.7h0M945.9 376.5h0M933.7 301.6h0M778.8 299h0M684.2 217.8h0M628 80.3h0M578.9 202.3h0M576.6 202.4h0M544 334.8h0M640.2 78.6h0M913 219.3h0M578.6 198.2h0M748.7 321.7h0M674.9 166.6h0M689.3 155.9h0M544 361.9h0M721.9 338.3h0M698 198.1h0M965.4 383.7h0M952.7 437.1h0M936.5 325.2h0M785.1 218.8h0M601.3 135.5h0M959.7 378.7h0M702.1 227.3h0M745.3 347.9h0M839.4 98.6h0M628.9 80.9h0M741 331.6h0M633.4 81.6h0M636.7 104.9h0M683.5 167.8h0M932.3 282.2h0M816.5 124.2h0M700.3 242.5h0M677.5 144h0M709.6 311.1h0M591.6 88.6h0M916.1 207.8h0M691.2 186.4h0M742.8 322.5h0M571.3 226.1h0M754.7 337.7h0M968.5 393.5h0M574.9 195.2h0M643.3 102h0M799.6 150.9h0M706.5 228.7h0M883.4 147.3h0M790.2 231.2h0M911.4 187.1h0M880.1 102.9h0M591.8 162.8h0M680.8 174.7h0M766 351.8h0M919 228.8h0M660.4 119.8h0M575.6 184.4h0M880 122.2h0M616 96.3h0M823.9 115.5h0M830.1 128.2h0M631.6 91.6h0M901.4 175.4h0M701.6 291.2h0M624.3 94.1h0M677.3 155.6h0M617.4 99.1h0M970 384.7h0M532.2 394.5h0M905.2 194.7h0M839.6 150.4h0M776.8 304.7h0M625.6 60.1h0M668.8 157.3h0M947.9 349.7h0M890.5 146h0M581 193.1h0M721.9 359.5h0M947.4 405h0M541.1 385.4h0M762.3 329h0M850 110.8h0M644.1 88.6h0M708.6 245.5h0M799.2 179.1h0M903.9 194.8h0M836.1 102.8h0M627.4 118.6h0M798.4 192.6h0M669.3 118.6h0M885.7 118.1h0M847.8 73.1h0M904 205.8h0M532.4 394.4h0M792.8 192.5h0M592.9 133.5h0M919.5 230.9h0M802.9 156.2h0M637 93.3h0M673.8 130.4h0M872.6 129.5h0M751.4 352.9h0M660.5 111h0M967.9 375.6h0M916.7 199.9h0M566.3 234h0M796.4 172.8h0M747.5 347.6h0M656.7 113.3h0M801 128.3h0M857 118.7h0M813.6 141.4h0M686.8 168.9h0M784.1 255.9h0M528.7 373.7h0M640.6 108.1h0M811 145.1h0M814.7 134.7h0M582.6 171h0M681.2 182h0M956.8 377.6h0M623 105.1h0M597.6 141.1h0M750.7 339.8h0M688.9 164.4h0M758 325.2h0M556.1 295.3h0M828.1 113.1h0M706.2 264.5h0M567.7 219.7h0M758.6 362.8h0M788.5 194.2h0M666.1 111.7h0M631.3 108.8h0M919.9 227h0M809.4 152h0M663.7 138.8h0M873.9 128.6h0M706.7 259.9h0M738.2 315.4h0M591.1 158h0M661.2 115.5h0M688.5 190.1h0M891.8 143.5h0M625.5 122.4h0M757.6 319.9h0M635 122.4h0M856.8 105.9h0M592.6 133.6h0M744.2 317.8h0M641.5 99.2h0M842.1 101.7h0M961.9 377h0M832.4 112h0M528.8 378h0M854.7 98.1h0M850.9 105.9h0M889.1 136.4h0M854.1 143.5h0M593.4 174.7h0M940.5 334.2h0M641.8 122.7h0M885.7 142.1h0M583.9 186.6h0M563 263.7h0M652.3 118.1h0M570.8 229.2h0M667.7 129.8h0M596.5 145.1h0M872 108.6h0M913.7 199.5h0M786.1 205.8h0M631.1 95.7h0M544.7 339.6h0M568.1 210.4h0M646.8 120.6h0M649.3 96.2h0M654.8 115.6h0M896.8 156.5h0M847.7 100.1h0M780.6 253.5h0M716.2 289.5h0M633.3 108.7h0M790.7 184.1h0M643.7 110.6h0M885.8 168.4h0M933.9 285.6h0M767.1 322.9h0M544.5 326.9h0M830.7 121.2h0M666.7 164h0M561 261.2h0M841 113.8h0M861 94.4h0M545.8 317.8h0M896.9 145.9h0M629 99.3h0M874.4 128.7h0M893.9 145.2h0M772.7 310.6h0M793.4 201.1h0M940.7 321.1h0M596.3 144.5h0M756.2 370.3h0M691.4 174h0M535.5 374h0M571.8 219.2h0M679.1 163.2h0M906.5 162h0M904.3 188.1h0M666.8 125.7h0M847 102.3h0M786.8 223.1h0M895.4 159.8h0M868.4 97.8h0M667.6 130.8h0M913.3 207.1h0M830.3 129.6h0M581.1 173.8h0M564.9 231.5h0M553.9 292.5h0M881.4 135.4h0M748.5 352.4h0M569.2 201.7h0M813 156.3h0M818.6 116.7h0M916.9 212.8h0M803.5 198.9h0M970.3 412.5h0M771.7 292.5h0M729.8 320.5h0M887.7 186.2h0M643.8 80.5h0M636.3 124.8h0M847.7 104h0M828.9 127.7h0M622.9 93.3h0M774.3 276.2h0M565.1 235.5h0M907.9 191.8h0M956.7 369.2h0M699.7 314.7h0M909.9 183.3h0M903.4 161.4h0M689.1 214.3h0M633.5 95.9h0M782.3 232.4h0M698 236h0M533.2 377.8h0M755.3 311.2h0M691.3 247.2h0M603.5 150.4h0M792.1 210.1h0M642.1 124.5h0M968.1 386.2h0M808.8 153.4h0M876.4 124.2h0M884.2 113.8h0M614.7 103.8h0M913.6 201.4h0M886.1 155.6h0M790.9 221.8h0M906.2 161.3h0M708.1 264.1h0M636 96.1h0M665.6 75h0M876.3 100.5h0M796 173h0M755.8 338.7h0M571.3 206h0M786.2 219.3h0M834.3 141.2h0M903.9 162.9h0M734.5 322.6h0M817.9 160.5h0M588.9 155.7h0M895.3 207.5h0M943.2 331.8h0M586.5 155.9h0M801 147.4h0M813.4 138.5h0M833.7 128.4h0M722.7 305.7h0M672.3 216.5h0M650.9 110.9h0M782.9 255.1h0M583.5 161.3h0M741.3 334h0M919.4 260.9h0M672.6 155.1h0M797.3 172.7h0M662.7 108.2h0M758.8 337.4h0M801.1 131.9h0M619.3 103.5h0M881.2 123.7h0M657.7 176.7h0M964 376.2h0M689.6 205.4h0M540.3 345.1h0M794.7 174.5h0M910.8 208.4h0M756.9 326h0M916.3 236.7h0M721.7 323.2h0M765.5 319.2h0M705.2 236.1h0M617.8 102.3h0M912.6 214.6h0M744.6 328.5h0M839.9 93.9h0M829.3 124.3h0M604.8 120.9h0M544.7 341.8h0M592.7 131.8h0M536.9 363.4h0M629.3 103.9h0M698.5 218.4h0M623.4 81.2h0M877 113.8h0M649.2 87h0M593.4 147.2h0M619 86.8h0M617 98h0M608.9 109.1h0M587.4 164.4h0M960.7 419.6h0M581.6 164.4h0M937.6 315h0M661.6 139.8h0M575.1 206.8h0M685.4 182.4h0M742 340.2h0M815.6 152.3h0M959.5 405.8h0M796.7 174.9h0M831.5 118.5h0M610.1 115.7h0M720 352h0M866.6 128.5h0M607.4 105.2h0M601.2 116.2h0M821.5 122.3h0M775.8 287.1h0M623.8 89.9h0M676.1 151.5h0M611 103.7h0M601.9 144h0M799 199.1h0M554.6 290h0M668.4 151.2h0M898.5 147.3h0M886.9 188.6h0M621.5 108.2h0M644.5 95.6h0M648.1 98.4h0M707.1 245.1h0M618 86.5h0M695.5 188h0M621.2 115.9h0M779.7 316.3h0M664.9 149.6h0M572.2 231.2h0M560.5 264.7h0M862.2 127.3h0M637.8 103.1h0M581.9 167.7h0M684.1 166.5h0M782.4 243.6h0M959.6 376.3h0M632.1 99.6h0M962.3 362.7h0M703.2 219.3h0M570.8 229h0M560.6 276.7h0M558.2 280.5h0M598.6 141.7h0M563.4 244.5h0M608.4 116.3h0M691.2 185.5h0M868.2 150.9h0M700.3 239h0M857 96.8h0M930.6 283.2h0M818.8 147.5h0M886.1 143.5h0M674.6 125.3h0M546.7 330.4h0M725.9 315h0M908.6 198.5h0M606.2 121.3h0M583.9 171.4h0M725.7 296.4h0M661.1 136.8h0M528.8 387.5h0M880.6 117.2h0M847.1 92.3h0M955.9 383.7h0M536.3 361.4h0M580.3 178.2h0M715.2 313.5h0M852 71.5h0M645.2 114.4h0M577.6 212.8h0M580.7 172.7h0M695.6 184.2h0M682.8 184.8h0M932.8 275.1h0M726.4 301.7h0M729.5 310.7h0M765.3 321.2h0M554.3 283h0M719.5 290.3h0M630.8 91.7h0M812.7 141.4h0M770.6 336.2h0M651.2 106.8h0M541 355.3h0M660 137.4h0M836.3 102.5h0M775.8 285.3h0M584.2 168.3h0M556.2 288.3h0M808 145.9h0M964.9 387.5h0M927.1 275.8h0M870.3 131.7h0M851 103.6h0M646.9 95.9h0M928.6 256.6h0M674.1 135.9h0M692.8 188.1h0M836.9 93h0M555.5 302.6h0M710.5 266.9h0M598.4 155.1h0M810.7 148.8h0M642.7 105.3h0M700.4 213.5h0M764 332.7h0M889.9 142.7h0M866.4 101h0M636.3 101.8h0M857.5 156.7h0M866.9 123.8h0M848.6 136.9h0M601.2 102.3h0M754.6 303.4h0M751.2 362.3h0M566.5 234.9h0M902.8 167.8h0M732.8 357.1h0M707.4 250.4h0M854.8 94h0M647.5 123.1h0M813.2 158.8h0M888.5 160.7h0M811.9 144.5h0M738.5 384.4h0M799.4 178.6h0M802.7 164.9h0M727.9 349.4h0M695.2 234.6h0M720 308h0M648.5 93.4h0M922.7 247h0M569.4 212.2h0M948.4 369.7h0M836.2 110.5h0M612 112.4h0M580.7 182.2h0M670.8 117.2h0M705.9 228.8h0M766 373.7h0M759.1 336.3h0M830.3 116.2h0M865.8 103.8h0M637.1 95h0M772.2 298.8h0M589.1 181.5h0M616.8 122.6h0M809.5 149.9h0M609.6 120.7h0M764.9 317.8h0M615 102.3h0M665.6 140.7h0M720.6 292.8h0M696.6 197.8h0M793.6 190h0M904.4 191.9h0M847.7 90.2h0M619.8 95.9h0M917 221.8h0M602.3 133.9h0M666.5 153.6h0M885.6 193.1h0M959.4 410.9h0M527.2 410h0M947.7 377.3h0M558.5 299.2h0M860.6 92.5h0M689.6 203.6h0M629.4 120.5h0M778.6 281.1h0M849 95.4h0M685.1 180h0M634.3 86h0M586.5 167.3h0M868.1 116h0M886.5 139.9h0M724.5 317.8h0M749.9 333.1h0M790 205.9h0M563.3 266.2h0M655.7 107.2h0M794 182.9h0M682.2 147.8h0M578.1 210.9h0M532.9 368.3h0M744.2 339.9h0M727.9 315.4h0M636.2 100.8h0M544.4 336.7h0M838.3 101.7h0M848 117.8h0M630 95.2h0M591.8 131.9h0M710.1 252.1h0M791.5 183.3h0M809 152.4h0M864.7 121.3h0M768.3 312.1h0M821.1 148.6h0M750.1 347h0M890.1 135.5h0M787.9 247.7h0M675.2 144.7h0M932.4 284.2h0M821.5 138.9h0M820.5 165.9h0M708.5 264h0M628.9 116.9h0M671.6 125.3h0M740.2 342.5h0M616.7 97.5h0M654.5 110.7h0M942.6 364.6h0M730 310.9h0M871.5 117.7h0M845 76.6h0M686.7 176.1h0M575.6 196.9h0M558.8 293.2h0M885.3 153.1h0M935.4 306.7h0M650.6 197.9h0M841.6 115.1h0M751.9 342.5h0M827.9 141.1h0M706.8 249.1h0M861.8 90.5h0M967.4 385.6h0M749.1 406.5h0M883.7 152.9h0M635.7 118.4h0M766.8 316h0M646.7 108.4h0M572 213.5h0M658.9 151h0M676.8 158.7h0M867.2 97.3h0M608.6 129h0M645.1 98h0M874.5 136.6h0M705.3 224.1h0M969 370.5h0M540.1 376.6h0M585 190.1h0M621.1 93.5h0M890 139.1h0M772.4 324.7h0M908.5 232.7h0M673.1 228.1h0M892.9 138.6h0M546.2 316.1h0M758.9 333.1h0M933 331.3h0M645.2 117.4h0M589.8 146.4h0M667.9 170.2h0M958.8 368.5h0M821.9 125.9h0M653 86.7h0M839.5 103.3h0M770.4 324.4h0M625.6 93.4h0M591.3 159.5h0M810.1 148.3h0M731.3 347.7h0M720.7 335.9h0M685.1 172.7h0M620.1 93.1h0M791.5 233.1h0M582.5 198.5h0M741.6 323.2h0M662.9 96.9h0M699.1 215.6h0M883.1 135.3h0M755.5 342.6h0M603 114.9h0M862.8 103.3h0M536.5 370.3h0M808.2 131.7h0M723.1 328h0M674.4 143.4h0M548.2 329.8h0M650.2 119.8h0M561.3 273h0M872.9 103.4h0M667.3 135.2h0M922.9 254.3h0M857 103.5h0M870.7 107.1h0M967.6 381.7h0M811.5 155.2h0M749.9 331.8h0M738 344.6h0M796.2 189.6h0M639.1 184.9h0M715.8 312.2h0M908.1 199.3h0M603.3 131.2h0M850.9 105.6h0M803.3 150.4h0M674 131.9h0M678.9 158.7h0M685.8 215.7h0M827 131.2h0M636.2 105.4h0M911.2 173.8h0M657.5 124h0M830.5 112.9h0M601 163.7h0M870.4 128.7h0M861.7 92.9h0M909.3 194.6h0M553.2 299.6h0M743.2 338.8h0M918 231.9h0M737.2 318.7h0M743.6 311h0M691.6 176.9h0M916.9 271.7h0M859 125h0M765.2 309.1h0M629.1 90.4h0M793.8 210.2h0M660.6 130.6h0M594.1 143h0M574.2 215.6h0M764.6 314.8h0M728.4 296.4h0M911.8 196h0M831.1 65.8h0M543.4 323.8h0M842 119.2h0M962.1 385.7h0M676.7 159.6h0M582.7 158.9h0M928.5 260.2h0M679.9 140.5h0M758.8 329.3h0M566 241.4h0M872.5 112.7h0M702.3 240.1h0M709.5 245.8h0M666.6 130.2h0M933 202.3h0M892.4 162.6h0M666.7 148.7h0M681 145.5h0M850.6 105.5h0M900.7 183.9h0M588.2 190.5h0M526.7 400.9h0M781.8 261.7h0M903.2 156.2h0M967.4 363.8h0M671.1 163.5h0M711.5 258.8h0M752.1 323.4h0M929.2 268.7h0M785.1 220.9h0M632.4 120.7h0M620.9 107.6h0M628.4 114.8h0M806.1 132.3h0M841.3 154.4h0M850.9 104.7h0M778.5 285.7h0M634.7 93h0M644.1 103.2h0M663.4 128.1h0M867.7 78.7h0M561.5 265.5h0M746.4 324.8h0M952.9 412.3h0M567.7 250.7h0M680.2 170.3h0M841.7 90.7h0M961.7 399.6h0M856.1 125.9h0M607.3 105.2h0M635.5 109.1h0M781.2 250.9h0M533.4 372.3h0M922.6 248.2h0M716.6 267h0M902.6 168.2h0M566.9 242.8h0M883.5 166.2h0M740 310.9h0M610.2 124.5h0M832.3 118.7h0M752.1 330.6h0M822.9 124.5h0M685.5 171h0M713.3 317.4h0M848.3 110h0M786.1 207.6h0M658.9 118.2h0M821.2 178.5h0M807.8 136.5h0M594 159.8h0M784.6 244.8h0M939.1 313.6h0M874.4 146.6h0M794.4 211.3h0M600.4 115.2h0M861.3 108.2h0M672.7 137.9h0M753.9 318.1h0M618 108.4h0M654.3 87.1h0M820.1 161.6h0M825.1 153.7h0M698.6 200.9h0M572.3 193.7h0M748.2 386.3h0M555 306.4h0M742.7 330.3h0M804.6 137.6h0M652.3 86.7h0M642.9 103.9h0M558.1 312.9h0M859.1 78.6h0M805.5 159.1h0M680.9 167.5h0M931.4 274.8h0M740.1 316.8h0M899 178.4h0M863.2 116.8h0M884.1 134.4h0M645.2 79.5h0M831.4 96.2h0M875.1 138.2h0M741.4 343.2h0M803 147.7h0M780.8 245.2h0M674.1 139.3h0M836.1 127.8h0M565.1 241.7h0M814.9 150.9h0M689.9 196.6h0M708 251.6h0M765.3 384.4h0M600.6 110.4h0M555.3 289.1h0M703.7 232.4h0M771.6 285h0M799.1 205.7h0M907.6 183.3h0M564.1 242.7h0M618.9 91.5h0M633.6 110.6h0M932.3 294.5h0M646.8 102.4h0M769.4 308.4h0M697 198.3h0M776.8 275.2h0M898.4 163.6h0M652.5 95.8h0M638.4 92.3h0M875 123.7h0M659.7 122.6h0M730.1 313.6h0M666.3 130.9h0M703.1 244.7h0M902.9 190.8h0M850.4 115.6h0M682.9 169.7h0M597.5 155.5h0M946.4 357.6h0M588.1 164h0M821.9 117.7h0M892.1 130.9h0M677.3 137h0M947.6 351.9h0M870.8 110h0M679 152.3h0M955.7 414.2h0M672.5 147.5h0M559.3 273.4h0M760.4 313.3h0M854.5 156.1h0M614 140.5h0M531.8 357h0M927.4 258.6h0M883.9 121.3h0M860 113.2h0M881.8 94h0M644.9 100.4h0M862.9 115.2h0M618.1 123.5h0M572.5 208.9h0M593.2 145.5h0M817 147.9h0M927.6 253.6h0M925.3 255.1h0M717.6 293.6h0M575.9 248.5h0M724.8 365h0M660.5 135.3h0M605.4 162.5h0M916.7 210.7h0M648.7 101.8h0M571.1 218.9h0M541.5 354.7h0M542.7 339.5h0M942.2 331.9h0M731.1 315.7h0M651.5 108.8h0M894.2 146.2h0M906 203.2h0M559.3 253.8h0M584.6 185.1h0M878.2 124.4h0M846.8 120.2h0M928.6 259.2h0M880.1 97.1h0M833.6 89.5h0M620.2 82.6h0M652.9 124h0M662.5 156h0M619.3 106.9h0M607.7 101.9h0M911.7 250.1h0M915.1 194.8h0M876.3 153.5h0M881.1 117.4h0M764.6 319.3h0M849.8 106.7h0M598.4 134.7h0M555.5 332.3h0M715.1 288.6h0M931 279.6h0M746.6 321.5h0M716.2 297.4h0M824.9 144.4h0M870 101h0M662.8 166.5h0M685.9 142.1h0M651.4 91.7h0M906.6 191.3h0M742.2 312.4h0M536.1 373.7h0M830.9 129.5h0M697.4 221.3h0M626.9 99.7h0M919.8 268.2h0M636.1 165.7h0M963 396.9h0M824.4 145.1h0M916.9 209.3h0M874 132.6h0M542.5 351h0M959.2 384.2h0M737.7 335.7h0M566.7 277.4h0M630.4 106.1h0M633.3 113.8h0M870.5 121.4h0M707.4 244.4h0M672.9 146.6h0M631.7 94.3h0M848.3 170.7h0M650.4 123.1h0M849.1 121.4h0M827.8 165.2h0M773.6 299.7h0M693.7 205.6h0M645.7 86.2h0M735.2 322.7h0M704.6 229.2h0M760.6 337.6h0M913.3 177.5h0M746.7 340.7h0M549.3 309.6h0M713.7 263.5h0M758.7 339.5h0M931.7 296h0M815.6 145.2h0M749.9 348.4h0M574.2 208.4h0M906.9 225h0M723.3 312.7h0M640.9 94.8h0M855.4 108.2h0M706.3 220.5h0M643.8 84.4h0M824.7 151.1h0M624.4 66.1h0M834.1 112.6h0M619 104.2h0M790.7 193.5h0M842.7 113.2h0M715.9 286.3h0M757.3 342.5h0M946.5 357.9h0M712.2 272.3h0M778.6 267.4h0M939.1 306.4h0M566 256.2h0M667.9 132.6h0M595 165.1h0M825.9 129.2h0M618.2 112.8h0M773.6 296.8h0M842.4 56.7h0M775.1 286.9h0M643.8 93.6h0M685.6 152.7h0M630.8 124.8h0M712.9 277.8h0M751.7 343.3h0M660.8 107.8h0M725.3 351.1h0M581.4 198.3h0M698.7 234.3h0M743.3 335.3h0M811.3 157.4h0M755.9 352.8h0M720.7 341.5h0M887.7 127.6h0M769.5 330.8h0M594.9 128.7h0M635.8 109.7h0M844.8 108.8h0M863.4 105.3h0M737.9 332.4h0M669.2 173.9h0M796.5 179.8h0M581.4 191.4h0M930.1 294.8h0M871.3 126.3h0M715.8 276h0M780.7 264.8h0M661.9 159.3h0M713.2 282.5h0M788.5 212.7h0M746.2 397h0M673.7 142.5h0M789.4 265.7h0M867.7 148.4h0M568.5 239.3h0M720.5 275.9h0M784.5 254.3h0M915.9 220.1h0M597.2 138.5h0M545.7 326.8h0M891.2 152.6h0M950.1 362.4h0M815.6 140.2h0M851.5 152.5h0M851.6 121.1h0M845.9 138.9h0M759.7 320h0M679.9 144h0M711.8 276.1h0M881.9 135.4h0M851.1 135.5h0M527.4 411.8h0M686.2 178.5h0M702.2 240.8h0M686.4 173.3h0M586.6 171.5h0M647.5 92.8h0M785.9 233.9h0M623.4 104.7h0M592.6 137.9h0M576.1 217.1h0M909.8 189h0M797.5 188.8h0M717.3 341.9h0M699 223.2h0M845.8 80.5h0M616.4 135.7h0M731 321h0M729.6 320.1h0M646.7 111.5h0M630.3 89.4h0M854 97.9h0M886.2 221h0M895.1 177.7h0M588.3 181.4h0M721.3 290.4h0M554.7 317h0M567.5 225.9h0M623.6 95.3h0M789.8 229.3h0M534.5 380.5h0M939.4 311.6h0M562.9 267.7h0M799.6 176.4h0M561.1 262.5h0M861.4 132.1h0M689.4 183.3h0M880.2 126.4h0M810.1 124.5h0M767.2 356.6h0M781.5 250.1h0M941.5 364.9h0M811.6 133.6h0M767 312.4h0M966.3 394.6h0M615 120.2h0M780.5 242.2h0M969.1 404.6h0M853.9 103.3h0M592.6 149.3h0M792.6 195.2h0M862.4 119h0M886.7 157.6h0M542.9 323.1h0M538.9 349.9h0M627.1 134.7h0M692.4 188.2h0M681.5 224h0M859 117.1h0M703.7 236.8h0M778.9 254.2h0M871.8 126.8h0M805.6 139.8h0M915 220.8h0M748.3 331.3h0M756.9 349.9h0M934.5 315.3h0M630.6 106.6h0M637.3 76h0M635.3 117.7h0M683.2 172h0M675.9 133.8h0M961.6 405.7h0M692.7 196h0M649.9 158.8h0M825.1 127.4h0M804 163.1h0M543.8 347.7h0M957.1 390.9h0M622 99.5h0M698.3 221.3h0M792.2 202.6h0M686.2 181.6h0M702.2 213.8h0M882.3 128.7h0M859.5 101.2h0M721.7 286.2h0M840.1 105.5h0M864 103.1h0M864.1 86.6h0M780.8 265.3h0M684.4 205.7h0M968 367.9h0M654.4 115.5h0M596.6 133h0M610.8 110.2h0M762.4 312.1h0M717.9 282.7h0M607.9 147.5h0M748.6 349.3h0M541.9 355.2h0M726.4 301.6h0M882.3 158.6h0M820.9 155.1h0M926.1 253.5h0M540.3 342.2h0M692.2 200h0M815.7 156.1h0M693.9 193h0M912.3 201.2h0M664.8 125.6h0M777.3 269.3h0M872.8 120.2h0M600.2 150.8h0M728.9 318.3h0M859.4 158.9h0M955.6 378.7h0M873.8 104.8h0M894.4 168.9h0M770.7 304.9h0M949 386.2h0M864.2 115.6h0M553.6 306.5h0M781 251.9h0M709.7 233.1h0M651.3 116.6h0M680.6 172.4h0M867.1 108.4h0M537.6 367.2h0M640.1 133.5h0M633.6 72.9h0M668 129.9h0M869.6 83.4h0M533.5 364.7h0M595.8 138.6h0M806.8 175h0M615.7 85.6h0M959.8 380.9h0M622.9 144.6h0M925.4 275.9h0M616 79.5h0M613.1 117.8h0M653 102.7h0M909.2 188.7h0M827.1 131.6h0M598.2 188.2h0M773.5 299.7h0M797.4 182.3h0M820 141.2h0M615.7 110.6h0M760.2 351.4h0M601.8 186.2h0M857 98.7h0M740.5 330.1h0M599.1 134.4h0M845.3 112.8h0M941.8 319.1h0M586.7 167.3h0M810.5 146.6h0M941.9 350.8h0M843 102.1h0M600.6 146.3h0M897 151.2h0M791.7 216.2h0M720.3 311h0M928.9 263.7h0M648.3 117.2h0M943.1 347.5h0M769.2 316.9h0M947.7 363.5h0M781 276.1h0M834.6 114.7h0M576.4 227.1h0M766.2 330.6h0M727.7 324.6h0M805 175.4h0M612.2 132.4h0M926.7 275.7h0M803.4 151.7h0M710.5 261h0M670.1 132.2h0M638.5 93.7h0M965.8 397.5h0M928.5 254.2h0M909.4 190.3h0M703.5 265.1h0M906.5 159h0M735.6 324h0M896 176.3h0M903.1 183.7h0M937 338.1h0M632.2 119.4h0M563 249.1h0M841.9 104.8h0M627.1 122.5h0M851.2 134.1h0M632 109.3h0M877.5 113.4h0M747.7 321.5h0M775.1 321.6h0M790.2 203.8h0M791.2 209.8h0M869 113.8h0M751.7 306.9h0M742.7 340.2h0M600.2 135.9h0M829.5 128.4h0M770.2 303.1h0M895.4 158.5h0M832.1 140.9h0M776.5 268.8h0M945.1 331.2h0M851.2 97.6h0M929.2 270.7h0M803.5 190.4h0M616.4 87.7h0M658 138.6h0M822.6 137.4h0M937.5 310.3h0M841.4 95.8h0M786 229.5h0M804.6 199.3h0M661 140.7h0M584.9 181.6h0M555 282.9h0M852.5 142.7h0M763.8 337.7h0M844.8 120.8h0M910.9 213.7h0M581.4 172.9h0M665.1 121.8h0M599.4 140.4h0M898.6 162.5h0M779.7 265.1h0M637.1 83.2h0M840.3 77.8h0M750.1 340.5h0M884.5 120.2h0M788.5 223.9h0M758.9 319.5h0M626.2 97.4h0M534.7 359.8h0M656.5 111.1h0M572.4 229h0M907.8 184h0M537.4 359.6h0M892.4 134.2h0M693.7 210.3h0M729.6 354.8h0M609.1 118.2h0M791.6 200.6h0M583.8 159.4h0M850.2 124.1h0M544.5 342.6h0M749 349.2h0M528.7 371.9h0M634 112.8h0M725 326.7h0M563.2 245.6h0M885 122.7h0M902 198.3h0M838.6 121.6h0M652.3 80.3h0M964.4 416.1h0M633.9 100.5h0M595.2 126.8h0M627.2 108.6h0M660.3 127.4h0M874.1 106.4h0M716 329.4h0M786.7 224.3h0M724.3 311.6h0M784.6 233.9h0M749 341.1h0M795.5 184.3h0M796.8 239.9h0M654.8 101.5h0M684.8 168.4h0M626.7 97.9h0M696.1 228h0M838.6 129.1h0M883.2 109h0M801.9 195.2h0M633.7 78.5h0M575.2 199.2h0M897.5 151.1h0M747.2 356.7h0M858.3 91.4h0M826 134.7h0M662.9 173.4h0M805.1 146h0M548.6 329.5h0M589.3 148.7h0M546.2 367.5h0M699.4 192.6h0M616.5 105.2h0M918.3 224.6h0M616.9 81.8h0M596.7 137.1h0M744 374.8h0M834.3 114.2h0M799.1 179.6h0M731.8 344.3h0M895.1 169.9h0M587.1 168.7h0M835.5 83.2h0M820.4 156.8h0M578.8 121.4h0M588.2 173.8h0M546.2 322.5h0M561.6 245.6h0M726.6 292.3h0M627.3 83.7h0M572.6 210.8h0M667.1 126.8h0M627.2 94h0M699.6 221h0M608.8 120.7h0M628.5 90.7h0M547 329.7h0M751.4 331.6h0M731.4 313.5h0M759.9 351.2h0M912.6 246.8h0M830.8 126.6h0M556.6 267.1h0M540.5 356.9h0M703.9 259.8h0M947.2 403.5h0M713.5 263.7h0M911.1 191.5h0M895.5 167.6h0M753.6 312.4h0M749.2 324.8h0M884.7 128.5h0M957.3 382h0M670 132.1h0M801.9 153.8h0M712.4 266.4h0M609 117.6h0M584.8 165.6h0M715 259.9h0M757.8 371.6h0M922 237.1h0M627.9 104.7h0M802.9 172h0M598.6 132.6h0M821.3 154h0M901.6 200h0M863.1 80.4h0M891.6 155.2h0M884.4 148.1h0M856.7 62.5h0M716.7 275h0M921.1 248.9h0M809.8 150.9h0M789.8 260.3h0M832.8 116h0M662.9 114.6h0M807.1 156.3h0M665.3 130h0M577.8 173.1h0M720.5 303.2h0M775.4 293.9h0M835.1 136.1h0M635.8 71.7h0M902.3 168.7h0M527 383.1h0M643.8 116.4h0M826.7 120.7h0M802 149.1h0M560.2 253h0M567.2 245.1h0M632.8 110.2h0M545.9 329.5h0M701.8 219.3h0M811.7 132.5h0M927.3 273.1h0M686.6 190.8h0M903.8 182.7h0M553.7 295.5h0M901.9 172.6h0M867.5 90.3h0M816.1 160.3h0M615.9 88.5h0M617.4 100.4h0M750 317.3h0M859.7 98.5h0M588.3 157.1h0M764.9 326.7h0M735.7 357.8h0M824.8 148h0M661.3 105.3h0M876.1 119.1h0M882 125.8h0M590.3 147.8h0M790.5 208.8h0M822 130.8h0M966.5 374.9h0M698.5 204.1h0M650.1 106.9h0M656.5 91.1h0M776.8 269h0M773.3 301.4h0M623.8 81.1h0M902.1 179.2h0M541.6 357.5h0M788.8 213.5h0M855.2 101.3h0M711 271h0M926.2 260.4h0M697.2 208.3h0M644.2 109.2h0M586 149.8h0M763 328.4h0M597.8 142.9h0M940.8 317.9h0M778.9 261.3h0M773.9 292.3h0M868.8 103.4h0M803.3 168h0M556.5 276.7h0M854 112.1h0M573.9 211.5h0M868.8 114.1h0M649.3 98h0M951.7 364h0M586.3 164.9h0M542.8 344.6h0M637.1 99.5h0M787.2 211.2h0M584.5 156h0M653.5 234.2h0M737.7 344.5h0M889.4 132.6h0M892.7 161.5h0M836 133h0M756.2 331h0M700.5 238.7h0M692.4 195.1h0M573.5 229.6h0M902.4 166.3h0M623.4 124.1h0M795.6 180.5h0M683.2 156.3h0M861.9 77.7h0M744 329.6h0M909.4 179.9h0M872 130h0M779.6 271.1h0M862.6 94.5h0M687.9 178h0M668.2 146.3h0M625.2 99h0M668.5 215.6h0M946.4 352h0M725.6 305.2h0M551.6 314h0M678.6 161.7h0M964.5 381.1h0M733.7 322h0M624.3 116.9h0M626.5 98.7h0M877.7 132.4h0M809.7 131.4h0M767.2 304.3h0M640.6 82.7h0M821.7 140.3h0M554.4 287.2h0M557.4 288.5h0M756.6 360.8h0M627.3 104.9h0M791.6 207.2h0M535.8 395.9h0M606.2 116.1h0M554.7 288.4h0M858.4 126.6h0M879.3 58h0M834 115.5h0M861.4 104.7h0M906.9 181.3h0M560.5 255.7h0M778.2 253.5h0M847.8 86.3h0M776.8 277.2h0M748.9 323.9h0M776.8 277.7h0M872.3 116.7h0M897.3 147.5h0M907.1 184.2h0M642 104.9h0M563.2 244.8h0M688.6 158h0M744.2 327.2h0M622 143.6h0M633.3 78.1h0M689.6 194.2h0M929.7 264.4h0M782.7 231.3h0M631 110.6h0M922.7 236.4h0M677.4 126.6h0M714.6 260.1h0M855.9 92.5h0M910.5 183.4h0M613.3 125.3h0M582.4 204.6h0M852.3 118.9h0M718.2 291h0M722.6 295.2h0M739.7 322.8h0M895.6 149.9h0M816.7 133.4h0M596.3 183.7h0M928.3 310.6h0M828.6 131h0M801.5 158.4h0M715.1 284.5h0M630.6 103.1h0M829.3 106.7h0M653 121.6h0M715.3 278.3h0M952.2 387.2h0M586.3 150.9h0M946 366.6h0M636.7 122.9h0M743.1 341.5h0M566 238.3h0M834.8 126.3h0M722.2 298.3h0M686.6 157.7h0M610.9 114.3h0M723.5 292.2h0M887.8 129.5h0M858 129.8h0M880.9 126.2h0M863.2 103.6h0M583.4 175.2h0M775.7 301.6h0M535.5 369.2h0M876.1 102.9h0M625.3 77h0M929.9 267h0M860.3 75.9h0M589.1 123.4h0M891.9 134.5h0M747.1 321.6h0M961.1 371.4h0M747.2 354.4h0M816.3 163.4h0M776.5 282.5h0M865.5 98h0M825.3 111.1h0M808.1 144.5h0M541.1 394.6h0M876.1 80.7h0M714 265.3h0M912 197.4h0M765 304.8h0M890.8 149.4h0M703.8 219h0M595.4 132.1h0M631.7 111.7h0M969.9 388.7h0M587.3 156.8h0M903.3 178.2h0M649.2 121.1h0M879.4 155.1h0M570.9 259.3h0M721.6 279.1h0M890.6 182.7h0M598.9 141.3h0M574.1 198.4h0M917.1 257.5h0M905.1 163.3h0M677.6 175.5h0M575.8 211.5h0M659.5 128.2h0M800.4 154.7h0M672.9 156.8h0M809.1 130h0M935.6 315.4h0M711.3 267.4h0M936.2 291.4h0M872.6 89.2h0M790.2 211.5h0M647.1 94h0M847 4.2h0M901.9 157.8h0M823.3 131.5h0M722.9 288.2h0M866.3 111.9h0M558.5 294.8h0M848.3 138.6h0M886.3 142.3h0M648.5 90.7h0M572.7 215.2h0M684.8 190.3h0M919.2 231.4h0M842.5 97.5h0M931.7 264.2h0M606.4 184.7h0M702.8 212.7h0M946.7 414h0M672.9 127.1h0M849.8 114.6h0M655.2 117h0M902.6 162.1h0M623.2 128.7h0M763 333.9h0M855.1 123.7h0M666.8 139.7h0M672.3 155.2h0M609.3 90.9h0M905.3 200.5h0M926.9 256.5h0M591.8 140h0M731.6 394h0M614.4 118h0M657.9 218.7h0M690.2 182.5h0M806.5 151.4h0M569 221.3h0M871.2 78.8h0M546 340h0M533.5 367.9h0M823.2 119.3h0M785.2 267.3h0M744.1 333.7h0M815.2 127.7h0M855.7 111.8h0M847.2 108.5h0M942.7 353.4h0M707.8 246.9h0M708.6 265.7h0M620.3 97.9h0M664.4 143.9h0M705.4 245.8h0M842.5 105.5h0M649 111h0M661.9 137.9h0M785.1 185.7h0M837.6 126.3h0M841.9 88.2h0M709.3 234.5h0M780.8 260h0M540.8 349.6h0M889.8 127.4h0M656.1 132.3h0M673.9 194.7h0M594.1 150.1h0M622.5 94.8h0M936.9 306.6h0M838.1 136.9h0M718.1 311.9h0M809.3 140.3h0M786.2 223h0M647.1 66.4h0M752.5 335.1h0M656.5 121h0M760.2 323.8h0M617.3 105.3h0M766.5 308.6h0M821.1 117.7h0M634.6 103.7h0M716.5 276.1h0M561.3 256.9h0M650.5 142h0M735.3 329h0M930 280.6h0M965.1 374.8h0M672.2 142.6h0M661.3 110.4h0M526.7 371.4h0M793.6 172.5h0M809 149.2h0M724.1 284.4h0M600.6 136.8h0M691.2 175.7h0M643.6 102.3h0M815.5 127.9h0M660.3 132.4h0M891.6 136.1h0M640.9 89.8h0M638.3 87.4h0M626.3 97.7h0M757.3 340.1h0M914.5 218.7h0M675.5 155.3h0M565.5 252.3h0M773.6 386.4h0M630.1 101.1h0M591.5 154.3h0M584.8 152.8h0M627.8 126.2h0M573.9 208.3h0M956.3 373.5h0M551.4 323.1h0M859.8 79.3h0M610.2 110.5h0M676.9 134.3h0M700.1 215.7h0M861.8 113h0M601.2 119h0M852 120.9h0M616.8 109.2h0M958.5 368.7h0M752.4 337.3h0M549.8 347.9h0M666.2 111.8h0M779.4 258h0M599 126.9h0M827.8 128.8h0M854.7 118.6h0M884.6 137.7h0M852.4 102.7h0M551.4 310.2h0M694.3 172.4h0M808.7 147.5h0M889 130.1h0M625.5 65h0M966.3 384.4h0M818.2 137.2h0M962 380.1h0M748.8 310h0M917.3 251.2h0M820.3 131.7h0M750.9 339.3h0M819.6 145.9h0M643.3 125.1h0M727 314.7h0M608 130.5h0M771.3 298.3h0M573.6 255.3h0M689.7 178.7h0M934.7 298.8h0M952.6 399h0M812.8 150.6h0M600.4 170.3h0M747.9 347.9h0M538.9 366.1h0M912.1 197h0M787.1 205.5h0M890.3 146.9h0M672.4 166.7h0M874.6 107.7h0M817.4 85.8h0M794.5 187h0M905.2 170.6h0M815.9 105.8h0M636 94.3h0M931.1 321.5h0M888.1 115.6h0M702.7 234.9h0M919.9 227.5h0M888.2 135.5h0M552.6 298.7h0M613.7 119h0M803.8 155.8h0M676.1 148.2h0M761.5 391.3h0M689.7 266h0M859.6 144.9h0M896.1 155.8h0M818.9 147.8h0M706.8 243.4h0M952.3 361.1h0M585.3 165.6h0M595.2 113.9h0M562.8 274.9h0M894.6 149h0M590.1 160.4h0M877.4 114.8h0M843.9 105.8h0M834.1 116.3h0M694.8 192.4h0M672.3 133.8h0M865 88.2h0M629.4 102.4h0M715.6 289.8h0M656 116.4h0M676.2 150.5h0M906.2 177.3h0M752.6 325h0M851 108.5h0M550.8 314.7h0M646 101.4h0M898.1 183.9h0M718.2 278.4h0M614 118.7h0M553.3 286.2h0M733 332.8h0M572.9 235.1h0M834.2 111.2h0M727.6 304.7h0M786.3 253.1h0M917.6 248.9h0M583.6 181.9h0M853.3 80.4h0M733.4 304.8h0M554.6 290.4h0M847.8 140.8h0M676.4 151h0M872.6 116.6h0M948.6 359.1h0M536 360.4h0M541.4 354.6h0M784.7 214.7h0M799.1 179.6h0M740.9 345.7h0M897.4 169.4h0M833.9 122.3h0M814.2 163.9h0M713.2 276.6h0M864.6 95.7h0M845.5 110.6h0M590.2 149.7h0M613.5 130h0M807.7 128.1h0M868.6 93h0M920.4 242.5h0M638 106h0M838 128.3h0M714.4 283.4h0M668.4 151.5h0M685.1 149.8h0M879.6 138.3h0M727.6 353.6h0M860.5 89.9h0M821.1 123.5h0M929.2 281.3h0M969.8 384h0M854.3 85.1h0M947.7 377.3h0M778 269.3h0M805 149.4h0M932.3 317.7h0M864.5 94.1h0M795.9 210h0M965.6 376.1h0M544 338.6h0M776.3 278.4h0M684.7 148.4h0M550.3 313.1h0M621.1 109.4h0M800.8 169.2h0M540.6 351.5h0M745.2 356h0M665 122.8h0M637.4 112.9h0M613.8 158.2h0M635.7 94.9h0M929 261.3h0M606.3 124.8h0M596.9 140.5h0M832.3 83.8h0M939.9 335.4h0M600.9 166.5h0M674.7 143.3h0M636.6 67.6h0M766.4 354.7h0M556 288.8h0M879.1 179h0M884.6 108.8h0M809.2 156.7h0M764.9 301.8h0M608.5 104.5h0M692.5 192.4h0M791.1 184.6h0M792.4 185h0M658.8 108.2h0M768.9 359.5h0M744.3 333.4h0M969.4 390.9h0M855.1 90.2h0M661.8 194.1h0M603.4 127.6h0M627.2 132.5h0M892.2 137.7h0M941.5 333.8h0M619.9 86.3h0M740.8 345h0M586.6 158.1h0M806.1 146.4h0M622.6 108.2h0M714.4 272.8h0M679.9 120.3h0M862.6 129.4h0M586.1 144.7h0M753.9 349.1h0M831.8 113.6h0M697.4 229.7h0M677.9 157.1h0M574.1 204.1h0M600.4 132.7h0M597.9 114.2h0M785.4 225.7h0M794.1 178h0M722.5 308.1h0M705.1 250.5h0M839.7 106.9h0M917.5 236.4h0M711 311.1h0M882.1 131.2h0M796.9 148.8h0M538 374.7h0M728.7 384.1h0M796.3 163.5h0M733.8 311.4h0M764.2 308.5h0M693.2 205.5h0M679.9 172.7h0M885.1 136.2h0M849.9 119.1h0M872.5 102.4h0M648.6 82.1h0M854 110.7h0M863.3 79.2h0M966.2 385.6h0M870.5 114.8h0M752.4 336.1h0M670.4 153.4h0M538.2 363.5h0M602.5 131.6h0M804.9 145.7h0M676.4 158.1h0M797 170.2h0M733.2 357.9h0M693.8 189h0M745.2 333.1h0M635.3 79.4h0M732.8 320.1h0M764.1 305.1h0M587.1 174.4h0M651.8 113.6h0M917.8 239.7h0M789.1 196.9h0M679.4 167.5h0M648.7 136.3h0M753.4 319.6h0M780.9 252.6h0M777.3 274.4h0M705.3 224.3h0M794.3 178.3h0M908.8 181.4h0M604.4 150.1h0M583.6 165.3h0M805.9 156.3h0M772.3 327.3h0M875.9 119.3h0M849.3 116.7h0M913.8 191.9h0M837.2 113.2h0M691.1 199.7h0M662 133.9h0M575.8 204.2h0M588.4 156h0M922.2 264h0M531.3 390.6h0M865 89.2h0M637.4 86.8h0M554.1 334.4h0M869.9 113.3h0M658 113.3h0M543.9 339.6h0M707.2 267.3h0M873.5 106.4h0M767.7 303.9h0M929.4 275.1h0M711.2 262.6h0M967.2 399.9h0M839.4 89.8h0M647.2 129.7h0M948 370.2h0M641.7 116.6h0M531 380h0M775.1 276.1h0M655.6 104.1h0M739 313.4h0M640.8 56h0M816.2 118.4h0M747.7 330.5h0M679.3 191.2h0M782.2 242h0M810.3 117.1h0M892.8 127.9h0M775 304.1h0M558.1 278.4h0M549.9 314.8h0M729.8 321h0M855.2 134h0M612.8 106.2h0M675.5 180.4h0M907.7 157.5h0M626.8 68.3h0M590.9 150.6h0M838.6 94.4h0M756 386.7h0M688.3 213.6h0M739.1 315.9h0M690.4 180h0M628.8 114.2h0M774 289.7h0M534.1 391.8h0M770.7 301.7h0M638.7 105.1h0M594.7 116.2h0M803.6 165.2h0M691.6 259h0M638.7 140.9h0M876.7 127.9h0M702 247.3h0M572.4 228.4h0M589.2 144.6h0M651 107.5h0M729.4 292.9h0M838.8 190.9h0M835.9 107.2h0M660.9 122.5h0M642.7 109.2h0M931 263.6h0M714.9 276.4h0M672.8 132.1h0M826.5 140h0M603.7 106.7h0M546.1 326.1h0M571.8 236.8h0M806.1 169.9h0M960.4 377.4h0M870.9 90.5h0M773.5 280.3h0M742 341h0M884.4 132.5h0M627.7 82.8h0M550.3 323.4h0M721.9 288.5h0M775.6 267.9h0M915 206.1h0M603.4 107.7h0M773.5 279.3h0M758.1 326.4h0M836.6 73.3h0M915.6 206.7h0M818.2 120.4h0M706.1 238.9h0M790.6 214.9h0M887.7 153.8h0M563.7 265.3h0M805.9 215.5h0M653.2 110.2h0M765.9 307.5h0M763.8 324.3h0M813 146.8h0M695.2 197.2h0M613.2 113.2h0M576.9 198.8h0M687 168.7h0M946.3 349.5h0M948.9 377.9h0M801.1 164.8h0M688.1 181.9h0M832.8 125.2h0M737.1 383h0M557.8 269h0M557.5 301.7h0M616.6 101.8h0M529.9 377.5h0M718.6 279.2h0M931.9 283h0M689.5 153.6h0M619.7 88.9h0M861.6 127.2h0M627.3 89.5h0M718.5 289.4h0M842.5 114.5h0M842.3 104.5h0M569 220.6h0M540.3 336.7h0M587 74h0M637.5 46.5h0M865.2 53.8h0M872.2 67.5h0M804 73.8h0M818.2 76.2h0M904 118.8h0M914 158.8h0M588.5 220.5h0M673.5 212.5h0M677.5 231h0M675 264h0M691.5 253h0M718.5 246.8h0M838.5 178h0M799.5 267.5h0M550.2 392.5h0" stroke="#000" stroke-width="5.3" stroke-linecap="round" fill="none"/><path d="M82.8 382.6L84.2 380.5L85.9 378.1L87.6 375.6L88.9 372.9L90.2 370.2L91.4 367.5L92.6 364.7L93.6 361.9L94.5 359L95.4 356.1L96.2 353.3L97.1 350.4L97.9 347.5L98.8 344.6L99.6 341.8L100.4 338.9L101.1 335.9L101.8 333L102.5 330.1L103.2 327.2L103.9 324.3L104.5 321.3L105.1 318.4L105.7 315.5L106.3 312.5L106.9 309.6L107.5 306.6L108.1 303.7L108.6 300.7L109.1 297.8L109.7 294.8L110.2 291.9L110.7 288.9L111.2 286L111.8 283L112.3 280.1L113 277.2L113.8 274.3L114.5 271.3L115.3 268.4L116 265.5L116.7 262.6L117.3 259.7L117.9 256.7L118.5 253.8L119.2 250.9L119.8 247.9L120.4 245L121 242.1L121.6 239.1L122.3 236.2L123 233.3L123.7 230.4L124.4 227.5L125.2 224.6L125.9 221.6L126.6 218.7L127.4 215.8L128.2 212.9L129 210.1L129.9 207.2L130.7 204.3L131.6 201.4L132.3 198.5L132.9 195.6L133.5 192.6L134.1 189.7L134.6 186.8L135.2 183.8L135.8 180.9L136.4 177.9L137 175L137.6 172L138.3 169.2L139.4 166.3L140.4 163.5L141.4 160.7L142.4 157.9L143.3 155L144.3 152.2L145.3 149.3L146.3 146.5L147.3 143.7L148.4 140.9L149.4 138.1L150.5 135.3L151.7 132.6L153.6 130.2L155.5 128L157.5 125.7L159.4 123.4L161.3 121L163.1 118.6L164.9 116.2L166.7 113.8L168.4 111.4L169.7 108.7L171.1 106L172.4 103.3L173.9 100.8L176.1 98.8L178.4 96.9L180.7 95L182.9 92.9L185.3 91.8L188.3 92L191.3 92.3L194.2 92.7L196.8 93.9L198.9 95.9L201.1 98.1L203.2 100.2L205.3 102.3L207.2 104.6L208.7 107.2L210.2 109.8L211.6 112.4L213.1 115L214.6 117.6L216.1 120.2L217.7 122.8L219.3 125.3L220.9 127.9L222.5 130.4L224.1 133L225.6 135.5L227.2 138.1L228.6 140.7L229.8 143.4L231 146.2L232.2 149L233.3 151.7L234.5 154.5L235.7 157.3L237 160L238.4 162.6L239.7 165.3L241.1 168L242.4 170.7L243.5 173.5L244.4 176.3L245.4 179.1L246.4 182L247.4 184.8L248.3 187.7L249.3 190.5L250.3 193.3L251.1 196.2L251.9 199.1L252.7 202L253.5 204.9L254.3 207.8L255.1 210.7L255.8 213.6L256.6 216.5L257.4 219.4L258.2 222.3L259 225.2L259.8 228L260.6 230.9L261.4 233.8L262.2 236.7L263 239.6L263.7 242.5L264.5 245.4L265.2 248.3L265.8 251.3L266.5 254.2L267.1 257.1L267.7 260.1L268.4 263L269 265.9L269.6 268.9L270.2 271.8L270.9 274.7L271.5 277.7L272.2 280.6L273.1 283.4L274.1 286.3L275 289.1L275.9 292L276.9 294.8L277.8 297.7L278.7 300.5L279.7 303.4L280.6 306.2L281.8 309L283.2 311.6L284.6 314.3L286.1 316.9L287.5 319.5L289.3 321.8L291.7 323.7L294.1 325.5L296.5 327.3L299 329L301.5 330.5L304.2 331.7L307 331.2L309.9 330.5L312.8 329.7L314.9 327.8L316.7 325.4L318.5 323L320.3 320.6L321.5 317.9L322.4 315L323.2 312.2L324.1 309.3L325 306.4L325.9 303.6L326.8 300.7L327.4 297.8L328 294.8L328.7 291.9L329.3 289L329.9 286L330.5 283.1L331.1 280.1L331.7 277.2L332.3 274.3L332.9 271.3L333.5 268.4L334 265.4L334.6 262.5L335.2 259.5L335.7 256.6L336.3 253.6L336.8 250.7L337.4 247.7L337.9 244.8L338.5 241.9L339.1 238.9L339.6 236L340.2 233L340.7 230.1L341.3 227.1L341.8 224.2L342.4 221.2L342.9 218.3L343.5 215.3L344.1 212.4L344.6 209.4L345.2 206.5L345.7 203.5L346.3 200.6L347.1 197.7L347.9 194.8L348.7 191.9L349.5 189L350.4 186.1L351.2 183.3L352 180.4L352.8 177.5L353.7 174.6L354.5 171.7L355.3 168.8L356.2 166L357.3 163.2L358.5 160.4L359.6 157.7L360.7 154.9L361.9 152.1L363 149.3L364.2 146.6L366 144.2L367.9 141.9L369.9 139.6L371.8 137.3L373.5 134.9L375.2 132.4L377 130L378.7 127.5L380.3 125L381.9 122.4L383.4 119.9L385 117.3L386.5 114.7L388.1 112.1L389.6 109.5L391.1 107L392.6 104.4L394.1 101.8L395.8 99.8L398.3 100.6L401 101.9L403.7 103.2L406.4 104.5L409 104.4L411.7 103.2L414.4 101.9L417.3 101.1L420.2 101.1L422.6 102.2L424.2 104.7L425.8 107.3L427.4 109.8L429.3 112.1L431.4 114.2L433.6 116.4L435.7 118.5L437.4 120.9L438.9 123.5L440.4 126.1L441.8 128.7L443.3 131.3L444.8 133.9L446.2 136.6L447.3 139.4L448.5 142.2L449.6 144.9L450.7 147.7L451.8 150.5L452.9 153.3L454 156.1L455.1 158.9L456.3 161.6L457.4 164.4L458.5 167.2L459.6 170L460.7 172.8L461.8 175.6L462.9 178.4L464.1 181.1L465.1 184L465.9 186.9L466.5 189.8L467.2 192.7L467.9 195.6L468.6 198.5L469.3 201.5L470 204.4L470.6 207.3L471.3 210.2L472 213.1L472.7 216.1L473.4 219L474.1 221.9L474.8 224.8L475.5 227.7L476.2 230.6L476.9 233.6L477.7 236.5L478.4 239.4L479.1 242.3L479.8 245.2L480.5 248.1L481.2 251L481.9 254L482.5 256.9L483.2 259.8L483.9 262.7L484.6 265.7L485.3 268.6L485.9 271.5L486.6 274.4L487.3 277.3L488 280.3L488.6 283.2L489.2 286.1L489.8 289.1L490.3 292L490.9 295L491.4 297.9L492 300.9L492.6 303.8L493.1 306.8L493.7 309.7L494.2 312.7L494.8 315.6L495.4 318.6L495.9 321.5L496.5 324.5L497.1 327.4L497.6 330.3L498.2 333.3L498.7 336.2L499.3 339.2L499.9 342.1L500.5 345.1L501.1 348L501.7 350.9L502.3 353.9L502.9 356.8L503.5 359.8L504 362.7L505 365.5L506.6 368L508.4 370.4L510.1 372.9L512 375.2L514.4 376.8L517.1 378.2L519.7 379.6L522.4 381L525.1 382.3L527.3 381.7L529 379.3L530.7 376.9L532.3 374.3L533.5 371.6L534.8 368.9L536 366.1L537.2 363.4L538 360.5L538.9 357.6L539.8 354.8L540.6 351.9L541.5 349L542.4 346.1L543.2 343.3L544 340.4L544.7 337.5L545.4 334.5L546.1 331.6L546.8 328.7L547.6 325.8L548.2 322.9L548.8 319.9L549.4 317L550 314.1L550.6 311.1L551.2 308.2L551.8 305.2L552.3 302.3L552.9 299.3L553.4 296.4L553.9 293.4L554.4 290.5L555 287.5L555.5 284.6L556 281.6L556.6 278.7L557.4 275.8L558.1 272.9L558.9 270L559.6 267.1L560.3 264.1L561 261.2L561.6 258.3L562.2 255.3L562.8 252.4L563.4 249.5L564.1 246.5L564.7 243.6L565.3 240.7L565.9 237.7L566.6 234.8L567.3 231.9L568.1 229L568.8 226.1L569.5 223.2L570.2 220.3L571 217.3L571.7 214.4L572.6 211.6L573.4 208.7L574.3 205.8L575.1 202.9L575.9 200L576.6 197.1L577.2 194.2L577.8 191.2L578.3 188.3L578.9 185.3L579.5 182.4L580.1 179.5L580.7 176.5L581.3 173.6L581.9 170.7L582.8 167.8L583.9 165L584.9 162.2L585.9 159.3L586.8 156.5L587.8 153.6L588.7 150.8L589.8 148L590.8 145.2L591.8 142.4L592.9 139.5L593.9 136.7L595 133.9L596.6 131.4L598.5 129.2L600.5 126.9L602.4 124.6L604.3 122.3L606.1 119.9L607.9 117.5L609.7 115.1L611.5 112.7L613 110.1L614.4 107.4L615.7 104.7L617.1 102.1L618.9 99.8L621.2 97.9L623.6 96L625.8 94L627.9 92.1L630.7 91.9L633.7 92.2L636.7 92.5L639.6 93L641.8 94.8L644 97L646.1 99.1L648.2 101.2L650.3 103.4L651.9 105.9L653.4 108.5L654.9 111.1L656.4 113.7L657.8 116.3L659.3 118.9L660.9 121.5L662.5 124L664 126.6L665.6 129.1L667.2 131.6L668.8 134.2L670.4 136.7L672 139.3L673.2 142L674.4 144.8L675.6 147.5L676.7 150.3L677.9 153.1L679.1 155.8L680.3 158.6L681.6 161.2L683 163.9L684.4 166.6L685.7 169.3L686.9 172L687.9 174.8L688.9 177.7L689.9 180.5L690.9 183.3L691.8 186.2L692.8 189L693.8 191.8L694.7 194.7L695.5 197.6L696.3 200.5L697.1 203.4L697.9 206.3L698.6 209.2L699.4 212.1L700.2 215L701 217.9L701.8 220.7L702.6 223.6L703.4 226.5L704.2 229.4L705 232.3L705.8 235.2L706.5 238.1L707.3 241L708.1 243.9L708.9 246.8L709.5 249.7L710.1 252.7L710.8 255.6L711.4 258.5L712 261.5L712.7 264.4L713.3 267.3L713.9 270.3L714.5 273.2L715.2 276.1L715.8 279.1L716.6 281.9L717.6 284.8L718.5 287.6L719.4 290.5L720.4 293.3L721.3 296.2L722.3 299L723.2 301.9L724.1 304.7L725.1 307.6L726.4 310.3L727.9 312.9L729.3 315.5L730.7 318.2L732.3 320.7L734.4 322.7L736.8 324.5L739.2 326.3L741.7 328.1L744.2 329.7L746.8 331.2L749.5 331.6L752.4 330.9L755.3 330.2L757.9 329L759.8 326.7L761.6 324.3L763.4 321.9L764.9 319.3L765.9 316.5L766.8 313.7L767.7 310.8L768.6 307.9L769.5 305.1L770.4 302.2L771.1 299.3L771.7 296.4L772.3 293.4L772.9 290.5L773.6 287.6L774.2 284.6L774.8 281.7L775.4 278.7L776 275.8L776.6 272.9L777.2 269.9L777.7 267L778.3 264L778.9 261.1L779.4 258.1L780 255.2L780.5 252.2L781.1 249.3L781.6 246.3L782.2 243.4L782.8 240.4L783.3 237.5L783.9 234.5L784.4 231.6L785 228.7L785.5 225.7L786.1 222.8L786.7 219.8L787.2 216.9L787.8 213.9L788.3 211L788.9 208L789.4 205.1L790 202.1L790.6 199.2L791.5 196.3L792.3 193.4L793.1 190.5L793.9 187.7L794.8 184.8L795.6 181.9L796.4 179L797.2 176.1L798 173.2L798.9 170.3L799.7 167.5L800.7 164.6L801.9 161.9L803 159.1L804.1 156.3L805.3 153.5L806.4 150.8L807.6 148L809 145.4L810.9 143.1L812.8 140.8L814.8 138.5L816.6 136.1L818.3 133.7L820.1 131.2L821.8 128.8L823.5 126.3L825.1 123.8L826.6 121.2L828.2 118.6L829.7 116.1L831.3 113.5L832.8 110.9L834.3 108.3L835.8 105.7L837.3 103.1L838.8 100.6L840.9 99.9L843.6 101.2L846.3 102.5L849 103.9L851.6 104.8L854.3 103.9L857 102.5L859.8 101.4L862.7 101.1L865.5 101.4L867.4 103.4L869 105.9L870.6 108.5L872.3 111L874.3 113.1L876.4 115.2L878.6 117.4L880.5 119.6L882.1 122.2L883.6 124.8L885.1 127.4L886.6 130L888 132.6L889.5 135.2L890.8 137.9L891.9 140.7L893 143.5L894.1 146.3L895.2 149.1L896.3 151.8L897.5 154.6L898.6 157.4L899.7 160.2L900.8 163L901.9 165.8L903 168.6L904.1 171.3L905.2 174.1L906.4 176.9L907.5 179.7L908.6 182.5L909.5 185.3L910.2 188.2L910.9 191.2L911.6 194.1L912.2 197L912.9 199.9L913.6 202.9L914.3 205.8L915 208.7L915.6 211.6L916.3 214.5L917 217.5L917.7 220.4L918.4 223.3L919.1 226.2L919.8 229.1L920.6 232L921.3 235L922 237.9L922.7 240.8L923.4 243.7L924.1 246.6L924.8 249.5L925.5 252.4L926.2 255.4L926.9 258.3L927.5 261.2L928.2 264.1L928.9 267.1L929.6 270L930.3 272.9L931 275.8L931.6 278.7L932.3 281.7L932.9 284.6L933.5 287.6L934 290.5L934.6 293.4L935.1 296.4L935.7 299.3L936.3 302.3L936.8 305.2L937.4 308.2L938 311.1L938.5 314.1L939.1 317L939.6 320L940.2 322.9L940.8 325.9L941.3 328.8L941.9 331.8L942.4 334.7L943 337.6L943.6 340.6L944.2 343.5L944.8 346.5L945.4 349.4L946 352.4L946.6 355.3L947.1 358.2L947.7 361.2L948.4 364.1L949.7 366.7L951.5 369.2L953.2 371.6L955 374L957.1 376L959.7 377.5L962.3 378.9L965 380.3L967.7 381.7L970 382.8L970 382.8" stroke="#ff0000" stroke-width="6.3" stroke-linejoin="round" fill="none"/></g><rect x="82.5" y="37.5" width="888.0" height="405.0" stroke="#000" stroke-width="1.1" fill="none"/><path d="M82.5 442.5v4.9M193.5 442.5v4.9M304.5 442.5v4.9M415.5 442.5v4.9M526.5 442.5v4.9M637.5 442.5v4.9M748.5 442.5v4.9M859.5 442.5v4.9M970.5 442.5v4.9M82.5 76.5h-4.9M82.5 155.5h-4.9M82.5 234.5h-4.9M82.5 313.5h-4.9M82.5 392.5h-4.9" stroke="#000" stroke-width="1.1" fill="none"/></svg>
<div class="xt" style="left:41.5px">0.00</div><div class="xt" style="left:152.5px">0.25</div><div class="xt" style="left:263.5px">0.50</div><div class="xt" style="left:374.5px">0.75</div><div class="xt" style="left:485.5px">1.00</div><div class="xt" style="left:596.5px">1.25</div><div class="xt" style="left:707.5px">1.50</div><div class="xt" style="left:818.5px">1.75</div><div class="xt" style="left:929.5px">2.00</div><div class="yt" style="top:66.2px"><span class="mn">−</span>0.2</div><div class="yt" style="top:145.2px"><span class="mn">−</span>0.1</div><div class="yt" style="top:224.2px">0.0</div><div class="yt" style="top:303.2px">0.1</div><div class="yt" style="top:382.2px">0.2</div>
<div class="title">Light curve of ASCC 1806114</div>
<div class="xl">Phase</div>
<div class="yl">Δ Magnitude</div>
</body></html>
